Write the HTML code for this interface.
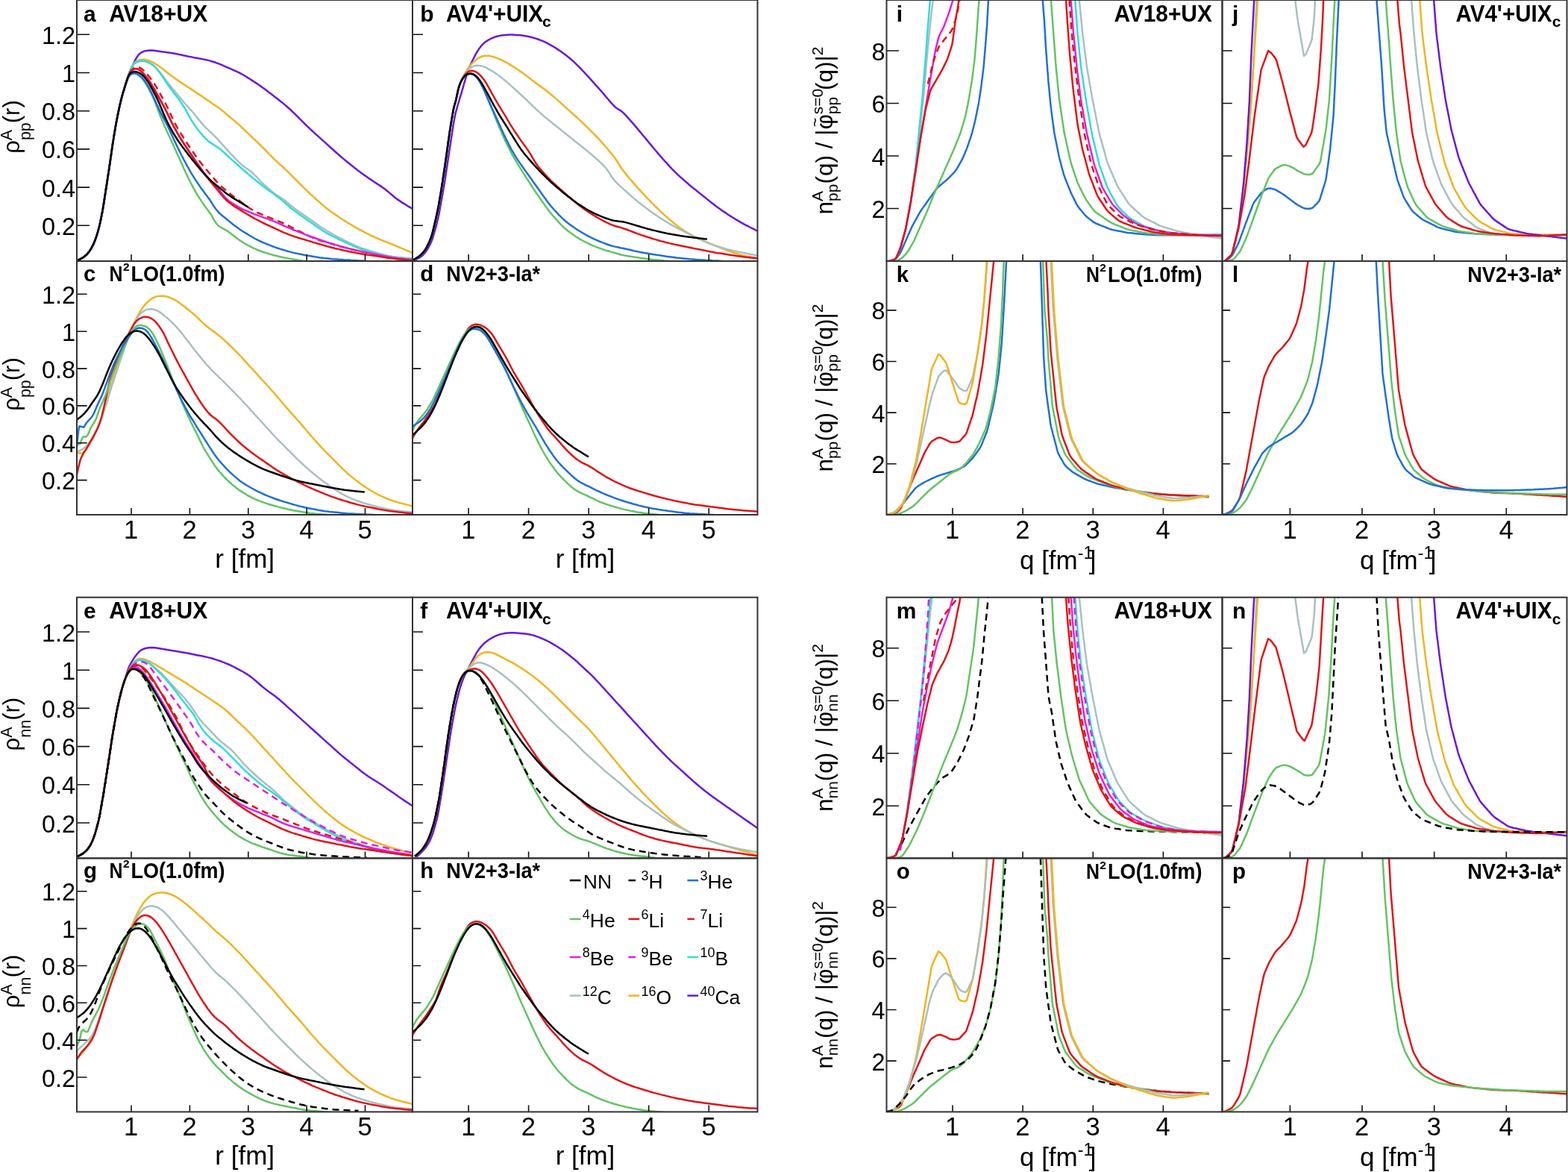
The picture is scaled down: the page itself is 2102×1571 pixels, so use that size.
<!DOCTYPE html>
<html><head><meta charset="utf-8"><style>
html,body{margin:0;padding:0;background:#fff;}
svg{display:block;}
</style></head><body>
<svg xmlns="http://www.w3.org/2000/svg" width="2102" height="1571" viewBox="0 0 2102 1571">
<rect width="2102" height="1571" fill="#fff"/>
<clipPath id="cpa"><rect x="103.0" y="0.0" width="450.0" height="350.0"/></clipPath>
<clipPath id="cpb"><rect x="553.0" y="0.0" width="462.5" height="350.0"/></clipPath>
<clipPath id="cpc"><rect x="103.0" y="350.0" width="450.0" height="340.0"/></clipPath>
<clipPath id="cpd"><rect x="553.0" y="350.0" width="462.5" height="340.0"/></clipPath>
<clipPath id="cpi"><rect x="1188.5" y="0.0" width="450.0" height="350.0"/></clipPath>
<clipPath id="cpj"><rect x="1638.5" y="0.0" width="462.0" height="350.0"/></clipPath>
<clipPath id="cpk"><rect x="1188.5" y="350.0" width="450.0" height="340.0"/></clipPath>
<clipPath id="cpl"><rect x="1638.5" y="350.0" width="462.0" height="340.0"/></clipPath>
<clipPath id="cpe"><rect x="103.0" y="800.7" width="450.0" height="349.70000000000005"/></clipPath>
<clipPath id="cpf"><rect x="553.0" y="800.7" width="462.5" height="349.70000000000005"/></clipPath>
<clipPath id="cpg"><rect x="103.0" y="1150.4" width="450.0" height="340.0"/></clipPath>
<clipPath id="cph"><rect x="553.0" y="1150.4" width="462.5" height="340.0"/></clipPath>
<clipPath id="cpm"><rect x="1188.5" y="800.7" width="450.0" height="349.70000000000005"/></clipPath>
<clipPath id="cpn"><rect x="1638.5" y="800.7" width="462.0" height="349.70000000000005"/></clipPath>
<clipPath id="cpo"><rect x="1188.5" y="1150.4" width="450.0" height="340.0"/></clipPath>
<clipPath id="cpp"><rect x="1638.5" y="1150.4" width="462.0" height="340.0"/></clipPath>
<g clip-path="url(#cpa)" fill="none" stroke-width="2.5" stroke-linejoin="round" stroke-linecap="butt">
<polyline points="101.1,350 105.3,348.3 109.3,346.4 113,344.1 116.3,341.2 119.2,337.8 121.6,334.1 123.8,330.2 125.7,326.1 127.5,322 128.5,319.1 129.4,316.3 130.3,313.4 131.2,310.6 132,307.7 132.8,304.8 133.5,301.8 134.2,298.9 134.8,296 135.4,293 136,290.1 136.6,287.1 137.1,284.2 137.7,281.2 138.2,278.3 138.7,275.3 139.1,272.3 139.6,269.3 140.1,266.4 140.5,263.4 141,260.4 141.4,257.5 141.9,254.5 142.4,251.5 142.8,248.5 143.3,245.6 143.7,242.6 144.2,239.6 144.6,236.7 145.1,233.7 145.6,230.7 146,227.7 146.5,224.8 146.9,221.8 147.3,218.8 147.8,215.8 148.2,212.9 148.6,209.9 149,206.9 149.5,203.9 149.9,201 150.3,198 150.8,195 151.2,192 151.7,189.1 152.2,186.1 152.7,183.1 153.1,180.2 153.6,177.2 154.1,174.2 154.6,171.3 155.2,168.3 155.7,165.3 156.2,162.4 156.8,159.4 157.4,156.5 158,153.5 158.6,150.6 159.2,147.6 159.8,144.7 160.4,141.8 161.1,138.8 161.8,135.9 162.6,133 163.3,130.1 164.1,127.2 164.9,124.3 165.8,121.4 166.7,118.6 167.7,115.7 168.6,112.9 169.6,110 170.6,107.2 171.6,104.3 172.6,101.5 173.6,98.7 174.7,95.9 175.8,93.1 176.9,90.3 178.1,87.5 179.3,84.8 181.2,80.7 183.4,76.8 185.9,73.3 189,70.6 192.7,68.8 196.9,67.9 201.3,67.6 205.8,67.7 210.2,68.2 214.7,68.9 219.1,69.6 223.6,70.2 228,70.7 232.5,71.4 236.9,72.2 239.8,72.9 242.8,73.5 245.7,74.2 248.6,74.8 251.6,75.5 254.5,76.1 257.5,76.6 260.4,77.2 263.4,77.7 266.3,78.3 269.3,78.8 272.2,79.4 275.2,80 278.1,80.6 281,81.4 283.9,82.2 288.2,83.5 292.4,85.1 295.2,86.2 298,87.4 300.7,88.6 303.5,89.8 306.2,91 309,92.2 311.7,93.4 314.5,94.6 317.2,95.9 319.9,97.2 322.6,98.5 325.2,100 327.8,101.5 330.4,103 332.9,104.6 335.5,106.2 338,107.9 340.5,109.5 343,111.1 345.5,112.8 348,114.5 350.4,116.2 352.9,118 355.3,119.8 357.7,121.6 360.1,123.4 362.5,125.2 364.9,127 367.2,128.9 369.6,130.7 372,132.6 374.3,134.4 376.7,136.3 379.1,138.1 381.4,140.1 383.7,142 385.9,144 388.2,146 390.4,148 392.5,150.1 394.7,152.2 396.9,154.3 399,156.4 401.1,158.5 403.2,160.7 405.4,162.8 407.5,164.9 409.6,167 411.8,169.1 414,171.2 416.1,173.3 418.4,175.3 420.6,177.3 422.8,179.4 425,181.4 427.3,183.4 429.5,185.4 431.7,187.4 434,189.4 436.2,191.4 438.4,193.4 440.7,195.5 442.9,197.5 445.2,199.5 447.4,201.5 449.6,203.5 451.9,205.5 454.1,207.5 456.4,209.5 458.7,211.4 461,213.4 463.3,215.3 465.6,217.2 468,219.1 470.3,220.9 472.7,222.8 475,224.7 477.4,226.5 479.8,228.4 482.2,230.2 484.6,231.9 487,233.7 489.5,235.4 492,237.2 494.4,238.9 496.9,240.6 499.4,242.3 501.9,244 504.4,245.6 506.9,247.2 509.4,248.9 513.1,251.4 516.7,254.1 520.2,256.9 522.5,258.9 524.8,260.8 527.1,262.8 529.4,264.7 533,267.4 536.7,269.9 539.2,271.6 541.8,273.1 544.3,274.7 546.9,276.3 549.5,277.8 552,279.4 554.6,281" stroke="#6a18dc"/>
<polyline points="101.1,350 105.3,348.3 109.3,346.4 113,344 116.3,341.2 119.2,337.8 121.7,334.1 123.8,330.2 125.8,326.1 126.9,323.3 128,320.5 129,317.7 129.9,314.8 130.8,312 131.6,309.1 132.4,306.2 133.1,303.2 133.8,300.3 134.5,297.4 135.1,294.4 135.7,291.5 136.3,288.5 136.9,285.6 137.4,282.6 137.9,279.7 138.4,276.7 138.9,273.7 139.4,270.7 139.9,267.8 140.3,264.8 140.8,261.8 141.2,258.8 141.7,255.9 142.1,252.9 142.6,249.9 143.1,246.9 143.5,244 144,241 144.4,238 144.9,235 145.3,232.1 145.8,229.1 146.3,226.1 146.7,223.1 147.1,220.2 147.6,217.2 148,214.2 148.4,211.2 148.9,208.3 149.3,205.3 149.7,202.3 150.1,199.3 150.6,196.3 151,193.4 151.5,190.4 152,187.4 152.4,184.4 152.9,181.5 153.4,178.5 153.9,175.5 154.4,172.6 154.9,169.6 155.4,166.6 156,163.7 156.5,160.7 157.1,157.8 157.7,154.8 158.3,151.9 158.9,148.9 159.5,146 160.2,143 160.8,140.1 161.5,137.2 162.2,134.2 163,131.3 163.8,128.4 164.6,125.5 165.4,122.6 166.3,119.8 167.2,116.9 168,114 168.9,111.1 169.7,108.2 170.6,105.4 171.5,102.5 172.4,99.6 173.4,96.8 175.1,92.6 177,88.6 179.4,85.1 182.5,82.2 186.2,80.4 190.3,79.7 194.6,80 198.9,81 203,82.6 207,84.7 210.8,87.1 214.5,89.7 216.9,91.5 219.3,93.3 221.6,95.2 224,97 226.4,98.9 228.8,100.7 231.2,102.5 233.6,104.3 236,106.1 238.5,107.8 241,109.6 243.4,111.2 246,112.9 248.5,114.5 251,116.2 253.6,117.8 256.1,119.4 258.6,121 261.1,122.7 263.6,124.4 266.1,126.1 268.6,127.8 271.1,129.5 273.5,131.2 276,132.9 278.5,134.6 281,136.3 283.5,138 286,139.7 288.5,141.4 290.9,143.1 293.4,144.8 295.8,146.6 298.2,148.4 300.5,150.3 302.8,152.3 305,154.3 307.3,156.2 309.6,158.2 311.9,160.1 314.2,162 316.5,164 318.8,165.9 321.1,167.9 323.3,170 325.5,172 327.7,174.1 329.8,176.2 332,178.3 334.2,180.4 336.3,182.4 338.5,184.5 340.7,186.5 342.9,188.6 345.1,190.7 347.3,192.8 349.4,194.9 351.5,197 353.7,199.1 355.8,201.3 357.9,203.4 360,205.6 362.1,207.7 364.2,209.9 366.3,212.1 368.4,214.2 370.6,216.2 372.8,218.2 375.1,220.2 377.3,222.2 379.6,224.2 381.8,226.3 384,228.3 386.1,230.4 388.3,232.6 390.4,234.7 392.5,236.8 394.6,238.9 396.8,241.1 398.9,243.2 401,245.3 403.2,247.5 405.3,249.6 407.4,251.7 409.6,253.8 411.7,255.9 413.9,258 416.1,260.1 418.3,262.1 420.5,264.1 422.7,266.2 425,268.2 427.2,270.2 429.4,272.2 431.7,274.2 434,276.1 436.3,278 438.7,279.9 441.1,281.7 443.5,283.4 446,285.2 448.5,286.9 450.9,288.6 453.4,290.3 455.9,292 458.4,293.7 460.9,295.3 463.5,296.9 466.1,298.5 468.6,300 471.2,301.6 473.8,303.1 476.4,304.6 479,306.1 481.6,307.6 484.3,309 487,310.4 489.6,311.8 492.3,313.1 495,314.4 497.7,315.8 500.4,317.1 503.2,318.3 505.9,319.5 508.7,320.7 511.5,321.8 514.3,323 517.1,324.1 519.9,325.2 522.6,326.3 525.4,327.5 528.2,328.6 531,329.8 533.8,330.9 536.6,332.1 539.3,333.2 542.1,334.4 544.9,335.6 547.7,336.7 550.4,337.9 553.2,339 554.6,339.6" stroke="#f0b41e"/>
<polyline points="101.1,350 105.3,348.3 109.3,346.4 113,344 116.3,341.2 119.2,337.8 121.6,334.1 123.8,330.2 125.7,326.1 127.5,321.9 128.5,319.1 129.5,316.3 130.4,313.4 131.2,310.5 132,307.6 132.8,304.7 133.5,301.8 134.2,298.9 134.8,295.9 135.4,293 136,290 136.6,287.1 137.1,284.1 137.7,281.2 138.2,278.2 138.7,275.2 139.2,272.3 139.6,269.3 140.1,266.3 140.5,263.3 141,260.4 141.5,257.4 141.9,254.4 142.4,251.5 142.8,248.5 143.3,245.5 143.7,242.5 144.2,239.6 144.7,236.6 145.1,233.6 145.6,230.6 146,227.7 146.5,224.7 146.9,221.7 147.3,218.7 147.8,215.8 148.2,212.8 148.6,209.8 149.1,206.8 149.5,203.8 149.9,200.9 150.3,197.9 150.8,194.9 151.2,191.9 151.7,189 152.2,186 152.7,183 153.2,180.1 153.7,177.1 154.2,174.1 154.7,171.2 155.2,168.2 155.7,165.2 156.2,162.3 156.8,159.3 157.4,156.4 158,153.4 158.6,150.5 159.2,147.5 159.8,144.6 160.5,141.6 161.2,138.7 161.9,135.8 162.6,132.9 163.3,130 164.1,127.1 165,124.2 165.8,121.3 166.7,118.4 167.6,115.5 168.4,112.7 169.2,109.8 170.1,106.9 171,104 171.9,101.2 172.9,98.3 174.5,94.1 176.3,90.1 178.7,86.6 181.9,83.9 185.6,82.2 189.8,81.6 194,82 198.2,83.3 202.2,85.3 205.8,87.8 209.1,90.8 212.1,94.1 215,97.5 216.8,99.9 218.6,102.3 220.4,104.7 222.2,107.2 224,109.6 225.8,112 227.7,114.3 229.6,116.7 231.5,119 233.4,121.3 235.3,123.6 237.2,125.9 239.2,128.2 241.1,130.5 243,132.9 245,135.2 246.9,137.5 248.8,139.7 250.8,142 252.8,144.2 254.8,146.5 256.8,148.7 258.8,151 260.7,153.3 262.6,155.6 264.5,158 266.4,160.3 268.3,162.6 270.2,164.9 272.2,167.2 274.2,169.4 276.3,171.6 278.5,173.7 280.6,175.8 282.9,177.8 285.1,179.8 287.2,181.9 289.4,184 291.4,186.2 293.4,188.4 295.4,190.7 297.4,193 299.4,195.2 301.4,197.4 303.4,199.7 305.5,201.9 307.5,204.1 309.6,206.3 311.7,208.4 313.7,210.6 315.8,212.8 317.9,215 321.1,218.2 324.3,221.2 327.5,223.8 330.8,225.9 334.1,228 337.2,230.5 340.3,233.5 343.4,236.7 345.4,238.9 347.5,241.1 349.6,243.3 351.7,245.4 353.9,247.5 356.1,249.5 358.3,251.5 360.6,253.5 362.8,255.5 366.3,258.3 370,260.9 373.8,263.3 377.6,265.7 381.2,268.3 384.7,271.1 387,273 389.3,274.9 391.7,276.8 394,278.7 396.4,280.5 398.9,282.2 401.3,284 403.8,285.7 406.3,287.4 408.7,289.2 411.2,290.9 413.7,292.6 416.1,294.3 418.6,296.1 421,297.8 423.5,299.5 426,301.2 428.4,303 430.9,304.7 433.4,306.3 436,308 438.5,309.5 441.1,311.1 443.7,312.5 446.3,314 449,315.5 451.6,316.9 454.3,318.3 456.9,319.7 459.6,321.1 462.3,322.5 465,323.8 467.7,325.1 470.4,326.4 473.1,327.7 475.8,329 478.6,330.2 481.4,331.3 484.2,332.4 487,333.4 489.9,334.3 492.7,335.2 495.6,336.1 498.5,337 501.3,337.9 504.2,338.7 507.1,339.5 510,340.3 513,341 515.9,341.8 518.8,342.4 521.7,343.1 526.2,343.9 530.6,344.5 533.6,344.8 536.6,345 539.6,345.2 542.6,345.5 545.6,345.7 548.6,345.9 551.6,346.2 554.6,346.4" stroke="#a8c0c0"/>
<polyline points="101.1,350 105.3,348.3 109.3,346.4 113,344.1 116.3,341.2 119.2,337.8 121.6,334.1 123.8,330.2 125.7,326.1 127.4,322 128.5,319.2 129.4,316.3 130.3,313.5 131.2,310.6 132,307.7 132.8,304.8 133.5,301.9 134.1,298.9 134.8,296 135.4,293 136,290.1 136.6,287.1 137.1,284.2 137.7,281.2 138.2,278.3 138.7,275.3 139.1,272.3 139.6,269.4 140.1,266.4 140.5,263.4 141,260.5 141.4,257.5 141.9,254.5 142.4,251.5 142.8,248.6 143.3,245.6 143.7,242.6 144.2,239.7 144.6,236.7 145.1,233.7 145.5,230.7 146,227.8 146.5,224.8 146.9,221.8 147.3,218.9 147.8,215.9 148.2,212.9 148.6,209.9 149,207 149.5,204 149.9,201 150.3,198 150.8,195.1 151.2,192.1 151.7,189.1 152.2,186.1 152.6,183.2 153.1,180.2 153.6,177.2 154.1,174.3 154.6,171.3 155.1,168.4 155.7,165.4 156.2,162.4 156.8,159.5 157.4,156.5 157.9,153.6 158.5,150.6 159.2,147.7 159.8,144.8 160.4,141.8 161.1,138.9 161.8,136 162.5,133.1 163.3,130.2 164.1,127.3 164.9,124.4 165.8,121.5 166.6,118.6 167.5,115.7 168.4,112.9 169.2,110 170,107.1 170.9,104.2 171.8,101.4 173.3,97.1 175,93 176.9,89.1 179.5,85.8 182.9,83.3 186.8,81.9 191,81.6 195.2,82.3 199.3,83.8 203.2,85.9 206.6,88.6 209.8,91.8 212.6,95.2 215.3,98.9 217,101.3 218.7,103.8 220.3,106.3 221.9,108.9 223.6,111.4 225.2,113.9 227,116.3 228.7,118.7 230.6,121.1 232.4,123.5 234.2,125.9 236,128.3 237.9,130.7 239.7,133.1 241.4,135.5 243.2,138 244.8,140.5 246.4,143 248,145.6 249.4,148.2 250.9,150.9 252.3,153.5 253.7,156.1 255.9,160 257.5,162.6 259.2,165.1 260.8,167.6 262.6,170.1 264.3,172.5 266.2,174.8 268.1,177.2 270,179.5 271.9,181.8 275,185.1 278.2,188.2 281.7,190.9 285.4,193.4 289.2,195.7 292.9,198.2 296.4,200.9 299.7,203.9 303,207 305.2,209 307.4,211.1 309.7,213.1 311.9,215.1 314.2,217 316.4,219 318.7,221 320.9,223 323.2,225 325.4,227 327.7,229 330,231 332.2,232.9 334.5,234.9 336.8,236.8 339.1,238.7 341.5,240.6 343.8,242.5 346.1,244.4 348.5,246.3 350.9,248.1 353.3,249.9 355.7,251.7 358.1,253.5 360.5,255.3 363,257.1 365.4,258.8 367.8,260.6 370.2,262.4 372.6,264.2 375,266 377.3,267.9 379.6,269.8 381.9,271.8 384.2,273.8 386.4,275.8 388.7,277.7 391,279.7 393.4,281.5 395.8,283.3 398.2,285.1 400.6,286.8 403.1,288.6 405.6,290.3 408,292 410.5,293.7 412.9,295.5 415.4,297.2 417.9,298.9 420.3,300.6 422.8,302.4 425.3,304.1 427.7,305.8 430.2,307.5 432.7,309.2 436.5,311.5 440.4,313.8 443.1,315.2 445.7,316.5 448.4,317.9 451.1,319.2 453.8,320.6 456.5,321.9 459.2,323.2 462,324.4 464.7,325.7 467.4,326.9 470.2,328.2 472.9,329.4 475.7,330.6 478.4,331.7 482.6,333.3 485.5,334.3 488.3,335.2 491.2,336.1 494.1,337 497,337.8 499.9,338.6 502.8,339.4 505.7,340.2 508.6,340.9 511.5,341.6 514.4,342.3 517.4,342.9 520.3,343.6 523.3,344.1 527.7,344.8 530.7,345.2 533.7,345.6 536.7,345.8 539.6,346.1 542.6,346.4 545.6,346.7 548.6,346.9 551.6,347.2 554.6,347.5" stroke="#30dcdc"/>
<polyline points="101.1,350 105.3,348.3 109.3,346.4 113,344 116.3,341.2 119.2,337.8 121.7,334.1 123.8,330.2 125.8,326.1 126.9,323.3 128,320.5 129,317.7 129.9,314.8 130.8,312 131.6,309.1 132.4,306.2 133.1,303.2 133.8,300.3 134.5,297.4 135.1,294.4 135.7,291.5 136.3,288.5 136.9,285.6 137.4,282.6 137.9,279.7 138.4,276.7 138.9,273.7 139.4,270.8 139.9,267.8 140.3,264.8 140.8,261.8 141.2,258.9 141.7,255.9 142.1,252.9 142.6,249.9 143.1,247 143.5,244 144,241 144.4,238 144.9,235.1 145.3,232.1 145.8,229.1 146.3,226.1 146.7,223.2 147.1,220.2 147.6,217.2 148,214.2 148.4,211.2 148.9,208.3 149.3,205.3 149.7,202.3 150.1,199.3 150.6,196.4 151,193.4 151.5,190.4 151.9,187.4 152.4,184.5 152.9,181.5 153.4,178.5 153.9,175.6 154.4,172.6 154.9,169.6 155.4,166.7 156,163.7 156.5,160.7 157.1,157.8 157.7,154.8 158.3,151.9 158.9,148.9 159.5,146 160.2,143.1 160.8,140.1 161.5,137.2 162.2,134.3 163,131.4 163.8,128.4 164.6,125.5 165.4,122.7 166.3,119.8 167.2,116.9 168.1,114.1 169,111.2 169.9,108.3 170.8,105.5 172.3,101.2 174.1,97.2 176.5,93.8 179.6,91.2 183.1,90 186.8,90.4 190.2,92.3 193.3,95.2 196.3,98.5 198.3,100.7 200.2,103.1 202,105.4 203.8,107.9 205.6,110.3 207.2,112.8 208.8,115.4 210.3,117.9 211.8,120.6 213.3,123.2 214.8,125.8 216.2,128.4 217.7,131.1 219.1,133.7 220.6,136.4 222,139 223.3,141.7 224.6,144.4 226,147.1 227.2,149.8 228.5,152.6 229.8,155.3 231,158 232.3,160.8 233.6,163.5 235,166.1 236.4,168.8 237.9,171.4 239.5,174 241,176.5 242.6,179.1 244.2,181.6 245.8,184.2 247.4,186.7 249,189.3 250.7,191.8 252.3,194.3 254,196.8 255.7,199.3 257.4,201.8 259.1,204.3 260.8,206.7 262.5,209.2 264.3,211.6 266.1,214 267.9,216.4 269.7,218.8 271.6,221.2 273.5,223.5 275.4,225.9 277.3,228.2 279.3,230.4 281.3,232.7 283.2,235 285.1,237.3 287.1,239.6 289,241.9 291,244.1 293.1,246.3 295.2,248.4 297.4,250.5 299.7,252.5 302,254.4 304.3,256.3 306.6,258.2 308.9,260.1 311.3,262 313.7,263.8 316.1,265.6 318.6,267.3 321,269.1 323.4,271 325.8,272.8 328.2,274.6 330.6,276.3 333.1,278 335.6,279.7 339.4,282 343.4,284.2 347.5,286 350.2,287.2 353,288.3 355.8,289.5 358.6,290.6 361.4,291.7 364.2,292.8 367,293.9 369.8,295 372.6,296.1 375.4,297.3 378.1,298.5 380.8,299.8 383.5,301.1 386.3,302.4 389,303.8 391.6,305.1 394.3,306.4 397,307.8 399.7,309.1 402.4,310.5 405.1,311.8 407.8,313.2 410.5,314.5 413.2,315.9 415.9,317.2 418.6,318.4 422.8,320.2 427,321.7 429.8,322.6 432.7,323.5 435.6,324.3 438.5,325.1 441.4,325.9 444.3,326.8 447.2,327.7 450,328.5 452.9,329.4 455.8,330.3 458.7,331.1 461.6,331.9 464.5,332.6 467.4,333.3 470.4,334 473.3,334.7 476.2,335.4 479.2,336 482.1,336.7 485,337.4 488,338.1 490.9,338.9 493.8,339.6 496.7,340.3 499.6,341 502.6,341.7 505.5,342.3 508.5,343 511.4,343.6 514.3,344.2 517.3,344.7 520.3,345.3 523.2,345.8 526.2,346.3 529.2,346.7 532.2,347 535.1,347.3 538.1,347.6 541.1,347.9 544.1,348.2 547.1,348.5 550.1,348.8 553.1,349.1 554.6,349.3" stroke="#e01418" stroke-dasharray="9,6"/>
<polyline points="101.1,350 105.3,348.3 109.3,346.4 113,344 116.3,341.2 119.2,337.8 121.7,334.1 123.8,330.2 125.8,326.1 126.9,323.3 128,320.5 129,317.7 129.9,314.8 130.8,311.9 131.6,309.1 132.4,306.2 133.1,303.2 133.8,300.3 134.5,297.4 135.1,294.4 135.7,291.5 136.3,288.5 136.9,285.6 137.4,282.6 137.9,279.6 138.4,276.7 138.9,273.7 139.4,270.7 139.9,267.8 140.3,264.8 140.8,261.8 141.2,258.8 141.7,255.9 142.1,252.9 142.6,249.9 143.1,246.9 143.5,244 144,241 144.4,238 144.9,235 145.3,232.1 145.8,229.1 146.3,226.1 146.7,223.1 147.1,220.2 147.6,217.2 148,214.2 148.4,211.2 148.9,208.2 149.3,205.3 149.7,202.3 150.1,199.3 150.6,196.3 151,193.3 151.5,190.4 152,187.4 152.4,184.4 152.9,181.5 153.4,178.5 153.9,175.5 154.4,172.6 154.9,169.6 155.4,166.6 156,163.7 156.5,160.7 157.1,157.8 157.7,154.8 158.3,151.8 158.9,148.9 159.5,146 160.2,143 160.8,140.1 161.5,137.2 162.3,134.2 163,131.3 163.8,128.4 164.6,125.5 165.4,122.6 166.3,119.8 167.2,116.9 168.1,114 169.1,111.1 170,108.3 170.9,105.4 172.4,101.2 174.2,97.3 176.7,94.1 179.9,92.2 183.5,91.9 186.9,93.3 190.1,96 193.1,99.2 196,102.7 197.8,105 199.5,107.5 201.2,110 202.8,112.5 204.4,115.1 205.9,117.7 207.5,120.2 209,122.9 210.5,125.5 211.9,128.1 213.4,130.7 214.8,133.4 216.3,136 217.7,138.7 219.1,141.3 220.5,144 221.8,146.7 223.2,149.4 224.5,152.1 225.7,154.8 227,157.5 228.3,160.3 229.6,163 231,165.6 232.4,168.3 233.8,170.9 235.3,173.6 236.8,176.2 238.3,178.8 239.8,181.4 241.3,184 242.9,186.5 244.6,189.1 246.2,191.6 247.9,194.1 249.5,196.6 251.2,199.1 252.9,201.6 254.5,204.1 256.2,206.6 257.9,209.1 259.6,211.6 261.2,214.1 262.9,216.6 264.6,219.1 266.4,221.6 268.1,224 269.9,226.5 271.6,228.9 273.4,231.3 275.2,233.7 277.1,236.1 279,238.4 281,240.7 283,242.9 285,245.1 287.1,247.3 289.2,249.4 292.2,252.7 295.1,256.2 297.8,259.8 300.6,263.3 303.7,266.5 307,269.4 310.7,272 313.2,273.6 315.8,275.2 318.4,276.7 321,278.2 323.7,279.6 326.4,280.9 329.1,282.1 331.9,283.3 334.6,284.4 337.4,285.6 340.2,286.7 343,287.8 345.8,288.9 348.7,289.9 351.5,290.9 354.3,291.9 357.2,292.9 360,293.9 362.8,295 365.6,296.1 368.4,297.2 371.2,298.4 373.9,299.6 376.6,300.9 379.4,302.2 382.1,303.4 384.9,304.6 387.6,305.7 390.4,306.9 393.2,308 396,309.1 398.8,310.2 401.6,311.3 404.4,312.4 407.2,313.6 410,314.7 412.8,315.7 415.6,316.8 418.5,317.8 421.3,318.8 424.1,319.8 427,320.8 429.8,321.8 432.7,322.8 435.5,323.7 438.4,324.7 441.3,325.6 444.1,326.4 447,327.3 449.9,328.2 452.8,329 455.7,329.9 458.6,330.7 461.5,331.5 464.4,332.2 467.3,333 470.2,333.7 473.2,334.4 476.1,335.1 479,335.8 481.9,336.5 484.9,337.1 487.8,337.7 490.8,338.3 493.7,338.9 496.7,339.5 499.6,340.1 502.6,340.7 505.5,341.3 508.5,341.9 511.4,342.5 514.4,343.1 517.3,343.6 520.3,344.2 523.3,344.7 526.2,345.2 529.2,345.6 532.2,346 535.2,346.4 538.2,346.7 541.2,347.1 544.1,347.4 547.1,347.7 550.1,348.1 553.1,348.4 554.6,348.6" stroke="#e11fe0"/>
<polyline points="101.1,350 105.3,348.3 109.3,346.4 113,344 116.3,341.2 119.2,337.8 121.7,334.1 123.8,330.1 125.8,326.1 126.9,323.3 128,320.5 129,317.7 129.9,314.8 130.8,311.9 131.6,309 132.4,306.1 133.2,303.2 133.8,300.3 134.5,297.3 135.1,294.4 135.7,291.4 136.3,288.5 136.9,285.5 137.4,282.6 137.9,279.6 138.5,276.6 138.9,273.7 139.4,270.7 139.9,267.7 140.3,264.7 140.8,261.8 141.2,258.8 141.7,255.8 142.2,252.8 142.6,249.9 143.1,246.9 143.5,243.9 144,240.9 144.4,237.9 144.9,235 145.4,232 145.8,229 146.3,226 146.7,223.1 147.1,220.1 147.6,217.1 148,214.1 148.4,211.1 148.9,208.2 149.3,205.2 149.7,202.2 150.2,199.2 150.6,196.2 151,193.3 151.5,190.3 152,187.3 152.5,184.3 152.9,181.4 153.4,178.4 153.9,175.4 154.4,172.5 154.9,169.5 155.5,166.5 156,163.6 156.6,160.6 157.1,157.6 157.7,154.7 158.3,151.7 158.9,148.8 159.5,145.8 160.2,142.9 160.9,140 161.6,137 162.3,134.1 163,131.2 163.8,128.3 164.6,125.4 165.5,122.5 166.3,119.6 167.3,116.8 168.2,113.9 169.1,111 170,108.2 170.9,105.3 172.4,101.1 174.3,97.2 176.8,94.1 180.1,92.3 183.6,92.2 187,93.8 190.1,96.5 193.1,99.9 195.9,103.4 197.7,105.8 199.4,108.2 201.1,110.7 202.7,113.3 204.3,115.8 205.8,118.4 207.4,121 208.9,123.6 210.4,126.2 211.8,128.8 213.3,131.5 214.8,134.1 216.2,136.7 217.7,139.4 219.1,142 220.6,144.7 222,147.3 223.3,150 224.7,152.7 226,155.4 227.3,158.1 228.6,160.8 229.9,163.6 231.2,166.2 232.6,168.9 234,171.6 235.4,174.2 236.9,176.9 238.3,179.5 239.8,182.1 241.3,184.7 242.9,187.3 244.5,189.8 246.2,192.4 247.8,194.9 249.5,197.4 251.2,199.9 252.8,202.4 254.5,204.9 256.2,207.4 257.8,209.9 259.5,212.4 261.2,214.9 262.9,217.4 264.6,219.9 266.3,222.4 268,224.8 269.8,227.3 271.6,229.7 273.3,232.1 275.1,234.6 277,236.9 278.9,239.3 280.8,241.6 282.7,243.9 284.6,246.3 286.5,248.6 288.5,250.9 290.4,253.2 292.3,255.5 294.2,257.8 296.1,260.2 298,262.5 301,265.8 304.2,269 307.7,271.8 310.1,273.6 312.5,275.4 315,277.1 317.6,278.7 320.1,280.3 322.7,281.9 325.2,283.4 327.8,285 330.4,286.5 333,288.1 335.6,289.6 338.2,291.1 340.8,292.6 343.4,294 346.1,295.4 348.8,296.8 351.5,298.2 354.2,299.5 356.9,300.8 359.6,302 362.4,303.3 365.1,304.5 367.9,305.8 370.6,307.1 373.3,308.4 376,309.6 378.7,310.9 381.5,312.1 384.3,313.2 387.1,314.4 389.9,315.4 392.7,316.4 395.6,317.4 398.4,318.3 401.3,319.2 404.2,320 407.1,320.9 410,321.8 412.9,322.6 415.7,323.5 418.6,324.4 421.5,325.2 424.4,326.1 427.3,327 430.2,327.8 433.1,328.6 436,329.5 438.9,330.3 441.8,331 444.7,331.8 447.6,332.5 450.5,333.2 453.5,333.9 456.4,334.6 459.3,335.3 462.3,335.9 465.2,336.6 468.2,337.2 471.1,337.7 474.1,338.3 477,338.9 480,339.4 483,339.9 485.9,340.4 488.9,340.9 491.9,341.4 494.9,341.8 497.8,342.3 500.8,342.7 503.8,343.1 506.8,343.6 509.8,344 512.7,344.5 515.7,344.9 518.7,345.4 521.7,345.8 524.7,346.2 527.6,346.5 530.6,346.9 533.6,347.2 536.6,347.5 539.6,347.8 542.6,348.1 545.6,348.4 548.6,348.7 551.6,349 554.6,349.3" stroke="#e01418"/>
<polyline points="101.1,350 105.3,348.3 109.3,346.4 113,344 116.3,341.2 119.2,337.8 121.6,334.1 123.8,330.2 125.8,326.1 126.9,323.3 128,320.5 129,317.7 129.9,314.8 130.8,312 131.6,309.1 132.4,306.2 133.1,303.2 133.8,300.3 134.5,297.4 135.1,294.4 135.7,291.5 136.3,288.5 136.9,285.6 137.4,282.6 137.9,279.7 138.4,276.7 138.9,273.7 139.4,270.8 139.9,267.8 140.3,264.8 140.8,261.8 141.2,258.9 141.7,255.9 142.1,252.9 142.6,249.9 143.1,247 143.5,244 144,241 144.4,238 144.9,235.1 145.3,232.1 145.8,229.1 146.2,226.1 146.7,223.2 147.1,220.2 147.6,217.2 148,214.2 148.4,211.3 148.9,208.3 149.3,205.3 149.7,202.3 150.1,199.3 150.6,196.4 151,193.4 151.5,190.4 151.9,187.4 152.4,184.5 152.9,181.5 153.4,178.5 153.9,175.6 154.4,172.6 154.9,169.6 155.4,166.7 156,163.7 156.5,160.7 157.1,157.8 157.7,154.8 158.3,151.9 158.9,148.9 159.5,146 160.2,143.1 160.8,140.1 161.5,137.2 162.2,134.3 163,131.4 163.8,128.5 164.6,125.6 165.4,122.7 166.3,119.8 167.2,116.9 168.1,114.1 169.1,111.2 170.6,107 172.3,103 174.6,99.8 177.5,98.1 181,98.1 184.5,99.7 187.9,102.4 190.8,105.6 193.5,109.2 195.9,113 197.5,115.6 198.9,118.2 200.4,120.9 201.7,123.5 203.1,126.2 204.4,128.9 205.6,131.7 206.8,134.4 208,137.2 209.1,140 210.1,142.8 211.1,145.6 212.2,148.5 213.3,151.3 214.3,154.1 215.5,156.9 216.6,159.6 217.8,162.4 219,165.2 220.2,167.9 221.4,170.7 222.7,173.4 223.9,176.2 225.2,178.9 226.4,181.6 227.7,184.4 228.9,187.1 230.2,189.9 231.4,192.6 232.6,195.3 233.9,198.1 235.1,200.8 236.4,203.5 237.6,206.3 238.9,209 240.1,211.8 241.4,214.5 242.6,217.2 243.9,220 245.1,222.7 246.3,225.5 247.6,228.2 248.8,230.9 250.1,233.7 251.4,236.4 252.7,239.1 254.1,241.8 255.4,244.5 256.8,247.1 258.2,249.8 259.6,252.5 261.1,255.1 262.5,257.7 264,260.3 265.6,262.9 267.2,265.4 268.9,267.9 270.5,270.4 272.2,272.9 274,275.4 275.7,277.8 277.6,280.2 280.2,283.8 282.8,287.5 285.1,291.4 287.2,295.3 289.6,299 292.3,302.3 295.7,304.7 299.4,306.7 303.2,308.7 306.9,311.1 310.4,313.8 314,316.6 316.4,318.4 318.8,320.2 321.2,321.9 323.7,323.6 326.3,325.2 328.8,326.8 331.4,328.3 334.1,329.7 336.7,331.1 339.4,332.4 342.2,333.7 344.9,334.8 347.7,336 350.5,337 353.4,338 356.3,338.9 359.1,339.8 362,340.6 364.9,341.5 367.8,342.3 370.7,343 373.6,343.8 376.6,344.4 379.5,345 382.4,345.6 385.4,346.2 388.4,346.8 391.3,347.3 394.3,347.8 397.3,348.3 400.2,348.8 403.2,349.2 406.2,349.7 409.1,350.1 412.1,350.6 413.6,350.8" stroke="#62c462"/>
<polyline points="101.1,350 105.3,348.3 109.3,346.4 113,344.1 116.3,341.2 119.2,337.8 121.6,334.1 123.8,330.2 125.7,326.1 127.4,322 128.5,319.2 129.4,316.3 130.3,313.4 131.2,310.6 132,307.7 132.8,304.8 133.5,301.8 134.2,298.9 134.8,296 135.4,293 136,290.1 136.6,287.1 137.1,284.2 137.7,281.2 138.2,278.3 138.7,275.3 139.1,272.3 139.6,269.4 140.1,266.4 140.5,263.4 141,260.4 141.4,257.5 141.9,254.5 142.4,251.5 142.8,248.6 143.3,245.6 143.7,242.6 144.2,239.6 144.6,236.7 145.1,233.7 145.6,230.7 146,227.8 146.5,224.8 146.9,221.8 147.3,218.8 147.8,215.9 148.2,212.9 148.6,209.9 149,206.9 149.5,204 149.9,201 150.3,198 150.8,195 151.2,192.1 151.7,189.1 152.2,186.1 152.6,183.2 153.1,180.2 153.6,177.2 154.1,174.3 154.6,171.3 155.1,168.3 155.7,165.4 156.2,162.4 156.8,159.5 157.4,156.5 158,153.6 158.5,150.6 159.2,147.7 159.8,144.7 160.4,141.8 161.1,138.9 161.8,135.9 162.6,133 163.3,130.1 164.1,127.2 164.9,124.3 165.8,121.5 166.7,118.6 167.6,115.7 168.5,112.9 170,108.6 171.6,104.6 173.7,101.1 176.5,98.9 180,98.4 183.8,99.4 187.4,101.5 190.6,104.4 193.4,107.8 195.9,111.5 198.3,115.3 200.5,119.2 201.8,121.9 203.2,124.6 204.5,127.3 205.8,130 207.1,132.7 208.3,135.5 209.5,138.2 210.7,141 212,143.7 213.2,146.4 214.5,149.1 215.8,151.8 217.2,154.5 218.6,157.2 220,159.8 221.4,162.5 222.8,165.1 224.2,167.8 225.5,170.5 226.8,173.2 228,176 229.3,178.7 230.5,181.4 231.8,184.2 233,186.9 234.3,189.6 235.6,192.3 236.9,195.1 238.2,197.7 239.5,200.4 240.9,203.1 242.2,205.8 243.6,208.5 245,211.2 246.3,213.8 247.8,216.5 249.2,219.1 250.6,221.8 252.1,224.4 253.6,227 255,229.7 256.5,232.3 258.1,234.8 259.7,237.4 261.3,239.9 262.9,242.4 264.6,244.9 266.3,247.4 268,249.9 269.7,252.3 271.5,254.8 273.3,257.2 275.1,259.6 276.9,262 278.7,264.4 280.5,266.8 282.2,269.3 284.6,273.1 287,276.9 289.6,280.5 292.5,284 295.6,287.1 299.1,290 302.6,292.8 304.9,294.7 307.2,296.6 309.6,298.5 311.9,300.4 314.3,302.2 316.7,304 319.1,305.8 321.6,307.5 324.1,309.2 326.6,310.8 329.1,312.4 331.7,313.9 334.3,315.5 336.9,317 339.5,318.5 342.1,320 344.8,321.4 347.5,322.7 350.2,324 352.9,325.2 355.7,326.4 358.5,327.5 361.3,328.6 364.1,329.7 366.9,330.7 369.7,331.8 372.6,332.7 375.4,333.6 378.3,334.5 381.2,335.4 384,336.3 386.9,337.1 389.8,337.9 392.7,338.6 395.7,339.3 398.6,339.9 401.5,340.5 404.5,341.1 407.4,341.7 410.4,342.3 413.4,342.8 416.3,343.3 419.3,343.8 422.3,344.3 425.2,344.7 428.2,345.2 431.2,345.6 434.2,346 437.1,346.3 440.1,346.6 443.1,346.9 446.1,347.2 449.1,347.4 452.1,347.6 455.1,347.9 458.1,348.1 461.1,348.3 464.1,348.4 467.1,348.6 470.1,348.8 473.1,348.9 476.1,349.1 479.1,349.2 482.1,349.4 485.1,349.6 488.1,349.8 491.1,350 494.1,350.2 497.1,350.4 500.1,350.6 503.1,350.9" stroke="#1f6fd8"/>
<polyline points="101.1,350 105.3,348.3 109.3,346.4 113,344 116.3,341.1 119.2,337.8 121.7,334 123.8,330.1 125.2,327.4 126.4,324.7 127.5,321.9 128.5,319 129.5,316.2 130.4,313.3 131.2,310.4 132,307.5 132.8,304.6 133.5,301.7 134.2,298.8 134.8,295.8 135.4,292.9 136,289.9 136.6,286.9 137.2,284 137.7,281 138.2,278 138.7,275.1 139.2,272.1 139.6,269.1 140.1,266.1 140.6,263.2 141,260.2 141.5,257.2 141.9,254.2 142.4,251.2 142.9,248.3 143.3,245.3 143.8,242.3 144.2,239.3 144.7,236.3 145.1,233.4 145.6,230.4 146.1,227.4 146.5,224.4 146.9,221.4 147.4,218.5 147.8,215.5 148.2,212.5 148.7,209.5 149.1,206.5 149.5,203.5 150,200.6 150.4,197.6 150.8,194.6 151.3,191.6 151.8,188.6 152.2,185.7 152.7,182.7 153.2,179.7 153.7,176.7 154.2,173.8 154.7,170.8 155.2,167.8 155.8,164.9 156.3,161.9 156.9,158.9 157.5,156 158.1,153 158.7,150.1 159.3,147.1 159.9,144.2 160.6,141.2 161.3,138.3 162,135.4 162.7,132.5 163.5,129.5 164.3,126.6 165.1,123.7 166,120.8 166.8,118 167.7,115.1 168.6,112.2 169.5,109.3 170.9,105.1 172.6,101.2 174.9,98 178.1,96.3 181.9,96.1 185.8,97.2 189.4,99.4 192.6,102.3 195.5,105.7 198.1,109.4 199.7,111.9 201.2,114.5 202.7,117.1 204.2,119.7 205.6,122.4 207,125.1 208.4,127.7 209.8,130.4 211.1,133.1 212.3,135.9 213.6,138.6 214.7,141.4 215.9,144.2 217,147 218.2,149.8 219.3,152.5 220.5,155.3 221.7,158.1 223,160.8 224.3,163.5 225.6,166.2 227,168.9 228.5,171.5 229.9,174.2 231.4,176.8 232.9,179.4 234.5,182 236.1,184.5 237.7,187 239.4,189.5 241.2,192 242.9,194.4 244.7,196.9 246.5,199.3 248.3,201.7 250.1,204.1 251.9,206.5 253.8,208.9 255.6,211.3 257.5,213.7 259.4,216 261.3,218.3 263.2,220.7 265.1,223 267.1,225.3 269,227.6 271,229.8 273,232.1 275.1,234.3 277.1,236.5 279.2,238.7 281.4,240.8 283.6,242.8 285.8,244.8 288.1,246.7 290.4,248.7 292.8,250.6 295.1,252.5 297.4,254.4 299.8,256.3 302.1,258.2 304.5,260 307,261.7 309.5,263.4 312,265.1 314.5,266.7 317.1,268.2 319.7,269.8 322.3,271.3 324.9,272.9 327.4,274.4 330,276 332.6,277.5" stroke="#000000"/>
</g>
<g clip-path="url(#cpb)" fill="none" stroke-width="2.5" stroke-linejoin="round" stroke-linecap="butt">
<polyline points="553,349.5 557.2,348 561.2,346.2 564.8,343.8 568,340.8 570.8,337.4 573.3,333.6 575.5,329.7 577.5,325.7 579.2,321.5 580.6,317.3 581.4,314.4 582.3,311.5 583.1,308.6 583.9,305.7 584.7,302.8 585.5,299.9 586.2,297 586.9,294 587.6,291.1 588.2,288.2 588.8,285.2 589.3,282.2 589.8,279.3 590.4,276.3 590.9,273.4 591.4,270.4 592,267.4 592.5,264.5 593,261.5 593.6,258.5 594.1,255.6 594.6,252.6 595.1,249.7 595.6,246.7 596.1,243.7 596.6,240.7 597,237.8 597.5,234.8 597.9,231.8 598.4,228.8 598.8,225.9 599.3,222.9 599.7,219.9 600.2,216.9 600.6,214 601.1,211 601.5,208 602,205 602.4,202.1 602.9,199.1 603.3,196.1 603.8,193.1 604.2,190.1 604.6,187.2 605.1,184.2 605.6,181.2 606,178.2 606.5,175.3 607,172.3 607.4,169.3 607.9,166.4 608.4,163.4 609,160.4 609.5,157.5 610.1,154.5 610.7,151.6 611.5,148.7 612.3,145.8 613.1,142.9 614,140 614.8,137.1 615.7,134.2 616.5,131.3 617.4,128.5 618.3,125.6 619.1,122.7 619.9,119.8 620.8,116.9 621.6,114 622.4,111.1 623.3,108.2 624.1,105.4 625,102.5 625.9,99.6 626.9,96.8 627.9,93.9 628.9,91.1 630.1,88.3 631.3,85.6 632.6,82.9 633.9,80.2 635.2,77.5 636.6,74.8 638,72.2 639.5,69.6 641.9,65.8 644.6,62.2 647.6,58.9 651,56 654.7,53.6 658.7,51.5 662.8,49.8 667.1,48.5 671.4,47.6 675.9,47 680.4,46.7 683.4,46.6 686.4,46.6 689.4,46.7 692.4,46.9 695.4,47.1 698.4,47.3 701.4,47.7 705.8,48.4 708.7,49 711.6,49.7 714.5,50.5 717.4,51.4 720.3,52.3 723.1,53.3 725.9,54.4 730.1,56.1 732.8,57.4 735.4,58.8 738.1,60.3 740.7,61.8 743.2,63.3 745.8,64.9 748.3,66.6 750.8,68.2 753.3,69.9 755.7,71.7 758.1,73.5 760.5,75.4 762.8,77.3 765.1,79.2 767.4,81.2 769.6,83.2 771.8,85.3 773.9,87.4 776.1,89.5 778.2,91.7 780.2,93.8 782.3,96 784.3,98.2 786.4,100.5 788.4,102.7 790.4,104.9 792.5,107.1 794.5,109.4 796.5,111.6 798.5,113.8 800.6,116.1 802.6,118.3 804.6,120.6 806.5,122.8 808.5,125.1 810.4,127.4 812.4,129.7 814.3,132 816.3,134.3 818.2,136.6 821.2,139.9 824.1,142.9 826.9,145.2 829.5,146.8 832.1,148.3 834.9,150.6 837.9,153.6 840.9,156.9 842.9,159.1 844.9,161.3 846.9,163.6 848.9,165.9 850.8,168.1 852.8,170.4 854.7,172.7 856.7,175.1 858.6,177.4 860.5,179.7 862.4,182 864.4,184.3 866.3,186.6 868.2,188.9 870.1,191.2 872.1,193.6 874,195.9 875.9,198.2 877.8,200.5 879.8,202.8 881.7,205.1 883.7,207.4 885.6,209.7 887.6,211.9 889.6,214.2 891.6,216.4 893.7,218.6 895.7,220.9 897.7,223.1 899.8,225.3 901.8,227.5 904,229.6 906.1,231.7 908.3,233.8 910.5,235.8 912.7,237.8 915,239.8 917.2,241.8 919.5,243.8 921.8,245.8 924.1,247.7 926.4,249.7 928.7,251.6 931.1,253.4 933.4,255.3 935.8,257.2 938.1,259.1 940.5,261 942.8,262.9 945.2,264.7 947.5,266.6 949.9,268.5 952.2,270.4 954.6,272.2 957,274.1 959.3,275.9 961.8,277.7 964.2,279.4 966.7,281.2 969.1,282.9 971.6,284.6 974.1,286.3 976.6,288 979.1,289.6 981.7,291.2 984.2,292.8 986.8,294.4 989.4,295.9 992,297.4 994.6,298.9 997.2,300.4 999.9,301.8 1002.6,303.2 1005.2,304.5 1007.9,305.9 1010.6,307.2 1013.3,308.6 1016,309.9" stroke="#6a18dc"/>
<polyline points="553,349 556.9,346.8 560.7,344.4 564.1,341.6 567.2,338.5 569.9,335 572.2,331.1 574.2,327.1 576,323 577.7,318.8 579.1,314.6 580.3,310.2 581,307.3 581.7,304.4 582.4,301.5 583,298.5 583.7,295.6 584.4,292.7 585,289.7 585.7,286.8 586.3,283.9 586.9,280.9 587.5,278 588.1,275 588.6,272.1 589.1,269.1 589.6,266.1 590.1,263.2 590.6,260.2 591.1,257.2 591.6,254.3 592,251.3 592.5,248.3 593,245.4 593.4,242.4 593.9,239.4 594.3,236.5 594.8,233.5 595.2,230.5 595.7,227.5 596.1,224.6 596.6,221.6 597,218.6 597.4,215.6 597.9,212.7 598.3,209.7 598.7,206.7 599.1,203.7 599.5,200.8 599.9,197.8 600.3,194.8 600.7,191.8 601.1,188.8 601.5,185.9 602,182.9 602.4,179.9 602.8,176.9 603.3,174 603.7,171 604.2,168 604.7,165.1 605.2,162.1 605.7,159.1 606.2,156.2 606.9,151.7 607.7,147.5 608.5,143.7 609.3,140.7 610.4,137.3 611.3,134.1 612.1,130.1 613,125.8 613.9,121.4 615.1,117.1 616.5,112.8 618.1,108.6 620,104.5 621.4,101.9 622.8,99.2 624.3,96.6 626.7,92.8 629.3,89.2 632.2,85.7 635.3,82.6 638.7,79.7 642.4,77.3 646.3,75.5 650.5,74.7 654.7,74.8 659,75.6 663.3,76.8 667.6,78.4 671.7,80.1 675.7,82.2 678.3,83.6 681,85 683.5,86.6 686.1,88.1 688.7,89.7 691.2,91.3 693.7,93 696.2,94.7 698.7,96.4 701.1,98.1 703.5,99.9 705.9,101.7 708.3,103.6 710.7,105.4 713,107.3 715.4,109.1 717.8,110.9 720.2,112.7 722.7,114.4 725.1,116.2 727.5,118 730,119.8 732.3,121.6 734.7,123.4 737,125.3 739.4,127.2 741.7,129.2 744,131.1 746.2,133.1 748.5,135.1 750.7,137.1 752.9,139.1 755.2,141.1 757.4,143.1 759.6,145.1 761.9,147.1 764.1,149.2 766.4,151.2 768.6,153.2 770.8,155.2 773.1,157.2 775.3,159.2 777.5,161.3 779.7,163.3 781.9,165.4 784,167.5 786.1,169.6 788.3,171.7 790.4,173.9 792.5,176 794.7,178.1 796.8,180.2 798.9,182.4 801,184.5 803.1,186.7 805.1,188.9 807.1,191.1 809.1,193.4 811.1,195.7 813,198 814.9,200.3 816.9,202.6 818.8,204.9 820.7,207.2 823.5,210.7 826.1,214.3 828.5,218 830.7,221.8 833,225.5 835.7,229.1 838.5,232.6 840.4,234.9 842.3,237.2 844.2,239.5 846.2,241.8 848.2,244.1 850.1,246.4 852.1,248.6 854.1,250.8 856.2,253.1 858.2,255.3 860.2,257.5 862.2,259.7 864.3,261.9 866.3,264.1 868.4,266.3 870.5,268.5 872.6,270.6 874.7,272.7 876.9,274.8 879,277 881.1,279.1 883.3,281.2 885.4,283.3 887.6,285.3 889.9,287.4 892.1,289.4 894.3,291.4 896.5,293.4 898.8,295.4 901.1,297.3 903.4,299.3 905.8,301.1 908.2,302.9 910.6,304.7 913,306.4 915.5,308.1 918,309.8 920.5,311.4 924.4,313.7 927,315.2 929.7,316.6 932.4,317.9 935.1,319.2 937.8,320.5 940.5,321.8 943.2,323 946,324.2 948.8,325.3 951.6,326.5 954.4,327.6 957.2,328.7 959.9,329.8 962.7,330.9 965.5,332 968.3,333.2 971.1,334.2 973.9,335.3 976.7,336.4 979.6,337.3 982.4,338.3 985.3,339.2 988.2,340 991.1,340.9 994,341.7 996.9,342.4 999.8,343.1 1002.7,343.7 1005.7,344.3 1008.6,344.9 1011.6,345.5 1014.5,346.1 1016,346.4" stroke="#f0b41e"/>
<polyline points="553,349 556.9,346.8 560.7,344.4 564.1,341.6 567.3,338.5 569.9,334.9 572.2,331.1 574.2,327.1 575.5,324.3 576.6,321.6 578.2,317.4 579.5,313.1 580.3,310.2 581,307.2 581.7,304.3 582.4,301.4 583,298.4 583.7,295.5 584.4,292.6 585,289.6 585.7,286.7 586.3,283.8 586.9,280.8 587.5,277.9 588.1,274.9 588.6,271.9 589.1,269 589.6,266 590.1,263 590.6,260 591.1,257.1 591.6,254.1 592.1,251.1 592.5,248.2 593,245.2 593.5,242.2 593.9,239.2 594.4,236.3 594.8,233.3 595.3,230.3 595.7,227.3 596.1,224.3 596.6,221.4 597,218.4 597.5,215.4 597.9,212.4 598.3,209.4 598.7,206.5 599.1,203.5 599.5,200.5 599.9,197.5 600.4,194.5 600.8,191.5 601.2,188.6 601.6,185.6 602,182.6 602.4,179.6 602.9,176.6 603.3,173.7 603.8,170.7 604.3,167.7 604.8,164.7 605.3,161.8 605.8,158.8 606.3,155.8 607,151.4 607.8,147.2 608.6,143.4 609.4,140.5 610.5,137.1 611.3,133.8 612.2,129.8 613.1,125.4 614,121 615.2,116.7 616.6,112.4 618.3,108.3 620.3,104.2 622.6,100.4 625.2,96.7 628.1,93.4 631.4,90.6 635.1,88.6 639.1,87.8 643.3,88 647.5,89.1 651.6,90.7 655.6,92.8 658.2,94.3 660.8,95.9 663.3,97.5 665.8,99.2 668.2,100.9 670.6,102.8 673,104.6 675.3,106.5 677.6,108.5 679.9,110.4 682.2,112.4 684.4,114.4 686.7,116.4 688.9,118.4 691.2,120.4 693.4,122.4 695.6,124.5 697.9,126.5 700.1,128.5 702.3,130.6 704.5,132.6 706.6,134.7 708.8,136.8 710.9,138.9 713.1,141 715.3,143.1 717.4,145.2 719.6,147.3 721.9,149.3 724.1,151.3 726.4,153.3 728.6,155.3 730.9,157.2 733.3,159.1 735.6,161 737.9,162.9 740.3,164.8 742.6,166.7 745,168.6 747.3,170.4 749.7,172.3 752.1,174.2 754.4,176.1 756.8,178 759.1,179.8 761.5,181.7 763.8,183.6 766.2,185.5 768.5,187.4 770.9,189.2 773.2,191.1 775.6,193 777.9,194.9 780.3,196.8 782.6,198.7 785,200.5 787.3,202.4 789.6,204.3 792,206.3 794.2,208.2 796.5,210.2 798.8,212.2 801,214.2 803.2,216.3 805.4,218.3 807.6,220.4 809.7,222.5 812.7,225.9 815.3,229.4 817.7,233.2 820,237 822.6,240.6 825.6,243.9 828.8,247.1 831,249.1 833.2,251.1 835.4,253.2 837.6,255.2 839.9,257.2 842.1,259.2 844.4,261.2 846.6,263.2 848.9,265.1 851.2,267.1 853.6,269 855.9,270.9 858.3,272.7 860.6,274.6 863,276.5 865.4,278.3 867.8,280.1 870.2,281.9 872.7,283.7 875.1,285.4 877.6,287.1 880.1,288.8 882.5,290.5 885.1,292.2 887.6,293.8 890.1,295.4 892.7,297 895.3,298.5 897.9,300.1 900.5,301.6 903.1,303.1 905.7,304.5 908.4,305.9 911.1,307.3 913.8,308.6 916.5,310 919.2,311.3 921.9,312.7 924.5,314 927.2,315.4 929.9,316.7 932.6,318.1 935.3,319.4 938.1,320.7 940.8,321.9 943.5,323.1 946.3,324.3 949.1,325.4 951.9,326.6 954.7,327.6 957.5,328.7 960.4,329.7 963.2,330.6 966.1,331.5 969,332.4 971.9,333.3 974.8,334.1 977.7,334.8 980.6,335.5 983.5,336.2 986.5,336.8 989.4,337.4 992.4,338 995.3,338.6 998.3,339.2 1001.2,339.8 1004.2,340.4 1007.1,341 1010.1,341.5 1013,342.1 1016,342.7" stroke="#a8c0c0"/>
<polyline points="553,349 556.9,346.8 560.7,344.4 564.1,341.6 567.2,338.5 569.9,334.9 572.2,331.1 574.2,327.1 575.5,324.4 576.6,321.6 578.2,317.4 579.5,313.1 580.3,310.2 581,307.3 581.7,304.3 582.4,301.4 583,298.5 583.7,295.5 584.4,292.6 585,289.7 585.7,286.7 586.3,283.8 586.9,280.8 587.5,277.9 588.1,274.9 588.6,272 589.1,269 589.6,266 590.1,263.1 590.6,260.1 591.1,257.1 591.6,254.2 592.1,251.2 592.5,248.2 593,245.2 593.5,242.3 593.9,239.3 594.4,236.3 594.8,233.3 595.2,230.4 595.7,227.4 596.1,224.4 596.6,221.4 597,218.5 597.5,215.5 597.9,212.5 598.3,209.5 598.7,206.5 599.1,203.6 599.5,200.6 599.9,197.6 600.3,194.6 600.7,191.6 601.2,188.6 601.6,185.7 602,182.7 602.4,179.7 602.8,176.7 603.3,173.8 603.8,170.8 604.3,167.8 604.7,164.8 605.2,161.9 605.7,158.9 606.2,155.9 607,151.5 607.8,147.3 608.6,143.5 609.4,140.6 610.5,137.1 611.3,133.9 612.2,129.9 613,125.5 614,121.1 615.1,116.8 616.6,112.6 618.3,108.4 620.4,104.5 622.9,100.8 625.8,97.6 629.2,95.4 632.8,94.7 636.6,95.6 640.2,97.8 643.5,100.6 646.5,103.9 649.2,107.4 651.7,111.2 653.2,113.8 654.6,116.4 656.1,119.1 657.6,121.7 659,124.3 660.5,127 662,129.6 663.4,132.2 664.9,134.8 666.4,137.4 667.9,140 669.5,142.6 671.1,145.2 672.6,147.7 674.2,150.3 675.8,152.9 677.4,155.4 678.9,158 680.4,160.6 682,163.2 683.5,165.8 685.1,168.3 686.7,170.9 688.3,173.4 689.9,176 691.6,178.5 693.3,181 695,183.4 696.7,185.9 698.4,188.4 700.2,190.8 702,193.2 703.7,195.7 705.5,198.1 707.2,200.6 708.9,203.1 710.5,205.6 712.1,208.2 713.6,210.8 715.1,213.4 716.6,216 719,219.8 721.6,223.4 724.5,226.8 726.5,229.1 728.5,231.3 730.5,233.6 732.6,235.8 734.6,238 736.7,240.2 738.8,242.3 741,244.4 743.2,246.4 745.4,248.5 747.6,250.5 749.9,252.5 752.1,254.5 754.3,256.5 756.6,258.5 758.9,260.5 761.1,262.4 763.4,264.4 765.7,266.4 768,268.3 770.3,270.2 772.6,272.2 775,274 777.4,275.9 779.8,277.7 782.2,279.5 784.6,281.2 787.1,282.9 789.6,284.6 792.1,286.3 794.6,287.9 797.2,289.5 799.8,291.1 802.4,292.5 805,294 807.6,295.4 810.3,296.8 813,298.2 817.1,300.1 821.2,301.8 825.2,303.2 829.3,304.3 833.3,305.4 837.4,306.8 841.6,308.3 845.8,309.9 848.6,311 851.4,312 854.2,313.1 857.1,314.1 859.9,315.1 862.8,316 865.6,317 868.5,317.9 871.3,318.8 874.2,319.7 877.1,320.6 880,321.4 882.9,322.2 885.8,323.1 888.7,323.8 891.6,324.6 894.5,325.3 897.4,326.1 900.4,326.8 903.3,327.4 906.2,328.1 909.2,328.7 912.1,329.3 915.1,329.9 918,330.5 921,331.1 923.9,331.7 926.9,332.3 929.8,332.9 932.8,333.5 935.7,334.1 938.7,334.6 941.6,335.2 944.6,335.8 947.5,336.4 950.5,337 953.4,337.6 956.4,338.1 959.4,338.7 962.3,339.2 965.3,339.6 968.3,340.1 971.2,340.6 974.2,341 977.2,341.4 980.2,341.9 983.2,342.3 986.1,342.8 989.1,343.2 992.1,343.6 995.1,344.1 998.1,344.4 1001,344.8 1004,345.1 1007,345.5 1010,345.8 1013,346.1 1016,346.5" stroke="#e01418"/>
<polyline points="553,349 556.9,346.8 560.7,344.4 564.1,341.6 567.3,338.5 569.9,334.9 572.2,331.1 574.2,327.1 575.5,324.3 576.6,321.6 577.7,318.8 579.1,314.5 579.9,311.6 580.7,308.7 581.4,305.8 582,302.8 582.7,299.9 583.4,297 584,294 584.7,291.1 585.4,288.2 586,285.2 586.6,282.3 587.2,279.3 587.8,276.4 588.3,273.4 588.9,270.4 589.4,267.5 589.9,264.5 590.4,261.5 590.8,258.5 591.3,255.6 591.8,252.6 592.3,249.6 592.8,246.7 593.2,243.7 593.7,240.7 594.1,237.7 594.6,234.7 595,231.8 595.5,228.8 595.9,225.8 596.4,222.8 596.8,219.9 597.3,216.9 597.7,213.9 598.1,210.9 598.5,207.9 598.9,204.9 599.3,202 599.7,199 600.2,196 600.6,193 601,190 601.4,187 601.8,184.1 602.2,181.1 602.6,178.1 603.1,175.1 603.6,172.1 604,169.2 604.5,166.2 605,163.2 605.5,160.3 606,157.3 606.5,154.3 607.3,149.9 608.1,145.8 608.9,142.4 610,138.8 611.1,134.9 611.9,131.1 612.8,126.8 613.7,122.4 614.4,119.5 615.7,115.2 617.2,111 619.2,107 621.7,103.5 624.7,100.7 628.3,99 632.2,99 635.8,100.4 639,103.1 641.7,106.5 644.1,110.4 645.5,113 646.8,115.7 648.1,118.4 649.3,121.2 650.5,123.9 651.6,126.7 652.7,129.5 653.8,132.3 655,135.1 656.1,137.9 657.2,140.7 658.3,143.5 659.4,146.3 660.6,149.1 661.7,151.9 662.8,154.7 663.9,157.5 665,160.3 666.2,163.1 667.3,165.8 668.5,168.6 669.7,171.4 670.9,174.2 672.1,176.9 673.3,179.7 674.5,182.4 675.7,185.2 677,187.9 678.3,190.6 679.6,193.3 680.9,196 682.3,198.7 683.6,201.4 685,204.1 686.4,206.8 687.9,209.4 689.4,212 690.9,214.6 692.4,217.2 694,219.8 695.5,222.4 697.1,224.9 698.7,227.5 700.3,230 701.9,232.6 703.6,235.1 705.2,237.6 706.8,240.2 708.5,242.7 710.1,245.2 711.7,247.8 713.4,250.3 715,252.8 716.6,255.3 718.3,257.8 720,260.3 721.7,262.8 723.5,265.3 725.2,267.7 726.9,270.2 728.7,272.6 730.4,275.1 732.2,277.5 734,280 735.8,282.4 737.6,284.8 739.5,287.1 741.5,289.4 743.4,291.6 745.4,293.9 747.5,296.1 749.5,298.3 751.5,300.5 753.6,302.7 756.9,305.8 760.3,308.7 762.7,310.6 765.1,312.3 767.5,314.1 770,315.8 772.5,317.5 775.1,319.1 777.6,320.6 780.3,322.1 782.9,323.5 785.6,324.9 788.3,326.2 791,327.5 793.7,328.8 796.5,329.9 799.3,331.1 802.1,332.1 804.9,333.1 807.8,334.1 810.6,335.1 813.5,336 816.4,336.8 820.7,338.1 825,339.3 829.2,340.5 833.5,341.7 837.8,342.6 842.2,343.3 845.2,343.8 848.2,344.2 851.2,344.7 854.1,345.1 857.1,345.6 860.1,346 863.1,346.4 866.1,346.8 869,347.2 872,347.5 875,347.9 878,348.2 881,348.5 884,348.8 887,349.1 890,349.4 893,349.7 896,350 899,350.3 902,350.6 903.5,350.7" stroke="#62c462"/>
<polyline points="553,349 556.9,346.8 560.7,344.4 564.1,341.6 567.2,338.5 569.9,335 572.2,331.1 574.2,327.1 576,323 577.7,318.8 579.1,314.6 580.3,310.3 581,307.3 581.7,304.4 582.4,301.5 583,298.6 583.7,295.6 584.4,292.7 585,289.8 585.7,286.8 586.3,283.9 586.9,280.9 587.5,278 588,275 588.6,272.1 589.1,269.1 589.6,266.2 590.1,263.2 590.6,260.2 591.1,257.3 591.5,254.3 592,251.3 592.5,248.4 593,245.4 593.4,242.4 593.9,239.4 594.3,236.5 594.8,233.5 595.2,230.5 595.7,227.6 596.1,224.6 596.6,221.6 597,218.6 597.4,215.7 597.9,212.7 598.3,209.7 598.7,206.7 599.1,203.8 599.5,200.8 599.9,197.8 600.3,194.8 600.7,191.8 601.1,188.9 601.5,185.9 602,182.9 602.4,179.9 602.8,177 603.3,174 603.7,171 604.2,168 604.7,165.1 605.2,162.1 605.7,159.2 606.2,156.2 606.9,151.8 607.7,147.5 608.5,143.7 609.3,140.8 610.4,137.3 611.2,134.1 612.1,130.1 613,125.8 613.9,121.4 615.1,117.1 616.5,112.9 618.3,108.8 620.5,105 623.3,101.8 626.6,99.6 630.4,98.8 634.1,99.7 637.4,102 640.2,105.2 642.7,108.9 644.9,112.8 646.3,115.5 647.6,118.2 648.9,120.9 650.1,123.6 651.3,126.4 652.5,129.1 653.7,131.9 654.9,134.6 656.1,137.4 657.4,140.1 658.6,142.9 659.8,145.6 661.1,148.4 662.3,151.1 663.5,153.8 664.8,156.6 666,159.3 667.3,162.1 668.5,164.8 669.8,167.5 671,170.3 672.2,173 673.5,175.7 674.8,178.5 676,181.2 677.3,183.9 678.6,186.6 680,189.3 681.3,192 682.6,194.7 684,197.4 685.4,200 686.9,202.6 688.4,205.2 689.9,207.8 691.5,210.4 693.1,212.9 694.8,215.4 696.5,217.9 698.2,220.4 699.9,222.8 701.7,225.3 703.4,227.7 705.2,230.1 706.9,232.6 708.7,235 710.4,237.5 712.2,239.9 713.9,242.4 715.6,244.8 717.4,247.3 719.1,249.7 720.9,252.2 722.6,254.6 724.4,257 726.1,259.5 727.9,261.9 729.6,264.4 731.4,266.8 733.1,269.3 734.9,271.7 736.8,274.1 739.6,277.5 741.6,279.8 743.6,282 745.7,284.2 747.7,286.4 749.8,288.6 751.9,290.7 755.1,293.8 758.5,296.8 762,299.6 764.4,301.4 766.9,303.1 769.3,304.8 771.8,306.5 774.3,308.2 776.9,309.8 779.4,311.3 782,312.8 784.7,314.3 787.3,315.8 789.9,317.2 792.6,318.6 795.3,319.9 798,321.1 800.8,322.3 803.5,323.5 806.3,324.6 809.1,325.7 811.9,326.8 814.8,327.8 819,329.2 823.3,330.4 827.6,331.3 831.8,332.2 836.1,333 840.5,334 844.9,335 847.8,335.7 850.7,336.4 853.7,337 856.6,337.6 859.5,338.2 862.5,338.8 865.4,339.3 868.4,339.8 871.4,340.3 874.3,340.8 877.3,341.2 880.3,341.7 883.3,342.1 886.2,342.6 889.2,343 892.2,343.5 895.2,343.9 898.1,344.3 901.1,344.7 904.1,345.1 907.1,345.5 910.1,345.8 913,346.1 916,346.4 919,346.7 922,347 925,347.3 928,347.5 931,347.7 934,348 937,348.2 940,348.4 943,348.6 946,348.8 949,348.9 952,349.1 955,349.3 958,349.4 961,349.6 964,349.8 967,350 970,350.2 973,350.4 976,350.6 977.5,350.7" stroke="#1f6fd8"/>
<polyline points="553,349 556.9,346.8 560.7,344.4 564.1,341.6 567.2,338.5 569.9,334.9 572.2,331.1 574.2,327.1 576,323 577.7,318.8 579.1,314.6 580.3,310.2 581,307.3 581.7,304.4 582.4,301.4 583,298.5 583.7,295.6 584.4,292.6 585,289.7 585.7,286.8 586.3,283.8 586.9,280.9 587.5,277.9 588.1,275 588.6,272 589.1,269.1 589.6,266.1 590.1,263.1 590.6,260.2 591.1,257.2 591.6,254.2 592,251.3 592.5,248.3 593,245.3 593.4,242.3 593.9,239.4 594.3,236.4 594.8,233.4 595.2,230.4 595.7,227.5 596.1,224.5 596.6,221.5 597,218.5 597.4,215.6 597.9,212.6 598.3,209.6 598.7,206.6 599.1,203.7 599.5,200.7 599.9,197.7 600.3,194.7 600.7,191.7 601.1,188.7 601.6,185.8 602,182.8 602.4,179.8 602.8,176.8 603.3,173.9 603.8,170.9 604.2,167.9 604.7,165 605.2,162 605.7,159 606.2,156.1 607,151.6 607.7,147.4 608.5,143.6 609.4,140.7 610.4,137.2 611.3,134 612.1,130 613,125.7 614,121.3 615.1,116.9 616.5,112.7 618.3,108.6 620.6,104.8 623.4,101.6 626.7,99.4 630.5,98.5 634.3,99.3 637.7,101.5 640.7,104.5 643.4,108.1 645.9,111.8 647.4,114.4 648.9,117 650.4,119.6 651.8,122.3 653.3,124.9 654.7,127.6 656.1,130.2 657.5,132.9 658.9,135.5 660.4,138.2 661.8,140.8 663.3,143.4 664.8,146.1 666.3,148.7 667.8,151.3 669.3,153.8 670.9,156.4 672.5,159 674.1,161.5 675.7,164.1 677.3,166.6 678.9,169.2 680.5,171.7 682.1,174.3 683.6,176.8 685.2,179.4 686.8,181.9 688.4,184.5 690,187 691.6,189.6 693.2,192.1 694.8,194.7 696.5,197.2 698.1,199.7 699.9,202.1 702.6,205.7 704.5,208 706.5,210.3 708.4,212.6 710.4,214.8 712.4,217.1 714.4,219.4 716.4,221.6 718.4,223.8 720.5,226 722.5,228.2 724.6,230.3 726.8,232.5 728.9,234.6 731,236.7 733.2,238.8 735.3,240.9 737.5,243 739.7,245 742,247 744.2,249 746.5,251 748.8,252.9 751.1,254.9 753.4,256.8 755.7,258.7 758.1,260.6 760.4,262.4 762.8,264.3 765.2,266.1 767.6,267.9 770,269.7 772.5,271.4 774.9,273.2 777.4,274.9 779.9,276.5 782.5,278.1 785.1,279.7 787.6,281.2 790.2,282.7 792.9,284.1 796.9,286.2 801,288 803.7,289.2 806.5,290.3 809.3,291.4 812.2,292.5 816.4,293.9 820.6,295.2 824.7,296.1 828.6,296.6 832.5,296.9 836.5,297.6 840.7,298.6 845,299.9 847.9,300.7 850.8,301.6 853.7,302.5 856.5,303.3 859.4,304.2 862.3,305 865.2,305.9 868.1,306.7 871,307.4 873.9,308.2 876.8,308.9 879.8,309.6 882.7,310.3 885.6,311 888.5,311.6 891.5,312.3 894.4,312.9 897.4,313.4 900.3,314 903.3,314.5 906.3,315.1 909.2,315.5 912.2,316 915.2,316.4 918.2,316.9 921.1,317.3 924.1,317.7 927.1,318.1 930.1,318.5 933.1,318.8 936.1,319.2 939,319.6 942,319.9 945,320.3 948,320.6" stroke="#000000"/>
</g>
<g clip-path="url(#cpc)" fill="none" stroke-width="2.5" stroke-linejoin="round" stroke-linecap="butt">
<polyline points="102.8,606.3 106.4,607.5 109.8,607.4 112.8,605.5 115.5,602.4 118,598.7 119.6,596.2 121.1,593.6 122.6,591 124,588.3 125.4,585.6 126.7,582.9 128,580.2 129.3,577.5 130.5,574.7 131.7,571.9 132.8,569.2 133.9,566.4 135,563.5 135.9,560.7 136.9,557.8 137.8,555 138.7,552.1 139.5,549.2 140.4,546.3 141.2,543.4 142.1,540.5 142.9,537.6 143.7,534.7 144.5,531.8 145.3,528.9 146.1,526 146.9,523.1 147.7,520.2 148.6,517.3 149.5,514.5 150.5,511.6 151.4,508.7 152.3,505.9 153.3,503 154.3,500.2 155.2,497.3 156.2,494.5 157.2,491.6 158.2,488.8 159.2,485.9 160.2,483.1 161.2,480.3 162.2,477.4 163.3,474.6 164.3,471.8 165.3,468.9 166.3,466.1 167.3,463.3 168.4,460.4 169.4,457.6 170.5,454.8 171.6,452 172.7,449.2 173.9,446.4 175,443.6 176.2,440.9 177.4,438.1 178.6,435.4 179.9,432.6 181.2,429.9 182.5,427.2 183.8,424.5 185.3,421.8 186.8,419.3 188.4,416.7 190,414.2 191.8,411.8 194.6,408.3 197.6,405 201,402 204.6,399.6 208.6,397.8 212.9,396.9 217.3,396.7 221.7,397.1 226,398.2 230.1,399.9 234.1,401.9 238,404.2 240.5,405.9 242.9,407.7 245.3,409.5 247.7,411.3 250,413.2 252.4,415.1 254.7,417 257,418.9 259.3,420.8 261.6,422.8 263.8,424.9 266,427 268.1,429.1 270.3,431.2 272.4,433.2 274.7,435.3 276.9,437.2 279.3,439.1 281.7,440.9 284.1,442.7 286.6,444.4 289,446.2 291.4,448 293.7,449.9 296,451.8 298.3,453.8 300.5,455.8 302.7,457.9 304.9,459.9 307.1,462 309.3,464.1 311.4,466.2 313.5,468.3 315.7,470.5 317.8,472.6 319.9,474.8 322,476.9 324.1,479.1 326.1,481.3 328.1,483.6 330.2,485.8 332.2,488 334.2,490.2 336.2,492.5 338.3,494.7 340.3,496.9 342.3,499.2 344.4,501.4 346.4,503.6 348.4,505.8 350.4,508.1 352.5,510.3 354.5,512.5 356.5,514.8 358.5,517 360.6,519.2 362.6,521.4 364.6,523.7 366.6,525.9 368.6,528.2 370.6,530.5 372.5,532.7 374.5,535 376.4,537.4 378.4,539.7 380.3,542 382.2,544.3 384.2,546.6 386.2,548.8 388.2,551.1 390.2,553.3 392.2,555.6 394.2,557.8 396.2,560 398.2,562.3 400.2,564.5 402.2,566.8 404.2,569.1 406.1,571.4 408.1,573.7 410,576 411.9,578.3 413.9,580.6 415.8,582.9 417.8,585.2 419.8,587.5 421.8,589.7 423.8,591.9 425.8,594.2 427.9,596.4 429.9,598.6 432,600.8 434,603 436.1,605.2 438.2,607.3 440.4,609.4 442.5,611.6 444.6,613.7 446.7,615.8 448.9,618 451,620.1 453.1,622.2 455.3,624.4 457.4,626.5 459.5,628.6 461.7,630.7 463.9,632.7 466.1,634.8 468.4,636.7 470.7,638.6 473.1,640.5 475.4,642.4 477.8,644.3 480.2,646.1 482.6,647.9 485,649.7 487.5,651.4 490,653.1 492.5,654.8 495,656.4 497.6,658 500.2,659.5 502.8,660.9 505.5,662.3 508.2,663.6 510.9,664.9 513.7,666.1 516.4,667.3 519.2,668.5 522,669.6 524.8,670.6 527.7,671.6 530.5,672.5 533.4,673.4 536.3,674.2 539.2,674.9 542.2,675.7 545.1,676.4 548,677.1 550.9,677.9 553.8,678.6" stroke="#f0b41e"/>
<polyline points="102.8,605.3 106.7,604.2 110.4,602.3 113.9,599.7 117,596.6 119.9,593.1 122.4,589.4 124,586.9 125.5,584.3 127,581.6 128.3,579 129.7,576.3 130.9,573.5 132.1,570.8 133.3,568 134.4,565.2 135.5,562.4 136.5,559.6 137.6,556.7 138.5,553.9 139.5,551 140.4,548.2 141.4,545.3 142.3,542.4 143.2,539.6 144.1,536.7 144.9,533.8 145.8,530.9 146.6,528 147.5,525.1 148.4,522.3 149.3,519.4 150.2,516.5 151.2,513.7 152.1,510.8 153.1,507.9 154,505.1 155,502.2 155.9,499.4 156.9,496.5 157.8,493.7 158.8,490.8 159.7,487.9 160.7,485.1 161.6,482.2 162.6,479.4 163.6,476.5 164.6,473.7 165.6,470.9 166.6,468 167.6,465.2 168.6,462.3 169.6,459.5 170.7,456.7 171.7,453.8 172.7,451 173.7,448.2 174.8,445.3 175.8,442.5 177,439.7 178.2,437 179.4,434.3 180.8,431.6 182.9,427.6 185.4,423.9 188.2,420.5 191.5,417.6 195.2,415.5 199.3,414.4 203.5,414.2 207.7,415.1 211.6,416.9 215.4,419.3 219,422 221.3,423.9 223.6,425.8 225.9,427.8 228.1,429.9 230.3,431.9 232.4,434 234.5,436.2 236.6,438.4 238.6,440.6 240.6,442.9 242.5,445.2 244.3,447.6 246.1,450 248,452.4 249.8,454.7 251.7,457.1 253.6,459.5 255.4,461.8 257.2,464.3 259,466.7 260.8,469.1 262.7,471.4 264.6,473.8 266.5,476.1 268.4,478.4 270.3,480.7 272.2,483.1 274.2,485.4 276.1,487.7 278.1,490 280.1,492.2 282.1,494.4 284.2,496.6 286.4,498.7 288.5,500.8 290.7,502.9 292.8,505 295,507.1 297.1,509.2 299.3,511.3 301.4,513.4 303.5,515.6 305.7,517.7 307.8,519.8 309.9,522 312,524.1 314.2,526.2 316.3,528.4 318.4,530.5 320.5,532.7 322.6,534.8 324.6,537 326.7,539.3 328.7,541.5 330.8,543.7 332.8,545.9 334.8,548.2 336.8,550.4 338.9,552.6 340.9,554.8 342.9,557.1 344.9,559.3 347,561.5 349,563.8 351,566 353,568.2 355.1,570.4 357.1,572.7 359.1,574.9 361.2,577.1 363.2,579.4 365.2,581.6 367.3,583.8 369.3,586 371.4,588.2 373.5,590.3 375.6,592.4 377.8,594.6 379.9,596.7 382,598.8 384.1,601 386.3,603.1 388.4,605.2 390.5,607.4 392.7,609.5 394.8,611.6 396.9,613.7 399.1,615.8 401.3,617.9 403.5,620 405.7,622 407.9,624.1 410.1,626.1 412.4,628.1 414.6,630.1 416.9,632 419.2,634 421.6,635.9 423.9,637.8 426.2,639.7 428.6,641.5 431,643.4 433.4,645.2 435.8,647 438.3,648.7 440.7,650.5 443.2,652.2 445.7,653.9 448.2,655.6 450.7,657.2 453.3,658.8 455.8,660.4 458.4,661.9 461,663.4 463.7,664.8 466.4,666.2 469.1,667.4 471.9,668.6 474.6,669.7 477.4,670.8 480.3,671.8 483.1,672.8 486,673.8 488.9,674.6 491.7,675.5 494.6,676.3 497.5,677.1 500.4,677.9 503.4,678.7 506.3,679.4 509.2,680.1 512.1,680.8 515.1,681.4 518,682.1 521,682.7 523.9,683.2 526.9,683.7 529.9,684.2 532.9,684.5 535.9,684.9 538.9,685.2 541.9,685.5 544.9,685.7 547.9,686 550.9,686.3 553.8,686.6" stroke="#a8c0c0"/>
<polyline points="102.8,636.9 103.5,633.9 104.1,631 104.8,628.1 105.5,625.1 106.2,622.2 107.3,617.9 108.8,613.7 110.7,609.7 113,605.9 115.4,602.1 117.7,598.3 119.1,595.7 120.6,593 122.1,590.4 123.6,587.8 125.1,585.2 126.5,582.6 127.9,579.9 129.2,577.2 130.5,574.5 131.7,571.7 132.8,569 134.4,564.7 135.7,560.4 136.5,557.5 137.2,554.6 137.9,551.7 138.6,548.8 139.3,545.8 139.9,542.9 140.6,540 141.2,537 141.8,534.1 142.5,531.1 143.1,528.2 143.7,525.3 144.3,522.3 144.9,519.4 145.6,516.4 146.2,513.5 146.9,510.6 147.7,507.7 148.6,504.8 149.5,501.9 150.5,499.1 151.5,496.3 152.5,493.4 153.6,490.6 154.6,487.8 155.8,485 156.9,482.2 158,479.4 159.1,476.7 160.2,473.9 161.4,471.1 162.5,468.3 163.7,465.5 164.9,462.8 166.1,460 167.4,457.3 168.7,454.6 170.1,451.9 171.5,449.3 172.9,446.6 174.3,444 175.7,441.3 177.9,437.4 180.3,433.6 183,430.2 186.3,427.5 190,425.6 194.1,424.7 198.1,424.9 201.9,426.3 205.5,428.7 208.7,431.7 211.7,435.1 214.3,438.7 216.8,442.5 219,446.4 220.4,449 221.7,451.7 223,454.4 224.2,457.2 225.5,459.9 226.8,462.6 228.1,465.3 229.5,468 230.8,470.7 232.1,473.4 233.5,476.1 234.8,478.8 236.2,481.5 237.5,484.1 238.9,486.8 240.3,489.5 241.7,492.1 243.2,494.8 244.6,497.4 246.1,500 247.5,502.7 249,505.3 250.4,507.9 251.9,510.6 253.4,513.2 254.8,515.8 256.3,518.4 257.8,521.1 259.2,523.7 260.8,526.3 262.3,528.9 263.9,531.4 265.5,534 267.1,536.5 268.7,539 270.4,541.5 272.2,544 273.9,546.4 276.6,550 279.4,553.5 282.5,556.5 285.9,559.2 289.5,561.8 292.9,564.6 296.1,567.7 299.2,571 301.2,573.2 303.2,575.4 305.3,577.6 307.4,579.8 309.5,582 311.6,584.1 313.7,586.2 315.9,588.3 318,590.4 320.2,592.5 322.4,594.5 324.7,596.5 327,598.4 329.3,600.3 331.7,602.2 334,604 336.4,605.9 338.8,607.7 341.2,609.5 343.7,611.2 346.1,612.9 348.6,614.7 351.1,616.4 353.5,618.1 356,619.9 358.5,621.6 360.9,623.3 363.4,625 365.9,626.7 368.4,628.4 370.9,630 373.5,631.6 376,633.2 378.6,634.7 381.2,636.3 383.8,637.7 386.4,639.2 389.1,640.6 391.7,642 394.4,643.4 397.1,644.7 399.8,646.1 402.5,647.4 405.2,648.7 407.9,650.1 410.6,651.4 413.3,652.7 416,654 418.7,655.2 421.5,656.4 424.3,657.6 427.1,658.7 429.9,659.8 432.6,660.9 435.4,662.1 438.2,663.2 441,664.3 443.8,665.4 446.6,666.4 449.5,667.4 452.3,668.4 455.2,669.3 458.1,670.2 460.9,671.1 463.8,671.9 466.7,672.8 469.6,673.7 472.5,674.5 475.4,675.3 478.3,676.1 481.2,676.9 484.1,677.6 487,678.2 490,678.9 492.9,679.5 495.9,680.1 498.8,680.6 501.8,681.2 504.7,681.8 507.7,682.4 510.6,682.9 513.6,683.5 516.5,684 519.5,684.4 522.5,684.9 525.5,685.3 528.4,685.7 531.4,686.1 534.4,686.4 537.4,686.7 540.4,687.1 543.4,687.4 546.4,687.7 549.4,688 552.4,688.3 553.8,688.5" stroke="#e01418"/>
<polyline points="102.8,593.1 104.8,595.5 107.6,594.6 108.6,591.3 109.7,587.9 111.6,585.3 115,585.7 117.8,582.9 119.3,579.3 120.9,575.4 122.7,571.6 124.9,568.3 127,565 128.8,561.4 130.3,557.3 131.7,553.1 133.1,548.8 134.8,544.7 136.7,540.6 138.6,536.5 140.4,532.4 141.5,529.6 142.5,526.8 143.5,523.9 144.5,521.1 145.4,518.2 146.4,515.4 147.3,512.5 148.3,509.7 149.3,506.8 150.3,504 151.3,501.2 152.4,498.4 153.5,495.6 154.6,492.8 155.7,490 156.9,487.2 158,484.4 159.1,481.6 160.3,478.8 161.5,476.1 162.7,473.3 164,470.6 165.2,467.9 166.5,465.2 167.7,462.4 168.9,459.7 170.1,456.9 171.3,454.1 172.5,451.4 174.6,447.4 176.8,443.6 179.4,440.1 182.5,437.5 186,436.1 190,436.1 194,437.2 197.7,439.2 200.9,442 203.6,445.4 205.9,449.2 208,453.2 209.3,455.9 210.7,458.6 212,461.3 213.3,464 214.6,466.7 215.8,469.4 216.9,472.2 218.1,475 219.2,477.8 220.3,480.6 221.5,483.4 222.6,486.2 223.7,489 224.8,491.8 225.9,494.5 227,497.4 228.1,500.2 229.2,503 230.3,505.8 231.3,508.6 232.5,511.4 233.6,514.2 234.7,516.9 235.8,519.7 237,522.5 238.1,525.3 239.3,528.1 240.5,530.8 241.6,533.6 242.8,536.4 243.9,539.2 245.1,541.9 246.3,544.7 247.5,547.5 248.7,550.2 249.9,553 251.2,555.7 252.4,558.4 253.7,561.1 255,563.9 256.3,566.6 257.7,569.3 259,572 260.3,574.6 261.7,577.3 263,580 264.4,582.7 265.7,585.4 267,588.1 268.3,590.9 269.6,593.6 270.9,596.3 272.9,600.3 275.2,604.2 276.8,606.7 278.4,609.3 280,611.8 281.6,614.3 283.2,616.9 284.8,619.4 286.5,621.9 288.2,624.4 290.8,628 293.6,631.5 295.6,633.8 297.6,636.1 299.6,638.3 301.7,640.5 303.8,642.6 307,645.7 310.4,648.7 312.7,650.6 315,652.5 317.4,654.4 319.8,656.2 322.3,657.9 324.8,659.6 327.3,661.2 329.9,662.7 332.4,664.3 335.1,665.7 339.1,667.8 343.2,669.6 346,670.8 348.7,671.9 351.6,672.9 354.4,673.9 357.2,674.9 360.1,675.8 363,676.7 365.9,677.5 368.8,678.3 371.7,679.1 374.6,679.9 377.5,680.6 380.4,681.3 383.3,682 386.3,682.7 389.2,683.3 392.2,684 395.1,684.5 398.1,685.1 401,685.6 404,686.1 406.9,686.6 409.9,687.1 412.9,687.5 415.9,687.9 418.9,688.2 421.9,688.5 424.9,688.8 427.9,689 430.8,689.3 433.8,689.5 436.8,689.7 439.8,689.9 442.8,690.2 445.8,690.4 448.8,690.6" stroke="#62c462"/>
<polyline points="102.8,601.2 103.1,598.2 103.4,595.2 103.6,592.2 103.9,589.2 104.2,586.2 104.5,583.2 105,578.8 105.6,574.6 106.4,571.3 109.5,572 112.5,572.7 114.1,569.9 116.2,566.5 118.9,563.4 121.8,560.4 124.3,557 126.3,553.2 128,549 129.7,544.9 131,542.1 132.2,539.4 133.5,536.7 134.8,534 136.1,531.3 137.3,528.5 138.4,525.7 139.4,522.9 140.5,520.1 141.5,517.2 142.5,514.4 143.6,511.6 144.6,508.7 145.7,505.9 146.7,503.1 147.8,500.3 148.9,497.5 150,494.7 151.1,491.9 152.3,489.1 153.5,486.3 154.7,483.6 156,480.9 157.4,478.2 158.7,475.5 160.1,472.8 161.4,470.1 162.9,467.4 164.3,464.8 165.8,462.2 167.4,459.7 169.1,457.1 170.7,454.6 172.4,452.1 174.1,449.7 176.8,446.1 179.7,442.9 183,440.5 186.7,439.5 190.5,439.9 194.2,441.6 197.3,444.4 200,447.8 202.4,451.6 203.9,454.2 205.4,456.8 206.8,459.5 208.2,462.1 209.6,464.8 211,467.5 212.3,470.2 213.7,472.9 215,475.6 216.4,478.3 217.7,481 219,483.7 220.3,486.4 221.5,489.2 222.8,491.9 224.1,494.7 225.3,497.4 226.5,500.1 227.8,502.9 229,505.6 230.3,508.4 231.5,511.1 232.8,513.9 234,516.6 235.3,519.3 236.5,522.1 237.8,524.8 239.1,527.5 240.4,530.3 241.7,533 243,535.7 244.3,538.4 245.7,541.1 247.1,543.7 248.5,546.4 250,549 251.4,551.7 252.9,554.3 254.4,556.9 256,559.5 257.6,562 259.2,564.6 260.7,567.2 262.3,569.7 263.9,572.3 265.5,574.8 267.1,577.4 268.7,579.9 270.3,582.5 271.9,585 273.5,587.6 275.1,590.1 276.8,592.7 278.4,595.2 280,597.8 281.6,600.3 283.3,602.8 284.9,605.3 286.6,607.9 288.3,610.3 290.1,612.8 291.9,615.1 293.8,617.5 295.8,619.7 297.8,622 299.8,624.2 301.9,626.4 303.9,628.6 306,630.7 308.2,632.8 310.4,634.9 312.6,636.9 314.9,638.9 317.1,640.9 319.4,642.8 321.8,644.7 325.5,647.3 328,648.9 330.6,650.5 333.2,652 335.8,653.5 338.4,655 341.1,656.4 343.7,657.8 346.4,659.1 349.1,660.4 351.9,661.7 354.6,663 357.4,664.2 360.2,665.3 363,666.4 365.8,667.5 368.6,668.5 371.4,669.5 374.3,670.5 377.2,671.4 380,672.3 382.9,673.1 385.8,674 388.7,674.9 391.6,675.7 394.5,676.6 397.4,677.4 400.3,678.2 403.2,678.9 406.1,679.5 409.1,680.2 412,680.8 415,681.4 418,682 420.9,682.6 423.9,683.1 426.8,683.7 429.8,684.2 432.8,684.7 435.7,685.2 438.7,685.5 441.7,685.9 444.7,686.2 447.7,686.5 450.7,686.8 453.7,687.1 456.7,687.4 459.7,687.7 462.7,687.9 465.7,688.2 468.7,688.4 471.7,688.5 474.7,688.7 477.7,688.9 480.7,689 483.8,689.2 486.8,689.4 489.8,689.5 492.8,689.7 495.8,689.8 498.8,689.9 501.8,690.1 504.8,690.2 507.8,690.4 510.8,690.5 512.3,690.6" stroke="#1f6fd8"/>
<polyline points="102.8,562.8 106.5,560.1 109.9,557.3 113.1,554.1 116.1,550.7 118.7,547.2 121.3,543.5 123.7,539.8 126.3,536.2 128.8,532.6 131.1,528.8 133.2,524.9 135,520.8 136.2,518 137.4,515.3 138.5,512.5 139.6,509.7 140.7,506.9 141.8,504.1 142.9,501.3 144,498.5 145.2,495.7 146.3,492.9 147.5,490.2 148.8,487.4 150,484.7 151.3,482 152.6,479.3 154,476.6 155.4,473.9 156.8,471.2 158.2,468.6 159.7,466 161.2,463.4 162.7,460.8 164.4,458.3 167,454.6 169.8,451.1 172.9,448 176.5,445.5 180.3,444 184.4,443.6 188.4,444.5 192.1,446.5 195.5,449.4 198.5,452.6 201.3,456.1 203,458.6 204.7,461.1 206.4,463.6 208,466.1 209.6,468.7 211.1,471.3 212.6,473.9 214,476.5 215.4,479.2 216.8,481.9 218.1,484.6 219.5,487.3 220.8,489.9 222.1,492.6 223.5,495.3 224.8,498 226.2,500.7 227.5,503.4 228.9,506.1 230.3,508.8 231.7,511.4 233.1,514.1 234.6,516.7 236.1,519.3 237.7,521.8 239.4,524.3 241,526.8 242.7,529.3 244.5,531.8 246.2,534.2 247.9,536.7 249.7,539.1 251.5,541.6 253.3,544 255.1,546.3 257,548.7 258.9,551 260.8,553.4 262.7,555.7 264.7,557.9 266.7,560.2 268.7,562.4 270.8,564.6 272.8,566.8 274.9,569 277,571.1 279.1,573.3 281.1,575.5 283.1,577.8 285.1,580 287,582.3 289,584.6 292.1,587.9 294.2,590 296.4,592.1 298.6,594.1 300.8,596.1 303.1,598 305.4,600 307.8,601.8 310.2,603.6 312.6,605.4 315.1,607.1 317.6,608.8 320.1,610.5 322.6,612.1 325.1,613.7 327.7,615.3 330.3,616.9 332.9,618.4 335.5,619.9 338.1,621.4 340.8,622.8 343.4,624.2 346.1,625.5 348.8,626.8 351.5,628.1 354.3,629.3 357.1,630.4 359.9,631.5 362.7,632.5 365.6,633.5 368.4,634.5 371.2,635.5 374.1,636.5 376.9,637.5 379.8,638.5 382.6,639.4 385.5,640.4 388.3,641.3 391.2,642.2 394.1,643 397,643.9 399.9,644.6 402.8,645.4 405.7,646 408.7,646.7 411.6,647.3 414.6,647.9 417.5,648.5 420.5,649.1 423.4,649.7 426.4,650.3 429.3,650.8 432.3,651.4 435.2,652 438.2,652.6 441.1,653.2 444.1,653.8 447.1,654.3 450,654.8 453,655.3 456,655.8 458.9,656.2 461.9,656.7 464.9,657.1 467.9,657.4 470.9,657.7 473.9,658.1 476.9,658.4 479.9,658.7 482.9,659 485.9,659.3 488.8,659.6" stroke="#000000"/>
</g>
<g clip-path="url(#cpd)" fill="none" stroke-width="2.5" stroke-linejoin="round" stroke-linecap="butt">
<polyline points="553,587.2 554.5,584.6 556,582.1 557.6,579.5 559.3,577 561.9,573.3 563.7,570.9 565.5,568.6 567.4,566.2 569.2,563.8 570.9,561.3 572.6,558.8 574.2,556.3 575.9,553.8 577.5,551.3 580,547.5 582.4,543.8 584.4,539.8 586,535.7 587.4,531.4 588.3,528.6 589.3,525.7 590.3,522.9 591.4,520.1 592.6,517.4 593.8,514.6 595,511.9 596.2,509.1 597.5,506.4 598.7,503.6 599.8,500.8 601,498 602.1,495.2 603.1,492.4 604.2,489.6 605.3,486.8 606.4,484 607.5,481.2 608.6,478.4 609.8,475.7 611,472.9 612.2,470.1 613.4,467.4 614.7,464.7 615.9,461.9 617.2,459.2 618.5,456.5 619.9,453.8 621.3,451.1 622.7,448.5 625,444.6 627.4,440.9 630.3,437.8 633.7,435.7 637.6,434.7 641.8,435.1 645.8,436.5 649.7,438.6 653.3,441.2 656.5,444.3 659.4,447.6 661.8,451.3 664.1,455.2 665.6,457.8 667.1,460.4 668.6,463 670.2,465.6 671.7,468.2 673.3,470.7 674.9,473.3 676.4,475.9 677.9,478.5 679.4,481.1 680.8,483.8 682.2,486.5 683.5,489.1 684.9,491.8 686.3,494.5 687.7,497.1 689.2,499.8 690.7,502.4 692.3,504.9 693.8,507.5 695.4,510.1 696.9,512.6 698.5,515.2 700,517.8 701.5,520.5 702.9,523.1 704.4,525.7 705.9,528.3 707.3,531 708.8,533.6 710.3,536.2 711.7,538.9 713.2,541.5 714.7,544.1 716.1,546.7 717.7,549.3 719.2,551.9 720.8,554.5 722.3,557 723.9,559.6 725.6,562.1 727.2,564.6 728.9,567.1 730.6,569.6 732.3,572.1 734.1,574.5 736,576.9 738.8,580.3 740.9,582.5 742.9,584.7 745,586.9 747,589.1 749,591.4 751,593.6 753,595.9 754.9,598.2 756.9,600.4 759,602.6 761.1,604.8 763.2,606.9 765.4,609 767.6,611 769.9,613 773.4,615.7 777.1,618.3 780.9,620.5 785,622.4 789,624.4 792.9,626.6 796.6,629 799.1,630.7 801.6,632.4 804.1,634 806.7,635.6 809.2,637.2 811.8,638.8 814.4,640.3 817,641.7 819.7,643.1 822.4,644.5 825.1,645.9 827.8,647.2 830.5,648.4 833.2,649.7 836,650.9 838.7,652.1 841.5,653.2 844.3,654.3 847.2,655.3 850,656.3 852.9,657.2 855.7,658.1 858.6,659 861.5,659.9 864.4,660.8 867.2,661.6 870.1,662.5 873,663.3 875.9,664.2 878.8,665 881.7,665.7 884.6,666.5 887.6,667.2 890.5,667.9 893.4,668.7 896.3,669.4 899.3,670.1 902.2,670.7 905.1,671.4 908.1,672 911,672.6 914,673.2 916.9,673.7 919.9,674.3 922.8,674.9 925.8,675.4 928.8,675.9 931.7,676.4 934.7,676.8 937.7,677.2 940.7,677.6 943.7,678 946.6,678.4 949.6,678.8 952.6,679.2 955.6,679.5 958.6,679.9 961.6,680.3 964.6,680.7 967.5,681.1 970.5,681.5 973.5,681.9 976.5,682.3 979.5,682.6 982.5,682.9 985.5,683.2 988.5,683.5 991.5,683.8 994.4,684.1 997.4,684.4 1000.4,684.6 1003.4,684.8 1006.4,685 1009.5,685.2 1012.5,685.4 1015.5,685.6 1017,685.7" stroke="#e01418"/>
<polyline points="553,577.4 554.8,573.2 556.8,569.3 559.2,565.5 562,562 564.9,558.5 566.9,556.3 569.7,552.8 572.4,549.2 574,546.7 575.6,544.1 577.2,541.5 578.7,538.9 580.1,536.3 581.4,533.6 582.8,530.9 584,528.1 585.3,525.4 586.5,522.7 587.8,519.9 589,517.2 590.3,514.4 591.5,511.7 592.8,508.9 594,506.2 595.3,503.4 596.5,500.7 597.7,498 599,495.2 600.2,492.5 601.5,489.7 602.7,487 604,484.2 605.2,481.5 606.5,478.8 607.8,476 609,473.3 610.3,470.6 611.7,467.9 613,465.2 614.4,462.5 615.7,459.8 617.1,457.1 618.6,454.5 620.2,452 621.8,449.4 624.4,445.8 627.3,442.5 630.6,439.9 634.4,438.4 638.4,438.2 642.3,439.3 646,441.5 649.3,444.3 652.2,447.7 654.8,451.3 657.2,455.2 658.7,457.8 660.1,460.4 661.5,463.1 662.9,465.8 664.3,468.5 665.6,471.2 667,473.9 668.3,476.5 669.7,479.2 671,481.9 672.4,484.6 673.7,487.3 675.1,490 676.4,492.7 677.7,495.4 679,498.2 680.3,500.9 681.5,503.6 682.8,506.4 684,509.1 685.3,511.9 686.5,514.6 687.7,517.4 688.9,520.1 690.1,522.9 691.3,525.7 692.4,528.5 693.6,531.2 694.8,534 695.9,536.8 697.1,539.6 698.3,542.3 699.5,545.1 700.8,547.9 702,550.6 703.2,553.3 704.5,556.1 705.7,558.8 707,561.6 708.2,564.3 709.5,567.1 710.7,569.8 712,572.5 713.2,575.3 714.5,578 715.7,580.8 717,583.5 718.3,586.2 719.6,588.9 721,591.6 722.3,594.3 723.7,597 725,599.7 726.4,602.4 727.9,605 729.4,607.6 730.9,610.2 732.5,612.8 734.1,615.3 735.7,617.9 737.4,620.4 739.1,622.9 740.8,625.3 742.6,627.8 744.4,630.2 746.2,632.6 748.1,634.9 750.1,637.1 752.2,639.3 754.3,641.5 756.4,643.6 758.5,645.7 760.7,647.9 762.9,649.9 766.2,652.9 769.8,655.6 773.6,658 777.5,660.2 781.6,662.1 784.4,663.3 787.1,664.5 789.8,665.8 792.5,667.1 795.2,668.4 797.9,669.8 800.6,671.1 803.4,672.3 806.2,673.5 809,674.5 811.8,675.6 814.6,676.5 817.5,677.5 820.4,678.4 823.3,679.3 826.2,680.1 829.1,680.9 832,681.7 834.9,682.4 837.8,683.1 840.8,683.8 843.7,684.4 846.7,685.1 849.6,685.6 852.6,686.2 855.5,686.7 858.5,687.1 861.5,687.6 864.5,688 867.5,688.3 870.5,688.7 873.5,689 876.5,689.3 879.5,689.6 882.5,689.9 885.5,690.2 888.5,690.5 891.5,690.8 894.5,691.1" stroke="#62c462"/>
<polyline points="553,571.4 555.5,569.9 558.1,568.2 561.7,565.7 565.2,562.9 568.5,559.8 571.3,556.4 573.9,552.7 575.5,550.2 577.1,547.6 578.6,545 580,542.4 581.4,539.7 582.7,537 583.9,534.3 585.2,531.5 586.4,528.8 587.7,526 588.9,523.3 590.2,520.6 591.4,517.8 592.7,515.1 593.9,512.3 595.2,509.6 596.4,506.8 597.6,504.1 598.8,501.3 600,498.6 601.2,495.8 602.4,493 603.6,490.3 604.7,487.5 605.9,484.7 607,481.9 608.2,479.2 609.4,476.4 610.6,473.6 611.9,470.9 613.1,468.2 614.4,465.4 615.6,462.7 616.9,460 618.3,457.3 620.6,453.4 623,449.7 625.8,446.2 628.8,443.3 632.4,441.3 636.4,440.7 640.4,441.4 644.3,443.1 647.7,445.8 650.7,449 653.3,452.6 655.7,456.4 657.3,459 658.8,461.6 660.3,464.2 661.8,466.8 663.3,469.4 664.7,472.1 666.2,474.7 667.7,477.3 669.1,480 670.6,482.6 672,485.2 673.5,487.9 674.9,490.5 676.4,493.1 677.7,495.8 679.1,498.5 680.4,501.2 681.7,503.9 682.9,506.7 684.2,509.4 685.4,512.2 686.7,514.9 688,517.6 689.3,520.3 690.6,523 691.9,525.7 693.3,528.4 694.6,531.1 696,533.8 697.4,536.5 698.8,539.1 700.2,541.8 701.7,544.4 703.1,547.1 704.6,549.7 706.1,552.3 707.6,554.9 709.1,557.5 710.7,560.1 712.3,562.6 713.8,565.2 715.4,567.8 717,570.3 718.5,572.9 720,575.5 721.5,578.2 723,580.8 724.4,583.4 725.9,586 727.4,588.6 729,591.2 730.5,593.8 732.1,596.4 733.7,598.9 735.3,601.4 737,604 738.7,606.5 740.4,608.9 742.1,611.4 743.9,613.8 745.7,616.2 747.6,618.5 749.6,620.8 751.6,623 753.7,625.1 755.8,627.3 758,629.4 760.1,631.5 762.3,633.6 764.4,635.7 766.6,637.8 768.9,639.7 771.2,641.7 774.8,644.4 778.5,646.8 782.5,648.9 786.5,650.8 790.5,652.7 794.6,654.8 797.2,656.1 799.9,657.5 802.6,658.7 805.4,660 808.1,661.2 810.9,662.3 813.7,663.5 816.5,664.6 819.3,665.7 822.1,666.8 824.9,667.9 827.7,668.9 830.6,669.9 833.5,670.8 836.3,671.7 839.2,672.6 842.1,673.5 845,674.3 847.9,675.2 850.8,676 853.7,676.8 856.6,677.6 859.5,678.3 862.4,679 865.3,679.7 868.3,680.3 871.2,680.9 874.2,681.5 877.2,682 880.1,682.5 883.1,683 886.1,683.4 889,683.9 892,684.3 895,684.8 898,685.2 901,685.6 903.9,686 906.9,686.4 909.9,686.8 912.9,687.1 915.9,687.4 918.9,687.7 921.9,687.9 924.9,688.2 927.9,688.4 930.9,688.6 933.9,688.7 936.9,688.9 939.9,689.1 942.9,689.3 945.9,689.5 948.9,689.7 951.9,689.9 955,690.1 958,690.3 961,690.5" stroke="#1f6fd8"/>
<polyline points="553,583.3 555.2,581.3 557.5,579.3 559.7,577.2 561.9,575.2 564,573.1 566.1,570.9 568.1,568.6 570.9,565.1 572.6,562.6 574.3,560.1 575.9,557.6 577.4,555 578.9,552.4 580.3,549.7 581.6,547 582.9,544.3 584.2,541.6 585.5,538.8 586.7,536.1 587.9,533.3 589.1,530.5 590.2,527.7 591.4,524.9 592.5,522.1 593.6,519.3 594.7,516.5 595.7,513.7 596.8,510.9 597.9,508.1 599,505.2 600.1,502.4 601.2,499.6 602.2,496.8 603.3,494 604.4,491.2 605.5,488.3 606.6,485.5 607.7,482.7 608.8,479.9 610,477.2 611.2,474.4 612.4,471.6 613.7,468.9 614.9,466.1 616.2,463.4 617.5,460.7 618.9,458 620.3,455.4 621.8,452.8 623.4,450.2 625.9,446.5 628.7,443.1 631.9,440.2 635.5,438.4 639.3,437.8 643.1,438.7 646.7,440.9 649.9,443.8 652.8,447.2 655.4,450.8 657.1,453.3 658.8,455.8 660.3,458.4 661.8,461 663.3,463.6 664.8,466.3 666.3,468.9 667.7,471.5 669.2,474.2 670.7,476.8 672.1,479.4 673.6,482.1 675.1,484.7 676.6,487.3 678.1,489.9 679.6,492.5 681.2,495.1 682.8,497.7 684.4,500.3 686,502.8 687.6,505.4 689.2,507.9 690.8,510.5 692.4,513 694,515.6 695.6,518.1 697.2,520.7 698.9,523.2 700.6,525.7 702.4,528.1 704.1,530.6 705.8,533.1 707.6,535.5 709.4,538 711.1,540.4 712.9,542.9 714.6,545.3 716.4,547.7 718.3,550.1 720.1,552.5 722,554.8 724,557.2 725.9,559.5 727.8,561.8 729.8,564.1 731.7,566.4 733.6,568.7 735.6,571 737.6,573.2 739.7,575.5 741.8,577.6 743.9,579.7 746.1,581.8 748.4,583.8 750.6,585.8 753,587.7 755.3,589.6 757.7,591.5 760,593.4 762.4,595.2 764.8,597 767.3,598.8 769.7,600.5 772.3,602.1 774.8,603.7 777.4,605.3 780,606.9 782.5,608.5 785.1,610.1 787.7,611.6 789,612.4" stroke="#000000"/>
</g>
<g clip-path="url(#cpi)" fill="none" stroke-width="2.5" stroke-linejoin="round" stroke-linecap="butt">
<polyline points="1173.3,350.1 1176.4,350.1 1179.4,350.1 1182.4,350.1 1185.4,350.1 1188.4,350.1 1192.9,349.7 1195.8,349 1200,347.5 1203,344.4 1204.8,342 1206.6,339.6 1208.6,335.6 1209.8,332.8 1211,330 1212.2,327.3 1213.4,324.5 1214.6,321.7 1215.8,319 1217,316.2 1218.3,313.5 1219.5,310.7 1220.7,308 1221.9,305.2 1223.2,302.5 1224.7,299.9 1226.1,297.2 1227.6,294.6 1229,292 1230.5,289.3 1232,286.7 1233.5,284.1 1235.1,281.5 1236.8,279.1 1238.6,276.6 1240.3,274.2 1242.1,271.7 1243.8,269.3 1245.6,266.8 1247.3,264.4 1249.1,261.9 1250.8,259.5 1252.6,257 1254.3,254.6 1257.2,251.1 1259.5,249.2 1261.8,247.2 1264.1,245.3 1266.4,243.4 1268.7,241.5 1270.9,239.4 1273.1,237.3 1275.2,235.2 1277.3,233 1279.4,230.9 1282.1,227.3 1283.6,224.7 1285.1,222.1 1286.6,219.4 1288.1,216.8 1289.5,214.2 1290.8,211.5 1292,208.7 1293.2,205.9 1294.3,203.2 1295.5,200.4 1296.6,197.6 1297.6,194.7 1298.6,191.9 1299.5,189 1300.5,186.2 1301.4,183.3 1302.4,180.5 1303.3,177.6 1304,174.7 1304.7,171.7 1305.5,168.8 1306.2,165.9 1306.9,163 1307.6,160.1 1308.2,157.1 1308.8,154.1 1309.4,151.2 1310,148.2 1310.6,145.3 1311.2,142.3 1311.8,139.4 1312.3,136.4 1312.7,133.4 1313.2,130.5 1313.6,127.5 1314.1,124.5 1314.5,121.5 1315,118.5 1315.4,115.6 1315.8,112.6 1316.1,109.6 1316.5,106.6 1316.9,103.6 1317.3,100.6 1317.6,97.6 1318,94.7 1318.4,91.7 1318.7,88.7 1319,85.7 1319.2,82.7 1319.5,79.7 1319.7,76.7 1320,73.7 1320.2,70.7 1320.5,67.7 1320.7,64.7 1321,61.7 1321.2,58.7 1321.5,55.7 1321.7,52.7 1321.9,49.7 1322.1,46.6 1322.4,43.6 1322.6,40.6 1322.8,37.6 1323.1,34.6 1323.3,31.6 1323.4,28.6 1323.6,25.6 1323.7,22.6 1323.9,19.6 1324.1,16.6 1324.2,13.6 1324.4,10.6 1324.5,7.6 1324.7,4.6 1324.9,1.6 1325,-1.4 1325.2,-4.5 1325.3,-7.5 1325.5,-10.5 1325.7,-13.5 1325.7,-15" stroke="#1f6fd8"/>
<polyline points="1396.6,-15 1396.9,-12 1397.1,-8.9 1397.3,-5.9 1397.5,-2.9 1397.8,0.1 1398,3.1 1398.2,6.1 1398.5,9.1 1398.7,12.1 1398.9,15.1 1399.2,18.1 1399.4,21.1 1399.6,24.1 1399.9,27.1 1400.1,30.1 1400.2,33.1 1400.4,36.1 1400.6,39.1 1400.8,42.1 1401,45.1 1401.1,48.1 1401.3,51.1 1401.5,54.1 1401.7,57.2 1401.8,60.2 1402,63.2 1402.2,66.2 1402.4,69.2 1402.6,72.2 1402.9,75.2 1403.1,78.2 1403.3,81.2 1403.5,84.2 1403.8,87.2 1404,90.2 1404.2,93.2 1404.4,96.2 1404.7,99.2 1404.9,102.2 1405.1,105.2 1405.3,108.2 1405.6,111.2 1405.9,114.2 1406.2,117.2 1406.5,120.2 1406.8,123.2 1407.1,126.2 1407.3,129.2 1407.6,132.2 1407.9,135.2 1408.2,138.2 1408.5,141.2 1408.9,144.2 1409.2,147.2 1409.6,150.2 1410,153.2 1410.4,156.1 1410.8,159.1 1411.2,162.1 1411.6,165.1 1412,168.1 1412.4,171.1 1412.8,174.1 1413.2,177 1413.7,180 1414.3,183 1414.9,185.9 1415.5,188.9 1416.1,191.8 1416.7,194.8 1417.3,197.7 1417.9,200.7 1418.4,203.6 1419,206.6 1419.6,209.5 1420.3,212.5 1421.1,215.4 1421.9,218.3 1422.6,221.2 1423.4,224.1 1424.2,227 1425,229.9 1425.8,232.8 1426.7,235.7 1427.7,238.5 1428.8,241.3 1429.9,244.1 1431,246.9 1432.1,249.7 1433.3,252.5 1434.4,255.3 1435.5,258.1 1436.8,260.8 1438.2,263.5 1439.5,266.2 1440.9,268.9 1442.2,271.6 1443.6,274.3 1446,278 1447.9,280.4 1449.9,282.7 1451.8,285 1453.7,287.3 1455.7,289.5 1458,291.5 1460.3,293.4 1462.7,295.3 1465,297.1 1468.9,299.4 1471.7,300.5 1474.5,301.7 1477.3,302.8 1480.1,303.9 1482.9,305 1485.7,306.1 1488.5,307.2 1491.4,308 1494.3,308.6 1497.3,309.2 1500.2,309.7 1503.2,310.3 1506.2,310.9 1509.1,311.5 1512.1,312 1515.1,312.3 1518.1,312.6 1521.1,312.9 1524.1,313.2 1527.1,313.5 1530.1,313.8 1533,314.1 1536.1,314.3 1539.1,314.5 1542.1,314.6 1545.1,314.8 1548.1,314.9 1551.1,315.1 1554.1,315.2 1557.1,315.3 1560.1,315.3 1563.1,315.3 1566.1,315.3 1569.2,315.3 1572.2,315.3 1575.2,315.3 1578.2,315.3 1581.2,315.3 1584.2,315.3 1587.2,315.3 1590.2,315.3 1593.3,315.3 1596.3,315.3 1599.3,315.3 1602.3,315.3 1605.3,315.3 1608.3,315.3 1611.3,315.3 1614.3,315.3 1617.4,315.3 1620.4,315.3 1623.4,315.3 1626.4,315.3 1629.4,315.3 1632.4,315.3 1635.4,315.3 1638.4,315.3 1641.4,315.3 1644.5,315.3 1647.5,315.3 1650.5,315.3 1653.5,315.3 1655,315.3" stroke="#1f6fd8"/>
<polyline points="1183.9,354.1 1186.8,353.3 1189.7,352.5 1192.6,351.7 1195.5,350.9 1198.4,350.1 1201.3,349.3 1204.2,348.5 1208.2,346.6 1211.4,343.5 1213.6,341.4 1215.6,339.2 1218.1,335.4 1219.6,332.8 1221.1,330.2 1222.6,327.6 1224.1,325 1225.5,322.3 1226.7,319.5 1227.9,316.8 1229.1,314 1230.4,311.3 1231.6,308.5 1232.8,305.8 1234,303 1235.3,300.3 1236.5,297.5 1237.7,294.8 1238.9,292 1240.2,289.3 1241.4,286.5 1242.6,283.8 1243.7,281 1244.9,278.2 1246,275.4 1247.1,272.6 1248.2,269.8 1249.3,267 1250.5,264.2 1251.6,261.4 1252.8,258.7 1254,255.9 1255.2,253.2 1256.4,250.4 1257.7,247.6 1258.9,244.9 1260.1,242.1 1261.3,239.4 1262.6,236.6 1263.8,233.9 1265,231.1 1266.2,228.4 1267.4,225.6 1268.7,222.9 1269.9,220.1 1271.1,217.4 1272.3,214.6 1273.6,211.9 1274.8,209.1 1276,206.4 1277.2,203.6 1278.4,200.9 1279.6,198.1 1280.7,195.3 1281.8,192.5 1282.9,189.7 1284.1,186.9 1285.2,184.1 1286.3,181.3 1287.4,178.5 1288.3,175.6 1289.2,172.7 1290,169.9 1290.9,167 1291.8,164.1 1292.6,161.2 1293.5,158.3 1294.3,155.4 1294.9,152.5 1295.5,149.5 1296.1,146.6 1296.7,143.6 1297.3,140.7 1297.8,137.7 1298.4,134.7 1299,131.8 1299.5,128.8 1300,125.8 1300.5,122.9 1300.9,119.9 1301.4,116.9 1301.9,114 1302.4,111 1302.9,108 1303.3,105 1303.7,102.1 1304.1,99.1 1304.5,96.1 1304.8,93.1 1305.2,90.1 1305.6,87.1 1306,84.1 1306.3,81.1 1306.6,78.1 1306.9,75.1 1307.1,72.1 1307.4,69.1 1307.6,66.1 1307.9,63.1 1308.1,60.1 1308.4,57.1 1308.6,54.1 1308.8,51.1 1309.1,48.1 1309.3,45.1 1309.5,42.1 1309.7,39.1 1309.9,36.1 1310.1,33.1 1310.3,30.1 1310.6,27.1 1310.8,24.1 1311,21.1 1311.2,18.1 1311.4,15.1 1311.6,12.1 1311.8,9.1 1312,6.1 1312.3,3.1 1312.5,0.1 1312.7,-2.9 1312.9,-6 1313.1,-9 1313.3,-12 1313.5,-15" stroke="#62c462"/>
<polyline points="1407.8,-15 1408,-12 1408.2,-9 1408.5,-5.9 1408.7,-2.9 1408.9,0.1 1409.1,3.1 1409.4,6.1 1409.6,9.1 1409.8,12.1 1410,15.1 1410.3,18.1 1410.5,21.1 1410.7,24.1 1410.9,27.1 1411.2,30.1 1411.4,33.1 1411.6,36.1 1411.8,39.1 1412.1,42.1 1412.3,45.1 1412.5,48.1 1412.7,51.1 1413,54.1 1413.2,57.1 1413.4,60.1 1413.6,63.1 1413.9,66.1 1414.1,69.1 1414.3,72.1 1414.5,75.1 1414.8,78.1 1415,81.1 1415.2,84.2 1415.5,87.2 1415.7,90.2 1416,93.2 1416.3,96.2 1416.6,99.1 1416.9,102.1 1417.2,105.1 1417.5,108.1 1417.8,111.1 1418.1,114.1 1418.4,117.1 1418.7,120.1 1419,123.1 1419.3,126.1 1419.6,129.1 1419.9,132.1 1420.3,135.1 1420.7,138.1 1421.2,141.1 1421.6,144 1422.1,147 1422.5,150 1422.9,153 1423.4,155.9 1423.8,158.9 1424.3,161.9 1424.7,164.9 1425.2,167.9 1425.6,170.8 1426.1,173.8 1426.5,176.8 1427.1,179.8 1427.7,182.7 1428.4,185.6 1429,188.6 1429.7,191.5 1430.3,194.5 1431,197.4 1431.6,200.3 1432.3,203.3 1433,206.2 1433.6,209.2 1434.3,212.1 1434.9,215 1435.6,218 1436.5,220.8 1437.4,223.7 1438.4,226.6 1439.3,229.4 1440.3,232.3 1441.2,235.1 1442.2,238 1443.1,240.8 1444.1,243.7 1445.3,246.5 1446.6,249.2 1447.9,251.9 1449.3,254.6 1450.6,257.3 1452,259.9 1453.3,262.6 1454.7,265.3 1456.2,267.9 1457.9,270.4 1459.6,272.9 1461.4,275.3 1463.1,277.8 1464.9,280.2 1467.8,283.6 1470.2,285.4 1472.7,287.1 1475.2,288.8 1477.6,290.5 1480.1,292.3 1482.6,294 1485,295.7 1487.5,297.4 1491.5,299.5 1494.3,300.7 1497.1,301.8 1499.9,302.9 1502.7,304 1505.5,305.1 1508.2,306.3 1511.1,307.3 1514,308 1516.9,308.6 1519.9,309.2 1522.8,309.8 1525.8,310.4 1528.7,311 1531.7,311.6 1534.7,312 1537.7,312.4 1540.7,312.7 1543.7,313 1546.7,313.3 1549.6,313.6 1552.6,313.9 1555.6,314.1 1558.6,314.3 1561.7,314.5 1564.7,314.6 1567.7,314.8 1570.7,314.9 1573.7,315.1 1576.7,315.2 1579.7,315.3 1582.7,315.3 1585.7,315.3 1588.7,315.3 1591.8,315.3 1594.8,315.3 1597.8,315.3 1600.8,315.3 1603.8,315.3 1606.8,315.3 1609.8,315.3 1612.8,315.3 1615.8,315.3 1618.9,315.3 1621.9,315.3 1624.9,315.3 1627.9,315.3 1630.9,315.3 1633.9,315.3 1636.9,315.3 1639.9,315.3 1643,315.3 1646,315.3 1649,315.3 1652,315.3 1655,315.3" stroke="#62c462"/>
<polyline points="1177.2,354.1 1180.1,353.3 1183.1,352.5 1186,351.7 1188.9,350.9 1191.8,350.1 1194.7,349.3 1197.6,348.4 1201.1,346.2 1203,342.1 1204.1,339.4 1205.3,336.6 1206.5,333.8 1207.5,331 1208.4,328 1209.2,325.1 1210,322.2 1210.8,319.3 1211.6,316.4 1212.3,313.5 1213.1,310.5 1213.9,307.6 1214.5,304.7 1215.1,301.7 1215.7,298.7 1216.3,295.8 1216.9,292.8 1217.5,289.8 1218.1,286.9 1218.7,283.9 1219.3,281 1219.9,278 1220.5,275 1220.9,272 1221.3,269 1221.8,266.1 1222.2,263.1 1222.6,260.1 1223,257.1 1223.4,254.1 1223.8,251.1 1224.2,248.1 1224.6,245.1 1225,242.1 1225.4,239.1 1225.8,236.1 1226.2,233.1 1226.7,230.1 1227.1,227.1 1227.4,224.1 1227.8,221.1 1228.2,218.1 1228.5,215.1 1228.9,212.1 1229.2,209.1 1229.6,206.1 1230,203.1 1230.3,200.1 1230.7,197.1 1231,194.1 1231.4,191.1 1231.7,188.1 1232.1,185.1 1232.5,182.1 1232.8,179.1 1233.1,176.1 1233.5,173.1 1233.8,170.1 1234.1,167.1 1234.4,164.1 1234.7,161 1235,158 1235.3,155 1235.6,152 1236,149 1236.3,146 1236.6,143 1236.9,140 1237.2,137 1237.5,134 1237.8,131 1238.2,128 1238.5,125 1238.7,122 1239,118.9 1239.3,115.9 1239.5,112.9 1239.8,109.9 1240,106.9 1240.3,103.9 1240.6,100.9 1240.8,97.9 1241.1,94.8 1241.3,91.8 1241.6,88.8 1241.9,85.8 1242.1,82.8 1242.4,79.8 1242.7,76.8 1242.9,73.8 1243.2,70.8 1243.5,67.7 1243.8,64.7 1244.1,61.7 1244.4,58.7 1244.7,55.7 1245,52.7 1245.3,49.7 1245.6,46.7 1245.9,43.7 1246.2,40.7 1246.5,37.7 1246.8,34.7 1247.1,31.7 1247.4,28.6 1247.8,25.6 1248.1,22.6 1248.5,19.6 1248.8,16.6 1249.2,13.6 1249.5,10.6 1249.9,7.6 1250.2,4.6 1250.6,1.6 1250.9,-1.4 1251.2,-4.4 1251.6,-7.4 1251.9,-10.4 1252.3,-13.4 1252.5,-14.9" stroke="#a8c0c0"/>
<polyline points="1445.3,-14.9 1445.6,-11.9 1445.9,-8.9 1446.2,-5.9 1446.5,-2.9 1446.8,0.1 1447.1,3.1 1447.4,6.1 1447.7,9.1 1448,12.1 1448.3,15.1 1448.6,18.1 1448.9,21.1 1449.2,24.1 1449.5,27.1 1449.8,30.1 1450.1,33.1 1450.4,36.1 1450.7,39.1 1451,42.1 1451.3,45.1 1451.7,48.1 1452.1,51.1 1452.4,54.1 1452.8,57.1 1453.2,60.1 1453.6,63.1 1453.9,66.1 1454.3,69.1 1454.7,72.1 1455.1,75.1 1455.4,78.1 1455.8,81 1456.2,84 1456.6,87 1457,90 1457.5,93 1458,96 1458.5,98.9 1459.1,101.9 1459.6,104.9 1460.1,107.9 1460.6,110.8 1461.1,113.8 1461.7,116.8 1462.2,119.7 1462.7,122.7 1463.2,125.7 1463.7,128.7 1464.3,131.6 1464.8,134.6 1465.4,137.6 1466,140.5 1466.6,143.5 1467.2,146.4 1467.8,149.4 1468.4,152.4 1468.9,155.3 1469.5,158.3 1470.1,161.2 1470.7,164.2 1471.3,167.2 1471.9,170.1 1472.5,173.1 1473.1,176 1473.8,179 1474.5,181.9 1475.3,184.8 1476.2,187.7 1477,190.6 1477.8,193.5 1478.6,196.4 1479.4,199.3 1480.2,202.2 1481,205.1 1481.8,208 1482.6,211 1483.4,213.9 1484.2,216.8 1485.2,219.6 1486.4,222.4 1487.6,225.2 1488.8,227.9 1490,230.7 1491.2,233.5 1492.3,236.3 1493.5,239 1494.7,241.8 1495.9,244.6 1497.1,247.3 1498.4,250.1 1500,252.6 1501.6,255.2 1503.2,257.7 1504.8,260.3 1506.5,262.8 1508.1,265.4 1509.7,267.9 1511.3,270.4 1513,273 1516.1,276.2 1518.3,278.2 1520.6,280.2 1522.8,282.2 1525.1,284.2 1527.3,286.3 1529.6,288.3 1531.8,290.3 1535.5,292.8 1538.2,294.2 1540.9,295.5 1543.6,296.9 1546.3,298.2 1549,299.6 1551.7,300.9 1554.4,302.3 1557.2,303.4 1560.1,304.3 1563,305.2 1565.9,306 1568.8,306.9 1571.6,307.8 1574.5,308.6 1577.4,309.5 1580.4,310.2 1583.3,310.8 1586.3,311.4 1589.2,311.9 1592.2,312.5 1595.2,313.1 1598.1,313.7 1601.1,314.3 1604.1,314.7 1607,315.2 1610,315.6 1613,316.1 1616,316.5 1619,317 1622,317.4 1625,317.8 1627.9,318.2 1630.9,318.6 1633.9,319 1636.9,319.4 1639.9,319.8 1642.9,320.2 1645.9,320.5 1648.9,320.9 1651.9,321.3 1654.9,321.7" stroke="#a8c0c0"/>
<polyline points="1177.2,354.1 1180.1,353.3 1183,352.5 1186,351.7 1188.9,350.9 1191.8,350.1 1194.7,349.3 1197.6,348.5 1201.1,346.2 1202.9,342.2 1204.1,339.4 1205.3,336.6 1206.5,333.8 1207.5,331 1208.4,328.1 1209.2,325.2 1209.9,322.3 1210.7,319.3 1211.5,316.4 1212.3,313.5 1213.1,310.6 1213.9,307.7 1214.5,304.7 1215.1,301.8 1215.7,298.8 1216.3,295.9 1216.9,292.9 1217.5,289.9 1218.1,287 1218.7,284 1219.3,281 1219.9,278.1 1220.4,275.1 1220.9,272.1 1221.3,269.1 1221.7,266.1 1222.1,263.2 1222.5,260.2 1222.9,257.2 1223.3,254.2 1223.6,251.2 1224,248.2 1224.4,245.2 1224.8,242.2 1225.2,239.2 1225.6,236.2 1226,233.2 1226.4,230.2 1226.8,227.2 1227.2,224.2 1227.5,221.2 1227.8,218.2 1228.1,215.2 1228.4,212.2 1228.7,209.2 1229,206.2 1229.3,203.2 1229.6,200.2 1229.9,197.2 1230.2,194.2 1230.5,191.2 1230.8,188.2 1231.1,185.2 1231.4,182.2 1231.7,179.1 1232,176.1 1232.3,173.1 1232.6,170.1 1232.9,167.1 1233.2,164.1 1233.5,161.1 1233.8,158.1 1234.1,155.1 1234.4,152.1 1234.7,149.1 1235,146.1 1235.3,143.1 1235.6,140.1 1235.9,137.1 1236.2,134.1 1236.5,131.1 1236.7,128 1236.9,125 1237.2,122 1237.4,119 1237.7,116 1237.9,113 1238.2,110 1238.4,107 1238.6,104 1238.9,101 1239.1,97.9 1239.4,94.9 1239.6,91.9 1239.8,88.9 1240.1,85.9 1240.3,82.9 1240.6,79.9 1240.8,76.9 1241,73.9 1241.2,70.8 1241.5,67.8 1241.7,64.8 1241.9,61.8 1242.2,58.8 1242.4,55.8 1242.6,52.8 1242.8,49.8 1243.1,46.8 1243.3,43.7 1243.5,40.7 1243.7,37.7 1244,34.7 1244.2,31.7 1244.5,28.7 1244.7,25.7 1245,22.7 1245.2,19.7 1245.5,16.6 1245.8,13.6 1246,10.6 1246.3,7.6 1246.5,4.6 1246.8,1.6 1247.1,-1.4 1247.3,-4.4 1247.6,-7.4 1247.9,-10.4 1248.1,-13.4 1248.2,-14.9" stroke="#30dcdc"/>
<polyline points="1440.1,-15 1440.3,-12 1440.6,-8.9 1440.8,-5.9 1441,-2.9 1441.2,0.1 1441.5,3.1 1441.7,6.1 1441.9,9.1 1442.1,12.1 1442.4,15.1 1442.6,18.1 1442.8,21.1 1443,24.1 1443.3,27.1 1443.5,30.1 1443.7,33.1 1443.9,36.1 1444.2,39.1 1444.4,42.1 1444.6,45.1 1444.9,48.1 1445.2,51.1 1445.5,54.1 1445.8,57.1 1446.1,60.1 1446.4,63.1 1446.7,66.1 1447,69.1 1447.3,72.1 1447.6,75.1 1447.9,78.1 1448.2,81.1 1448.5,84.1 1448.8,87.1 1449.2,90.1 1449.6,93.1 1450.1,96 1450.5,99 1451,102 1451.4,105 1451.8,108 1452.3,110.9 1452.7,113.9 1453.2,116.9 1453.6,119.9 1454.1,122.9 1454.5,125.8 1455,128.8 1455.4,131.8 1455.9,134.8 1456.4,137.7 1456.9,140.7 1457.5,143.7 1458,146.6 1458.5,149.6 1459,152.6 1459.5,155.5 1460.1,158.5 1460.6,161.5 1461.1,164.4 1461.6,167.4 1462.1,170.4 1462.6,173.3 1463.2,176.3 1463.8,179.3 1464.4,182.2 1465.1,185.1 1465.8,188.1 1466.5,191 1467.2,193.9 1467.9,196.9 1468.6,199.8 1469.3,202.7 1470,205.6 1470.7,208.6 1471.4,211.5 1472.1,214.4 1472.8,217.4 1473.5,220.3 1474.4,223.2 1475.5,226 1476.5,228.8 1477.5,231.7 1478.5,234.5 1479.5,237.3 1480.5,240.2 1481.5,243 1482.5,245.8 1483.6,248.7 1484.6,251.5 1486,254.2 1487.4,256.8 1488.9,259.5 1490.3,262.1 1491.7,264.8 1493.2,267.4 1494.6,270.1 1496.1,272.7 1497.6,275.3 1500.5,278.7 1502.6,280.9 1504.7,283 1506.8,285.1 1509,287.2 1511.1,289.4 1513.3,291.4 1517.1,293.8 1519.7,295.3 1522.4,296.8 1525,298.2 1527.6,299.7 1530.3,301.1 1532.9,302.6 1537.1,304.1 1540,305 1542.9,305.8 1545.8,306.7 1548.7,307.6 1551.6,308.4 1554.5,309.3 1557.4,309.9 1560.4,310.4 1563.3,310.9 1566.3,311.3 1569.3,311.7 1572.3,312.2 1575.3,312.6 1578.2,313 1581.2,313.3 1584.2,313.5 1587.3,313.7 1590.3,313.9 1593.3,314.1 1596.3,314.4 1599.3,314.5 1602.3,314.6 1605.3,314.6 1608.3,314.6 1611.3,314.5 1614.3,314.5 1617.3,314.5 1620.4,314.4 1623.4,314.4 1626.4,314.4 1629.4,314.3 1632.4,314.3 1635.4,314.3 1638.4,314.2 1641.4,314.2 1644.5,314.2 1647.5,314.1 1650.5,314.1 1653.5,314.1 1655,314" stroke="#30dcdc"/>
<polyline points="1177.2,354.1 1180.1,353.3 1183,352.5 1185.9,351.7 1188.9,350.9 1191.8,350.1 1194.7,349.3 1197.6,348.5 1201.1,346.3 1202.9,342.2 1204.1,339.4 1205.3,336.6 1206.5,333.9 1207.5,331 1208.3,328.1 1209.1,325.2 1209.9,322.3 1210.7,319.4 1211.5,316.5 1212.3,313.6 1213.1,310.7 1213.9,307.8 1214.5,304.8 1215,301.8 1215.6,298.9 1216.1,295.9 1216.7,293 1217.3,290 1217.8,287 1218.4,284.1 1218.9,281.1 1219.5,278.1 1220,275.2 1220.6,272.2 1221.1,269.2 1221.5,266.2 1222,263.3 1222.5,260.3 1223,257.3 1223.4,254.3 1223.9,251.3 1224.4,248.4 1224.8,245.4 1225.3,242.4 1225.8,239.4 1226.2,236.4 1226.7,233.5 1227.2,230.5 1227.6,227.5 1228.1,224.5 1228.5,221.5 1229,218.6 1229.4,215.6 1229.9,212.6 1230.3,209.6 1230.8,206.6 1231.2,203.6 1231.7,200.7 1232.1,197.7 1232.6,194.7 1233,191.7 1233.5,188.7 1233.9,185.7 1234.4,182.8 1234.9,179.8 1235.4,176.8 1235.9,173.8 1236.4,170.9 1236.9,167.9 1237.4,164.9 1237.9,161.9 1238.4,159 1238.9,156 1239.4,153 1239.8,150 1240.3,147.1 1240.8,144.1 1241.3,141.1 1241.8,138.1 1242.3,135.2 1242.8,132.2 1243.3,129.2 1243.8,126.2 1244.3,123.3 1244.8,120.3 1245.3,117.3 1245.8,114.3 1246.3,111.4 1246.8,108.4 1247.3,105.4 1247.8,102.4 1248.3,99.5 1248.9,96.5 1249.4,93.5 1249.9,90.5 1250.4,87.6 1250.9,84.6 1251.5,81.6 1252,78.7 1252.5,75.7 1253,72.7 1253.6,69.8 1254.1,66.8 1254.8,63.9 1255.6,60.9 1256.3,58 1257,55.1 1257.8,52.2 1258.6,49.3 1259.8,46.5 1261.1,43.8 1262.5,41.1 1263.8,38.4 1265.1,35.7 1266.3,32.9 1267.3,30.1 1268.4,27.2 1269.4,24.4 1270.5,21.6 1271.5,18.8 1272.5,15.9 1273.4,13 1274.3,10.2 1275.2,7.3 1276.1,4.4 1277,1.5 1277.9,-1.4 1278.8,-4.2 1279.7,-7.1 1280.6,-10 1281.5,-12.9 1282,-14.3" stroke="#e11fe0"/>
<polyline points="1434.5,-15 1434.8,-11.9 1435,-8.9 1435.2,-5.9 1435.4,-2.9 1435.7,0.1 1435.9,3.1 1436.1,6.1 1436.3,9.1 1436.6,12.1 1436.8,15.1 1437,18.1 1437.2,21.1 1437.5,24.2 1437.7,27.2 1437.9,30.2 1438.1,33.2 1438.4,36.2 1438.6,39.2 1438.8,42.2 1439.1,45.2 1439.4,48.2 1439.7,51.2 1440,54.2 1440.3,57.2 1440.6,60.2 1440.9,63.2 1441.2,66.2 1441.5,69.2 1441.8,72.2 1442.1,75.2 1442.4,78.2 1442.7,81.2 1443,84.2 1443.3,87.2 1443.6,90.2 1444,93.2 1444.3,96.2 1444.7,99.2 1445.1,102.2 1445.5,105.2 1445.8,108.2 1446.2,111.2 1446.6,114.2 1447,117.2 1447.3,120.2 1447.7,123.2 1448.1,126.2 1448.5,129.2 1448.8,132.2 1449.3,135.1 1449.8,138.1 1450.3,141.1 1450.8,144.1 1451.4,147 1451.9,150 1452.4,153 1452.9,156 1453.4,158.9 1454,161.9 1454.5,164.9 1455,167.8 1455.5,170.8 1456,173.8 1456.6,176.8 1457.2,179.7 1457.9,182.6 1458.6,185.6 1459.3,188.5 1459.9,191.5 1460.6,194.4 1461.3,197.3 1462,200.3 1462.7,203.2 1463.4,206.1 1464.1,209.1 1464.8,212 1465.5,214.9 1466.2,217.9 1467,220.8 1467.9,223.6 1469,226.5 1470,229.3 1471,232.2 1472,235 1473,237.9 1474,240.7 1475,243.5 1476.1,246.4 1477.1,249.2 1478.2,252 1479.7,254.6 1481.2,257.2 1482.8,259.8 1484.3,262.4 1485.9,265 1487.4,267.6 1489,270.2 1490.6,272.7 1493.5,276.2 1495.6,278.3 1497.7,280.4 1499.8,282.6 1502,284.7 1504.1,286.8 1506.3,288.9 1509.9,291.6 1512.5,293.2 1515.1,294.8 1517.6,296.4 1520.2,298 1522.7,299.5 1526.8,301.5 1529.7,302.5 1532.5,303.4 1535.4,304.4 1538.2,305.3 1541.1,306.3 1544,307.2 1546.9,307.9 1549.9,308.5 1552.8,309.1 1555.8,309.7 1558.7,310.3 1561.7,310.9 1564.6,311.5 1567.6,312 1570.6,312.3 1573.6,312.5 1576.6,312.7 1579.6,313 1582.6,313.2 1585.7,313.5 1588.7,313.7 1591.7,313.9 1594.7,314.2 1597.7,314.4 1600.7,314.6 1603.7,314.7 1606.7,314.8 1609.7,314.8 1612.8,314.9 1615.8,314.9 1618.8,315 1621.8,315 1624.8,315.1 1627.8,315.1 1630.9,315.2 1633.9,315.2 1636.9,315.3 1639.9,315.3 1642.9,315.4 1645.9,315.4 1649,315.5 1652,315.5 1655,315.6" stroke="#e11fe0"/>
<polyline points="1243.8,112.6 1244.5,109.6 1245.2,106.7 1246,103.7 1246.7,100.8 1247.5,97.8 1248.2,94.8 1248.9,91.9 1249.7,88.9 1250.4,85.9 1251.2,83 1252,80 1253,77.2 1254.1,74.3 1255.1,71.5 1256.2,68.6 1257.3,65.7 1258.5,62.9 1260.1,60.4 1262,58 1263.9,55.6 1265.8,53.3 1267.8,50.9 1269.7,48.5 1271.6,46.1 1273.5,43.7 1275.4,41.3 1276.8,38.7 1277.8,35.8 1278.8,32.9 1279.7,30 1280.7,27.1 1281.5,24.2 1282.2,21.2 1282.9,18.2 1283.7,15.3 1284.3,12.3 1284.8,9.3 1285.3,6.3 1285.8,3.3 1286.3,0.3 1286.9,-2.8 1287.4,-5.8 1287.9,-8.8 1288.4,-11.8 1288.9,-14.8" stroke="#e01418" stroke-dasharray="9,6"/>
<polyline points="1432.3,-15 1432.5,-12 1432.8,-8.9 1433,-5.9 1433.2,-2.9 1433.4,0.1 1433.7,3.1 1433.9,6.1 1434.1,9.1 1434.3,12.1 1434.6,15.1 1434.8,18.1 1435,21.1 1435.2,24.1 1435.5,27.1 1435.7,30.1 1435.9,33.1 1436.1,36.2 1436.4,39.2 1436.6,42.2 1436.8,45.2 1437.1,48.2 1437.4,51.2 1437.7,54.2 1438,57.2 1438.3,60.2 1438.6,63.2 1438.9,66.2 1439.2,69.2 1439.5,72.2 1439.8,75.2 1440.1,78.2 1440.4,81.2 1440.7,84.2 1441,87.2 1441.4,90.2 1441.7,93.2 1442.1,96.2 1442.5,99.2 1442.9,102.1 1443.2,105.1 1443.6,108.1 1444,111.1 1444.3,114.1 1444.7,117.1 1445.1,120.1 1445.5,123.1 1445.8,126.1 1446.2,129.1 1446.6,132.1 1447,135 1447.4,138 1447.9,141 1448.3,144 1448.8,147 1449.2,150 1449.7,152.9 1450.1,155.9 1450.6,158.9 1451,161.9 1451.5,164.9 1451.9,167.9 1452.4,170.8 1452.8,173.8 1453.3,176.8 1453.8,179.8 1454.5,182.7 1455.1,185.6 1455.8,188.6 1456.4,191.5 1457.1,194.5 1457.7,197.4 1458.4,200.4 1459,203.3 1459.7,206.2 1460.4,209.2 1461,212.1 1461.7,215.1 1462.4,218 1463.2,220.9 1464.2,223.8 1465.1,226.6 1466.1,229.5 1467,232.3 1468,235.2 1469,238.1 1469.9,240.9 1470.9,243.8 1471.8,246.6 1472.8,249.5 1473.8,252.3 1475.1,255 1476.5,257.7 1477.8,260.4 1479.2,263.1 1480.5,265.8 1481.9,268.5 1483.2,271.2 1485.6,275 1487.7,277.1 1489.9,279.3 1492,281.4 1494.1,283.5 1496.3,285.7 1498.4,287.8 1501.9,290.5 1504.6,291.9 1507.3,293.2 1510,294.6 1512.7,295.9 1515.4,297.3 1518.1,298.6 1520.8,299.9 1523.6,301.1 1526.5,302 1529.3,302.9 1532.2,303.7 1535.1,304.6 1538,305.5 1540.9,306.3 1543.8,307.2 1546.7,307.9 1549.7,308.5 1552.6,309.1 1555.6,309.7 1558.5,310.3 1561.5,310.9 1564.5,311.4 1567.4,311.9 1570.4,312.2 1573.4,312.5 1576.4,312.7 1579.4,313 1582.4,313.2 1585.5,313.4 1588.5,313.7 1591.5,313.9 1594.5,314.2 1597.5,314.4 1600.5,314.6 1603.5,314.9 1606.5,315.1 1609.5,315.4 1612.5,315.6 1615.5,315.8" stroke="#e01418" stroke-dasharray="9,6"/>
<polyline points="1177.2,354.1 1180.1,353.3 1183,352.5 1185.9,351.7 1188.9,350.9 1191.8,350.1 1194.7,349.3 1197.6,348.5 1201.1,346.3 1202.9,342.2 1204.1,339.4 1205.3,336.6 1206.5,333.9 1207.5,331 1208.3,328.1 1209.1,325.2 1209.9,322.3 1210.7,319.4 1211.5,316.5 1212.3,313.6 1213.1,310.7 1213.9,307.8 1214.5,304.8 1215,301.8 1215.6,298.9 1216.1,295.9 1216.7,292.9 1217.3,290 1217.8,287 1218.4,284 1218.9,281.1 1219.5,278.1 1220,275.1 1220.6,272.2 1221.1,269.2 1221.5,266.2 1222,263.2 1222.5,260.3 1223,257.3 1223.4,254.3 1223.9,251.3 1224.4,248.3 1224.8,245.4 1225.3,242.4 1225.8,239.4 1226.3,236.4 1226.7,233.4 1227.2,230.5 1227.6,227.5 1228.1,224.5 1228.5,221.5 1229,218.5 1229.4,215.5 1229.9,212.6 1230.3,209.6 1230.8,206.6 1231.2,203.6 1231.7,200.6 1232.1,197.6 1232.6,194.7 1233,191.7 1233.5,188.7 1233.9,185.7 1234.4,182.7 1234.9,179.8 1235.5,176.8 1236,173.8 1236.5,170.8 1237,167.9 1237.6,164.9 1238.1,161.9 1238.6,159 1239.1,156 1239.7,153 1240.2,150.1 1240.7,147.1 1241.4,144.2 1242.2,141.2 1242.9,138.3 1243.6,135.4 1244.4,132.4 1245.1,129.5 1245.8,126.6 1246.6,123.7 1247.4,120.8 1249.5,116.8 1251.1,114.2 1252.6,111.6 1254.2,109 1255.7,106.4 1257.2,103.8 1258.7,101.2 1260.2,98.6 1261.6,95.9 1263.1,93.3 1264.5,90.6 1265.8,87.9 1267.2,85.2 1268.5,82.5 1269.8,79.8 1270.8,76.9 1271.7,74.1 1272.7,71.2 1273.6,68.4 1274.6,65.5 1275.5,62.6 1276.4,59.7 1276.8,56.8 1277.3,53.8 1277.7,50.8 1278.1,47.8 1278.5,44.8 1278.9,41.8 1279.3,38.8 1279.7,35.8 1280.1,32.8 1280.4,29.9 1280.8,26.9 1281.4,23.9 1281.9,20.9 1282.5,18 1283,15 1283.6,12 1284.1,9.1 1284.5,6.1 1284.9,3.1 1285.3,0.1 1285.6,-2.9 1286,-5.9 1286.4,-8.9 1286.8,-11.9 1287.1,-14.9" stroke="#e01418"/>
<polyline points="1428,-15 1428.2,-12 1428.4,-9 1428.6,-6 1428.8,-3 1429,0.1 1429.2,3.1 1429.4,6.1 1429.6,9.1 1429.8,12.1 1430,15.1 1430.2,18.1 1430.4,21.1 1430.6,24.1 1430.8,27.1 1431,30.1 1431.2,33.1 1431.4,36.1 1431.6,39.1 1431.8,42.1 1432.1,45.1 1432.3,48.1 1432.5,51.1 1432.7,54.1 1433,57.1 1433.2,60.1 1433.4,63.1 1433.6,66.1 1433.9,69.1 1434.1,72.1 1434.3,75.1 1434.6,78.1 1434.9,81.1 1435.2,84.1 1435.5,87.1 1435.8,90.1 1436.1,93.1 1436.4,96.1 1436.7,99.1 1436.9,102.1 1437.2,105.1 1437.5,108.1 1437.8,111.1 1438.1,114.1 1438.4,117.1 1438.7,120.1 1439.1,123.1 1439.4,126 1439.8,129 1440.2,132 1440.6,135 1440.9,138 1441.3,141 1441.7,144 1442,147 1442.4,149.9 1442.8,152.9 1443.2,155.9 1443.5,158.9 1443.9,161.9 1444.3,164.9 1444.7,167.8 1445.3,170.8 1445.9,173.8 1446.5,176.7 1447.1,179.7 1447.7,182.6 1448.3,185.6 1448.8,188.5 1449.4,191.5 1450,194.4 1450.6,197.4 1451.2,200.3 1452,203.2 1452.7,206.1 1453.5,209.1 1454.3,212 1455.1,214.9 1455.8,217.8 1456.6,220.7 1457.4,223.6 1458.2,226.5 1458.9,229.4 1459.7,232.3 1460.6,235.2 1461.7,238 1462.8,240.8 1463.9,243.6 1465,246.4 1466,249.2 1467.1,252 1468.2,254.9 1469.3,257.7 1470.4,260.5 1472.4,264.5 1474,267 1475.7,269.5 1477.4,272 1479,274.5 1480.7,277 1482.4,279.5 1484.1,282 1487.2,285.2 1489.5,287.1 1491.8,289.1 1494.1,291.1 1496.4,293 1498.7,295 1502.5,297.2 1505.3,298.4 1508.1,299.5 1510.9,300.6 1513.7,301.7 1516.5,302.8 1519.3,304 1522.1,305 1524.9,305.9 1527.9,306.6 1530.8,307.3 1533.7,308.1 1536.6,308.8 1539.5,309.5 1542.5,310.3 1545.4,310.9 1548.4,311.4 1551.4,311.8 1554.3,312.3 1557.3,312.7 1560.3,313.2 1563.3,313.6 1566.2,314 1569.2,314.3 1572.2,314.4 1575.3,314.5 1578.3,314.6 1581.3,314.7 1584.3,314.8 1587.3,314.9 1590.3,315 1593.3,315.1 1596.3,315.2 1599.3,315.3 1602.3,315.4 1605.3,315.5 1608.4,315.5 1611.4,315.6 1614.4,315.7 1617.4,315.8 1620.4,315.9 1623.4,316 1626.4,316.1 1629.4,316.1 1632.4,316.2 1635.4,316.3 1638.4,316.4 1641.5,316.5 1644.5,316.6 1647.5,316.6 1650.5,316.7 1653.5,316.8 1655,316.9" stroke="#e01418"/>
</g>
<g clip-path="url(#cpj)" fill="none" stroke-width="2.5" stroke-linejoin="round" stroke-linecap="butt">
<polyline points="1625.5,350.1 1628.5,350.1 1631.5,350.1 1634.5,350.1 1637.5,350.1 1640.5,350.1 1644.5,348.7 1646.9,346.8 1649.3,345 1652.3,341.7 1653.7,339.1 1655,336.4 1656.4,333.7 1657.7,331 1659,328.3 1660.4,325.6 1661.4,322.8 1662.5,319.9 1663.5,317.1 1664.5,314.3 1665.6,311.5 1666.6,308.6 1667.6,305.8 1668.7,303 1669.7,300.1 1670.8,297.3 1671.9,294.5 1672.9,291.7 1674,288.9 1675.1,286.1 1676.2,283.3 1677.3,280.5 1678.3,277.7 1679.4,274.9 1680.5,272.1 1683.2,268.4 1685,266.1 1686.9,263.7 1688.7,261.3 1690.5,258.9 1693.9,256 1696.5,254.4 1699,252.8 1703.2,252.4 1706.1,253.2 1709,253.9 1713,256.1 1715.5,257.6 1718.1,259.2 1720.7,260.8 1723.1,262.5 1725.5,264.3 1727.9,266.2 1730.3,268 1732.7,269.8 1735.1,271.6 1737.6,273.4 1740.1,275 1742.7,276.4 1745.4,277.9 1749.4,279.6 1752.4,279.7 1755.4,279.7 1759.5,278.7 1761.7,276.6 1763.8,274.4 1765.9,272.3 1768.8,268.9 1770.1,264.6 1771,261.7 1771.9,258.8 1772.8,256 1773.7,253.1 1774.6,250.2 1775.5,247.3 1776.3,244.5 1777.2,241.6 1777.8,238.6 1778.2,235.6 1778.6,232.7 1779,229.7 1779.4,226.7 1779.9,223.7 1780.3,220.7 1780.7,217.8 1781.1,214.8 1781.5,211.8 1781.9,208.8 1782.3,205.8 1782.8,202.8 1783.1,199.9 1783.4,196.9 1783.7,193.9 1784,190.9 1784.3,187.9 1784.6,184.9 1784.9,181.9 1785.2,178.9 1785.5,175.9 1785.8,172.9 1786.1,169.9 1786.4,166.9 1786.7,163.9 1787,160.9 1787.3,157.9 1787.6,154.9 1787.7,151.9 1787.9,148.9 1788,145.9 1788.2,142.9 1788.3,139.9 1788.5,136.9 1788.6,133.9 1788.8,130.9 1788.9,127.9 1789.1,124.9 1789.2,121.9 1789.4,118.8 1789.5,115.8 1789.7,112.8 1789.8,109.8 1789.9,106.8 1790.1,103.8 1790.2,100.8 1790.3,97.8 1790.4,94.8 1790.5,91.8 1790.7,88.8 1790.8,85.8 1790.9,82.8 1791,79.7 1791.1,76.7 1791.3,73.7 1791.4,70.7 1791.5,67.7 1791.6,64.7 1791.7,61.7 1791.9,58.7 1792,55.7 1792.1,52.7 1792.3,49.7 1792.4,46.7 1792.6,43.7 1792.7,40.6 1792.9,37.6 1793,34.6 1793.1,31.6 1793.3,28.6 1793.4,25.6 1793.6,22.6 1793.7,19.6 1793.9,16.6 1794,13.6 1794.2,10.6 1794.3,7.6 1794.4,4.6 1794.6,1.6 1794.7,-1.5 1794.9,-4.5 1795,-7.5 1795.2,-10.5 1795.3,-13.5 1795.4,-15" stroke="#1f6fd8"/>
<polyline points="1844.3,-15 1844.6,-12 1844.8,-8.9 1845,-5.9 1845.3,-2.9 1845.5,0.1 1845.7,3.1 1845.9,6.1 1846.2,9.1 1846.4,12.1 1846.6,15.1 1846.8,18.1 1847.1,21.1 1847.3,24.1 1847.5,27.1 1847.7,30.1 1848,33.1 1848.2,36.1 1848.4,39.1 1848.6,42.1 1848.9,45.1 1849.1,48.1 1849.3,51.1 1849.5,54.1 1849.8,57.1 1850,60.1 1850.2,63.1 1850.4,66.2 1850.7,69.2 1850.9,72.2 1851.1,75.2 1851.3,78.2 1851.6,81.2 1851.8,84.2 1852,87.2 1852.2,90.2 1852.4,93.2 1852.6,96.2 1852.8,99.2 1852.9,102.2 1853.1,105.2 1853.3,108.2 1853.5,111.2 1853.7,114.2 1853.8,117.2 1854,120.3 1854.2,123.3 1854.4,126.3 1854.6,129.3 1854.7,132.3 1854.9,135.3 1855.1,138.3 1855.3,141.3 1855.5,144.3 1855.7,147.3 1856,150.3 1856.3,153.3 1856.6,156.3 1856.9,159.3 1857.2,162.3 1857.5,165.3 1857.8,168.3 1858.1,171.3 1858.4,174.3 1858.8,177.3 1859.3,180.2 1860,183.2 1860.6,186.1 1861.3,189.1 1862,192 1862.6,194.9 1863.3,197.9 1864,200.8 1864.6,203.7 1865.3,206.7 1866,209.6 1866.7,212.5 1867.3,215.5 1868,218.4 1868.7,221.4 1869.4,224.3 1870,227.2 1870.7,230.2 1871.4,233.1 1872.1,236 1872.8,239 1873.6,241.9 1874.6,244.7 1875.6,247.5 1876.7,250.4 1877.7,253.2 1878.7,256 1879.8,258.8 1880.8,261.7 1881.9,264.5 1884.1,268.4 1885.7,271 1887.3,273.5 1888.9,276.1 1890.5,278.6 1892.1,281.2 1895,284.5 1897.3,286.4 1899.6,288.4 1902,290.3 1904.3,292.2 1906.7,294.1 1909.3,295.5 1912,296.9 1914.7,298.2 1917.4,299.5 1920.1,300.9 1922.8,302.2 1925.4,303.6 1928.2,304.9 1932.5,306.2 1935.4,306.9 1938.3,307.7 1941.2,308.4 1944.2,309.1 1947.1,309.8 1950,310.6 1953,311 1956,311.3 1959,311.6 1962,311.9 1965,312.2 1968,312.5 1971,312.8 1974,313.1 1977,313.3 1980,313.4 1983,313.6 1986,313.7 1989,313.9 1992,314 1995,314.2 1998,314.3 2001,314.3 2004,314.4 2007.1,314.4 2010.1,314.5 2013.1,314.6 2016.1,314.6 2019.1,314.7 2022.1,314.8 2025.1,314.9 2028.1,315 2031.1,315 2034.2,315.1 2037.2,315.2 2040.2,315.3 2043.2,315.3 2046.2,315.3 2049.2,315.3 2052.2,315.3 2055.2,315.3 2058.3,315.3 2061.3,315.3 2064.3,315.3 2067.3,315.3 2070.3,315.3 2073.3,315.3 2076.3,315.3 2079.3,315.3 2082.4,315.3 2085.4,315.3 2088.4,315.3 2091.4,315.3 2094.4,315.3 2097.4,315.3 2100.4,315.3 2103.4,315.3 2106.5,315.3 2109.5,315.3 2112.5,315.3 2115.5,315.3 2117,315.3" stroke="#1f6fd8"/>
<polyline points="1630.5,354.1 1633.4,353.3 1636.3,352.5 1639.2,351.7 1642.1,350.9 1645,350.1 1647.9,349.3 1650.8,348.5 1654.7,346.5 1656.6,344.2 1658.5,341.8 1660.4,339.5 1662.2,337.1 1664.2,333.1 1665.5,330.3 1666.7,327.6 1667.9,324.8 1669.2,322.1 1670.4,319.3 1671.6,316.6 1672.6,313.7 1673.7,310.9 1674.7,308.1 1675.7,305.2 1676.8,302.4 1677.8,299.6 1678.8,296.7 1679.9,293.9 1680.9,291 1681.9,288.2 1682.9,285.4 1683.9,282.5 1684.9,279.7 1686,276.8 1687,274 1688,271.2 1689,268.3 1690,265.5 1691,262.6 1692.1,259.8 1693.2,257 1694.3,254.2 1695.4,251.4 1696.6,248.6 1697.7,245.8 1698.8,243 1699.9,240.2 1702.2,236.3 1703.9,233.9 1705.7,231.4 1707.5,229 1709.3,226.6 1713.2,224.4 1715.9,223 1718.6,221.7 1722.8,221.1 1725.7,221.9 1728.6,222.6 1732.6,224.7 1735.2,226.2 1737.8,227.8 1740.4,229.3 1743.1,230.7 1745.8,232 1748.5,233.4 1752.8,234 1755.9,234 1759.6,232.5 1761.4,230.1 1763.1,227.6 1764.9,225.1 1766.6,222.7 1768.4,220.2 1770.1,216.2 1770.6,213.2 1771.1,210.2 1771.7,207.3 1772.2,204.3 1772.7,201.3 1773.2,198.3 1773.7,195.4 1774.3,192.4 1774.8,189.4 1775.3,186.5 1775.8,183.5 1776.3,180.5 1776.9,177.5 1777.4,174.6 1777.8,171.6 1778.1,168.6 1778.4,165.6 1778.8,162.6 1779.1,159.6 1779.4,156.6 1779.8,153.6 1780.1,150.6 1780.4,147.6 1780.8,144.6 1781.1,141.6 1781.4,138.6 1781.8,135.6 1782,132.6 1782.2,129.6 1782.4,126.6 1782.6,123.6 1782.7,120.6 1782.9,117.5 1783.1,114.5 1783.3,111.5 1783.5,108.5 1783.7,105.5 1783.8,102.5 1784,99.5 1784.2,96.5 1784.4,93.5 1784.6,90.4 1784.7,87.4 1784.9,84.4 1785.1,81.4 1785.3,78.4 1785.4,75.4 1785.6,72.4 1785.7,69.4 1785.9,66.4 1786,63.3 1786.2,60.3 1786.3,57.3 1786.5,54.3 1786.6,51.3 1786.8,48.3 1786.9,45.3 1787.1,42.3 1787.2,39.2 1787.4,36.2 1787.5,33.2 1787.7,30.2 1787.9,27.2 1788,24.2 1788.2,21.2 1788.3,18.2 1788.5,15.1 1788.7,12.1 1788.8,9.1 1789,6.1 1789.1,3.1 1789.3,0.1 1789.5,-2.9 1789.6,-5.9 1789.8,-9 1790,-12 1790.1,-15" stroke="#62c462"/>
<polyline points="1856.6,-15 1856.8,-12 1857.1,-9 1857.3,-6 1857.5,-3 1857.7,0.1 1858,3.1 1858.2,6.1 1858.4,9.1 1858.6,12.1 1858.9,15.1 1859.1,18.1 1859.3,21.1 1859.5,24.1 1859.8,27.1 1860,30.1 1860.2,33.1 1860.4,36.1 1860.7,39.1 1860.9,42.1 1861.1,45.1 1861.3,48.1 1861.5,51.1 1861.7,54.1 1862,57.1 1862.2,60.1 1862.4,63.1 1862.6,66.1 1862.8,69.1 1863,72.1 1863.2,75.1 1863.4,78.1 1863.7,81.1 1863.9,84.1 1864.1,87.1 1864.3,90.1 1864.5,93.1 1864.8,96.1 1865,99.1 1865.2,102.1 1865.4,105.1 1865.7,108.1 1865.9,111.1 1866.1,114.1 1866.3,117.1 1866.6,120.1 1866.8,123.1 1867,126.1 1867.2,129.1 1867.5,132.1 1867.7,135.1 1868,138.1 1868.3,141.1 1868.6,144.1 1868.9,147.1 1869.2,150.1 1869.5,153.1 1869.8,156.1 1870.1,159.1 1870.4,162.1 1870.7,165.1 1871,168.1 1871.3,171.1 1871.6,174.1 1871.9,177.1 1872.3,180 1872.7,183 1873.2,186 1873.6,189 1874,192 1874.5,194.9 1874.9,197.9 1875.4,200.9 1875.8,203.9 1876.2,206.9 1876.7,209.8 1877.1,212.8 1877.6,215.8 1878.3,218.7 1879.1,221.6 1879.8,224.5 1880.6,227.4 1881.4,230.3 1882.2,233.2 1882.9,236.2 1883.7,239.1 1884.5,242 1885.3,244.9 1886,247.8 1887.6,252 1888.9,254.7 1890.1,257.5 1891.3,260.2 1892.6,263 1893.8,265.7 1895.1,268.4 1896.3,271.2 1898.6,275.1 1900.5,277.4 1902.5,279.6 1904.5,281.9 1906.5,284.1 1908.4,286.4 1910.4,288.7 1912.4,290.9 1916.1,293.5 1918.7,294.9 1921.3,296.4 1924,297.9 1926.6,299.3 1929.2,300.8 1931.9,302.2 1936,303.9 1938.9,304.7 1941.8,305.6 1944.7,306.5 1947.6,307.3 1950.5,308.2 1953.3,309.1 1956.2,309.8 1959.2,310.3 1962.2,310.7 1965.2,311.2 1968.1,311.6 1971.1,312.1 1974.1,312.5 1977.1,312.9 1980.1,313.2 1983.1,313.4 1986.1,313.5 1989.1,313.7 1992.1,313.8 1995.1,314 1998.1,314.1 2001.1,314.2 2004.1,314.3 2007.1,314.3 2010.1,314.3 2013.2,314.4 2016.2,314.4 2019.2,314.4 2022.2,314.5 2025.2,314.5 2028.2,314.5 2031.2,314.6 2034.2,314.6 2037.2,314.6 2040.2,314.7 2043.3,314.7 2046.3,314.7 2049.3,314.7 2052.3,314.8 2055.3,314.8 2058.3,314.8 2061.3,314.9 2064.3,314.9 2067.3,314.9 2070.3,315 2073.4,315 2076.4,315 2079.4,315.1 2082.4,315.1 2085.4,315.1 2088.4,315.2 2091.4,315.2 2094.4,315.2 2097.4,315.3 2100.4,315.3 2103.5,315.3 2106.5,315.4 2109.5,315.4 2112.5,315.4 2115.5,315.5 2117,315.5" stroke="#62c462"/>
<polyline points="1632.2,360.8 1634.3,358.7 1636.4,356.5 1638.5,354.3 1640.6,352.2 1642.7,350 1644.8,347.9 1646.9,345.7 1649.1,343.6 1651.8,340.1 1652.5,337.2 1653.3,334.3 1654,331.3 1654.7,328.4 1655.5,325.5 1656.2,322.6 1656.9,319.6 1657.7,316.7 1658.4,313.8 1659.1,310.9 1659.9,307.9 1660.5,305 1660.9,302 1661.3,299 1661.6,296 1662,293 1662.3,290 1662.7,287 1663.1,284 1663.4,281.1 1663.8,278.1 1664.1,275.1 1664.5,272.1 1664.9,269.1 1665.2,266.1 1665.6,263.1 1665.9,260.1 1666.3,257.1 1666.7,254.1 1667,251.1 1667.3,248.1 1667.6,245.1 1667.9,242.1 1668.2,239.1 1668.5,236.1 1668.8,233.1 1669.1,230.1 1669.4,227.1 1669.7,224.1 1670,221.1 1670.3,218.1 1670.6,215.1 1670.9,212.1 1671.2,209.1 1671.5,206.1 1671.8,203.1 1672.1,200.1 1672.4,197.1 1672.7,194.1 1673,191.1 1673.2,188.1 1673.5,185.1 1673.7,182.1 1673.9,179.1 1674.2,176.1 1674.4,173.1 1674.7,170.1 1674.9,167.1 1675.2,164.1 1675.4,161.1 1675.6,158.1 1675.9,155.1 1676.1,152.1 1676.4,149.1 1676.6,146.1 1676.8,143.1 1677.1,140 1677.3,137 1677.5,134 1677.7,131 1677.8,128 1678,125 1678.2,122 1678.4,119 1678.6,116 1678.7,113 1678.9,110 1679.1,106.9 1679.3,103.9 1679.5,100.9 1679.6,97.9 1679.8,94.9 1680,91.9 1680.2,88.9 1680.4,85.9 1680.5,82.9 1680.7,79.9 1680.8,76.9 1681,73.8 1681.1,70.8 1681.2,67.8 1681.4,64.8 1681.5,61.8 1681.6,58.8 1681.8,55.8 1681.9,52.8 1682.1,49.7 1682.2,46.7 1682.3,43.7 1682.5,40.7 1682.6,37.7 1682.7,34.7 1682.9,31.7 1683.1,28.7 1683.2,25.7 1683.4,22.6 1683.5,19.6 1683.7,16.6 1683.9,13.6 1684,10.6 1684.2,7.6 1684.3,4.6 1684.5,1.6 1684.7,-1.4 1684.8,-4.4 1685,-7.5 1685.1,-10.5 1685.3,-13.5 1685.4,-15" stroke="#a8c0c0"/>
<polyline points="1734.4,-14.9 1734.8,-11.9 1735.2,-8.9 1735.5,-5.9 1735.9,-2.9 1736.3,0.1 1736.7,3.1 1737,6.1 1737.4,9.1 1737.8,12.1 1738.2,15.1 1738.5,18.1 1738.9,21.2 1739.3,24.2 1739.7,27.2 1740.2,30.1 1740.7,33.1 1741.2,36.1 1741.8,39.1 1742.3,42.1 1742.8,45 1743.3,48 1743.8,51 1744.4,54 1744.9,57 1745.4,60 1745.9,62.9 1746.4,65.9 1747,68.9 1747.5,71.9 1748,74.9 1750.8,72.5 1751.9,69.7 1753.1,66.9 1754.2,64.1 1755.4,61.3 1756.5,58.5 1757.6,55.7 1758.6,52.9 1758.9,49.9 1759.3,46.9 1759.6,43.9 1759.9,40.9 1760.2,37.8 1760.6,34.8 1760.9,31.8 1761.2,28.8 1761.5,25.8 1761.8,22.8 1762,19.8 1762.2,16.8 1762.3,13.7 1762.5,10.7 1762.6,7.7 1762.8,4.7 1762.9,1.6 1763.1,-1.4 1763.2,-4.4 1763.4,-7.4 1763.5,-10.4 1763.7,-13.5 1763.8,-15" stroke="#a8c0c0"/>
<polyline points="1891,-15 1891.2,-11.9 1891.4,-8.9 1891.6,-5.9 1891.9,-2.9 1892.1,0.1 1892.3,3.1 1892.5,6.1 1892.8,9.1 1893,12.1 1893.2,15.1 1893.4,18.1 1893.7,21.2 1893.9,24.2 1894.1,27.2 1894.3,30.2 1894.6,33.2 1894.8,36.2 1895,39.2 1895.3,42.2 1895.5,45.2 1895.8,48.2 1896.1,51.2 1896.4,54.2 1896.7,57.2 1897,60.2 1897.3,63.2 1897.6,66.3 1897.9,69.3 1898.2,72.3 1898.5,75.3 1898.8,78.3 1899.1,81.3 1899.4,84.3 1899.7,87.3 1900,90.3 1900.4,93.3 1900.8,96.3 1901.1,99.3 1901.5,102.3 1901.9,105.2 1902.3,108.2 1902.6,111.2 1903,114.2 1903.4,117.2 1903.8,120.2 1904.1,123.2 1904.5,126.2 1904.9,129.2 1905.3,132.2 1905.7,135.2 1906.1,138.2 1906.6,141.2 1907,144.1 1907.5,147.1 1907.9,150.1 1908.4,153.1 1908.8,156.1 1909.3,159.1 1909.7,162.1 1910.2,165 1910.6,168 1911,171 1911.5,174 1912,177 1912.5,179.9 1913.2,182.9 1913.9,185.8 1914.6,188.7 1915.3,191.7 1916,194.6 1916.7,197.6 1917.4,200.5 1918.1,203.4 1918.8,206.4 1919.4,209.3 1920.1,212.2 1920.9,215.2 1921.7,218.1 1922.7,220.9 1923.8,223.7 1924.8,226.6 1925.8,229.4 1926.8,232.3 1927.8,235.1 1928.8,238 1929.9,240.8 1930.9,243.6 1931.9,246.5 1933.2,249.2 1934.6,251.8 1936.1,254.5 1937.5,257.2 1938.9,259.8 1940.4,262.5 1941.8,265.1 1943.3,267.8 1944.7,270.4 1946.2,273 1948.9,276.6 1950.9,278.9 1952.9,281.2 1954.9,283.4 1956.8,285.7 1958.8,288 1960.8,290.2 1963,292.4 1965.3,294.2 1967.8,296 1970.2,297.8 1972.6,299.6 1975,301.5 1977.4,303.3 1979.9,305 1984,306.8 1986.8,307.9 1989.6,309 1992.4,310.1 1995.2,311.2 1998.1,312.3 2002.4,313.3 2005.4,313.6 2008.4,313.9 2011.4,314.2 2014.4,314.5 2017.4,314.8 2020.4,315.1 2023.4,315.3 2026.5,315.3 2029.5,315.3 2032.5,315.3 2035.5,315.3 2038.5,315.3 2041.6,315.3 2044.6,315.3 2047.6,315.3 2050.6,315.3 2053.6,315.3 2056.6,315.3 2059.7,315.3 2062.7,315.3 2065.7,315.3 2068.7,315.2 2071.7,315.2 2074.8,315.1 2077.8,315.1 2080.8,315 2083.8,315 2086.8,314.9 2089.8,314.9 2092.9,314.8 2095.9,314.8 2098.9,314.7 2101.9,314.7 2104.9,314.6 2107.9,314.6 2111,314.5 2114,314.4 2117,314.4" stroke="#a8c0c0"/>
<polyline points="1632.2,360.8 1634.3,358.7 1636.4,356.5 1638.5,354.3 1640.6,352.2 1642.7,350 1644.8,347.9 1646.9,345.7 1649.1,343.6 1651.1,341.4 1652.5,337.2 1653.3,334.2 1654,331.3 1654.7,328.4 1655.5,325.5 1656.2,322.5 1656.9,319.6 1657.7,316.7 1658.4,313.8 1659.1,310.8 1659.9,307.9 1660.5,305 1660.9,302 1661.3,299 1661.6,296 1662,293 1662.3,290 1662.7,287 1663.1,284 1663.4,281 1663.8,278 1664.1,275 1664.5,272.1 1664.9,269.1 1665.2,266.1 1665.6,263.1 1665.9,260.1 1666.3,257.1 1666.7,254.1 1667,251.1 1667.3,248.1 1667.6,245.1 1667.9,242.1 1668.2,239.1 1668.5,236.1 1668.8,233.1 1669.1,230.1 1669.4,227.1 1669.7,224.1 1670,221.1 1670.3,218.1 1670.6,215.1 1670.9,212.1 1671.2,209.1 1671.5,206.1 1671.8,203.1 1672.1,200.1 1672.4,197.1 1672.7,194.1 1673,191.1 1673.2,188.1 1673.5,185.1 1673.7,182.1 1674,179.1 1674.2,176.1 1674.4,173.1 1674.7,170 1674.9,167 1675.2,164 1675.4,161 1675.6,158 1675.9,155 1676.1,152 1676.4,149 1676.6,146 1676.8,143 1677.1,140 1677.3,137 1677.5,134 1677.7,131 1677.8,128 1678,124.9 1678.2,121.9 1678.4,118.9 1678.6,115.9 1678.7,112.9 1678.9,109.9 1679.1,106.9 1679.3,103.9 1679.5,100.9 1679.6,97.9 1679.8,94.8 1680,91.8 1680.2,88.8 1680.4,85.8 1680.5,82.8 1680.7,79.8 1681,76.8 1681.2,73.8 1681.4,70.8 1681.6,67.8 1681.8,64.8 1682,61.7 1682.2,58.7 1682.4,55.7 1682.6,52.7 1682.8,49.7 1683,46.7 1683.2,43.7 1683.4,40.7 1683.6,37.7 1683.8,34.7 1684,31.7 1684.2,28.7 1684.4,25.6 1684.6,22.6 1684.8,19.6 1685,16.6 1685.2,13.6 1685.4,10.6 1685.6,7.6 1685.8,4.6 1686,1.6 1686.2,-1.4 1686.4,-4.4 1686.6,-7.4 1686.8,-10.5 1687,-13.5 1687.1,-15" stroke="#f0b41e"/>
<polyline points="1902.1,-15 1902.3,-11.9 1902.6,-8.9 1902.8,-5.9 1903,-2.9 1903.2,0.1 1903.5,3.1 1903.7,6.1 1903.9,9.1 1904.1,12.1 1904.4,15.1 1904.6,18.2 1904.8,21.2 1905,24.2 1905.3,27.2 1905.5,30.2 1905.7,33.2 1905.9,36.2 1906.2,39.2 1906.4,42.2 1906.7,45.2 1907,48.2 1907.4,51.2 1907.8,54.2 1908.1,57.2 1908.5,60.2 1908.9,63.2 1909.3,66.2 1909.6,69.2 1910,72.2 1910.4,75.2 1910.8,78.2 1911.1,81.2 1911.5,84.2 1911.9,87.2 1912.3,90.2 1912.7,93.1 1913.2,96.1 1913.6,99.1 1914.1,102.1 1914.5,105.1 1915,108.1 1915.4,111.1 1915.9,114 1916.3,117 1916.8,120 1917.2,123 1917.7,126 1918.1,129 1918.6,131.9 1919,134.9 1919.6,137.9 1920.1,140.9 1920.6,143.8 1921.1,146.8 1921.6,149.8 1922.2,152.8 1922.7,155.7 1923.2,158.7 1923.7,161.7 1924.2,164.7 1924.8,167.6 1925.3,170.6 1925.8,173.6 1926.3,176.5 1926.9,179.5 1927.7,182.4 1928.4,185.4 1929.1,188.3 1929.9,191.2 1930.6,194.1 1931.3,197.1 1932.1,200 1932.8,202.9 1933.5,205.9 1934.3,208.8 1935,211.7 1935.7,214.6 1936.5,217.6 1937.4,220.4 1938.4,223.3 1939.5,226.1 1940.5,228.9 1941.6,231.8 1942.6,234.6 1943.6,237.4 1944.7,240.3 1945.7,243.1 1946.8,245.9 1947.8,248.8 1948.9,251.6 1950.3,254.2 1951.8,256.8 1953.4,259.4 1954.9,262 1956.4,264.7 1957.9,267.3 1959.4,269.9 1961,272.5 1962.5,275.1 1964.1,277.7 1967,281 1969.1,283.2 1971.3,285.3 1973.4,287.5 1975.5,289.6 1977.7,291.7 1979.8,293.9 1982,295.9 1985.8,298.3 1988.4,299.8 1991.1,301.2 1993.7,302.7 1996.4,304.2 1999,305.6 2001.7,307 2005.9,308.4 2008.9,309.1 2011.8,309.9 2014.7,310.6 2017.7,311.3 2020.6,312.1 2023.5,312.8 2026.5,313.2 2029.5,313.4 2032.5,313.5 2035.5,313.7 2038.6,313.9 2041.6,314.1 2044.6,314.3 2047.6,314.4 2050.6,314.6 2053.6,314.7 2056.6,314.7 2059.7,314.8 2062.7,314.8 2065.7,314.8 2068.7,314.9 2071.7,314.9 2074.7,315 2077.8,315 2080.8,315 2083.8,315.1 2086.8,315.1 2089.8,315.2 2092.9,315.2 2095.9,315.2 2098.9,315.3 2101.9,315.3 2104.9,315.4 2107.9,315.4 2111,315.4 2114,315.5 2117,315.5" stroke="#f0b41e"/>
<polyline points="1630.5,360.2 1632.7,358.2 1634.9,356.1 1637.2,354.1 1639.4,352.1 1641.6,350 1643.9,348 1646.1,346 1648.3,343.9 1650.6,341.9 1652.3,337.9 1653,335 1653.7,332 1654.4,329.1 1655.1,326.1 1655.8,323.2 1656.5,320.3 1657.2,317.3 1657.8,314.4 1658.5,311.5 1659.2,308.5 1659.9,305.6 1660.5,302.6 1660.9,299.6 1661.3,296.6 1661.6,293.6 1661.9,290.6 1662.3,287.6 1662.6,284.6 1663,281.6 1663.3,278.6 1663.7,275.6 1664,272.7 1664.4,269.7 1664.7,266.7 1665.1,263.7 1665.4,260.7 1665.8,257.7 1666.1,254.7 1666.4,251.7 1666.8,248.7 1667.1,245.7 1667.4,242.7 1667.6,239.6 1667.9,236.6 1668.1,233.6 1668.4,230.6 1668.6,227.6 1668.8,224.6 1669.1,221.6 1669.3,218.6 1669.6,215.6 1669.8,212.6 1670,209.6 1670.3,206.6 1670.5,203.5 1670.8,200.5 1671,197.5 1671.2,194.5 1671.5,191.5 1671.7,188.5 1671.9,185.5 1672.1,182.5 1672.3,179.5 1672.4,176.4 1672.6,173.4 1672.8,170.4 1673,167.4 1673.2,164.4 1673.3,161.4 1673.5,158.4 1673.7,155.4 1673.9,152.3 1674.1,149.3 1674.2,146.3 1674.4,143.3 1674.6,140.3 1674.8,137.3 1675,134.3 1675.1,131.2 1675.2,128.2 1675.3,125.2 1675.5,122.2 1675.6,119.2 1675.7,116.2 1675.8,113.2 1675.9,110.1 1676.1,107.1 1676.2,104.1 1676.3,101.1 1676.4,98.1 1676.5,95.1 1676.7,92 1676.8,89 1676.9,86 1677,83 1677.1,80 1677.3,77 1677.4,73.9 1677.6,70.9 1677.7,67.9 1677.9,64.9 1678,61.9 1678.2,58.9 1678.3,55.9 1678.5,52.8 1678.6,49.8 1678.8,46.8 1678.9,43.8 1679.1,40.8 1679.2,37.8 1679.4,34.8 1679.5,31.7 1679.7,28.7 1679.9,25.7 1680,22.7 1680.2,19.7 1680.3,16.7 1680.5,13.7 1680.7,10.6 1680.8,7.6 1681,4.6 1681.2,1.6 1681.3,-1.4 1681.5,-4.4 1681.6,-7.4 1681.8,-10.5 1682,-13.5 1682,-15" stroke="#6a18dc"/>
<polyline points="1921,-15 1921.3,-11.9 1921.5,-8.9 1921.7,-5.9 1921.9,-2.9 1922.2,0.1 1922.4,3.1 1922.6,6.1 1922.9,9.1 1923.1,12.1 1923.3,15.1 1923.5,18.1 1923.8,21.2 1924,24.2 1924.2,27.2 1924.4,30.2 1924.7,33.2 1924.9,36.2 1925.1,39.2 1925.3,42.2 1925.6,45.2 1926,48.2 1926.3,51.2 1926.7,54.2 1927.1,57.2 1927.5,60.2 1927.8,63.2 1928.2,66.2 1928.6,69.2 1929,72.2 1929.3,75.2 1929.7,78.2 1930.1,81.2 1930.5,84.2 1930.8,87.2 1931.2,90.1 1931.7,93.1 1932.1,96.1 1932.6,99.1 1933,102.1 1933.5,105.1 1933.9,108.1 1934.4,111 1934.8,114 1935.3,117 1935.7,120 1936.2,123 1936.6,126 1937.1,128.9 1937.5,131.9 1938,134.9 1938.6,137.9 1939.2,140.8 1939.7,143.8 1940.3,146.8 1940.9,149.7 1941.5,152.7 1942,155.6 1942.6,158.6 1943.2,161.6 1943.8,164.5 1944.3,167.5 1944.9,170.5 1945.5,173.4 1946.2,176.3 1947,179.3 1947.8,182.2 1948.6,185.1 1949.3,188 1950.1,190.9 1950.9,193.8 1951.6,196.8 1952.4,199.7 1953.2,202.6 1954,205.5 1954.7,208.4 1955.6,211.3 1956.6,214.2 1957.7,217 1958.8,219.8 1959.9,222.6 1961.1,225.4 1962.2,228.2 1963.3,231 1964.4,233.8 1965.5,236.6 1966.7,239.4 1967.8,242.2 1969,245 1970.3,247.7 1971.8,250.3 1973.2,253 1974.6,255.6 1976,258.3 1977.5,260.9 1978.9,263.6 1980.3,266.3 1981.8,268.9 1983.2,271.6 1984.8,274.1 1986.7,276.5 1988.7,278.7 1990.7,281 1992.7,283.2 1994.7,285.5 1996.7,287.7 1998.7,290 2000.7,292.2 2004.1,295.2 2006.6,296.9 2009.1,298.6 2011.6,300.3 2014.1,301.9 2016.6,303.6 2019.1,305.3 2021.7,306.9 2025.9,308.3 2028.8,309 2031.8,309.6 2034.7,310.3 2037.7,311 2040.6,311.6 2043.6,312.3 2046.5,312.9 2049.5,313.4 2052.5,313.8 2055.5,314.2 2058.5,314.5 2061.5,314.9 2064.5,315.3 2067.4,315.7 2070.4,316 2073.4,316.4 2076.4,316.8 2079.4,317.1 2082.4,317.5 2085.4,317.8 2088.4,318.2 2091.4,318.5 2094.4,318.9 2097.4,319.2 2100.4,319.6 2103.4,319.9 2106.4,320.3 2109.4,320.7 2112.4,321 2115.4,321.4 2116.9,321.5" stroke="#6a18dc"/>
<polyline points="1632.2,360.8 1634.3,358.7 1636.4,356.5 1638.5,354.4 1640.6,352.2 1642.7,350 1644.8,347.9 1646.9,345.7 1649,343.6 1651.1,341.4 1652.5,337.2 1653.3,334.3 1654,331.4 1654.7,328.5 1655.5,325.5 1656.2,322.6 1656.9,319.7 1657.6,316.8 1658.4,313.8 1659.1,310.9 1659.8,308 1660.5,305.1 1661.1,302.1 1661.6,299.2 1662.2,296.2 1662.7,293.2 1663.3,290.3 1663.8,287.3 1664.4,284.4 1664.9,281.4 1665.5,278.4 1666,275.5 1666.6,272.5 1667.1,269.6 1667.6,266.6 1668.2,263.6 1668.6,260.7 1669,257.7 1669.4,254.7 1669.8,251.7 1670.2,248.7 1670.6,245.7 1670.9,242.7 1671.3,239.8 1671.7,236.8 1672.1,233.8 1672.5,230.8 1672.9,227.8 1673.3,224.8 1673.7,221.8 1674.1,218.9 1674.5,215.9 1674.8,212.9 1675.2,209.9 1675.6,206.9 1675.9,203.9 1676.3,200.9 1676.6,197.9 1677,195 1677.4,192 1677.7,189 1678.1,186 1678.4,183 1678.8,180 1679.2,177 1679.5,174 1679.9,171 1680.2,168 1680.6,165.1 1681,162.1 1681.3,159.1 1681.7,156.1 1682.1,153.1 1682.5,150.1 1682.9,147.1 1683.4,144.2 1683.8,141.2 1684.2,138.2 1684.6,135.2 1685.1,132.2 1685.5,129.3 1685.9,126.3 1686.4,123.3 1686.8,120.3 1687.2,117.3 1687.6,114.4 1688.1,111.4 1688.5,108.4 1688.9,105.4 1689.3,102.4 1689.8,99.5 1690.2,96.5 1690.6,93.5 1691.7,90.7 1692.7,87.9 1693.8,85 1694.9,82.2 1695.9,79.4 1697,76.6 1698,73.8 1699.1,71 1700.1,68.1 1703.6,70.5 1705.5,72.8 1707.4,75.1 1709.3,77.4 1711.3,81.4 1712.1,84.3 1712.9,87.2 1713.7,90.1 1714.5,93 1715.3,95.9 1716.1,98.8 1716.9,101.7 1717.7,104.6 1718.5,107.5 1719.3,110.4 1720,113.3 1720.8,116.2 1721.5,119.2 1722.2,122.1 1723,125 1723.7,127.9 1724.4,130.8 1725.2,133.8 1725.9,136.7 1726.6,139.6 1727.3,142.5 1728.1,145.5 1728.8,148.4 1729.5,151.3 1730.3,154.2 1731.1,157.1 1731.9,160 1732.6,162.9 1733.4,165.8 1734.2,168.8 1735,171.7 1735.7,174.6 1736.5,177.5 1737.3,180.4 1738.1,183.3 1740.2,187.2 1742,189.6 1743.8,192 1745.6,194.4 1747.4,196.8 1750.3,194.6 1751.6,191.9 1752.9,189.1 1754.2,186.4 1755.5,183.7 1756.8,181 1758,178.3 1759,173.9 1759.5,170.9 1759.9,167.9 1760.4,165 1760.8,162 1761.3,159 1761.7,156 1762.1,153 1762.6,150.1 1763,147.1 1763.4,144.1 1763.8,141.1 1764.1,138.1 1764.5,135.1 1764.9,132.2 1765.3,129.2 1765.6,126.2 1766,123.2 1766.4,120.2 1766.8,117.2 1767.1,114.2 1767.5,111.2 1767.7,108.2 1767.9,105.2 1768.2,102.2 1768.4,99.2 1768.6,96.2 1768.8,93.2 1769.1,90.2 1769.3,87.2 1769.5,84.2 1769.7,81.2 1770,78.2 1770.2,75.2 1770.4,72.2 1770.6,69.2 1770.9,66.2 1771,63.2 1771.2,60.2 1771.4,57.2 1771.5,54.2 1771.7,51.2 1771.9,48.2 1772,45.2 1772.2,42.2 1772.4,39.2 1772.5,36.1 1772.7,33.1 1772.9,30.1 1773,27.1 1773.2,24.1 1773.3,21.1 1773.4,18.1 1773.5,15.1 1773.7,12.1 1773.8,9.1 1773.9,6.1 1774,3.1 1774.2,0.1 1774.3,-3 1774.4,-6 1774.5,-9 1774.7,-12 1774.8,-15" stroke="#e01418"/>
<polyline points="1872.1,-15 1872.4,-12 1872.6,-9 1872.8,-6 1873.1,-2.9 1873.3,0.1 1873.6,3.1 1873.8,6.1 1874.1,9.1 1874.3,12.1 1874.5,15.1 1874.8,18.1 1875,21.1 1875.3,24.1 1875.5,27.1 1875.7,30.1 1876,33.1 1876.4,36 1876.8,39 1877.2,42 1877.6,45 1877.9,48 1878.2,51 1878.5,54 1878.8,57 1879.1,60 1879.4,63 1879.7,65.9 1880,68.9 1880.3,71.9 1880.6,74.9 1880.9,77.9 1881.2,80.9 1881.5,83.9 1881.8,86.9 1882.2,89.9 1882.5,92.9 1882.9,95.9 1883.3,98.9 1883.6,101.9 1884,104.8 1884.4,107.8 1884.8,110.8 1885.1,113.8 1885.5,116.8 1885.9,119.8 1886.3,122.8 1886.6,125.8 1887,128.7 1887.4,131.7 1887.8,134.7 1888.1,137.7 1888.5,140.7 1888.9,143.7 1889.2,146.7 1889.6,149.6 1890,152.6 1890.4,155.6 1890.7,158.6 1891.1,161.6 1891.5,164.6 1891.9,167.6 1892.2,170.6 1892.6,173.5 1893,176.5 1893.5,179.5 1894.1,182.4 1894.7,185.4 1895.3,188.3 1895.9,191.3 1896.5,194.2 1897.1,197.2 1897.7,200.1 1898.3,203.1 1898.9,206 1899.5,209 1900.1,211.9 1900.7,214.9 1901.5,217.8 1902.4,220.7 1903.2,223.6 1904.1,226.4 1904.9,229.3 1905.8,232.2 1906.7,235.1 1907.5,238 1908.4,240.9 1909.3,243.7 1910.1,246.6 1911.1,249.5 1912.4,252.2 1913.9,254.8 1915.3,257.4 1916.8,260.1 1918.2,262.7 1919.6,265.4 1921.1,268 1922.5,270.7 1924,273.3 1926.8,276.8 1928.8,279.1 1930.7,281.3 1932.7,283.6 1934.7,285.9 1936.7,288.1 1938.7,290.4 1942.1,293.2 1944.7,294.8 1947.2,296.4 1949.8,298 1952.3,299.6 1954.9,301.2 1958.8,303.3 1961.7,304.2 1964.6,305.1 1967.5,306 1970.4,306.8 1973.2,307.7 1976.1,308.6 1979,309.4 1981.9,310 1984.9,310.5 1987.9,310.9 1990.9,311.4 1993.9,311.8 1996.8,312.3 1999.8,312.7 2002.8,313.1 2005.8,313.4 2008.8,313.6 2011.8,313.9 2014.8,314.1 2017.8,314.4 2020.8,314.6 2023.8,314.9 2026.8,315.1 2029.8,315.3 2032.8,315.4 2035.8,315.5 2038.8,315.6 2041.8,315.7 2044.8,315.8 2047.8,315.9 2050.8,316 2053.9,316.1 2056.9,316.2 2059.9,316.3 2062.9,316.4 2065.9,316.2 2068.9,316.1 2071.9,315.9 2074.9,315.7 2077.9,315.6 2080.9,315.4 2083.9,315.2 2086.9,315.1 2089.9,314.9 2092.9,314.7 2095.9,314.5 2098.9,314.4 2101.9,314.2 2105,314 2108,313.9 2111,313.7 2114,313.5 2117,313.4" stroke="#e01418"/>
</g>
<g clip-path="url(#cpk)" fill="none" stroke-width="2.5" stroke-linejoin="round" stroke-linecap="butt">
<polyline points="1173.2,690 1176.3,690 1179.3,690 1182.3,690 1185.3,690 1188.3,690 1191.4,690 1195.8,689.4 1198.7,688.6 1202.6,686.8 1205.3,683.2 1206.9,680.7 1208.6,678.1 1210.3,675.6 1212.1,673.2 1214,670.9 1215.9,668.5 1217.7,666.1 1219.6,663.8 1221.5,661.4 1223.4,659.1 1225.3,656.7 1227.2,654.4 1230.6,651.6 1233.2,650 1235.8,648.4 1238.4,646.9 1241.1,645.5 1243.8,644.1 1246.5,642.8 1249.2,641.5 1251.9,640.3 1254.7,639.1 1257.5,638 1260.4,636.9 1263.2,636 1266.1,635.1 1269,634.3 1271.9,633.4 1274.8,632.5 1277.7,631.7 1280.6,630.8 1283.4,629.7 1286.1,628.4 1288.8,627 1291.5,625.7 1295,623 1297.2,620.9 1299.3,618.7 1301.4,616.6 1303.5,614.4 1305.4,612.1 1307.2,609.6 1308.9,607.2 1310.7,604.7 1312.4,602.2 1314.1,599.8 1316.1,595.7 1317.2,592.9 1318.3,590.1 1319.5,587.3 1320.6,584.5 1321.7,581.7 1322.8,578.9 1323.7,576 1324.5,573.1 1325.2,570.2 1325.8,567.2 1326.5,564.3 1327.2,561.4 1327.9,558.4 1328.6,555.5 1329.3,552.5 1330,549.6 1330.7,546.7 1331.4,543.7 1332,540.8 1332.6,537.8 1333.1,534.8 1333.6,531.9 1334.1,528.9 1334.6,525.9 1335.1,522.9 1335.6,520 1336.1,517 1336.6,514 1337.1,511 1337.6,508.1 1338,505.1 1338.5,502.1 1338.9,499.1 1339.2,496.1 1339.5,493.1 1339.8,490.1 1340.1,487.1 1340.4,484.1 1340.7,481.1 1341,478.1 1341.3,475.1 1341.6,472.1 1341.9,469.1 1342.2,466.1 1342.5,463.1 1342.8,460.1 1343,457.1 1343.2,454 1343.4,451 1343.6,448 1343.8,445 1343.9,442 1344.1,439 1344.3,436 1344.5,433 1344.7,429.9 1344.9,426.9 1345,423.9 1345.2,420.9 1345.4,417.9 1345.6,414.9 1345.8,411.9 1345.9,408.9 1346.1,405.8 1346.3,402.8 1346.4,399.8 1346.6,396.8 1346.8,393.8 1346.9,390.8 1347.1,387.8 1347.2,384.7 1347.4,381.7 1347.5,378.7 1347.7,375.7 1347.9,372.7 1348,369.7 1348.2,366.7 1348.3,363.7 1348.5,360.6 1348.6,357.6 1348.8,354.6 1349,351.6 1349.1,348.6 1349.3,345.6 1349.4,342.6 1349.6,339.5 1349.7,336.5 1349.8,335" stroke="#1f6fd8"/>
<polyline points="1394.4,335 1394.5,338 1394.6,341 1394.7,344 1394.8,347.1 1394.9,350.1 1395,353.1 1395.1,356.1 1395.2,359.1 1395.3,362.1 1395.4,365.1 1395.5,368.2 1395.6,371.2 1395.7,374.2 1395.8,377.2 1395.9,380.2 1396,383.2 1396.1,386.2 1396.2,389.3 1396.3,392.3 1396.4,395.3 1396.5,398.3 1396.6,401.3 1396.7,404.3 1396.8,407.3 1396.9,410.3 1397,413.4 1397.1,416.4 1397.2,419.4 1397.3,422.4 1397.4,425.4 1397.5,428.4 1397.6,431.4 1397.7,434.5 1397.8,437.5 1397.9,440.5 1398,443.5 1398.1,446.5 1398.2,449.5 1398.3,452.5 1398.4,455.5 1398.5,458.6 1398.6,461.6 1398.7,464.6 1398.8,467.6 1398.9,470.6 1399,473.6 1399.1,476.6 1399.2,479.7 1399.4,482.7 1399.6,485.7 1399.8,488.7 1400,491.7 1400.2,494.7 1400.4,497.7 1400.6,500.7 1400.9,503.7 1401.1,506.7 1401.3,509.7 1401.5,512.7 1401.7,515.8 1401.9,518.8 1402.1,521.8 1402.4,524.8 1402.8,527.8 1403.2,530.7 1403.6,533.7 1404,536.7 1404.4,539.7 1404.8,542.7 1405.2,545.7 1405.6,548.7 1406.1,551.7 1406.5,554.6 1406.9,557.6 1407.3,560.6 1407.7,563.6 1408.1,566.6 1408.5,569.6 1409.1,572.5 1409.9,575.4 1410.7,578.3 1411.4,581.3 1412.2,584.2 1413,587.1 1413.8,590 1414.5,592.9 1415.3,595.8 1416.1,598.8 1416.8,601.7 1417.6,604.6 1418.5,607.4 1419.9,610.1 1421.3,612.8 1422.8,615.4 1424.3,618 1425.8,620.6 1427.3,623.2 1430.3,626.5 1432.6,628.4 1435,630.3 1437.3,632.2 1439.8,633.9 1442.4,635.4 1445,636.9 1447.6,638.4 1450.2,639.9 1452.9,641.4 1455.6,642.7 1458.4,643.8 1461.2,644.8 1464,645.9 1466.9,646.9 1469.7,648 1472.6,648.9 1475.5,649.5 1478.4,650.2 1481.4,650.9 1484.3,651.5 1487.3,652.2 1490.2,652.8 1493.2,653.4 1496.1,653.9 1499.1,654.5 1502.1,655.1 1505,655.6 1508,656.2 1511,656.6 1514,657.1 1516.9,657.5 1519.9,658 1522.9,658.4 1525.9,658.9 1528.9,659.3 1531.9,659.7 1534.9,660 1537.9,660.3 1540.9,660.6 1543.9,660.9 1546.9,661.2 1549.9,661.5 1552.9,661.8 1555.9,662.1 1558.9,662.4 1561.9,662.7 1564.9,663 1567.9,663.3 1570.9,663.6 1573.9,663.8 1576.9,663.9 1579.9,664 1582.9,664.1 1585.9,664.2 1588.9,664.3 1591.9,664.4 1595,664.5 1598,664.6 1601,664.7 1604,664.8 1607,664.9 1610,665 1613,665.1 1616.1,665.2 1619.1,665.3 1620.6,665.4" stroke="#1f6fd8"/>
<polyline points="1173.2,690 1176.3,690 1179.3,690 1182.3,690 1185.3,690 1188.3,690 1191.3,690 1194.3,690 1197.3,690 1200.3,689.9 1204.7,689 1207.4,687.8 1210.2,686.7 1213,685.4 1215.6,684 1218.2,682.4 1220.7,680.9 1223.3,679.2 1226.6,676.3 1228.8,674.1 1230.9,672 1233,669.9 1235.1,667.7 1237.3,665.6 1239.4,663.5 1241.5,661.4 1243.7,659.2 1245.8,657.2 1248.2,655.2 1250.5,653.4 1252.9,651.5 1255.2,649.6 1257.6,647.7 1259.9,645.8 1262.3,644 1264.6,642.1 1267,640.2 1269.4,638.4 1271.8,636.6 1274.2,634.8 1278.1,632.6 1280.9,631.5 1283.7,630.4 1287.6,628.2 1290.8,625.1 1292.9,622.9 1295,620.8 1297,618.5 1298.9,616.1 1300.7,613.8 1302.6,611.4 1304.4,609 1305.9,606.4 1307.4,603.8 1308.9,601.2 1310.4,598.6 1311.9,595.9 1313.2,593.3 1314.5,590.5 1315.7,587.8 1316.9,585 1318.1,582.3 1319.4,579.5 1320.6,576.8 1321.6,573.9 1322.4,571 1323.2,568.1 1324,565.2 1324.8,562.3 1325.6,559.4 1326.4,556.5 1327.2,553.6 1327.9,550.7 1328.5,547.8 1329.1,544.8 1329.7,541.8 1330.3,538.9 1330.9,535.9 1331.5,533 1332.1,530 1332.7,527.1 1333.3,524.1 1333.8,521.2 1334.4,518.2 1334.7,515.2 1335,512.2 1335.4,509.2 1335.7,506.3 1336,503.3 1336.4,500.3 1336.7,497.3 1337,494.3 1337.4,491.3 1337.7,488.3 1338,485.3 1338.4,482.3 1338.7,479.3 1338.9,476.3 1339.1,473.3 1339.4,470.3 1339.6,467.3 1339.8,464.3 1340,461.3 1340.3,458.3 1340.5,455.3 1340.7,452.3 1340.9,449.3 1341.2,446.3 1341.4,443.3 1341.6,440.3 1341.8,437.3 1342,434.3 1342.2,431.3 1342.3,428.3 1342.5,425.3 1342.6,422.3 1342.8,419.2 1342.9,416.2 1343.1,413.2 1343.2,410.2 1343.4,407.2 1343.5,404.2 1343.7,401.2 1343.8,398.2 1344,395.2 1344.1,392.2 1344.2,389.2 1344.3,386.2 1344.4,383.2 1344.5,380.1 1344.6,377.1 1344.7,374.1 1344.8,371.1 1344.9,368.1 1345,365.1 1345.1,362.1 1345.3,359.1 1345.4,356.1 1345.5,353.1 1345.6,350.1 1345.7,347 1345.8,344 1345.9,341 1346,338 1346.1,335" stroke="#62c462"/>
<polyline points="1397.7,335 1397.8,338 1397.9,341 1398,344.1 1398.1,347.1 1398.2,350.1 1398.3,353.1 1398.4,356.1 1398.5,359.1 1398.6,362.2 1398.7,365.2 1398.8,368.2 1398.9,371.2 1399,374.2 1399.1,377.2 1399.2,380.3 1399.3,383.3 1399.4,386.3 1399.5,389.3 1399.6,392.3 1399.7,395.3 1399.8,398.4 1399.9,401.4 1400,404.4 1400.1,407.4 1400.2,410.4 1400.3,413.4 1400.5,416.5 1400.7,419.5 1401,422.5 1401.3,425.5 1401.6,428.5 1401.9,431.5 1402.1,434.5 1402.4,437.5 1402.7,440.5 1403,443.5 1403.2,446.5 1403.5,449.5 1403.8,452.5 1404.1,455.5 1404.3,458.5 1404.5,461.6 1404.6,464.6 1404.8,467.6 1404.9,470.6 1405.1,473.6 1405.2,476.6 1405.4,479.6 1405.6,482.6 1405.9,485.7 1406.1,488.7 1406.4,491.7 1406.6,494.7 1406.9,497.7 1407.1,500.7 1407.4,503.7 1407.6,506.7 1407.9,509.7 1408.2,512.7 1408.4,515.7 1408.7,518.7 1408.9,521.8 1409.2,524.8 1409.4,527.8 1409.7,530.8 1409.9,533.8 1410.2,536.8 1410.4,539.8 1410.7,542.8 1411.1,545.8 1411.6,548.8 1412.2,551.7 1412.8,554.7 1413.4,557.6 1414,560.6 1414.6,563.6 1415.2,566.5 1415.8,569.5 1416.4,572.4 1416.9,575.4 1417.5,578.4 1418.1,581.3 1418.7,584.3 1419.4,587.2 1420.3,590.1 1421.4,592.9 1422.5,595.7 1423.7,598.5 1424.8,601.3 1425.9,604.1 1427,606.9 1428.3,609.6 1430,612.1 1431.9,614.5 1433.7,616.8 1435.6,619.2 1437.4,621.6 1439.3,624 1441.1,626.4 1444.2,629.6 1446.7,631.3 1449.3,632.9 1451.8,634.5 1454.4,636.1 1456.9,637.7 1459.5,639.3 1462.2,640.6 1465,641.7 1467.8,642.9 1470.6,644 1473.4,645.1 1476.2,646.2 1479,647.3 1481.8,648.4 1484.7,649.4 1487.6,650.2 1490.5,651.1 1493.4,652 1496.2,652.8 1499.1,653.7 1502,654.6 1505,655.3 1507.9,655.7 1510.9,656.2 1513.9,656.6 1516.9,657.1 1519.9,657.5 1522.9,658 1525.9,658.4 1528.8,658.8 1531.8,659.2 1534.8,659.5 1537.8,659.9 1540.8,660.3 1543.8,660.7 1546.8,661 1549.8,661.4 1552.8,661.8 1555.8,662.1 1558.8,662.4 1561.8,662.7 1564.8,663 1567.8,663.3 1570.8,663.6 1573.8,663.8 1576.9,664 1579.9,664.1 1582.9,664.3 1585.9,664.5 1588.9,664.6 1591.9,664.8 1594.9,664.9 1598,665.1 1601,665.3 1604,665.4 1607,665.6 1610,665.8 1613,665.9 1616,666.1 1619.1,666.2 1620.6,666.3" stroke="#62c462"/>
<polyline points="1173.7,693.5 1176.6,692.8 1179.5,692.1 1182.5,691.4 1185.4,690.7 1188.3,689.9 1191.3,689.2 1194.2,688.5 1197.1,687.8 1199.9,686.6 1202.6,685.3 1205.3,683.9 1207.9,680.5 1209.1,677.7 1210.3,675 1211.5,672.2 1212.8,669.5 1214,666.7 1215.2,664 1216.3,661.2 1217.5,658.4 1218.6,655.6 1219.7,652.8 1220.8,650 1221.9,647.2 1223.1,644.4 1224.2,641.6 1225.4,638.8 1226.7,636 1227.9,633.3 1229.1,630.5 1230.3,627.8 1231.6,625 1232.8,622.3 1234,619.5 1235.2,616.7 1236.4,613.9 1237.5,611.2 1238.7,608.4 1240.1,605.7 1241.6,603.1 1243.1,600.5 1244.6,597.9 1246.1,595.2 1248.8,591.8 1251.4,590.2 1254,588.6 1256.6,587.1 1260.6,586.6 1263.4,587.7 1266.3,588.8 1269,590 1271.7,591.4 1274.4,592.7 1278.7,593.1 1281.7,592.8 1286,591.8 1289.1,588.5 1291.1,586.3 1293.1,584.1 1295.1,581.8 1296.7,577.6 1297.6,574.7 1298.6,571.9 1299.5,569 1300.5,566.2 1301.5,563.3 1302.4,560.4 1303.4,557.6 1304.2,554.7 1304.9,551.7 1305.6,548.8 1306.3,545.9 1306.9,542.9 1307.6,540 1308.3,537 1309,534.1 1309.7,531.2 1310.3,528.2 1310.9,525.3 1311.4,522.3 1312,519.3 1312.5,516.3 1313,513.4 1313.5,510.4 1314,507.4 1314.6,504.5 1315.1,501.5 1315.6,498.5 1316.1,495.5 1316.7,492.6 1317.1,489.6 1317.5,486.6 1317.9,483.6 1318.3,480.6 1318.6,477.6 1319,474.6 1319.4,471.6 1319.8,468.6 1320.1,465.6 1320.5,462.6 1320.9,459.6 1321.3,456.6 1321.6,453.7 1322,450.7 1322.4,447.7 1322.7,444.7 1323,441.7 1323.3,438.7 1323.6,435.7 1323.9,432.7 1324.2,429.7 1324.5,426.6 1324.8,423.6 1325.1,420.6 1325.4,417.6 1325.7,414.6 1326,411.6 1326.3,408.6 1326.6,405.6 1326.9,402.6 1327.2,399.6 1327.5,396.6 1327.8,393.6 1328.1,390.6 1328.4,387.6 1328.7,384.6 1329,381.6 1329.3,378.6 1329.6,375.6 1329.9,372.6 1330.2,369.6 1330.5,366.6 1330.8,363.6 1331.1,360.6 1331.4,357.6 1331.7,354.6 1332,351.6 1332.3,348.6 1332.6,345.6 1332.9,342.6 1333.2,339.6 1333.5,336.6 1333.6,335.1" stroke="#e01418"/>
<polyline points="1401.7,335 1401.9,338 1402,341 1402.2,344.1 1402.3,347.1 1402.5,350.1 1402.6,353.1 1402.8,356.1 1402.9,359.1 1403.1,362.1 1403.2,365.1 1403.4,368.1 1403.5,371.1 1403.7,374.2 1403.8,377.2 1404,380.2 1404.1,383.2 1404.3,386.2 1404.4,389.2 1404.6,392.2 1404.7,395.2 1404.8,398.2 1404.9,401.3 1405,404.3 1405.1,407.3 1405.2,410.3 1405.4,413.3 1405.5,416.3 1405.7,419.3 1405.8,422.3 1406,425.3 1406.2,428.4 1406.4,431.4 1406.5,434.4 1406.7,437.4 1406.9,440.4 1407.1,443.4 1407.2,446.4 1407.4,449.4 1407.6,452.4 1407.7,455.4 1407.9,458.5 1408.1,461.5 1408.3,464.5 1408.4,467.5 1408.6,470.5 1408.9,473.5 1409.2,476.5 1409.5,479.5 1409.8,482.5 1410.1,485.5 1410.4,488.5 1410.7,491.5 1411.1,494.5 1411.4,497.5 1411.7,500.5 1412,503.5 1412.3,506.5 1412.6,509.5 1412.9,512.5 1413.2,515.5 1413.5,518.5 1413.8,521.5 1414.1,524.5 1414.4,527.5 1414.8,530.5 1415.1,533.5 1415.4,536.5 1415.7,539.5 1416,542.5 1416.4,545.4 1416.9,548.4 1417.5,551.4 1418.1,554.3 1418.7,557.3 1419.2,560.2 1419.8,563.2 1420.4,566.2 1421,569.1 1421.5,572.1 1422.1,575 1422.7,578 1423.3,581 1424,583.9 1425,586.7 1426,589.5 1427.1,592.3 1428.2,595.2 1429.3,598 1430.4,600.8 1431.5,603.6 1432.5,606.4 1433.6,609.2 1435.8,613.1 1437.7,615.4 1439.7,617.7 1441.7,619.9 1443.7,622.2 1445.7,624.5 1447.7,626.7 1449.7,628.9 1453.4,631.6 1455.9,633.2 1458.4,634.9 1460.9,636.6 1463.4,638.3 1465.9,639.9 1468.4,641.5 1472.5,643.5 1475.3,644.6 1478.1,645.7 1480.9,646.8 1483.7,647.9 1486.5,649.1 1489.3,650.2 1492.2,651.1 1495.1,651.9 1498,652.6 1500.9,653.3 1503.9,654 1506.8,654.8 1509.7,655.5 1512.7,656.2 1515.6,656.8 1518.6,657.4 1521.5,658 1524.5,658.6 1527.4,659.2 1530.4,659.8 1533.3,660.3 1536.3,660.7 1539.3,661.1 1542.3,661.4 1545.3,661.7 1548.3,662 1551.3,662.3 1554.3,662.5 1557.3,662.8 1560.3,662.9 1563.3,663.1 1566.4,663.2 1569.4,663.4 1572.4,663.5 1575.4,663.7 1578.4,663.8 1581.4,663.9 1584.4,664.1 1587.4,664.2 1590.5,664.3 1593.5,664.4 1596.5,664.5 1599.5,664.6 1602.5,664.7 1605.5,664.9 1608.5,665 1611.5,665.1 1614.5,665.2 1617.6,665.3 1620.6,665.4" stroke="#e01418"/>
<polyline points="1173.7,693.5 1176.6,692.8 1179.5,692.1 1182.5,691.4 1185.4,690.7 1188.3,690 1191.3,689.2 1194.2,688.5 1197.1,687.8 1200.6,685 1202.7,682.9 1204.8,680.8 1207,678.6 1209.1,676.5 1211.7,672.9 1212.8,670.1 1213.9,667.3 1215,664.5 1216.1,661.7 1217.3,658.9 1218.4,656.1 1219.5,653.3 1220.4,650.4 1221.2,647.5 1222,644.6 1222.8,641.7 1223.7,638.8 1224.5,635.9 1225.3,633 1226.2,630.1 1227,627.2 1227.8,624.3 1228.6,621.4 1229.2,618.4 1229.9,615.5 1230.5,612.5 1231.2,609.6 1231.8,606.6 1232.5,603.7 1233.2,600.7 1233.8,597.8 1234.5,594.9 1235.1,591.9 1235.8,589 1236.4,586 1237.1,583.1 1237.7,580.1 1238.4,577.2 1239,574.2 1239.7,571.3 1240.4,568.4 1241,565.4 1241.7,562.5 1242.3,559.5 1243,556.6 1243.6,553.6 1244.3,550.7 1244.9,547.7 1245.6,544.8 1246.3,541.9 1247,538.9 1247.8,536 1248.5,533.1 1249.2,530.2 1250,527.2 1251,524.4 1252.1,521.6 1253.1,518.7 1254.1,515.9 1255.2,513.1 1256.2,510.2 1257.2,507.4 1258.3,504.6 1261.1,501.1 1263.2,499 1265.4,496.9 1268.4,496.4 1270.3,498.8 1272.2,501.2 1274.1,503.5 1275.9,505.9 1277.7,508.3 1279.4,510.8 1281.2,513.2 1282.9,515.7 1284.7,518.1 1286.5,520.6 1290.4,522.8 1293.1,524.1 1296.2,523.5 1297.4,520.7 1298.6,518 1299.8,515.2 1301.1,512.5 1302.3,509.7 1303.5,507 1304.7,502.6 1305.3,499.7 1305.8,496.7 1306.4,493.7 1307,490.8 1307.6,487.8 1308.2,484.9 1308.8,481.9 1309.4,479 1310,476 1310.6,473 1311,470 1311.4,467.1 1311.9,464.1 1312.3,461.1 1312.8,458.1 1313.2,455.1 1313.6,452.1 1314.1,449.2 1314.5,446.2 1314.9,443.2 1315.4,440.2 1315.8,437.2 1316.2,434.2 1316.5,431.2 1316.8,428.2 1317.1,425.2 1317.4,422.2 1317.7,419.2 1318,416.2 1318.3,413.2 1318.6,410.2 1318.9,407.2 1319.2,404.2 1319.5,401.2 1319.8,398.2 1320.1,395.2 1320.3,392.2 1320.6,389.2 1320.8,386.2 1321,383.2 1321.2,380.2 1321.5,377.2 1321.7,374.1 1321.9,371.1 1322.1,368.1 1322.4,365.1 1322.6,362.1 1322.8,359.1 1323,356.1 1323.3,353.1 1323.5,350.1 1323.7,347.1 1323.9,344.1 1324.2,341.1 1324.4,338.1 1324.6,335" stroke="#a8c0c0"/>
<polyline points="1407.9,335 1408.1,338 1408.2,341 1408.4,344.1 1408.5,347.1 1408.7,350.1 1408.8,353.1 1409,356.1 1409.1,359.1 1409.3,362.2 1409.4,365.2 1409.6,368.2 1409.7,371.2 1409.9,374.2 1410,377.2 1410.2,380.2 1410.3,383.3 1410.5,386.3 1410.6,389.3 1410.8,392.3 1410.9,395.3 1411.1,398.3 1411.2,401.4 1411.4,404.4 1411.5,407.4 1411.7,410.4 1411.8,413.4 1412,416.4 1412.3,419.4 1412.5,422.4 1412.8,425.5 1413,428.5 1413.3,431.5 1413.5,434.5 1413.8,437.5 1414,440.5 1414.3,443.5 1414.5,446.5 1414.8,449.5 1415,452.5 1415.3,455.5 1415.5,458.6 1415.8,461.6 1416,464.6 1416.3,467.6 1416.5,470.6 1416.8,473.6 1417,476.6 1417.3,479.6 1417.6,482.6 1418,485.6 1418.3,488.6 1418.7,491.6 1419,494.6 1419.4,497.6 1419.7,500.6 1420.1,503.6 1420.4,506.6 1420.8,509.6 1421.1,512.6 1421.5,515.6 1421.8,518.6 1422.2,521.6 1422.5,524.6 1422.9,527.6 1423.2,530.6 1423.6,533.6 1423.9,536.6 1424.3,539.6 1424.6,542.6 1425.1,545.6 1425.8,548.5 1426.6,551.4 1427.3,554.4 1428,557.3 1428.7,560.2 1429.5,563.1 1430.2,566.1 1430.9,569 1431.7,571.9 1432.4,574.9 1433.1,577.8 1433.9,580.7 1434.6,583.6 1435.4,586.6 1436.4,589.4 1437.7,592.1 1439.1,594.8 1440.4,597.5 1441.8,600.2 1443.1,602.9 1444.5,605.6 1445.8,608.3 1447.2,611 1448.5,613.7 1449.9,616.4 1452.7,619.8 1455,621.8 1457.3,623.7 1459.6,625.7 1461.9,627.6 1464.2,629.6 1466.5,631.5 1468.8,633.5 1471.2,635.3 1473.7,636.9 1476.4,638.4 1479,639.9 1481.6,641.3 1484.3,642.8 1486.9,644.3 1489.6,645.7 1492.3,647 1495.1,648.1 1497.9,649.2 1500.7,650.3 1503.5,651.4 1506.4,652.5 1509.2,653.6 1512,654.5 1515,655.3 1517.9,656.1 1520.8,656.9 1523.7,657.7 1526.6,658.6 1529.5,659.4 1532.4,660.1 1535.4,660.8 1538.3,661.6 1541.2,662.3 1544.1,663 1547.1,663.8 1550,664.5 1553,665.1 1555.9,665.5 1558.9,666 1561.9,666.4 1564.9,666.9 1567.9,667.3 1570.9,667.8 1573.9,668 1576.9,667.9 1579.9,667.8 1582.9,667.6 1585.9,667.5 1588.9,667.3 1592,667.2 1595,667 1598,666.7 1601,666.4 1604,666.1 1607,665.8 1610,665.5 1613,665.2 1616,664.9 1619,664.6 1620.5,664.5" stroke="#a8c0c0"/>
<polyline points="1173.2,690 1176.3,690 1179.3,690 1182.3,690 1185.3,690 1188.3,690 1191.3,689.9 1195.5,688.3 1198.2,687.1 1201,686 1204.3,683 1206.1,680.6 1208,678.3 1209.9,675.9 1211.9,672 1213,669.2 1214,666.3 1215,663.5 1216,660.7 1217.1,657.8 1218.1,655 1219.1,652.2 1220,649.3 1220.7,646.4 1221.5,643.5 1222.2,640.6 1222.9,637.6 1223.6,634.7 1224.4,631.8 1225.1,628.9 1225.8,626 1226.6,623 1227.3,620.1 1228,617.2 1228.6,614.3 1229.1,611.3 1229.6,608.3 1230.2,605.4 1230.7,602.4 1231.2,599.4 1231.7,596.5 1232.2,593.5 1232.7,590.5 1233.3,587.6 1233.8,584.6 1234.3,581.7 1234.8,578.7 1235.3,575.7 1235.8,572.8 1236.3,569.8 1236.9,566.8 1237.4,563.9 1237.9,560.9 1238.3,557.9 1238.8,555 1239.3,552 1239.8,549 1240.3,546.1 1240.8,543.1 1241.3,540.1 1241.8,537.2 1242.3,534.2 1242.8,531.2 1243.3,528.3 1243.8,525.3 1244.3,522.3 1244.8,519.4 1245.3,516.4 1245.8,513.4 1246.3,510.5 1246.8,507.5 1247.3,504.5 1247.7,501.5 1248.2,498.6 1248.7,495.6 1250.4,491.5 1251.7,488.7 1252.9,486 1254.1,483.2 1255.4,480.5 1256.6,477.7 1257.8,475 1261.1,476.7 1262.9,479.1 1264.7,481.5 1266.5,483.9 1268.3,486.4 1269.2,489.2 1270.1,492.1 1271.1,495 1272,497.8 1272.9,500.7 1273.8,503.6 1274.7,506.4 1275.6,509.3 1276.5,512.2 1277.5,515 1278.4,517.9 1279.3,520.8 1280.2,523.6 1281.1,526.5 1282.1,529.3 1283,532.2 1283.9,535.1 1284.8,537.9 1287.5,540.8 1290.4,541.5 1293.3,542.1 1296,540.3 1296.9,537.4 1297.7,534.5 1298.5,531.6 1299.3,528.7 1300.2,525.8 1301,522.9 1301.8,520 1302.6,517.1 1303.5,514.2 1304.2,511.3 1304.7,508.3 1305.2,505.4 1305.7,502.4 1306.2,499.4 1306.7,496.5 1307.2,493.5 1307.7,490.5 1308.1,487.6 1308.6,484.6 1309.1,481.6 1309.6,478.7 1310.1,475.7 1310.6,472.7 1311,469.7 1311.5,466.8 1311.9,463.8 1312.4,460.8 1312.8,457.8 1313.2,454.9 1313.7,451.9 1314.1,448.9 1314.5,445.9 1315,443 1315.4,440 1315.9,437 1316.2,434 1316.5,431 1316.8,428 1317.1,425 1317.4,422 1317.7,419 1318,416 1318.3,413.1 1318.6,410.1 1318.9,407.1 1319.2,404.1 1319.4,401.1 1319.6,398.1 1319.8,395.1 1320,392.1 1320.2,389.1 1320.4,386.1 1320.6,383.1 1320.8,380.1 1321,377.1 1321.2,374.1 1321.4,371.1 1321.6,368 1321.8,365 1322,362 1322.2,359 1322.4,356 1322.6,353 1322.8,350 1323.1,347 1323.3,344 1323.5,341 1323.7,338 1323.9,335" stroke="#f0b41e"/>
<polyline points="1409,335 1409.1,338 1409.3,341 1409.4,344 1409.6,347.1 1409.7,350.1 1409.9,353.1 1410,356.1 1410.2,359.1 1410.3,362.1 1410.5,365.1 1410.6,368.1 1410.8,371.1 1410.9,374.1 1411.1,377.1 1411.2,380.1 1411.4,383.2 1411.5,386.2 1411.7,389.2 1411.8,392.2 1412,395.2 1412.1,398.2 1412.3,401.2 1412.4,404.2 1412.6,407.2 1412.7,410.2 1412.9,413.2 1413.1,416.2 1413.3,419.3 1413.6,422.3 1413.8,425.3 1414.1,428.3 1414.3,431.3 1414.6,434.3 1414.8,437.3 1415.1,440.3 1415.3,443.3 1415.6,446.3 1415.8,449.3 1416.1,452.3 1416.3,455.3 1416.6,458.3 1416.8,461.3 1417.1,464.3 1417.3,467.3 1417.6,470.3 1417.8,473.3 1418.1,476.3 1418.4,479.3 1418.7,482.3 1419,485.3 1419.4,488.3 1419.7,491.3 1420.1,494.3 1420.4,497.2 1420.8,500.2 1421.1,503.2 1421.5,506.2 1421.8,509.2 1422.2,512.2 1422.5,515.2 1422.9,518.2 1423.2,521.2 1423.6,524.2 1423.9,527.2 1424.3,530.2 1424.6,533.1 1425,536.1 1425.3,539.1 1425.7,542.1 1426.1,545.1 1426.8,548 1427.5,551 1428.2,553.9 1429,556.8 1429.7,559.7 1430.4,562.6 1431.2,565.6 1431.9,568.5 1432.6,571.4 1433.4,574.3 1434.1,577.3 1434.8,580.2 1435.6,583.1 1436.3,586 1437.9,590.2 1439.2,592.9 1440.6,595.6 1441.9,598.3 1443.3,601 1444.6,603.7 1446,606.4 1447.3,609.1 1448.7,611.8 1450,614.5 1451.4,617.1 1454.3,620.5 1456.6,622.5 1458.8,624.5 1461.1,626.5 1463.3,628.5 1465.6,630.5 1467.8,632.5 1470.1,634.5 1473.8,637 1476.5,638.5 1479.1,639.9 1481.7,641.4 1484.4,642.8 1487,644.3 1489.6,645.8 1492.3,647.1 1495.1,648.3 1497.8,649.6 1500.6,650.8 1503.3,652 1506.1,653.2 1508.8,654.4 1511.6,655.5 1514.5,656.5 1517.3,657.5 1520.2,658.4 1523.1,659.4 1525.9,660.3 1528.8,661.3 1531.7,662.2 1534.5,663 1537.4,663.9 1540.3,664.8 1543.2,665.6 1546.1,666.5 1549,667.4 1551.9,668.1 1554.8,668.6 1557.8,669.1 1560.8,669.5 1563.8,670 1566.8,670.4 1569.7,670.8 1572.7,671.2 1577.2,671 1580.2,670.7 1583.2,670.4 1586.2,670.1 1589.2,669.8 1592.2,669.4 1595.2,669.1 1598.1,668.5 1601.1,667.9 1604,667.3 1607,666.7 1610,666.2 1612.9,665.6 1615.9,665 1618.8,664.4 1620.3,664.1" stroke="#f0b41e"/>
</g>
<g clip-path="url(#cpl)" fill="none" stroke-width="2.5" stroke-linejoin="round" stroke-linecap="butt">
<polyline points="1623.6,690 1626.6,690 1629.6,690 1632.7,690 1635.7,690 1638.7,690 1643,689.1 1645.7,687.7 1648.4,686.4 1652.1,684 1654.6,680.3 1656.2,677.7 1657.8,675.1 1659.3,672.6 1660.8,670 1662.5,665.8 1663.2,662.9 1663.9,659.9 1664.6,657 1665.3,654.1 1666,651.1 1666.7,648.2 1667.3,645.2 1668,642.3 1668.7,639.4 1669.4,636.4 1670.1,633.5 1670.8,630.5 1671.3,627.6 1671.8,624.6 1672.4,621.6 1672.9,618.7 1673.5,615.7 1674,612.7 1674.5,609.8 1675.1,606.8 1675.6,603.8 1676.2,600.9 1676.7,597.9 1677.2,594.9 1677.8,591.9 1678.3,589 1678.9,586 1679.4,583 1679.9,580.1 1680.5,577.1 1681,574.1 1681.6,571.2 1682.1,568.2 1682.6,565.2 1683.2,562.3 1683.7,559.3 1684.3,556.3 1684.8,553.3 1685.3,550.4 1685.9,547.4 1686.4,544.4 1687,541.5 1687.5,538.5 1688.1,535.5 1688.7,532.6 1689.3,529.6 1690,526.7 1690.6,523.7 1691.2,520.8 1691.9,517.8 1692.5,514.9 1693.1,511.9 1693.8,509 1694.5,506.1 1695.5,503.2 1696.7,500.5 1697.9,497.7 1699.1,494.9 1700.3,492.1 1701.6,489.4 1703.1,486.8 1704.6,484.2 1706.1,481.6 1707.6,479 1709.2,476.4 1712.1,473 1714.2,470.9 1716.4,468.7 1718.5,466.5 1720.4,464.2 1722.3,461.9 1724.3,459.6 1726.2,457.3 1728.1,455 1730.3,451 1731.5,448.3 1732.8,445.5 1734,442.8 1735.2,440 1736.4,437.2 1737.6,434.5 1738.5,431.6 1739.3,428.7 1740.1,425.8 1740.9,422.9 1741.7,419.9 1742.4,417 1743.2,414.1 1744,411.2 1744.6,408.2 1745.2,405.3 1745.7,402.3 1746.2,399.3 1746.8,396.4 1747.3,393.4 1747.9,390.4 1748.4,387.5 1748.8,384.5 1749.2,381.5 1749.6,378.5 1749.9,375.5 1750.3,372.5 1750.7,369.5 1751.1,366.5 1751.4,363.5 1751.8,360.5 1752.3,357.5 1752.8,354.6 1753.3,351.6 1753.7,348.6 1754.2,345.6 1754.7,342.6 1755.2,339.7 1755.6,336.7 1755.9,335.2" stroke="#e01418"/>
<polyline points="1861.4,335 1861.5,338 1861.7,341 1861.8,344.1 1862,347.1 1862.1,350.1 1862.3,353.1 1862.4,356.1 1862.6,359.1 1862.7,362.1 1862.9,365.1 1863,368.2 1863.2,371.2 1863.4,374.2 1863.5,377.2 1863.7,380.2 1863.8,383.2 1864,386.2 1864.1,389.2 1864.3,392.2 1864.5,395.3 1864.7,398.3 1865,401.3 1865.2,404.3 1865.5,407.3 1865.7,410.3 1866,413.3 1866.2,416.3 1866.5,419.3 1866.7,422.3 1867,425.3 1867.2,428.3 1867.5,431.3 1867.7,434.3 1868,437.3 1868.2,440.3 1868.5,443.3 1868.7,446.3 1869,449.4 1869.2,452.4 1869.5,455.4 1869.7,458.4 1870,461.4 1870.2,464.4 1870.5,467.4 1870.7,470.4 1870.9,473.4 1871.2,476.4 1871.4,479.4 1871.7,482.4 1871.9,485.4 1872.2,488.4 1872.4,491.4 1872.7,494.4 1872.9,497.4 1873.1,500.5 1873.4,503.5 1873.6,506.5 1873.9,509.5 1874.1,512.5 1874.4,515.5 1874.6,518.5 1874.9,521.5 1875.2,524.5 1875.8,527.4 1876.3,530.4 1876.8,533.4 1877.4,536.3 1877.9,539.3 1878.5,542.3 1879,545.3 1879.5,548.2 1880.1,551.2 1880.6,554.2 1881.2,557.1 1881.7,560.1 1882.2,563.1 1882.8,566 1883.3,569 1884,571.9 1884.8,574.8 1885.6,577.7 1886.4,580.6 1887.2,583.6 1888,586.5 1888.8,589.4 1889.6,592.3 1890.4,595.2 1891.2,598.1 1892,601 1892.9,603.9 1893.7,606.8 1894.6,609.7 1895.9,612.3 1897.4,615 1898.9,617.6 1900.3,620.2 1901.8,622.9 1903.3,625.5 1905.7,629.3 1909.2,632.1 1911.6,633.9 1914,635.7 1916.4,637.5 1918.8,639.3 1921.3,641.1 1925.2,643.3 1927.9,644.6 1930.7,645.8 1933.4,647 1936.2,648.3 1938.9,649.5 1941.7,650.7 1944.5,651.8 1947.4,652.5 1950.4,653.2 1953.3,653.8 1956.3,654.4 1959.2,655 1962.2,655.6 1965.1,656.2 1968.1,656.8 1971,657.3 1974,657.7 1977,658 1980,658.3 1983,658.6 1986,658.9 1989,659.2 1992,659.5 1995,659.8 1998,660.1 2001,660.4 2004.1,660.6 2007.1,660.7 2010.1,660.8 2013.1,660.9 2016.1,661 2019.1,661.1 2022.1,661.2 2025.2,661.3 2028.2,661.4 2031.2,661.5 2034.2,661.6 2037.2,661.8 2040.2,662 2043.2,662.2 2046.2,662.4 2049.2,662.6 2052.3,662.8 2055.3,663 2058.3,663.2 2061.3,663.4 2064.3,663.6 2067.3,663.8 2070.3,664 2073.3,664.1 2076.3,664.3 2079.3,664.5 2082.3,664.7 2085.4,664.9 2088.4,665.1 2091.4,665.3 2094.4,665.5 2097.4,665.7 2100.4,665.8 2103.4,666 2106.4,666.2 2109.4,666.4 2112.4,666.6 2115.5,666.8 2117,666.9" stroke="#e01418"/>
<polyline points="1623.6,690 1626.6,690 1629.6,690 1632.7,690 1635.7,690 1638.7,690 1641.7,690 1644.7,689.8 1647.6,689.1 1650.5,688.3 1654.6,686.6 1657.1,684.8 1659.5,683 1661.8,681.1 1663.8,678.8 1665.7,676.5 1667.6,674.1 1669.4,671.7 1671.1,669.2 1672.5,666.6 1673.8,663.9 1675.2,661.2 1676.5,658.5 1677.9,655.8 1679.2,653 1680.5,650.3 1681.7,647.6 1683,644.8 1684.2,642.1 1685.5,639.3 1686.7,636.6 1688,633.8 1689.2,631.1 1690.5,628.3 1691.7,625.6 1693,622.8 1694.2,620.1 1695.5,617.3 1696.7,614.6 1698,611.8 1699.2,609.1 1700.5,606.3 1701.9,603.7 1703.3,601 1704.8,598.4 1706.3,595.7 1707.7,593.1 1709.2,590.5 1710.7,587.8 1712.2,585.2 1713.8,582.6 1715.4,580.1 1717,577.5 1718.6,575 1720.2,572.4 1721.8,569.8 1723.4,567.3 1725,564.7 1726.6,562.2 1728.2,559.6 1729.8,557 1731.4,554.5 1733,551.9 1734.5,549.3 1735.9,546.7 1737.4,544 1738.9,541.4 1740.3,538.7 1741.8,536.1 1743.3,533.5 1744.6,530.8 1745.7,528 1746.8,525.2 1748,522.4 1749.1,519.6 1750.2,516.8 1751.3,513.9 1752.4,511.1 1753.3,508.3 1754.1,505.3 1754.8,502.4 1755.5,499.5 1756.3,496.5 1757,493.6 1757.7,490.7 1758.5,487.8 1759.2,484.8 1759.7,481.9 1760.2,478.9 1760.7,475.9 1761.2,472.9 1761.7,469.9 1762.2,467 1762.7,464 1763.2,461 1763.7,458 1764.1,455 1764.5,452.1 1764.9,449.1 1765.3,446.1 1765.7,443.1 1766.1,440.1 1766.5,437.1 1766.9,434.1 1767.3,431.1 1767.7,428.1 1768.1,425.1 1768.4,422.1 1768.7,419.1 1769,416.1 1769.3,413.1 1769.6,410.1 1769.9,407.1 1770.2,404.1 1770.5,401.1 1770.8,398.1 1771.1,395.1 1771.4,392.1 1771.7,389.1 1772,386.1 1772.3,383.1 1772.6,380.1 1772.9,377 1773.2,374 1773.5,371 1773.8,368 1774.1,365 1774.4,362 1774.8,359 1775.3,356.1 1775.7,353.1 1776.2,350.1 1776.7,347.1 1777.2,344.1 1777.6,341.2 1778.1,338.2 1778.6,335.2" stroke="#62c462"/>
<polyline points="1852.6,335 1852.8,338 1852.9,341 1853.1,344 1853.3,347 1853.5,350 1853.7,353 1853.8,356.1 1854,359.1 1854.2,362.1 1854.4,365.1 1854.6,368.1 1854.7,371.1 1854.9,374.1 1855.1,377.1 1855.3,380.1 1855.5,383.1 1855.7,386.1 1855.8,389.1 1856,392.1 1856.2,395.1 1856.4,398.1 1856.6,401.1 1856.7,404.1 1857,407.1 1857.2,410.1 1857.5,413.1 1857.7,416.1 1857.9,419.1 1858.2,422.1 1858.4,425.1 1858.7,428.1 1858.9,431.1 1859.1,434.1 1859.4,437.1 1859.6,440.1 1859.9,443.1 1860.1,446.1 1860.3,449.1 1860.6,452.1 1860.8,455.1 1861.1,458.1 1861.3,461.1 1861.5,464.1 1861.8,467.1 1862,470.1 1862.3,473.1 1862.5,476.1 1862.7,479.1 1863,482.1 1863.2,485.1 1863.4,488.1 1863.7,491.1 1863.9,494.1 1864.2,497.1 1864.4,500.1 1864.6,503.1 1864.9,506.1 1865.1,509.1 1865.4,512.1 1865.7,515.1 1866.1,518.1 1866.4,521 1866.8,524 1867.1,527 1867.5,530 1867.8,533 1868.2,536 1868.5,539 1868.9,542 1869.2,544.9 1869.6,547.9 1870,550.9 1870.4,553.9 1870.9,556.9 1871.4,559.8 1871.8,562.8 1872.3,565.8 1872.7,568.8 1873.2,571.7 1873.6,574.7 1874.1,577.7 1874.5,580.7 1875.1,583.6 1875.9,586.5 1876.9,589.3 1877.8,592.2 1878.8,595.1 1879.7,597.9 1880.7,600.8 1881.6,603.6 1882.6,606.5 1883.6,609.3 1885.6,613.3 1887.1,615.9 1888.6,618.6 1890,621.2 1891.5,623.8 1893,626.4 1895.6,630.1 1897.8,632 1900.1,634 1902.4,636 1904.7,637.9 1907,639.9 1910.6,642.6 1913.2,643.9 1915.9,645.3 1918.6,646.6 1921.3,648 1924,649.3 1928.1,651 1931.1,651.6 1934,652.2 1937,652.8 1939.9,653.4 1942.9,654 1945.8,654.6 1948.8,655.1 1951.8,655.4 1954.8,655.7 1957.8,656 1960.7,656.3 1963.7,656.6 1966.7,656.9 1969.7,657.2 1972.7,657.5 1975.7,657.8 1978.7,658.1 1981.7,658.4 1984.7,658.6 1987.7,658.8 1990.7,659 1993.7,659.2 1996.7,659.4 1999.7,659.6 2002.7,659.8 2005.7,660 2008.7,660.2 2011.7,660.4 2014.7,660.6 2017.7,660.7 2020.7,660.8 2023.8,660.9 2026.8,661 2029.8,661.1 2032.8,661.2 2035.8,661.3 2038.8,661.4 2041.8,661.5 2044.8,661.6 2047.8,661.7 2050.8,661.8 2053.8,661.9 2056.8,662 2059.8,662.1 2062.8,662.2 2065.8,662.3 2068.9,662.4 2071.9,662.5 2074.9,662.6 2077.9,662.7 2080.9,662.7 2083.9,662.7 2086.9,662.7 2089.9,662.7 2092.9,662.7 2095.9,662.7 2098.9,662.7 2101.9,662.7 2105,662.7 2108,662.7 2111,662.7 2114,662.7 2117,662.7" stroke="#62c462"/>
<polyline points="1623.6,690 1626.6,690 1629.6,690 1632.7,690 1635.7,690 1638.7,690 1643.1,689.2 1645.9,688.1 1648.6,686.9 1652.4,684.7 1654.8,680.9 1656.2,678.3 1657.7,675.7 1659.2,673 1660.7,670.4 1662.1,667.7 1663.4,665 1664.6,662.2 1665.8,659.5 1667,656.7 1668.3,654 1669.5,651.2 1670.7,648.5 1672.1,645.7 1673.4,643 1674.8,640.3 1676.1,637.6 1677.5,634.9 1678.8,632.2 1680.2,629.5 1681.5,626.9 1683,624.2 1684.5,621.6 1685.9,618.9 1687.4,616.3 1688.9,613.6 1690.3,611 1691.8,608.4 1694.8,605 1696.9,602.9 1699.1,600.7 1701.3,598.8 1703.8,597.1 1706.4,595.6 1709,594 1711.6,592.5 1714.2,590.9 1716.8,589.4 1719.4,587.8 1721.9,586.2 1724.5,584.7 1727.1,583.1 1729.7,581.6 1732.3,580 1735.7,577.1 1737.8,574.9 1740,572.8 1742.1,570.7 1744.1,568.5 1745.9,566 1747.6,563.5 1749.2,561 1750.9,558.5 1752.5,555.9 1753.9,553.2 1755.1,550.5 1756.2,547.7 1757.4,544.9 1758.6,542.1 1759.6,539.3 1760.4,536.4 1761.2,533.5 1762,530.6 1762.8,527.7 1763.6,524.8 1764.4,521.8 1765.2,518.9 1765.9,516 1766.6,513 1767.2,510.1 1767.7,507.1 1768.3,504.2 1768.9,501.2 1769.5,498.2 1770.1,495.3 1770.7,492.3 1771.3,489.4 1771.9,486.4 1772.4,483.4 1772.9,480.4 1773.3,477.5 1773.8,474.5 1774.2,471.5 1774.6,468.5 1775.1,465.5 1775.5,462.5 1776,459.5 1776.4,456.6 1776.8,453.6 1777.3,450.6 1777.7,447.6 1778.1,444.6 1778.5,441.6 1778.9,438.6 1779.3,435.6 1779.7,432.6 1780.1,429.6 1780.5,426.6 1780.9,423.7 1781.3,420.7 1781.7,417.7 1782.1,414.7 1782.4,411.7 1782.7,408.7 1783,405.7 1783.3,402.7 1783.6,399.7 1783.9,396.7 1784.2,393.6 1784.5,390.6 1784.8,387.6 1785.1,384.6 1785.4,381.6 1785.7,378.6 1786,375.6 1786.3,372.6 1786.6,369.6 1786.9,366.6 1787.2,363.6 1787.5,360.6 1787.8,357.6 1788.1,354.6 1788.4,351.6 1788.7,348.6 1789,345.6 1789.3,342.6 1789.6,339.6 1789.9,336.6 1790.1,335.1" stroke="#1f6fd8"/>
<polyline points="1844.1,335 1844.2,338 1844.4,341 1844.5,344 1844.7,347.1 1844.8,350.1 1845,353.1 1845.1,356.1 1845.3,359.1 1845.4,362.1 1845.6,365.1 1845.7,368.1 1845.9,371.1 1846,374.1 1846.2,377.1 1846.3,380.1 1846.5,383.2 1846.6,386.2 1846.8,389.2 1846.9,392.2 1847.1,395.2 1847.3,398.2 1847.5,401.2 1847.6,404.2 1847.8,407.2 1848,410.2 1848.2,413.2 1848.4,416.2 1848.6,419.2 1848.7,422.2 1848.9,425.3 1849.1,428.3 1849.3,431.3 1849.5,434.3 1849.6,437.3 1849.8,440.3 1850,443.3 1850.2,446.3 1850.4,449.3 1850.5,452.3 1850.7,455.3 1850.9,458.3 1851.1,461.3 1851.3,464.3 1851.4,467.3 1851.6,470.4 1851.8,473.4 1852,476.4 1852.2,479.4 1852.3,482.4 1852.5,485.4 1852.7,488.4 1852.9,491.4 1853.1,494.4 1853.2,497.4 1853.4,500.4 1853.8,503.4 1854.2,506.4 1854.6,509.4 1855,512.4 1855.4,515.3 1855.9,518.3 1856.3,521.3 1856.7,524.3 1857.1,527.3 1857.5,530.3 1857.9,533.2 1858.4,536.2 1858.8,539.2 1859.2,542.2 1859.6,545.2 1860,548.1 1860.5,551.1 1860.9,554.1 1861.3,557.1 1861.7,560.1 1862.2,563.1 1862.7,566 1863.2,569 1863.6,572 1864.1,574.9 1864.6,577.9 1865.1,580.9 1865.6,583.9 1866.1,586.8 1866.8,589.7 1867.7,592.6 1868.6,595.5 1869.4,598.4 1870.3,601.3 1871.2,604.2 1872,607.1 1873.7,611.2 1875.1,613.9 1876.6,616.5 1878.1,619.1 1879.5,621.8 1881,624.4 1882.5,627 1885.3,630.5 1887.6,632.4 1889.9,634.4 1892.2,636.3 1894.5,638.2 1898.2,640.7 1901,641.9 1903.7,643.1 1906.5,644.4 1909.2,645.6 1912,646.8 1914.7,648 1917.6,649 1920.5,649.7 1923.4,650.5 1926.3,651.2 1929.3,651.9 1932.2,652.7 1935.1,653.4 1938.1,654 1941,654.4 1944,654.7 1947,655 1950,655.3 1953,655.6 1956,655.9 1959,656.1 1962,656.3 1965,656.4 1968.1,656.5 1971.1,656.6 1974.1,656.7 1977.1,656.8 1980.1,656.9 1983.1,657 1986.1,657.1 1989.1,657.2 1992.1,657.3 1995.1,657.3 1998.2,657.3 2001.2,657.3 2004.2,657.3 2007.2,657.3 2010.2,657.3 2013.2,657.3 2016.2,657.3 2019.2,657.3 2022.3,657.3 2025.3,657.3 2028.3,657.2 2031.3,657.1 2034.3,657 2037.3,656.9 2040.3,656.8 2043.3,656.7 2046.3,656.6 2049.3,656.5 2052.4,656.4 2055.4,656.3 2058.4,656.1 2061.4,656 2064.4,655.8 2067.4,655.7 2070.4,655.5 2073.4,655.4 2076.4,655.2 2079.4,655 2082.4,654.8 2085.4,654.5 2088.4,654.2 2091.4,653.9 2094.4,653.7 2097.4,653.4 2100.4,653.1 2103.4,652.8 2106.4,652.6 2109.4,652.3 2112.4,652 2115.4,651.7 2116.9,651.6" stroke="#1f6fd8"/>
</g>
<g clip-path="url(#cpe)" fill="none" stroke-width="2.5" stroke-linejoin="round" stroke-linecap="butt">
<polyline points="104.1,1147.8 108.1,1145.9 111.8,1143.6 115.2,1140.8 118.1,1137.4 120.6,1133.8 122.6,1129.8 124.5,1125.7 125.5,1122.9 126.6,1120.1 127.5,1117.2 128.3,1114.3 129.2,1111.4 130,1108.5 130.7,1105.6 131.5,1102.7 132.2,1099.8 132.8,1096.8 133.4,1093.9 134,1090.9 134.5,1088 135,1085 135.6,1082 136.1,1079.1 136.6,1076.1 137.1,1073.1 137.7,1070.2 138.2,1067.2 138.7,1064.2 139.2,1061.3 139.6,1058.3 140.1,1055.3 140.6,1052.3 141.1,1049.4 141.5,1046.4 142,1043.4 142.5,1040.5 142.9,1037.5 143.4,1034.5 143.9,1031.5 144.3,1028.6 144.8,1025.6 145.2,1022.6 145.7,1019.6 146.2,1016.6 146.6,1013.7 147,1010.7 147.5,1007.7 147.9,1004.7 148.4,1001.8 148.8,998.8 149.3,995.8 149.7,992.8 150.2,989.8 150.7,986.9 151.1,983.9 151.6,980.9 152.1,978 152.7,975 153.2,972 153.7,969.1 154.2,966.1 154.8,963.1 155.3,960.2 155.8,957.2 156.4,954.2 156.9,951.3 157.5,948.3 158.2,945.4 158.8,942.5 159.5,939.5 160.2,936.6 160.9,933.7 161.6,930.7 162.3,927.8 163.1,924.9 163.9,922 164.7,919.1 165.7,916.3 166.6,913.4 167.5,910.5 168.4,907.7 169.3,904.8 170.2,901.9 171.1,899 172.6,894.8 174.5,890.8 176.7,886.9 179.1,883.1 181.6,879.4 184.3,875.9 187.3,872.8 190.9,870.5 195,869 199.3,868.2 203.7,868 208.1,868.3 212.6,868.9 215.5,869.4 218.5,870 221.5,870.5 224.4,871 227.4,871.5 230.4,872 233.4,872.4 236.3,872.9 239.3,873.4 242.3,873.9 245.2,874.4 248.2,874.9 251.1,875.5 254.1,876.1 257.1,876.7 260,877.3 263,877.9 265.9,878.5 268.9,879.1 271.8,879.6 274.8,880.3 277.7,880.9 280.6,881.6 283.5,882.3 286.4,883.2 289.3,884.1 292.1,885.1 295,886 297.8,887.1 300.6,888.1 303.4,889.3 306.2,890.5 308.9,891.7 311.6,893 314.3,894.4 317,895.8 319.6,897.1 322.3,898.6 324.9,900 327.5,901.5 330.1,903.1 332.6,904.7 335.1,906.4 337.5,908.2 339.8,910.1 342.1,912 344.4,914 346.7,916 348.9,918 351.2,920 353.5,921.9 355.9,923.8 358.3,925.6 360.7,927.4 363.1,929.1 365.6,930.9 368,932.6 370.4,934.5 372.7,936.3 375.1,938.3 377.3,940.2 379.6,942.2 381.8,944.2 384.1,946.3 386.3,948.3 388.5,950.3 390.8,952.3 393,954.3 395.3,956.3 397.5,958.3 399.7,960.4 402,962.4 404.2,964.4 406.4,966.4 408.7,968.4 410.9,970.4 413.2,972.4 415.4,974.5 417.6,976.5 419.9,978.5 422.1,980.5 424.4,982.5 426.6,984.5 428.8,986.5 431.1,988.6 433.3,990.6 435.5,992.6 437.8,994.6 440,996.6 442.3,998.6 444.5,1000.6 446.7,1002.7 449,1004.7 451.2,1006.7 453.5,1008.7 455.7,1010.7 458,1012.6 460.3,1014.5 462.7,1016.4 465,1018.3 467.4,1020.2 469.7,1022.1 472.1,1024 474.4,1025.9 476.8,1027.8 479.1,1029.6 481.5,1031.5 483.8,1033.4 486.2,1035.2 488.6,1037.1 491,1038.8 493.5,1040.6 496,1042.2 498.5,1043.8 501.1,1045.4 503.7,1047 506.2,1048.5 508.8,1050.2 511.3,1051.8 513.8,1053.5 516.3,1055.2 518.7,1056.9 521.2,1058.7 523.7,1060.4 526.1,1062.1 528.6,1063.8 531.1,1065.6 533.5,1067.3 536,1069 538.5,1070.7 541,1072.4 543.5,1074.1 546,1075.8 548.5,1077.4 551,1079 553.6,1080.6" stroke="#6a18dc"/>
<polyline points="104.1,1147.8 108.1,1145.9 111.8,1143.6 115.2,1140.8 118.1,1137.5 120.6,1133.8 122.6,1129.8 124.5,1125.7 125.5,1122.9 126.5,1120.1 127.5,1117.2 128.3,1114.3 129.1,1111.5 129.9,1108.6 130.7,1105.6 131.5,1102.7 132.2,1099.8 132.8,1096.9 133.4,1093.9 134,1091 134.5,1088 135,1085 135.6,1082.1 136.1,1079.1 136.6,1076.2 137.1,1073.2 137.6,1070.2 138.2,1067.3 138.7,1064.3 139.1,1061.3 139.6,1058.3 140.1,1055.4 140.6,1052.4 141,1049.4 141.5,1046.5 142,1043.5 142.5,1040.5 142.9,1037.5 143.4,1034.6 143.9,1031.6 144.3,1028.6 144.8,1025.6 145.2,1022.7 145.7,1019.7 146.1,1016.7 146.6,1013.7 147,1010.8 147.5,1007.8 147.9,1004.8 148.4,1001.8 148.8,998.9 149.3,995.9 149.7,992.9 150.2,989.9 150.6,987 151.1,984 151.6,981 152.1,978.1 152.6,975.1 153.2,972.1 153.7,969.2 154.2,966.2 154.7,963.2 155.3,960.3 155.8,957.3 156.3,954.3 156.9,951.4 157.5,948.4 158.2,945.5 158.8,942.6 159.5,939.6 160.2,936.7 160.8,933.8 161.5,930.8 162.3,927.9 163,925 163.8,922.1 164.7,919.2 165.6,916.4 166.6,913.5 167.6,910.7 168.6,907.9 169.7,905.1 171,902.3 172.2,899.6 173.6,896.9 175.7,893 178.2,889.3 181,886.1 184.3,883.7 188,882.8 192,883.2 196.1,884.6 200.2,886.5 204.2,888.5 206.8,890 209.4,891.5 212,893.1 214.6,894.6 217.1,896.2 219.7,897.7 222.3,899.3 224.9,900.8 227.5,902.4 230,903.9 232.6,905.5 235.2,907 237.8,908.6 240.4,910.1 242.9,911.7 245.5,913.2 248.1,914.8 250.6,916.4 253.1,918.1 255.6,919.7 258.1,921.4 260.6,923.1 263.2,924.7 265.7,926.4 268.2,928 270.7,929.7 273.2,931.3 275.7,933 278.2,934.7 280.7,936.3 283.2,938 285.7,939.7 288.2,941.4 290.7,943.1 293.1,944.8 295.6,946.6 298,948.3 300.4,950.1 303.9,953 307.3,956 309.5,958 311.6,960.1 313.8,962.3 315.9,964.4 318.1,966.5 320.3,968.5 322.5,970.6 324.7,972.6 326.9,974.6 329.1,976.7 331.2,978.8 333.4,980.9 335.4,983.1 337.5,985.3 339.6,987.5 341.6,989.7 343.6,991.9 345.6,994.2 347.7,996.4 349.7,998.6 351.7,1000.8 353.7,1003.1 355.8,1005.3 357.8,1007.5 359.8,1009.7 361.8,1012 363.9,1014.2 365.9,1016.4 367.9,1018.7 369.9,1020.9 372,1023.1 374,1025.3 376,1027.6 378,1029.8 380.1,1032 382.1,1034.2 384.1,1036.5 386.2,1038.7 388.2,1040.9 390.3,1043 392.4,1045.2 394.5,1047.3 396.7,1049.5 398.8,1051.6 400.9,1053.7 403,1055.8 405.2,1058 407.3,1060.1 409.4,1062.2 411.5,1064.4 413.7,1066.5 415.8,1068.6 417.9,1070.7 420.1,1072.8 422.3,1074.9 424.4,1077 426.6,1079.1 428.9,1081.1 431.1,1083.1 433.3,1085.1 435.6,1087.1 437.8,1089.1 440.1,1091.1 442.4,1093 444.7,1094.9 447.1,1096.8 449.4,1098.7 451.8,1100.5 454.2,1102.4 456.6,1104.1 459.1,1105.9 461.6,1107.5 464.1,1109.1 466.7,1110.7 469.3,1112.2 471.9,1113.7 474.5,1115.2 477.2,1116.6 479.8,1118 482.5,1119.4 485.2,1120.7 487.9,1122 490.6,1123.3 493.4,1124.5 496.2,1125.7 498.9,1126.9 501.7,1128 504.5,1129.1 507.3,1130.2 510.1,1131.2 513,1132.3 515.8,1133.3 518.6,1134.3 521.5,1135.2 524.4,1136.2 527.2,1137 530.1,1137.8 533,1138.6 536,1139.4 538.9,1140.1 541.8,1140.8 544.7,1141.4 547.7,1142.1 550.6,1142.7 553.6,1143.3" stroke="#f0b41e"/>
<polyline points="104.1,1147.8 108.1,1145.9 111.8,1143.6 115.2,1140.8 118.1,1137.5 120.5,1133.8 122.6,1129.8 124.5,1125.7 126.1,1121.5 127,1118.7 127.9,1115.8 128.7,1112.9 129.5,1110 130.3,1107.1 131.1,1104.2 131.8,1101.3 132.5,1098.4 133.1,1095.4 133.7,1092.5 134.2,1089.5 134.8,1086.5 135.3,1083.6 135.8,1080.6 136.3,1077.7 136.9,1074.7 137.4,1071.7 137.9,1068.8 138.4,1065.8 138.9,1062.8 139.4,1059.9 139.9,1056.9 140.3,1053.9 140.8,1050.9 141.3,1048 141.7,1045 142.2,1042 142.7,1039.1 143.2,1036.1 143.6,1033.1 144.1,1030.1 144.5,1027.2 145,1024.2 145.5,1021.2 145.9,1018.2 146.4,1015.3 146.8,1012.3 147.3,1009.3 147.7,1006.3 148.1,1003.4 148.6,1000.4 149,997.4 149.5,994.4 149.9,991.5 150.4,988.5 150.9,985.5 151.4,982.5 151.9,979.6 152.4,976.6 152.9,973.7 153.4,970.7 153.9,967.7 154.5,964.8 155,961.8 155.5,958.8 156.1,955.9 156.6,952.9 157.2,950 157.8,947 158.5,944.1 159.1,941.2 159.8,938.2 160.5,935.3 161.2,932.4 161.9,929.4 162.6,926.5 163.4,923.6 164.3,920.7 165.1,917.9 166.1,915 167.1,912.2 168.1,909.3 169.2,906.5 170.3,903.8 171.6,901 173.6,897 175.9,893.2 178.6,889.7 181.6,886.7 185.2,884.7 189.1,884 193,884.7 196.8,886.6 200.4,889.1 203.9,891.9 206.2,893.8 208.5,895.8 210.8,897.7 213.1,899.7 215.3,901.7 217.5,903.7 219.6,905.8 221.7,908 223.7,910.2 225.7,912.5 227.7,914.8 229.7,917 231.7,919.2 233.8,921.4 235.8,923.6 237.9,925.8 240,927.9 242.1,930.1 244.2,932.3 246.2,934.5 248.2,936.8 250.1,939.1 252,941.4 253.8,943.8 255.6,946.2 257.3,948.7 259,951.2 260.7,953.7 262.3,956.2 264,958.7 265.7,961.1 267.5,963.6 269.3,965.9 271.3,968.2 273.3,970.5 275.3,972.7 277.4,974.8 279.5,977 281.6,979.1 283.7,981.3 285.8,983.5 287.8,985.7 289.9,987.9 292,990 295.3,993.1 298.7,996 302.3,998.7 305.8,1001.4 309.2,1004.4 312.4,1007.5 314.5,1009.7 316.5,1011.9 318.5,1014.2 320.5,1016.5 322.4,1018.7 324.4,1021 326.4,1023.2 328.4,1025.5 330.5,1027.7 332.6,1029.8 334.8,1031.9 337,1033.9 339.2,1036 341.4,1038 343.7,1040 345.9,1042 348.2,1044 350.4,1046 352.7,1047.9 355,1049.8 357.4,1051.7 359.7,1053.6 362,1055.5 364.4,1057.4 366.6,1059.4 368.9,1061.4 371,1063.5 373.2,1065.6 375.4,1067.7 377.5,1069.8 379.7,1071.8 382,1073.8 384.3,1075.7 386.6,1077.6 388.9,1079.5 391.3,1081.4 393.6,1083.3 396,1085.2 398.3,1087 400.7,1088.9 403.1,1090.7 405.5,1092.5 408,1094.2 410.5,1095.8 413.1,1097.4 415.7,1098.9 418.2,1100.5 420.8,1102.1 423.4,1103.6 426,1105.1 428.6,1106.7 431.1,1108.2 433.7,1109.8 436.3,1111.3 438.9,1112.8 441.6,1114.2 444.2,1115.6 446.9,1117 449.6,1118.4 452.3,1119.7 455,1121 457.7,1122.2 460.5,1123.4 463.3,1124.6 466,1125.7 468.8,1126.8 471.7,1127.9 474.5,1128.9 477.3,1129.9 480.2,1130.8 483.1,1131.7 485.9,1132.6 488.8,1133.5 491.7,1134.3 494.6,1135.2 497.5,1136.1 500.4,1136.9 503.2,1137.7 506.1,1138.5 509,1139.3 512,1140 514.9,1140.7 517.9,1141.3 520.8,1141.8 523.8,1142.4 526.7,1142.9 529.7,1143.3 532.7,1143.7 535.7,1144.1 538.6,1144.5 541.6,1144.9 544.6,1145.3 547.6,1145.6 550.6,1146 553.6,1146.4" stroke="#a8c0c0"/>
<polyline points="104.1,1147.8 108.1,1145.9 111.8,1143.6 115.2,1140.8 118.1,1137.5 120.5,1133.8 122.6,1129.8 124.4,1125.7 126,1121.5 127,1118.7 127.9,1115.8 128.7,1112.9 129.5,1110 130.3,1107.1 131.1,1104.2 131.8,1101.3 132.5,1098.4 133.1,1095.4 133.7,1092.5 134.2,1089.5 134.8,1086.6 135.3,1083.6 135.8,1080.6 136.3,1077.7 136.9,1074.7 137.4,1071.8 137.9,1068.8 138.4,1065.8 138.9,1062.9 139.4,1059.9 139.9,1056.9 140.3,1054 140.8,1051 141.3,1048 141.7,1045 142.2,1042.1 142.7,1039.1 143.1,1036.1 143.6,1033.2 144.1,1030.2 144.5,1027.2 145,1024.2 145.5,1021.3 145.9,1018.3 146.4,1015.3 146.8,1012.3 147.2,1009.4 147.7,1006.4 148.1,1003.4 148.6,1000.4 149,997.5 149.5,994.5 149.9,991.5 150.4,988.5 150.9,985.6 151.4,982.6 151.9,979.6 152.4,976.7 152.9,973.7 153.4,970.8 153.9,967.8 154.5,964.8 155,961.9 155.5,958.9 156,955.9 156.6,953 157.2,950 157.8,947.1 158.5,944.2 159.1,941.2 159.8,938.3 160.5,935.4 161.2,932.4 161.9,929.5 162.6,926.6 163.4,923.7 164.2,920.8 165.1,918 166.1,915.1 167,912.2 168,909.4 169.1,906.6 170.3,903.9 172.2,899.8 174.3,895.8 176.7,892.1 179.5,888.8 182.8,886.3 186.5,884.9 190.6,884.9 194.6,886 198.4,888 202,890.6 205.3,893.5 208.6,896.6 210.7,898.7 212.9,900.8 215,902.9 217.2,905.1 219.2,907.2 221.3,909.4 223.3,911.7 225.2,914 227.2,916.3 229.1,918.6 231,920.9 232.8,923.3 234.7,925.7 236.5,928 238.4,930.4 240.2,932.8 242,935.2 243.9,937.6 245.7,939.9 247.5,942.3 249.4,944.7 251.3,947 253.1,949.4 255,951.7 257.7,955.3 260.3,959 262.5,962.9 264,965.5 265.4,968.2 266.9,970.8 269.2,974.6 271.7,978.3 274.6,981.8 277.6,985.1 279.7,987.2 281.9,989.3 284.1,991.3 287.5,994.3 291.1,997 293.5,998.8 297,1001.6 300.4,1004.6 302.6,1006.6 304.8,1008.7 306.9,1010.8 309,1012.9 311.1,1015.1 313.2,1017.3 315.3,1019.4 317.3,1021.6 319.4,1023.8 321.5,1026 323.6,1028.1 325.7,1030.2 327.9,1032.3 330.1,1034.4 332.3,1036.4 334.5,1038.4 336.8,1040.4 339,1042.4 341.3,1044.4 343.6,1046.4 345.9,1048.3 348.2,1050.1 350.6,1051.9 353.1,1053.7 355.5,1055.5 358,1057.2 360.4,1058.9 362.9,1060.6 365.4,1062.3 367.8,1064.1 370.2,1065.9 372.6,1067.7 375,1069.6 377.3,1071.5 379.5,1073.5 381.8,1075.4 384.1,1077.3 386.5,1079.2 388.8,1081.1 391.2,1083 393.5,1084.9 395.9,1086.8 398.2,1088.6 400.6,1090.5 403,1092.3 405.4,1094.1 407.9,1095.8 410.4,1097.4 412.9,1099 415.5,1100.6 418.1,1102.1 420.7,1103.7 423.2,1105.2 425.8,1106.8 428.4,1108.3 431,1109.9 433.6,1111.4 436.2,1112.9 438.8,1114.4 441.4,1115.9 444.1,1117.3 446.7,1118.6 449.4,1120 452.1,1121.3 454.8,1122.6 457.6,1123.9 460.3,1125.1 463.1,1126.3 465.9,1127.4 468.7,1128.5 471.5,1129.6 474.3,1130.6 477.1,1131.6 480,1132.5 482.9,1133.4 485.7,1134.2 488.6,1135.1 491.5,1135.9 494.4,1136.7 497.3,1137.4 500.3,1138.2 503.2,1138.9 506.1,1139.6 509,1140.3 512,1140.9 514.9,1141.5 517.9,1142.1 520.8,1142.7 523.8,1143.2 526.7,1143.7 529.7,1144.2 532.7,1144.6 535.7,1145 538.7,1145.4 541.6,1145.8 544.6,1146.1 547.6,1146.5 550.6,1146.9 553.6,1147.3" stroke="#30dcdc"/>
<polyline points="104.1,1147.8 108.1,1145.9 111.8,1143.6 115.2,1140.8 118.1,1137.4 120.6,1133.8 122.6,1129.8 124.5,1125.7 125.5,1122.9 126.5,1120.1 127.5,1117.2 128.3,1114.3 129.2,1111.4 129.9,1108.5 130.7,1105.6 131.5,1102.7 132.2,1099.8 132.8,1096.9 133.4,1093.9 134,1091 134.5,1088 135,1085 135.6,1082.1 136.1,1079.1 136.6,1076.1 137.1,1073.2 137.6,1070.2 138.2,1067.2 138.7,1064.3 139.2,1061.3 139.6,1058.3 140.1,1055.4 140.6,1052.4 141.1,1049.4 141.5,1046.4 142,1043.5 142.5,1040.5 142.9,1037.5 143.4,1034.5 143.9,1031.6 144.3,1028.6 144.8,1025.6 145.2,1022.6 145.7,1019.7 146.1,1016.7 146.6,1013.7 147,1010.7 147.5,1007.7 147.9,1004.8 148.4,1001.8 148.8,998.8 149.3,995.8 149.7,992.9 150.2,989.9 150.7,986.9 151.1,983.9 151.6,981 152.1,978 152.7,975 153.2,972.1 153.7,969.1 154.2,966.1 154.7,963.2 155.3,960.2 155.8,957.3 156.4,954.3 156.9,951.3 157.5,948.4 158.2,945.5 158.8,942.5 159.5,939.6 160.2,936.6 160.9,933.7 161.5,930.8 162.3,927.9 163,925 163.9,922.1 164.7,919.2 165.6,916.3 166.6,913.5 167.6,910.6 168.7,907.8 169.8,905 171.7,901 173.8,897.1 176.4,893.5 179.6,890.5 183.2,888.3 187.1,887.1 191.1,887.2 194.9,888.7 198.3,891.2 201.3,894.4 204,897.9 205.8,900.4 207.5,902.8 209.3,905.2 211.1,907.6 212.9,910 214.7,912.4 216.6,914.8 218.4,917.2 220.2,919.6 222.1,922 223.9,924.4 225.7,926.8 227.5,929.2 229.2,931.7 231,934.1 232.8,936.6 234.5,939 236.3,941.5 238,943.9 239.8,946.4 241.5,948.8 243.3,951.2 245,953.7 246.8,956.2 248.5,958.6 250.2,961.1 251.9,963.5 253.6,966.1 255.2,968.6 256.8,971.2 258.3,973.7 259.8,976.4 261.3,979 262.8,981.6 264.4,984.1 266.9,987.9 269.6,991.4 272.6,994.7 275.9,997.8 278.1,999.8 280.4,1001.8 282.6,1003.8 284.8,1005.9 287,1008 289.1,1010.1 291.2,1012.2 293.3,1014.4 295.5,1016.5 297.6,1018.6 299.8,1020.7 302,1022.7 304.3,1024.7 306.5,1026.7 308.8,1028.7 311.1,1030.6 313.4,1032.5 315.8,1034.4 318.2,1036.2 320.6,1037.9 323.1,1039.6 325.6,1041.3 328.1,1043 330.6,1044.7 333.1,1046.3 335.6,1048 338.1,1049.7 340.6,1051.3 343.1,1053 345.6,1054.7 348.1,1056.4 350.6,1058 353.2,1059.7 355.7,1061.4 358.2,1063 360.7,1064.7 363.2,1066.3 365.7,1067.9 368.3,1069.6 370.8,1071.2 373.3,1072.9 375.8,1074.6 378.3,1076.3 380.8,1077.9 383.3,1079.5 385.9,1081.1 388.5,1082.6 391.1,1084.2 393.6,1085.8 396.2,1087.3 398.8,1088.8 401.4,1090.4 404,1091.9 406.5,1093.5 409.1,1095 411.7,1096.6 414.3,1098.1 416.9,1099.7 419.5,1101.2 422.1,1102.7 424.7,1104.1 427.4,1105.5 430.1,1106.9 432.8,1108.3 435.5,1109.6 438.1,1111 440.8,1112.3 443.5,1113.6 446.2,1115 448.9,1116.3 451.6,1117.6 454.4,1118.9 457.1,1120 461.3,1121.6 464.2,1122.6 467.1,1123.5 469.9,1124.4 472.8,1125.2 475.7,1126.1 478.6,1127 481.5,1127.8 484.4,1128.7 487.3,1129.5 490.2,1130.3 493.1,1131 496,1131.7 498.9,1132.3 501.9,1133 504.8,1133.6 507.8,1134.2 510.7,1134.9 513.6,1135.6 516.6,1136.3 519.5,1137 522.4,1137.6 525.4,1138.3 528.3,1138.9 531.3,1139.4 534.2,1139.9 537.2,1140.4 540.2,1140.9 543.2,1141.3 546.1,1141.8 549.1,1142.3 552.1,1142.7 553.6,1142.9" stroke="#e11fe0" stroke-dasharray="9,6"/>
<polyline points="104.1,1147.8 108.1,1145.9 111.8,1143.6 115.2,1140.8 118.1,1137.5 120.5,1133.8 122.6,1129.9 124.4,1125.7 126,1121.5 127.5,1117.3 128.3,1114.4 129.1,1111.5 129.9,1108.6 130.7,1105.7 131.4,1102.8 132.1,1099.9 132.8,1096.9 133.4,1094 134,1091 134.5,1088.1 135,1085.1 135.5,1082.2 136.1,1079.2 136.6,1076.2 137.1,1073.3 137.6,1070.3 138.1,1067.4 138.6,1064.4 139.1,1061.4 139.6,1058.5 140.1,1055.5 140.6,1052.5 141,1049.6 141.5,1046.6 142,1043.6 142.4,1040.6 142.9,1037.7 143.4,1034.7 143.8,1031.7 144.3,1028.8 144.8,1025.8 145.2,1022.8 145.7,1019.9 146.1,1016.9 146.6,1013.9 147,1010.9 147.5,1008 147.9,1005 148.3,1002 148.8,999 149.2,996.1 149.7,993.1 150.1,990.1 150.6,987.2 151.1,984.2 151.6,981.2 152.1,978.3 152.6,975.3 153.1,972.3 153.7,969.4 154.2,966.4 154.7,963.5 155.2,960.5 155.8,957.5 156.3,954.6 156.9,951.6 157.5,948.7 158.1,945.7 158.8,942.8 159.4,939.9 160.1,936.9 160.8,934 161.5,931.1 162.2,928.2 163,925.3 163.8,922.4 164.6,919.5 165.5,916.6 166.5,913.8 167.5,911 168.5,908.1 170.2,904 172.2,900 174.5,896.3 177.4,893.4 180.8,891.7 184.4,891.6 188,893.1 191.3,895.8 194.2,899.1 197,902.6 198.8,905 200.6,907.3 202.5,909.7 204.3,912.1 206.1,914.6 207.8,917 209.6,919.4 211.3,921.9 213.1,924.3 214.8,926.8 216.5,929.3 218.2,931.7 219.9,934.2 221.5,936.7 223.2,939.3 224.8,941.8 226.4,944.3 228,946.9 229.5,949.5 231.1,952.1 232.6,954.7 234,957.3 235.5,959.9 236.9,962.6 238.2,965.2 239.6,967.9 240.9,970.7 242.2,973.4 243.5,976.1 244.8,978.8 246.2,981.4 247.5,984.1 249,986.8 250.4,989.4 251.9,992 253.4,994.6 254.9,997.2 256.5,999.8 258.1,1002.3 259.8,1004.8 261.4,1007.3 263.1,1009.8 264.9,1012.2 266.6,1014.7 268.3,1017.2 270,1019.6 271.7,1022.1 273.5,1024.5 275.3,1026.9 277.1,1029.3 278.9,1031.7 280.8,1034.1 282.7,1036.4 285.7,1039.8 288.8,1043 290.9,1045.1 293.1,1047.2 295.3,1049.2 297.6,1051.2 299.8,1053.2 302.1,1055.1 304.5,1057 306.9,1058.8 309.3,1060.6 311.7,1062.4 314.1,1064.1 316.6,1065.9 319,1067.7 321.4,1069.5 323.9,1071.2 326.3,1073 328.8,1074.7 332.6,1077.1 336.5,1079.3 339.1,1080.8 341.7,1082.2 344.4,1083.6 347.1,1084.9 349.8,1086.3 352.5,1087.5 355.2,1088.8 358,1090 360.8,1091.2 365,1092.8 369.2,1094.2 373.5,1095.7 377.7,1097.2 380.5,1098.4 383.3,1099.5 386,1100.6 388.8,1101.7 391.6,1102.9 394.4,1104 397.2,1105.1 400,1106.2 402.8,1107.3 405.6,1108.4 408.4,1109.5 411.2,1110.6 414,1111.6 416.9,1112.6 419.7,1113.5 422.6,1114.4 425.5,1115.3 428.3,1116.2 431.2,1117 434.1,1117.9 437,1118.8 439.8,1119.6 442.7,1120.5 445.6,1121.4 448.5,1122.2 451.4,1123.1 454.2,1124 457.1,1124.8 460,1125.7 462.9,1126.5 465.8,1127.4 468.6,1128.3 471.5,1129.1 474.4,1130 477.3,1130.9 480.2,1131.7 483,1132.6 485.9,1133.5 488.8,1134.3 491.7,1135.2 494.6,1136 497.5,1136.8 500.4,1137.6 503.3,1138.3 506.2,1138.9 509.2,1139.5 512.1,1140.1 515.1,1140.7 518,1141.3 521,1141.9 523.9,1142.5 526.9,1143.1 529.8,1143.6 532.8,1144.2 535.7,1144.7 538.7,1145.2 541.7,1145.6 544.6,1146 547.6,1146.4 550.6,1146.8 553.6,1147.2" stroke="#e01418" stroke-dasharray="9,6"/>
<polyline points="104.1,1147.8 108.1,1145.9 111.8,1143.6 115.2,1140.8 118.1,1137.4 120.6,1133.8 122.7,1129.8 124.5,1125.7 125.6,1122.9 126.6,1120.1 127.5,1117.2 128.3,1114.3 129.2,1111.4 130,1108.5 130.7,1105.6 131.5,1102.7 132.2,1099.8 132.8,1096.8 133.4,1093.9 134,1090.9 134.5,1088 135,1085 135.6,1082 136.1,1079.1 136.6,1076.1 137.1,1073.1 137.7,1070.2 138.2,1067.2 138.7,1064.2 139.2,1061.3 139.6,1058.3 140.1,1055.3 140.6,1052.3 141.1,1049.4 141.5,1046.4 142,1043.4 142.5,1040.4 142.9,1037.5 143.4,1034.5 143.9,1031.5 144.3,1028.5 144.8,1025.6 145.3,1022.6 145.7,1019.6 146.2,1016.6 146.6,1013.6 147,1010.7 147.5,1007.7 147.9,1004.7 148.4,1001.7 148.8,998.7 149.3,995.8 149.7,992.8 150.2,989.8 150.7,986.8 151.1,983.9 151.6,980.9 152.2,977.9 152.7,975 153.2,972 153.7,969 154.2,966.1 154.8,963.1 155.3,960.1 155.8,957.2 156.4,954.2 157,951.3 157.6,948.3 158.2,945.4 158.8,942.4 159.5,939.5 160.2,936.5 160.9,933.6 161.6,930.7 162.3,927.8 163.1,924.9 163.9,922 164.8,919.1 165.7,916.2 166.6,913.4 167.6,910.5 168.7,907.7 170.5,903.6 172.6,899.7 175.1,896.4 178.1,894.3 181.6,894 185.2,895.3 188.5,897.8 191.6,900.9 194.4,904.4 196.2,906.8 197.9,909.3 199.6,911.8 201.2,914.3 202.8,916.9 204.4,919.4 205.9,922 207.5,924.6 209,927.2 210.6,929.8 212.1,932.4 213.7,934.9 215.3,937.5 216.9,940 218.4,942.6 220,945.2 221.5,947.8 223,950.4 224.5,953 226,955.6 227.4,958.3 228.9,960.9 230.4,963.5 231.8,966.2 233.3,968.8 234.8,971.4 236.2,974.1 237.7,976.7 239.2,979.3 240.7,981.9 242.2,984.5 243.8,987.1 245.4,989.7 247,992.2 248.6,994.8 250.2,997.3 251.8,999.8 253.4,1002.4 255.1,1004.9 256.7,1007.4 258.3,1010 259.9,1012.5 261.5,1015.1 263.1,1017.6 264.8,1020.1 266.4,1022.6 268.1,1025.1 269.8,1027.7 271.4,1030.2 273,1032.7 274.6,1035.3 276.3,1037.8 277.9,1040.3 279.6,1042.8 282.4,1046.3 285.4,1049.7 288.6,1052.8 290.8,1054.8 293.1,1056.8 295.4,1058.8 297.7,1060.7 300,1062.6 302.3,1064.5 304.7,1066.3 307.1,1068.1 309.6,1069.9 312,1071.6 314.5,1073.3 317.1,1074.9 319.7,1076.4 322.3,1077.9 324.9,1079.3 327.6,1080.7 330.3,1082 333,1083.3 335.8,1084.5 338.6,1085.6 341.4,1086.8 344.2,1087.9 347,1089 349.8,1090.1 352.5,1091.3 355.3,1092.4 358.1,1093.5 360.9,1094.6 363.7,1095.8 366.4,1097.1 369.1,1098.4 371.8,1099.8 374.4,1101.1 378.5,1103.1 382.7,1104.8 385.5,1105.8 388.3,1106.7 391.2,1107.6 394.1,1108.5 397,1109.4 399.9,1110.2 402.8,1111.1 405.6,1111.9 408.5,1112.8 411.4,1113.7 414.3,1114.5 417.2,1115.4 420.1,1116.3 422.9,1117.1 425.8,1118 428.7,1118.9 431.6,1119.7 434.5,1120.6 437.4,1121.5 440.3,1122.3 443.1,1123.2 446,1124.1 448.9,1124.9 451.8,1125.8 454.7,1126.6 457.6,1127.3 460.5,1128 463.5,1128.7 466.4,1129.3 469.4,1129.9 472.3,1130.5 475.3,1131.2 478.2,1131.9 481.1,1132.6 484,1133.3 487,1134 489.9,1134.7 492.8,1135.3 495.8,1136 498.7,1136.6 501.7,1137.2 504.6,1137.8 507.6,1138.4 510.5,1139 513.5,1139.6 516.5,1140.2 519.4,1140.7 522.4,1141.3 525.3,1141.8 528.3,1142.4 531.3,1142.9 534.2,1143.4 537.2,1143.8 540.2,1144.3 543.2,1144.8 546.1,1145.2 549.1,1145.7 552.1,1146.2 553.6,1146.4" stroke="#e11fe0"/>
<polyline points="104.1,1147.8 108.1,1145.9 111.8,1143.6 115.2,1140.8 118.1,1137.4 120.6,1133.8 122.6,1129.8 124.5,1125.7 125.5,1122.9 126.6,1120.1 127.5,1117.2 128.3,1114.3 129.2,1111.4 130,1108.5 130.7,1105.6 131.5,1102.7 132.2,1099.8 132.8,1096.8 133.4,1093.9 134,1090.9 134.5,1088 135,1085 135.6,1082 136.1,1079.1 136.6,1076.1 137.1,1073.1 137.7,1070.2 138.2,1067.2 138.7,1064.2 139.2,1061.3 139.6,1058.3 140.1,1055.3 140.6,1052.3 141.1,1049.4 141.5,1046.4 142,1043.4 142.5,1040.4 142.9,1037.5 143.4,1034.5 143.9,1031.5 144.3,1028.5 144.8,1025.6 145.3,1022.6 145.7,1019.6 146.2,1016.6 146.6,1013.7 147,1010.7 147.5,1007.7 147.9,1004.7 148.4,1001.7 148.8,998.8 149.3,995.8 149.7,992.8 150.2,989.8 150.7,986.9 151.1,983.9 151.6,980.9 152.1,978 152.7,975 153.2,972 153.7,969.1 154.2,966.1 154.8,963.1 155.3,960.2 155.8,957.2 156.4,954.2 156.9,951.3 157.6,948.3 158.2,945.4 158.8,942.4 159.5,939.5 160.2,936.6 160.9,933.6 161.6,930.7 162.3,927.8 163.1,924.9 163.9,922 164.8,919.1 165.7,916.2 166.6,913.4 167.6,910.6 168.7,907.7 169.8,905 171.7,900.9 173.9,897.1 176.7,894 179.9,891.9 183.7,891.4 187.5,892.3 191.2,894.3 194.5,897.1 197.6,900.4 200.3,904 202.1,906.4 203.7,908.9 205.3,911.4 207,914 208.5,916.5 210.1,919.1 211.7,921.7 213.2,924.3 214.7,926.9 216.3,929.5 217.8,932.1 219.3,934.7 220.8,937.3 222.3,939.9 223.8,942.5 225.2,945.1 226.7,947.8 228.2,950.4 229.6,953 231.1,955.7 232.6,958.3 234,960.9 235.5,963.6 236.9,966.2 238.4,968.8 239.9,971.5 241.3,974.1 242.8,976.7 244.3,979.4 245.7,982 247.2,984.6 248.7,987.3 250.1,989.9 251.6,992.5 253.1,995.1 254.6,997.7 256.1,1000.3 257.6,1002.9 259.1,1005.5 260.7,1008.1 262.3,1010.7 264.8,1014.4 267.5,1018 270,1021.7 272.3,1025.5 274.4,1029.5 275.7,1032.2 277,1034.9 278.3,1037.6 280.4,1041.6 282.8,1045.3 285.6,1048.8 288.7,1052.1 290.8,1054.2 293,1056.3 295.2,1058.3 297.4,1060.4 299.6,1062.4 301.9,1064.4 304.1,1066.4 306.4,1068.4 308.7,1070.3 311,1072.3 313.3,1074.2 315.7,1076.1 318.1,1077.9 320.5,1079.6 323,1081.3 325.5,1083 328,1084.6 330.5,1086.3 333.1,1087.9 335.7,1089.4 338.2,1091 340.8,1092.5 343.4,1094 346.1,1095.5 348.7,1096.9 351.4,1098.2 354.1,1099.5 356.9,1100.8 359.6,1102.1 362.3,1103.4 365,1104.8 367.7,1106.1 370.4,1107.5 373.1,1108.8 375.8,1110 378.5,1111.3 381.3,1112.4 384.1,1113.5 386.9,1114.6 389.8,1115.6 392.6,1116.6 395.5,1117.5 398.4,1118.4 401.3,1119.2 404.1,1120.1 407,1121 409.9,1121.8 412.8,1122.7 415.7,1123.5 418.6,1124.4 421.5,1125.1 424.4,1125.9 427.3,1126.5 430.3,1127.2 433.2,1127.8 436.2,1128.4 439.1,1129 442.1,1129.6 445,1130.2 448,1130.8 450.9,1131.4 453.9,1131.9 456.8,1132.5 459.8,1133.1 462.7,1133.7 465.7,1134.3 468.7,1134.9 471.6,1135.4 474.6,1136 477.5,1136.5 480.5,1137 483.5,1137.4 486.5,1137.9 489.5,1138.3 492.4,1138.8 495.4,1139.2 498.4,1139.7 501.4,1140.1 504.3,1140.5 507.3,1141 510.3,1141.4 513.3,1141.9 516.3,1142.3 519.2,1142.8 522.2,1143.2 525.2,1143.6 528.2,1144 531.2,1144.4 534.2,1144.8 537.1,1145.2 540.1,1145.6 543.1,1145.9 546.1,1146.3 549.1,1146.7 552.1,1147.1 553.6,1147.3" stroke="#e01418"/>
<polyline points="104.1,1147.8 108.1,1145.9 111.8,1143.6 115.2,1140.8 118.1,1137.5 120.6,1133.8 122.6,1129.8 124.5,1125.7 125.5,1122.9 126.5,1120.1 127.5,1117.2 128.3,1114.3 129.2,1111.5 129.9,1108.5 130.7,1105.6 131.5,1102.7 132.2,1099.8 132.8,1096.9 133.4,1093.9 134,1091 134.5,1088 135,1085 135.6,1082.1 136.1,1079.1 136.6,1076.1 137.1,1073.2 137.6,1070.2 138.2,1067.2 138.7,1064.3 139.1,1061.3 139.6,1058.3 140.1,1055.4 140.6,1052.4 141,1049.4 141.5,1046.4 142,1043.5 142.5,1040.5 142.9,1037.5 143.4,1034.6 143.9,1031.6 144.3,1028.6 144.8,1025.6 145.2,1022.7 145.7,1019.7 146.1,1016.7 146.6,1013.7 147,1010.8 147.5,1007.8 147.9,1004.8 148.4,1001.8 148.8,998.8 149.3,995.9 149.7,992.9 150.2,989.9 150.6,986.9 151.1,984 151.6,981 152.1,978 152.7,975.1 153.2,972.1 153.7,969.1 154.2,966.2 154.7,963.2 155.3,960.3 155.8,957.3 156.4,954.3 156.9,951.4 157.5,948.4 158.2,945.5 158.8,942.5 159.5,939.6 160.2,936.7 160.8,933.7 161.5,930.8 162.3,927.9 163,925 163.8,922.1 164.7,919.2 165.6,916.4 166.6,913.5 167.6,910.7 169.3,906.5 171.4,902.7 173.9,899.4 177,897.3 180.5,896.9 183.9,898.2 187,900.8 189.8,904.2 192.4,907.8 195.1,911.4 196.8,913.9 199.2,917.7 201.4,921.6 202.8,924.3 204.1,927 205.4,929.7 206.6,932.4 207.9,935.2 209.1,937.9 210.3,940.7 211.5,943.4 212.7,946.2 214,948.9 215.2,951.7 216.4,954.5 217.6,957.2 218.8,960 220,962.7 221.2,965.5 222.4,968.2 223.7,971 224.9,973.7 226.2,976.5 227.4,979.2 228.6,981.9 229.9,984.7 231.1,987.4 232.4,990.2 233.6,992.9 234.9,995.6 236.1,998.4 237.4,1001.1 238.6,1003.8 239.9,1006.6 241.2,1009.3 242.5,1012 243.8,1014.7 245.1,1017.4 246.5,1020.1 247.8,1022.8 249.1,1025.5 250.4,1028.2 251.6,1031 252.8,1033.8 254,1036.5 255.2,1039.3 256.5,1042 257.8,1044.7 259.1,1047.4 260.5,1050.1 261.9,1052.7 263.3,1055.4 264.7,1058 266.1,1060.7 267.6,1063.3 269,1066 270.5,1068.6 272.1,1071.1 273.7,1073.7 276.1,1077.4 278.7,1081.1 281.5,1084.7 284.3,1088.2 286.2,1090.5 288.2,1092.8 290.2,1095 292.2,1097.2 294.3,1099.4 296.4,1101.6 298.5,1103.7 300.7,1105.8 302.9,1107.8 305.2,1109.7 307.5,1111.6 309.9,1113.5 312.3,1115.3 314.7,1117.1 317.1,1118.8 319.6,1120.5 322.2,1122.1 324.8,1123.6 327.4,1125.1 330,1126.5 332.7,1127.9 335.4,1129.1 338.2,1130.3 341,1131.4 343.8,1132.5 346.6,1133.5 349.5,1134.6 352.3,1135.6 355.1,1136.5 358,1137.5 360.9,1138.5 363.7,1139.4 366.5,1140.4 369.4,1141.4 372.2,1142.3 375.1,1143.2 378,1144 380.9,1144.7 383.9,1145.3 386.8,1145.9 389.8,1146.3 392.8,1146.7 395.8,1147.1 398.7,1147.4 401.7,1147.8 404.7,1148.2 407.7,1148.6 410.7,1149 413.6,1149.5 416.6,1149.9 419.6,1150.3 422.6,1150.6 425.6,1150.9 428.6,1151.3 431.6,1151.6" stroke="#62c462"/>
<polyline points="104.1,1147.8 108.1,1145.9 111.8,1143.6 115.2,1140.8 118.1,1137.4 120.6,1133.8 122.6,1129.8 124.5,1125.7 125.5,1122.9 126.5,1120.1 127.5,1117.2 128.3,1114.3 129.2,1111.4 129.9,1108.5 130.7,1105.6 131.5,1102.7 132.2,1099.8 132.8,1096.9 133.4,1093.9 134,1090.9 134.5,1088 135,1085 135.6,1082.1 136.1,1079.1 136.6,1076.1 137.1,1073.2 137.6,1070.2 138.2,1067.2 138.7,1064.3 139.2,1061.3 139.6,1058.3 140.1,1055.3 140.6,1052.4 141.1,1049.4 141.5,1046.4 142,1043.4 142.5,1040.5 142.9,1037.5 143.4,1034.5 143.9,1031.6 144.3,1028.6 144.8,1025.6 145.2,1022.6 145.7,1019.6 146.1,1016.7 146.6,1013.7 147,1010.7 147.5,1007.7 147.9,1004.8 148.4,1001.8 148.8,998.8 149.3,995.8 149.7,992.9 150.2,989.9 150.7,986.9 151.1,983.9 151.6,981 152.1,978 152.7,975 153.2,972.1 153.7,969.1 154.2,966.1 154.7,963.2 155.3,960.2 155.8,957.2 156.4,954.3 156.9,951.3 157.5,948.4 158.2,945.4 158.8,942.5 159.5,939.6 160.2,936.6 160.9,933.7 161.6,930.8 162.3,927.8 163,924.9 163.9,922 164.7,919.2 165.7,916.3 166.6,913.5 167.6,910.6 169.3,906.5 171.3,902.6 173.8,899.3 176.8,897.2 180.3,896.8 183.9,898 187.3,900.5 190.2,903.7 192.7,907.3 195,911.2 196.4,913.8 197.8,916.5 199.1,919.2 200.4,921.9 201.7,924.7 202.9,927.4 204.2,930.1 205.5,932.9 206.8,935.6 208.1,938.3 209.4,941 210.8,943.7 212.1,946.4 213.4,949.1 214.7,951.8 216,954.5 217.3,957.3 218.6,960 219.8,962.7 221.1,965.4 222.4,968.2 223.6,970.9 224.9,973.6 226.1,976.4 227.4,979.1 228.6,981.8 229.9,984.6 231.2,987.3 232.6,990 234,992.6 235.3,995.3 236.7,998 238.1,1000.7 239.5,1003.3 240.9,1006 242.3,1008.7 243.7,1011.3 245,1014 246.4,1016.7 247.8,1019.4 249.1,1022.1 250.5,1024.8 251.9,1027.4 253.2,1030.1 254.6,1032.8 256,1035.5 257.4,1038.1 258.8,1040.8 260.3,1043.4 261.9,1046 263.5,1048.5 265.2,1051 266.9,1053.5 268.6,1056 270.3,1058.4 272,1060.9 273.8,1063.3 275.7,1065.6 278.7,1069 280.8,1071.1 282.9,1073.3 285,1075.4 287.1,1077.6 289.2,1079.8 291.3,1081.9 293.3,1084.1 295.4,1086.3 297.5,1088.5 299.7,1090.6 301.9,1092.6 304.1,1094.6 306.4,1096.5 308.8,1098.4 311.1,1100.3 313.5,1102.1 315.9,1104 318.3,1105.8 320.7,1107.6 323.1,1109.4 325.6,1111.1 328,1112.8 330.5,1114.5 333.1,1116.1 335.7,1117.6 338.3,1119.1 341,1120.5 343.6,1121.8 346.4,1123.1 349.1,1124.4 351.9,1125.5 354.6,1126.7 357.4,1127.8 360.2,1128.9 363.1,1130 365.9,1131 368.7,1132.1 371.4,1133.3 374.2,1134.4 377,1135.5 379.8,1136.6 382.7,1137.5 385.6,1138.4 388.5,1139.2 391.4,1139.9 394.3,1140.6 397.3,1141.2 400.2,1141.8 403.2,1142.4 406.1,1142.9 409.1,1143.4 412.1,1143.9 415,1144.3 418,1144.8 421,1145.2 424,1145.5 427,1145.9 430,1146.2 433,1146.5 436,1146.8 439,1147.1 442,1147.3 445,1147.5 448,1147.6 451,1147.8 454,1148 457,1148.1 460,1148.3 463,1148.4 466,1148.6 469,1148.7 472,1148.9 475,1149 478,1149.2 481,1149.3 484.1,1149.5 487.1,1149.6 490.1,1149.8 491.6,1149.8" stroke="#000000" stroke-dasharray="9,6"/>
<polyline points="104.1,1147.8 108.1,1145.9 111.8,1143.6 115.2,1140.8 118.1,1137.4 120.6,1133.7 122.7,1129.8 124.5,1125.7 125.6,1122.9 126.6,1120 127.5,1117.2 128.3,1114.3 129.2,1111.4 130,1108.5 130.7,1105.6 131.5,1102.7 132.2,1099.7 132.8,1096.8 133.4,1093.8 134,1090.9 134.5,1087.9 135.1,1085 135.6,1082 136.1,1079 136.6,1076 137.1,1073.1 137.7,1070.1 138.2,1067.1 138.7,1064.2 139.2,1061.2 139.6,1058.2 140.1,1055.2 140.6,1052.3 141.1,1049.3 141.5,1046.3 142,1043.3 142.5,1040.4 142.9,1037.4 143.4,1034.4 143.9,1031.4 144.3,1028.5 144.8,1025.5 145.3,1022.5 145.7,1019.5 146.2,1016.5 146.6,1013.6 147.1,1010.6 147.5,1007.6 148,1004.6 148.4,1001.6 148.9,998.7 149.3,995.7 149.8,992.7 150.2,989.7 150.7,986.7 151.2,983.8 151.7,980.8 152.2,977.8 152.7,974.9 153.2,971.9 153.7,968.9 154.3,966 154.8,963 155.3,960 155.8,957.1 156.4,954.1 157,951.1 157.6,948.2 158.2,945.2 158.9,942.3 159.5,939.4 160.2,936.4 160.9,933.5 161.6,930.6 162.3,927.6 163.1,924.7 163.9,921.8 164.8,918.9 165.7,916.1 166.7,913.2 167.7,910.4 169.4,906.3 171.4,902.3 173.9,899 176.9,897 180.4,896.6 184.2,897.7 187.8,900 191,902.9 193.9,906.3 196.5,910 198.2,912.5 199.8,915 201.4,917.5 203,920.1 204.5,922.7 206,925.3 207.6,927.9 209.1,930.5 210.6,933.1 212.2,935.7 213.7,938.3 215.2,940.9 216.7,943.5 218.3,946.1 219.8,948.7 221.3,951.3 222.7,953.9 224.2,956.6 225.7,959.2 227.2,961.8 228.6,964.4 230.1,967.1 231.6,969.7 233.1,972.3 234.6,974.9 236.2,977.5 237.7,980.1 239.2,982.7 240.8,985.3 242.4,987.8 243.9,990.4 245.5,993 247.1,995.5 248.7,998.1 250.4,1000.6 252,1003.1 253.7,1005.6 255.4,1008.1 257,1010.6 258.6,1013.2 260.2,1015.7 261.8,1018.3 263.4,1020.8 265,1023.4 266.8,1025.8 268.6,1028.2 270.5,1030.5 272.4,1032.8 274.5,1035 276.6,1037.2 278.7,1039.3 280.8,1041.5 283,1043.6 285.1,1045.7 287.4,1047.7 289.6,1049.7 291.9,1051.7 294.1,1053.7 296.4,1055.6 298.8,1057.5 301.2,1059.3 303.6,1061.1 306,1062.8 308.5,1064.5 311.1,1066.2 313.6,1067.7 316.2,1069.2 318.9,1070.6 321.6,1072 324.3,1073.3 327,1074.6 329.7,1075.9 331.1,1076.6" stroke="#000000"/>
</g>
<g clip-path="url(#cpf)" fill="none" stroke-width="2.5" stroke-linejoin="round" stroke-linecap="butt">
<polyline points="558.1,1148.8 560.4,1146.8 562.6,1144.7 564.7,1142.6 567.9,1139.4 570.7,1136 573.2,1132.3 575.5,1128.4 577.4,1124.4 579.1,1120.2 580.6,1115.9 581.4,1113.1 582.3,1110.2 583.1,1107.3 583.9,1104.4 584.7,1101.5 585.5,1098.6 586.2,1095.7 586.8,1092.7 587.4,1089.8 588,1086.8 588.5,1083.8 589,1080.9 589.5,1077.9 590,1074.9 590.5,1072 591,1069 591.5,1066 591.9,1063.1 592.4,1060.1 592.9,1057.1 593.4,1054.1 593.8,1051.2 594.3,1048.2 594.7,1045.2 595.2,1042.2 595.6,1039.2 596.1,1036.3 596.5,1033.3 597,1030.3 597.4,1027.3 597.8,1024.4 598.3,1021.4 598.7,1018.4 599.2,1015.4 599.6,1012.4 600.1,1009.5 600.5,1006.5 601,1003.5 601.4,1000.5 601.9,997.6 602.3,994.6 602.8,991.6 603.2,988.6 603.7,985.6 604.1,982.7 604.6,979.7 605.1,976.7 605.6,973.8 606.1,970.8 606.7,967.8 607.2,964.9 607.8,961.9 608.3,959 608.9,956 609.4,953 610,950.1 610.6,947.1 611.2,944.2 611.9,941.2 612.6,938.3 613.3,935.4 614,932.5 614.8,929.6 615.5,926.6 616.3,923.7 617.1,920.8 618,918 619,915.1 620,912.3 621.1,909.5 622.9,905.4 624.9,901.4 627.1,897.4 628.5,894.8 629.9,892.1 631.3,889.4 632.6,886.8 634,884.1 635.4,881.4 636.8,878.8 638.3,876.2 639.9,873.6 642.4,869.9 645.2,866.4 648.3,863.1 651.6,860.2 655.3,857.5 659.1,855.2 663.1,853.1 667.2,851.4 671.4,850 675.8,849.1 680.2,848.5 684.7,848.3 689.2,848.3 692.2,848.5 695.2,848.7 698.2,848.9 701.2,849.2 704.2,849.5 708.7,850.2 713,851.1 717.3,852.3 721.6,853.9 724.4,855 727.1,856.1 729.9,857.3 732.6,858.6 735.3,860 737.9,861.4 740.5,862.9 743.1,864.4 745.7,866 748.3,867.5 750.8,869.2 753.3,870.8 755.7,872.6 758.2,874.4 760.5,876.2 762.9,878.1 765.2,880 767.6,881.9 769.9,883.8 772.2,885.7 774.4,887.7 776.6,889.8 778.8,891.8 781,893.9 783.2,896 785.4,898 787.6,900 789.8,902.1 792,904.2 794.2,906.3 796.3,908.4 798.3,910.6 800.4,912.8 802.4,915 804.5,917.2 806.5,919.5 808.5,921.7 810.6,923.9 812.6,926.2 814.6,928.4 816.6,930.6 818.7,932.8 820.7,935.1 822.7,937.3 824.7,939.5 826.8,941.8 828.8,944 830.8,946.2 832.8,948.4 834.9,950.7 836.9,952.9 838.9,955.1 840.9,957.3 843,959.6 845,961.8 847,964 849,966.3 851.1,968.5 853.1,970.7 855.1,972.9 857.1,975.2 859.2,977.4 861.2,979.6 863.2,981.9 865.2,984.1 867.3,986.3 869.3,988.5 871.3,990.8 873.3,993 875.4,995.2 877.4,997.4 879.4,999.7 881.5,1001.9 883.6,1004 885.7,1006.2 887.8,1008.4 889.9,1010.5 892,1012.6 894.1,1014.8 896.3,1016.9 898.4,1019 900.6,1021.1 902.8,1023.1 905,1025.2 907.3,1027.2 909.5,1029.2 911.7,1031.2 914,1033.2 916.2,1035.2 918.4,1037.3 920.7,1039.3 922.9,1041.3 925.2,1043.3 927.4,1045.3 929.6,1047.3 931.9,1049.3 934.2,1051.3 936.5,1053.2 938.8,1055.1 941.1,1057 943.5,1058.9 945.8,1060.8 948.2,1062.6 950.6,1064.5 953,1066.3 955.4,1068.1 957.9,1069.8 960.3,1071.6 962.8,1073.3 965.3,1075 967.7,1076.7 970.2,1078.5 972.7,1080.2 975.1,1081.9 977.6,1083.6 980.1,1085.4 982.5,1087.1 985,1088.8 987.5,1090.6 989.9,1092.3 992.4,1094 994.9,1095.7 997.3,1097.5 999.8,1099.2 1002.3,1100.9 1004.8,1102.6 1007.2,1104.3 1009.7,1106 1012.2,1107.7 1014.7,1109.5 1017.1,1111.2" stroke="#6a18dc"/>
<polyline points="556.1,1147.8 558.4,1145.9 561.8,1142.9 565,1139.8 567.7,1136.3 570.2,1132.6 572.4,1128.6 574.3,1124.6 576,1120.4 577,1117.6 578,1114.7 578.9,1111.9 579.9,1109 580.8,1106.2 581.6,1103.3 582.4,1100.4 583.2,1097.5 583.8,1094.5 584.4,1091.6 585,1088.6 585.6,1085.7 586.2,1082.7 586.8,1079.8 587.4,1076.8 588,1073.9 588.5,1070.9 589,1067.9 589.5,1065 590,1062 590.4,1059 590.9,1056 591.3,1053.1 591.7,1050.1 592.2,1047.1 592.6,1044.1 593.1,1041.2 593.5,1038.2 594,1035.2 594.4,1032.2 594.8,1029.2 595.3,1026.3 595.7,1023.3 596.1,1020.3 596.5,1017.3 596.9,1014.3 597.3,1011.3 597.7,1008.4 598.1,1005.4 598.5,1002.4 598.9,999.4 599.3,996.4 599.8,993.4 600.2,990.5 600.6,987.5 601,984.5 601.5,981.5 602,978.6 602.5,975.6 603,972.6 603.5,969.6 604,966.7 604.4,963.7 604.9,960.7 605.4,957.8 606,954.8 606.5,951.8 607,948.9 607.6,945.9 608.3,943 608.9,940 609.6,937.1 610.3,934.2 611,931.2 611.7,928.3 612.4,925.4 613.2,922.5 614.1,919.6 615.1,916.8 616.1,914 617.9,909.9 619.9,905.9 622.4,902.3 625.3,898.8 628.2,895.5 631,892 633.6,888.3 636.2,884.6 638.9,881.2 642,878.2 645.7,875.9 649.7,874.6 654,874.3 658.3,874.7 662.5,875.9 666.5,877.7 670.5,879.8 673.1,881.2 675.8,882.6 678.5,884 681.1,885.4 683.8,886.8 686.5,888.2 689.1,889.7 691.7,891.2 694.3,892.7 696.8,894.3 699.4,895.9 701.9,897.6 704.4,899.2 706.9,900.9 709.3,902.7 711.7,904.5 714.2,906.3 716.5,908.1 718.9,910 721.3,911.8 723.6,913.8 725.9,915.7 728.2,917.7 730.4,919.7 732.7,921.6 734.9,923.7 737.1,925.7 739.3,927.8 741.5,929.9 743.6,932 745.8,934.1 747.9,936.2 750,938.4 752.2,940.5 754.3,942.6 756.4,944.7 758.5,946.9 760.7,949 762.8,951.1 764.9,953.3 767.1,955.4 769.2,957.5 771.3,959.6 773.5,961.8 775.6,963.9 777.8,966 779.9,968.1 782.1,970.1 784.3,972.2 786.4,974.4 788.5,976.5 790.5,978.7 792.5,981 794.4,983.3 796.4,985.6 798.3,987.9 800.2,990.2 802.2,992.5 804.1,994.9 806,997.2 807.9,999.5 809.9,1001.8 811.8,1004.1 813.7,1006.4 815.6,1008.7 817.6,1011 819.5,1013.4 821.4,1015.7 823.4,1018 825.3,1020.3 827.2,1022.6 829.1,1024.9 831.1,1027.2 833,1029.6 834.9,1031.9 836.9,1034.2 838.8,1036.5 840.7,1038.8 842.6,1041.1 844.6,1043.4 846.5,1045.7 848.5,1048 850.5,1050.3 852.5,1052.5 854.5,1054.7 856.5,1057 858.5,1059.2 860.6,1061.4 862.6,1063.6 864.7,1065.8 866.7,1068 868.8,1070.2 870.9,1072.3 873.1,1074.5 875.2,1076.6 877.3,1078.7 879.5,1080.8 881.6,1082.9 883.8,1085 886,1087.1 888.2,1089.1 890.4,1091.1 892.7,1093.1 894.9,1095.1 897.2,1097.1 899.5,1099 901.9,1100.9 904.3,1102.7 906.7,1104.5 909.2,1106.2 911.7,1107.9 914.2,1109.6 916.7,1111.2 919.3,1112.7 921.9,1114.2 924.6,1115.6 927.3,1116.9 930,1118.2 932.7,1119.5 935.4,1120.8 938.2,1122 941,1123.1 943.7,1124.3 946.5,1125.4 949.4,1126.4 952.2,1127.4 955,1128.4 957.9,1129.3 960.8,1130.2 963.7,1131.1 966.6,1131.9 969.4,1132.8 972.3,1133.7 975.2,1134.5 978.1,1135.4 981,1136.3 983.9,1137.1 986.7,1138 989.6,1138.9 992.5,1139.7 995.4,1140.6 998.3,1141.4 1001.2,1142.3 1004.1,1143.1 1007,1144 1009.9,1144.8 1012.8,1145.6 1015.7,1146.4 1017.1,1146.8" stroke="#f0b41e"/>
<polyline points="556.1,1147.8 558.4,1145.9 561.8,1142.9 565,1139.8 567.7,1136.3 570.2,1132.6 572.3,1128.7 574.3,1124.6 576,1120.4 577,1117.6 578,1114.8 578.9,1111.9 579.9,1109.1 580.8,1106.2 581.6,1103.3 582.4,1100.4 583.1,1097.5 583.8,1094.6 584.4,1091.6 585,1088.7 585.6,1085.7 586.2,1082.8 586.8,1079.8 587.4,1076.9 587.9,1073.9 588.5,1070.9 589,1068 589.5,1065 589.9,1062 590.4,1059.1 590.8,1056.1 591.3,1053.1 591.7,1050.1 592.2,1047.2 592.6,1044.2 593.1,1041.2 593.5,1038.2 594,1035.2 594.4,1032.3 594.8,1029.3 595.3,1026.3 595.7,1023.3 596.1,1020.3 596.5,1017.4 596.9,1014.4 597.3,1011.4 597.7,1008.4 598.1,1005.4 598.5,1002.5 598.9,999.5 599.3,996.5 599.7,993.5 600.2,990.5 600.6,987.6 601,984.6 601.5,981.6 602,978.6 602.5,975.7 602.9,972.7 603.4,969.7 603.9,966.8 604.4,963.8 604.9,960.8 605.4,957.8 605.9,954.9 606.5,951.9 607,949 607.6,946 608.3,943.1 608.9,940.1 609.6,937.2 610.2,934.3 610.9,931.3 611.6,928.4 612.4,925.5 613.2,922.6 614.1,919.7 615,916.9 616.6,912.7 618.5,908.6 620.7,904.8 623.3,901.2 626.4,897.9 629.6,894.8 633,892 636.4,889.6 640.2,888.3 644.2,888.2 648.3,889.3 652.4,890.9 656.4,892.9 660.3,895.2 662.9,896.8 665.4,898.4 667.8,900.1 670.3,901.9 672.7,903.7 675.1,905.5 677.5,907.4 679.8,909.2 682.1,911.1 684.4,913.1 686.7,915 689,917 691.2,919 693.5,921 695.7,923 697.9,925.1 700.1,927.2 702.2,929.3 704.4,931.4 706.5,933.5 708.6,935.7 710.7,937.8 712.9,939.9 715,942 717.1,944.2 719.3,946.3 721.4,948.4 723.5,950.5 725.6,952.7 727.8,954.8 729.9,956.9 732,959.1 734.2,961.2 736.3,963.3 738.4,965.4 740.6,967.6 742.7,969.7 744.9,971.7 747.1,973.8 749.3,975.8 751.6,977.8 753.8,979.8 756.1,981.8 758.3,983.8 760.5,985.8 762.7,987.9 764.9,990 767,992.1 769.2,994.2 771.3,996.3 773.4,998.4 775.6,1000.6 777.7,1002.7 779.8,1004.9 781.9,1007 784.1,1009.1 786.3,1011.1 788.5,1013.2 790.7,1015.2 793,1017.2 795.2,1019.2 797.5,1021.2 799.7,1023.2 801.9,1025.2 804.2,1027.2 806.4,1029.3 808.7,1031.3 810.9,1033.3 813.2,1035.2 815.5,1037.2 817.8,1039.1 820.1,1041 822.5,1042.9 824.8,1044.8 827.1,1046.7 829.5,1048.6 831.8,1050.5 834,1052.5 836.3,1054.5 838.5,1056.5 840.8,1058.5 843,1060.5 845.3,1062.5 847.6,1064.5 849.9,1066.4 852.2,1068.3 854.5,1070.2 856.8,1072.1 859.2,1074 861.6,1075.9 863.9,1077.7 866.3,1079.5 868.8,1081.3 871.2,1083.1 873.7,1084.8 876.1,1086.5 878.6,1088.3 881,1090 883.5,1091.7 886,1093.4 888.4,1095.2 890.9,1096.9 893.4,1098.6 895.9,1100.3 898.4,1101.9 901,1103.5 903.6,1104.9 906.2,1106.4 908.9,1107.7 911.6,1109.1 914.3,1110.5 917,1111.8 919.7,1113.1 922.4,1114.5 925,1115.8 927.7,1117.2 930.5,1118.5 933.2,1119.8 935.9,1121 938.7,1122.2 941.5,1123.3 944.2,1124.5 947.1,1125.5 949.9,1126.6 952.7,1127.6 955.6,1128.6 958.4,1129.5 961.3,1130.3 964.2,1131.2 967.1,1132 970,1132.8 972.9,1133.6 975.8,1134.4 978.7,1135.1 981.6,1135.8 984.6,1136.5 987.5,1137.2 990.4,1137.8 993.4,1138.4 996.3,1139 999.3,1139.6 1002.3,1140.1 1005.2,1140.6 1008.2,1141.1 1011.2,1141.6 1014.1,1142 1017.1,1142.5" stroke="#a8c0c0"/>
<polyline points="556.1,1147.8 558.4,1145.9 561.8,1142.9 565,1139.8 567.7,1136.3 570.2,1132.6 572.3,1128.7 574.3,1124.6 575.9,1120.5 577,1117.6 578,1114.8 578.9,1111.9 579.8,1109.1 580.8,1106.2 581.6,1103.4 582.4,1100.5 583.1,1097.5 583.8,1094.6 584.4,1091.7 585,1088.7 585.6,1085.8 586.2,1082.8 586.8,1079.9 587.4,1076.9 587.9,1074 588.5,1071 589,1068.1 589.5,1065.1 589.9,1062.1 590.4,1059.2 590.8,1056.2 591.3,1053.2 591.7,1050.2 592.2,1047.3 592.6,1044.3 593.1,1041.3 593.5,1038.3 593.9,1035.4 594.4,1032.4 594.8,1029.4 595.2,1026.4 595.7,1023.5 596.1,1020.5 596.5,1017.5 596.9,1014.5 597.3,1011.5 597.7,1008.6 598.1,1005.6 598.5,1002.6 598.9,999.6 599.3,996.6 599.7,993.7 600.1,990.7 600.6,987.7 601,984.7 601.5,981.8 601.9,978.8 602.4,975.8 602.9,972.9 603.4,969.9 603.9,966.9 604.4,964 604.9,961 605.4,958 605.9,955.1 606.4,952.1 607,949.2 607.6,946.2 608.2,943.3 608.9,940.3 609.5,937.4 610.2,934.5 610.9,931.5 611.6,928.6 612.3,925.7 613.1,922.8 614,920 615.5,915.7 617.1,911.5 619,907.5 621.4,903.9 624.4,900.8 628,898.4 631.9,896.9 636,896.3 640,897 643.7,898.8 647.1,901.5 650.2,904.7 653.1,908.1 654.9,910.5 656.7,912.9 658.4,915.3 660.1,917.8 661.8,920.3 663.4,922.9 664.9,925.4 666.5,928 668,930.6 669.5,933.2 671,935.8 672.5,938.4 674,941 675.5,943.7 677,946.3 678.5,948.9 680,951.5 681.4,954.1 682.9,956.7 684.4,959.3 685.9,961.9 687.4,964.5 688.9,967.2 690.4,969.8 691.9,972.4 693.4,975 694.9,977.6 696.5,980.1 698.1,982.7 699.7,985.2 701.3,987.7 703,990.2 704.7,992.7 706.3,995.2 708,997.7 709.7,1000.2 711.3,1002.7 713,1005.2 714.7,1007.7 716.4,1010.2 718,1012.7 719.8,1015.2 721.5,1017.6 723.3,1020 725.2,1022.4 727.1,1024.7 729.1,1027 731.1,1029.2 733.1,1031.4 735.2,1033.5 737.3,1035.7 739.5,1037.8 741.6,1039.9 743.7,1042.1 745.9,1044.2 748,1046.3 750.1,1048.4 752.3,1050.4 754.6,1052.5 756.8,1054.4 759.1,1056.3 761.5,1058.2 763.8,1060.1 766.2,1062 768.5,1063.9 770.8,1065.8 773.1,1067.7 775.4,1069.7 777.6,1071.7 779.8,1073.7 782,1075.8 784.2,1077.8 787.6,1080.8 791.2,1083.6 793.6,1085.3 796.1,1087 798.6,1088.7 801.1,1090.3 803.7,1091.9 806.2,1093.4 808.8,1095 811.4,1096.5 814,1097.9 816.7,1099.4 819.4,1100.8 822,1102.1 824.7,1103.5 827.4,1104.8 830.1,1106.1 832.9,1107.3 835.6,1108.5 838.4,1109.6 841.2,1110.8 844,1111.9 846.8,1113 849.6,1114.1 852.4,1115.2 855.2,1116.4 858,1117.5 860.8,1118.5 863.6,1119.6 866.4,1120.6 869.2,1121.6 872.1,1122.5 875,1123.3 877.9,1124.2 880.8,1125 883.7,1125.7 886.6,1126.4 889.5,1127.1 892.5,1127.7 895.4,1128.3 898.4,1128.9 901.3,1129.5 904.3,1130.1 907.2,1130.6 910.2,1131.2 913.1,1131.8 916.1,1132.4 919,1133 922,1133.6 924.9,1134.2 927.9,1134.7 930.8,1135.3 933.8,1135.8 936.8,1136.2 939.7,1136.6 942.7,1136.9 945.7,1137.3 948.7,1137.6 951.7,1138 954.7,1138.3 957.6,1138.7 960.6,1139.2 963.6,1139.6 966.6,1140.1 969.5,1140.5 972.5,1141 975.5,1141.4 978.5,1141.8 981.4,1142.3 984.4,1142.7 987.4,1143.2 990.3,1143.6 993.3,1144.1 996.3,1144.5 999.3,1145 1002.2,1145.4 1005.2,1145.9 1008.2,1146.3 1011.2,1146.8 1014.1,1147.2 1017.1,1147.6" stroke="#e01418"/>
<polyline points="556.1,1147.8 558.4,1145.9 561.8,1142.9 565,1139.8 567.7,1136.3 570.2,1132.6 572.4,1128.6 574.3,1124.6 576,1120.4 577,1117.6 578,1114.7 578.9,1111.9 579.9,1109 580.8,1106.1 581.6,1103.3 582.4,1100.4 583.2,1097.4 583.8,1094.5 584.4,1091.6 585.1,1088.6 585.6,1085.7 586.2,1082.7 586.8,1079.7 587.4,1076.8 588,1073.8 588.5,1070.9 589,1067.9 589.5,1064.9 590,1062 590.4,1059 590.9,1056 591.3,1053 591.8,1050 592.2,1047.1 592.6,1044.1 593.1,1041.1 593.5,1038.1 594,1035.1 594.4,1032.2 594.8,1029.2 595.3,1026.2 595.7,1023.2 596.1,1020.2 596.5,1017.2 596.9,1014.3 597.3,1011.3 597.7,1008.3 598.1,1005.3 598.5,1002.3 598.9,999.3 599.4,996.4 599.8,993.4 600.2,990.4 600.6,987.4 601.1,984.4 601.5,981.4 602,978.5 602.5,975.5 603,972.5 603.5,969.6 604,966.6 604.5,963.6 605,960.6 605.5,957.7 606,954.7 606.5,951.7 607.1,948.8 607.7,945.8 608.3,942.9 608.9,939.9 609.6,937 610.3,934.1 611,931.1 611.7,928.2 612.4,925.3 613.3,922.4 614.1,919.5 615.1,916.7 616.2,913.9 617.9,909.8 620,905.9 622.7,902.5 625.9,900.1 629.7,899 633.6,899.4 637.4,901.1 640.8,903.7 643.8,906.9 646.6,910.5 649.1,914.2 650.7,916.7 652.2,919.3 653.7,922 655.1,924.6 656.4,927.3 657.7,930 659,932.8 660.3,935.5 661.5,938.2 662.7,941 663.9,943.7 665.2,946.5 666.4,949.3 667.6,952 668.8,954.8 670,957.5 671.3,960.3 672.5,963 673.7,965.8 674.9,968.5 676.2,971.3 677.4,974 678.6,976.8 679.8,979.5 681.1,982.3 682.3,985 683.5,987.8 684.7,990.5 686,993.3 687.2,996.1 688.4,998.8 689.6,1001.6 690.8,1004.3 692.1,1007.1 693.3,1009.8 694.5,1012.6 695.7,1015.3 697,1018.1 698.2,1020.8 699.4,1023.6 700.6,1026.3 701.9,1029.1 703.1,1031.8 704.4,1034.6 705.7,1037.3 707,1040 708.3,1042.7 709.7,1045.4 711,1048.1 712.4,1050.7 713.8,1053.4 715.3,1056 716.8,1058.7 718.2,1061.3 719.7,1063.9 721.2,1066.5 722.7,1069.1 724.2,1071.7 725.7,1074.3 727.3,1076.9 728.8,1079.5 730.4,1082.1 732,1084.6 733.7,1087.1 735.4,1089.6 737.1,1092.1 738.9,1094.5 740.8,1096.9 742.7,1099.2 744.6,1101.5 746.6,1103.7 748.7,1105.9 752,1108.9 755.5,1111.7 759.2,1114.3 761.7,1115.9 764.3,1117.5 766.9,1119 769.5,1120.5 773.5,1122.5 777.6,1124.2 781.9,1125.6 786.2,1126.8 790.5,1128.1 794.6,1129.8 797.4,1130.9 800.2,1132.1 803,1133.3 805.8,1134.4 808.6,1135.5 811.4,1136.6 814.2,1137.6 817.1,1138.5 819.9,1139.5 822.8,1140.4 825.7,1141.2 828.6,1142 831.5,1142.8 834.4,1143.5 837.4,1144.1 840.3,1144.7 843.3,1145.3 846.2,1145.8 849.2,1146.3 852.2,1146.7 855.2,1147.1 858.2,1147.4 861.2,1147.7 864.2,1148.1 867.1,1148.4 870.1,1148.8 873.1,1149.2 876.1,1149.5 879.1,1149.9 882.1,1150.2 885.1,1150.4 888.1,1150.7 891.1,1150.9 894.1,1151.1 897.1,1151.4 900.1,1151.6" stroke="#62c462"/>
<polyline points="556.1,1147.8 558.4,1145.9 561.8,1142.9 565,1139.8 567.7,1136.3 570.2,1132.6 572.4,1128.6 574.3,1124.6 576,1120.4 577,1117.6 578,1114.7 578.9,1111.9 579.9,1109 580.8,1106.1 581.6,1103.3 582.4,1100.4 583.2,1097.4 583.8,1094.5 584.4,1091.6 585.1,1088.6 585.6,1085.7 586.2,1082.7 586.8,1079.8 587.4,1076.8 588,1073.8 588.5,1070.9 589,1067.9 589.5,1064.9 590,1062 590.4,1059 590.9,1056 591.3,1053 591.8,1050 592.2,1047.1 592.6,1044.1 593.1,1041.1 593.5,1038.1 594,1035.1 594.4,1032.2 594.8,1029.2 595.3,1026.2 595.7,1023.2 596.1,1020.2 596.5,1017.3 596.9,1014.3 597.3,1011.3 597.7,1008.3 598.1,1005.3 598.5,1002.3 598.9,999.3 599.4,996.4 599.8,993.4 600.2,990.4 600.6,987.4 601.1,984.4 601.5,981.5 602,978.5 602.5,975.5 603,972.5 603.5,969.6 604,966.6 604.5,963.6 605,960.7 605.5,957.7 606,954.7 606.5,951.8 607.1,948.8 607.7,945.8 608.3,942.9 608.9,940 609.6,937 610.3,934.1 611,931.2 611.7,928.2 612.4,925.3 613.3,922.4 614.1,919.6 615.1,916.7 616.2,913.9 617.9,909.8 620,905.9 622.6,902.5 625.8,900 629.5,899 633.3,899.5 636.9,901.4 640.2,904.2 643.1,907.6 645.6,911.3 647.8,915.2 649.1,917.9 650.4,920.6 651.7,923.3 653,926 654.4,928.7 655.7,931.4 657,934.1 658.4,936.8 659.7,939.5 660.9,942.3 662.2,945 663.4,947.7 664.7,950.5 665.9,953.2 667.1,956 668.3,958.7 669.6,961.5 670.8,964.2 672,967 673.2,969.7 674.5,972.5 675.7,975.2 677,977.9 678.3,980.7 679.7,983.4 681,986.1 682.3,988.8 683.7,991.5 685,994.1 686.4,996.8 687.7,999.5 689.1,1002.2 690.4,1004.9 691.8,1007.6 693.1,1010.3 694.5,1013 695.8,1015.7 697.2,1018.4 698.5,1021.1 699.9,1023.8 701.2,1026.5 702.6,1029.2 703.9,1031.9 705.3,1034.5 706.7,1037.2 708.1,1039.9 709.6,1042.5 711.2,1045 712.8,1047.6 714.5,1050.1 716.2,1052.5 718,1055 719.8,1057.4 721.7,1059.7 723.6,1062 725.6,1064.3 727.6,1066.5 729.7,1068.7 731.8,1070.8 733.9,1073 736,1075.1 738.2,1077.2 740.3,1079.3 742.5,1081.3 744.8,1083.4 747.1,1085.3 749.4,1087.2 751.7,1089.1 754.1,1091 756.4,1092.9 758.8,1094.7 761.2,1096.6 763.6,1098.3 766.1,1100 768.6,1101.7 771.2,1103.3 773.7,1104.9 776.2,1106.5 778.7,1108.2 781.2,1109.9 783.7,1111.7 786.1,1113.4 788.6,1115.1 791.1,1116.8 793.7,1118.3 797.6,1120.4 800.3,1121.7 803.1,1123 805.9,1124.1 808.6,1125.3 811.4,1126.4 814.2,1127.5 817,1128.6 819.8,1129.7 822.6,1130.8 825.4,1131.9 828.3,1133 831.1,1134 833.9,1135 836.8,1135.9 839.7,1136.8 842.6,1137.7 845.5,1138.4 848.4,1139.1 851.3,1139.8 854.3,1140.3 857.2,1140.8 860.2,1141.3 863.2,1141.7 866.2,1142.2 869.2,1142.6 872.1,1143.1 875.1,1143.5 878.1,1144 881.1,1144.4 884.1,1144.7 887.1,1145.1 890,1145.4 893,1145.7 896,1146 899,1146.3 902,1146.6 905,1146.8 908,1147.1 911,1147.3 914.1,1147.5 917.1,1147.7 920.1,1147.9 923.1,1148.1 926.1,1148.3 929.1,1148.5 932.1,1148.6 935.1,1148.8 938.1,1148.9 939.6,1149" stroke="#000000" stroke-dasharray="9,6"/>
<polyline points="556.1,1147.8 558.4,1145.9 561.8,1142.9 565,1139.8 567.7,1136.3 570.2,1132.6 572.3,1128.7 574.3,1124.6 576,1120.4 577,1117.6 578,1114.8 578.9,1111.9 579.9,1109.1 580.8,1106.2 581.6,1103.3 582.4,1100.4 583.1,1097.5 583.8,1094.6 584.4,1091.6 585,1088.7 585.6,1085.7 586.2,1082.8 586.8,1079.8 587.4,1076.9 587.9,1073.9 588.5,1071 589,1068 589.5,1065 589.9,1062.1 590.4,1059.1 590.8,1056.1 591.3,1053.1 591.7,1050.2 592.2,1047.2 592.6,1044.2 593.1,1041.2 593.5,1038.2 594,1035.3 594.4,1032.3 594.8,1029.3 595.2,1026.3 595.7,1023.4 596.1,1020.4 596.5,1017.4 596.9,1014.4 597.3,1011.4 597.7,1008.5 598.1,1005.5 598.5,1002.5 598.9,999.5 599.3,996.5 599.7,993.5 600.2,990.6 600.6,987.6 601,984.6 601.5,981.6 602,978.7 602.5,975.7 602.9,972.7 603.4,969.8 603.9,966.8 604.4,963.8 604.9,960.9 605.4,957.9 605.9,954.9 606.5,952 607,949 607.6,946.1 608.2,943.1 608.9,940.2 609.6,937.2 610.2,934.3 610.9,931.4 611.6,928.5 612.4,925.5 613.2,922.7 614.1,919.8 615,916.9 616.6,912.7 618.4,908.7 620.7,904.9 623.5,901.7 626.8,899.6 630.5,899 634.4,899.9 638,902 641.3,904.9 644.3,908.2 647,911.7 648.8,914.1 650.5,916.6 652.1,919.1 653.7,921.7 655.3,924.3 656.8,926.8 658.3,929.4 659.8,932.1 661.3,934.7 662.8,937.3 664.2,939.9 665.7,942.5 667.2,945.2 668.7,947.8 670.1,950.4 671.6,953 673.2,955.6 674.7,958.2 676.3,960.7 677.9,963.3 679.5,965.8 681.1,968.4 682.8,970.9 684.5,973.4 686.2,975.8 687.9,978.3 689.7,980.7 691.4,983.2 693.2,985.6 694.9,988.1 696.7,990.5 698.4,993 700.2,995.4 702,997.8 703.9,1000.2 705.7,1002.5 707.6,1004.9 709.6,1007.2 711.5,1009.5 713.4,1011.8 715.3,1014.1 717.3,1016.4 719.2,1018.7 721.2,1021 723.2,1023.2 725.2,1025.4 727.3,1027.6 729.4,1029.8 731.5,1031.9 733.7,1034 735.8,1036.2 737.9,1038.3 740.1,1040.4 742.3,1042.4 744.5,1044.4 746.8,1046.4 749.1,1048.3 751.4,1050.2 753.8,1052.1 756.1,1054 758.5,1055.9 760.8,1057.7 763.2,1059.6 765.5,1061.5 767.9,1063.4 770.2,1065.2 772.6,1067.1 775,1068.9 777.4,1070.7 779.8,1072.5 782.2,1074.4 784.6,1076.2 787,1077.9 789.5,1079.6 792,1081.3 794.6,1082.8 797.2,1084.3 799.8,1085.8 802.5,1087.2 805.2,1088.5 807.9,1089.9 810.6,1091.2 813.3,1092.5 816,1093.7 818.8,1094.9 821.6,1096 824.4,1097.1 827.2,1098.2 830,1099.3 832.8,1100.3 835.7,1101.2 838.6,1102.1 841.4,1103 844.3,1103.8 847.2,1104.6 850.1,1105.3 853.1,1106 856,1106.6 859,1107.2 861.9,1107.8 864.9,1108.4 867.8,1109 870.8,1109.6 873.7,1110.2 876.7,1110.8 879.6,1111.4 882.6,1112 885.5,1112.6 888.5,1113.1 891.4,1113.7 894.4,1114.3 897.3,1114.9 900.3,1115.4 903.3,1115.9 906.2,1116.4 909.2,1116.8 912.2,1117.3 915.2,1117.7 918.1,1118.1 921.1,1118.4 924.1,1118.7 927.1,1119 930.1,1119.3 933.1,1119.6 936.1,1119.8 939.1,1120.1 942.1,1120.3 945.1,1120.5 948.1,1120.7" stroke="#000000"/>
</g>
<g clip-path="url(#cpg)" fill="none" stroke-width="2.5" stroke-linejoin="round" stroke-linecap="butt">
<polyline points="103,1419.2 105,1417 107,1414.8 109,1412.5 111,1410.3 112.8,1407.9 115.5,1404.3 118,1400.5 120.3,1396.7 121.7,1394 123.1,1391.4 124.4,1388.7 125.7,1385.9 126.8,1383.2 128,1380.4 129.1,1377.6 130.1,1374.8 131.2,1372 132.2,1369.1 133.2,1366.3 134.2,1363.5 135.1,1360.6 136,1357.7 136.9,1354.9 137.8,1352 138.7,1349.1 139.6,1346.3 140.5,1343.4 141.5,1340.5 142.4,1337.7 143.3,1334.8 144.3,1332 145.2,1329.1 146.2,1326.3 147.1,1323.4 148.1,1320.6 149.1,1317.7 150,1314.9 151,1312 152,1309.2 153,1306.3 154,1303.5 155.1,1300.7 156.1,1297.9 157.1,1295 158.1,1292.2 159.1,1289.4 160.1,1286.5 161.1,1283.7 162.1,1280.9 163.1,1278 164.2,1275.2 165.2,1272.4 166.2,1269.5 167.2,1266.7 168.2,1263.9 169.2,1261 170.2,1258.2 171.2,1255.4 172.3,1252.5 173.3,1249.7 174.4,1246.9 175.5,1244.1 176.6,1241.3 177.7,1238.5 178.9,1235.8 180.1,1233 181.3,1230.2 182.5,1227.5 183.8,1224.8 185.2,1222.1 186.7,1219.5 188.1,1216.9 190.5,1213.1 193.1,1209.4 196,1206 199.1,1202.8 202.6,1200.2 206.5,1198.2 210.6,1196.9 215,1196.4 219.4,1196.5 223.8,1197.2 228,1198.5 232.1,1200.2 236.1,1202.3 239.9,1204.7 243.6,1207.3 246,1209.1 248.3,1211 250.7,1212.8 253,1214.7 255.3,1216.7 257.6,1218.7 259.8,1220.7 262,1222.7 264.2,1224.8 266.4,1226.8 268.7,1228.8 270.9,1230.7 273.2,1232.7 275.4,1234.8 277.6,1236.8 279.7,1238.9 281.9,1241 284,1243.1 286.2,1245.2 288.4,1247.3 290.6,1249.3 292.9,1251.2 295.2,1253.1 297.5,1255 299.8,1257 302.1,1258.9 304.3,1260.9 306.5,1263 308.7,1265.1 310.8,1267.2 312.9,1269.3 315.1,1271.4 317.2,1273.6 319.3,1275.7 321.4,1277.9 323.5,1280.1 325.5,1282.3 327.5,1284.5 329.6,1286.7 331.6,1288.9 333.6,1291.2 335.6,1293.4 337.7,1295.6 339.7,1297.8 341.7,1300.1 343.7,1302.3 345.8,1304.5 347.8,1306.7 349.8,1309 351.8,1311.2 353.8,1313.4 355.9,1315.6 357.9,1317.9 359.9,1320.1 361.9,1322.3 364,1324.5 366,1326.8 368,1329 369.9,1331.3 371.9,1333.6 373.8,1335.9 375.8,1338.2 377.7,1340.5 379.6,1342.8 381.6,1345.1 383.5,1347.4 385.5,1349.7 387.5,1351.9 389.5,1354.2 391.5,1356.4 393.5,1358.6 395.5,1360.9 397.5,1363.1 399.5,1365.3 401.5,1367.6 403.5,1369.9 405.4,1372.2 407.4,1374.5 409.3,1376.8 411.2,1379.1 413.2,1381.4 415.1,1383.7 417.1,1386 419,1388.2 421,1390.5 423.1,1392.7 425.1,1394.9 427.1,1397.2 429.1,1399.4 431.2,1401.6 433.2,1403.8 435.3,1405.9 437.4,1408.1 439.5,1410.2 441.7,1412.3 443.8,1414.5 445.9,1416.6 448,1418.7 450.2,1420.9 452.3,1423 454.4,1425.1 456.6,1427.2 458.7,1429.4 460.8,1431.4 463,1433.5 465.2,1435.5 467.5,1437.5 469.8,1439.5 472.1,1441.4 474.5,1443.2 476.8,1445.1 479.2,1446.9 481.6,1448.7 484,1450.5 486.5,1452.3 488.9,1454 491.4,1455.7 493.9,1457.4 496.5,1458.9 500.4,1461.2 503,1462.6 505.7,1464 508.4,1465.3 511.1,1466.6 513.9,1467.8 516.6,1469 519.4,1470.1 522.2,1471.2 525,1472.3 527.8,1473.3 530.7,1474.2 533.6,1475 536.5,1475.8 539.4,1476.6 542.3,1477.3 545.2,1478 548.1,1478.8 551.1,1479.5 554,1480.2" stroke="#f0b41e"/>
<polyline points="103,1408.5 105.2,1406.4 107.4,1404.4 109.7,1402.4 111.9,1400.4 115.2,1397.4 118.4,1394.2 121.3,1390.8 123.8,1387.1 125.9,1383.2 127.8,1379.1 128.9,1376.3 130,1373.5 131,1370.7 132.1,1367.9 133.1,1365.1 134.1,1362.2 135.1,1359.4 136.1,1356.5 137,1353.7 138,1350.8 138.9,1348 139.9,1345.1 140.8,1342.3 141.8,1339.4 142.7,1336.6 143.7,1333.7 144.6,1330.8 145.6,1328 146.5,1325.1 147.5,1322.3 148.5,1319.4 149.4,1316.6 150.4,1313.7 151.4,1310.9 152.4,1308.1 153.4,1305.2 154.5,1302.4 155.5,1299.6 156.5,1296.7 157.6,1293.9 158.7,1291.1 159.8,1288.3 160.9,1285.5 162,1282.7 163.2,1280 164.3,1277.2 165.4,1274.4 166.5,1271.6 167.6,1268.7 168.6,1265.9 169.7,1263.1 170.7,1260.3 171.7,1257.4 172.7,1254.6 173.8,1251.8 174.9,1249 176,1246.2 177.1,1243.4 178.2,1240.6 179.4,1237.8 180.6,1235.1 182.6,1231.1 184.9,1227.2 187.5,1223.5 190.3,1220.2 193.7,1217.4 197.4,1215.4 201.4,1214.4 205.6,1214.6 209.8,1215.7 213.7,1217.7 217.3,1220.2 220.7,1223.1 223.8,1226.3 225.9,1228.6 227.8,1230.8 229.8,1233.1 231.7,1235.4 233.7,1237.7 235.6,1240 237.5,1242.4 239.4,1244.7 241.4,1247 243.3,1249.3 245.2,1251.6 247.1,1253.9 249.1,1256.2 251,1258.6 252.9,1260.9 254.9,1263.2 256.8,1265.5 258.7,1267.8 260.6,1270.1 262.6,1272.4 264.5,1274.7 266.4,1277.1 268.3,1279.4 270.3,1281.7 272.2,1284 274.1,1286.3 276.1,1288.6 278,1290.9 279.9,1293.2 281.8,1295.5 283.8,1297.8 286.8,1301.2 290,1304.3 293.4,1307.2 296.9,1310 300.3,1312.8 303.7,1315.9 305.9,1318 308,1320.1 310.1,1322.2 312.3,1324.3 314.4,1326.4 316.5,1328.6 318.6,1330.7 320.7,1332.9 322.8,1335.1 324.8,1337.3 326.9,1339.5 328.9,1341.7 330.9,1343.9 333,1346.1 335,1348.4 337,1350.6 339.1,1352.8 341.1,1355.1 343.1,1357.3 345.1,1359.5 347.2,1361.7 349.2,1364 351.2,1366.2 353.2,1368.4 355.3,1370.6 357.3,1372.9 359.3,1375.1 361.3,1377.3 363.4,1379.6 365.4,1381.8 367.4,1384 369.5,1386.2 371.6,1388.3 373.7,1390.5 375.8,1392.6 377.9,1394.8 380.1,1396.9 382.2,1399 384.3,1401.1 386.4,1403.3 388.6,1405.4 390.7,1407.5 392.8,1409.7 395,1411.8 397.1,1413.9 399.3,1416 401.4,1418.1 403.6,1420.1 405.8,1422.2 408.1,1424.2 410.3,1426.2 412.6,1428.2 414.8,1430.2 417.1,1432.2 419.4,1434.1 421.7,1436 424.1,1437.9 426.4,1439.8 428.8,1441.7 431.2,1443.5 433.6,1445.3 436,1447.1 438.4,1448.9 440.9,1450.6 443.3,1452.3 445.8,1454 448.3,1455.7 450.9,1457.3 453.4,1458.9 456,1460.5 458.6,1462 461.2,1463.5 463.8,1464.9 466.5,1466.2 469.3,1467.5 472,1468.7 474.8,1469.8 477.6,1470.9 480.4,1471.9 483.3,1472.9 486.1,1473.8 489,1474.7 491.9,1475.6 494.8,1476.4 497.7,1477.2 500.6,1478 503.5,1478.7 506.4,1479.4 509.4,1480.2 512.3,1480.8 515.2,1481.5 518.2,1482.1 521.1,1482.7 524.1,1483.2 527.1,1483.7 530,1484.2 533,1484.6 536,1484.9 539,1485.2 542,1485.5 545,1485.8 548,1486 551,1486.3 554,1486.6" stroke="#a8c0c0"/>
<polyline points="103,1420.1 104.6,1417.5 107,1413.7 109.6,1410.2 112.6,1406.8 115.6,1403.6 118.5,1400.2 121.2,1396.6 123.5,1392.8 125.5,1388.8 127.2,1384.7 128.2,1381.8 129.1,1379 130.1,1376.1 131,1373.3 132,1370.4 132.9,1367.6 133.8,1364.7 134.7,1361.8 135.6,1359 136.5,1356.1 137.4,1353.2 138.3,1350.4 139.2,1347.5 140.2,1344.6 141.1,1341.7 142,1338.9 142.9,1336 143.9,1333.2 144.8,1330.3 145.8,1327.5 146.7,1324.6 147.7,1321.8 148.6,1318.9 149.6,1316.1 150.6,1313.2 151.6,1310.4 152.6,1307.5 153.6,1304.7 154.6,1301.9 155.6,1299 156.7,1296.2 157.7,1293.4 158.8,1290.6 159.8,1287.8 160.9,1284.9 162,1282.1 163,1279.3 164.1,1276.5 165.2,1273.7 166.2,1270.9 167.3,1268.1 168.3,1265.2 169.4,1262.4 170.4,1259.6 171.5,1256.8 172.6,1254 173.7,1251.2 174.9,1248.4 176.1,1245.7 178.1,1241.7 180.3,1237.8 182.9,1234.2 185.9,1230.9 189.2,1228.4 192.9,1226.9 196.8,1227 200.6,1228.4 204.2,1230.8 207.4,1233.8 210.4,1237.2 213.1,1240.7 214.8,1243.2 216.5,1245.7 218.1,1248.2 219.7,1250.8 221.3,1253.3 222.9,1255.9 224.4,1258.5 225.9,1261.1 227.4,1263.7 228.9,1266.3 230.3,1268.9 231.8,1271.6 233.3,1274.2 234.7,1276.8 236.2,1279.4 237.7,1282.1 239.1,1284.7 240.6,1287.3 242,1290 243.5,1292.6 245,1295.2 246.4,1297.9 247.9,1300.5 249.3,1303.1 250.8,1305.7 252.3,1308.4 253.7,1311 255.2,1313.6 256.6,1316.3 258.1,1318.9 259.6,1321.5 261,1324.2 262.5,1326.8 264,1329.4 265.5,1332 267.1,1334.6 268.6,1337.1 270.2,1339.7 271.8,1342.2 273.5,1344.7 275.2,1347.2 276.9,1349.7 278.6,1352.2 280.4,1354.6 282.2,1357 285.1,1360.4 288.1,1363.6 291.5,1366.5 295.1,1369 298.7,1371.7 302.1,1374.6 305.3,1377.7 307.4,1379.8 309.5,1382 311.6,1384.1 313.7,1386.2 315.9,1388.4 318,1390.5 320.2,1392.5 322.4,1394.5 324.7,1396.5 327,1398.4 329.3,1400.3 331.7,1402.2 334.1,1404.1 336.4,1405.9 338.9,1407.7 341.3,1409.5 343.7,1411.2 346.2,1413 348.6,1414.7 351.1,1416.4 353.6,1418.1 356,1419.9 358.5,1421.6 361,1423.3 363.4,1425 365.9,1426.7 368.4,1428.4 370.9,1430 373.5,1431.6 376.1,1433.2 378.6,1434.8 381.2,1436.3 383.8,1437.8 386.5,1439.2 389.1,1440.6 391.8,1442 394.5,1443.4 397.2,1444.7 399.9,1446.1 402.5,1447.4 405.2,1448.8 407.9,1450.1 410.6,1451.4 413.3,1452.7 416.1,1454 418.8,1455.3 421.6,1456.4 424.3,1457.6 427.1,1458.7 429.9,1459.8 432.7,1461 435.5,1462.1 438.3,1463.2 441.1,1464.3 443.9,1465.4 446.7,1466.4 449.5,1467.5 452.4,1468.4 455.3,1469.3 458.1,1470.2 461,1471.1 463.9,1472 466.8,1472.8 469.7,1473.7 472.5,1474.5 475.4,1475.4 478.3,1476.2 481.2,1476.9 484.2,1477.6 487.1,1478.3 490,1478.9 493,1479.5 495.9,1480.1 498.9,1480.7 501.8,1481.3 504.8,1481.8 507.7,1482.4 510.7,1483 513.7,1483.5 516.6,1484 519.6,1484.4 522.6,1484.9 525.6,1485.3 528.5,1485.7 531.5,1486 534.5,1486.3 537.5,1486.6 540.5,1486.9 543.5,1487.2 546.5,1487.5 549.5,1487.8 552.5,1488.1 554,1488.2" stroke="#e01418"/>
<polyline points="103,1401.9 105.1,1398.1 106.7,1394.2 107.7,1389.9 108.5,1385.7 109.3,1382.1 111.8,1380.4 114.2,1383 117.6,1383 119,1380 120.5,1376.1 122.2,1371.9 124.1,1367.9 125.5,1365.2 126.9,1362.5 128.3,1359.9 129.7,1357.2 131.1,1354.5 132.4,1351.8 133.6,1349.1 134.8,1346.3 136,1343.5 137.1,1340.7 138.1,1337.9 139.2,1335.1 140.2,1332.3 141.2,1329.4 142.2,1326.6 143.3,1323.7 144.3,1320.9 145.3,1318.1 146.3,1315.2 147.3,1312.4 148.4,1309.6 149.4,1306.8 150.5,1303.9 151.7,1301.1 152.8,1298.4 153.9,1295.6 155.1,1292.8 156.3,1290 157.4,1287.2 158.6,1284.4 159.7,1281.7 160.9,1278.9 162.1,1276.1 163.2,1273.3 164.4,1270.5 165.5,1267.7 166.7,1264.9 167.8,1262.2 169,1259.4 170.8,1255.3 173,1251.5 175.5,1248 178.3,1244.6 181.3,1241.5 184.5,1239.2 188.2,1238.1 192,1238.7 195.6,1240.6 198.6,1243.6 201.2,1247.2 203.4,1251.1 204.7,1253.7 206.1,1256.4 207.4,1259.1 208.8,1261.8 210.1,1264.5 211.5,1267.2 212.8,1269.9 214.2,1272.6 215.5,1275.3 216.8,1278 218.1,1280.7 219.4,1283.5 220.6,1286.3 221.7,1289 222.9,1291.8 224,1294.6 225.1,1297.4 226.2,1300.2 227.4,1303 228.5,1305.8 229.6,1308.6 230.7,1311.4 231.9,1314.2 233.1,1316.9 234.3,1319.7 235.5,1322.5 236.7,1325.2 238,1328 239.2,1330.7 240.4,1333.5 241.5,1336.3 242.7,1339.1 243.8,1341.9 244.8,1344.7 245.9,1347.5 247,1350.3 248.1,1353.1 249.2,1355.9 250.4,1358.7 251.5,1361.5 252.7,1364.3 253.8,1367.1 255,1369.8 256.2,1372.6 257.4,1375.4 258.6,1378.1 259.8,1380.9 261.1,1383.6 262.3,1386.4 263.6,1389.1 264.9,1391.8 266.2,1394.5 267.6,1397.2 269.1,1399.8 270.6,1402.4 272.1,1405.1 273.6,1407.6 275.2,1410.2 276.9,1412.7 278.7,1415.1 280.4,1417.5 282.3,1419.9 284.1,1422.3 286.1,1424.6 288,1426.9 290.1,1429.1 292.2,1431.2 294.4,1433.3 296.5,1435.4 298.6,1437.5 300.8,1439.7 302.9,1441.8 305,1443.9 307.2,1446 309.5,1447.9 311.8,1449.9 314.1,1451.8 316.5,1453.6 318.9,1455.5 321.3,1457.2 323.8,1458.9 326.3,1460.6 328.9,1462.2 331.5,1463.7 334.1,1465.2 336.7,1466.7 339.3,1468.2 342,1469.6 344.7,1470.9 347.4,1472.3 350.1,1473.5 352.9,1474.7 355.7,1475.8 358.5,1476.8 361.3,1477.7 364.2,1478.6 367.1,1479.4 370,1480.1 373,1480.8 375.9,1481.5 378.9,1482.1 381.8,1482.7 384.8,1483.3 387.7,1483.9 390.7,1484.5 393.6,1485.1 396.6,1485.6 399.6,1486.2 402.5,1486.7 405.5,1487.2 408.5,1487.7 411.5,1488.1 414.5,1488.5 417.4,1488.8 420.4,1489.1 423.4,1489.3 426.5,1489.6 429.5,1489.8 432.5,1490 435.5,1490.2 438.5,1490.5 441.5,1490.7 444.5,1491 447.5,1491.2 449,1491.4" stroke="#62c462"/>
<polyline points="103,1383.6 104.5,1379.5 106.5,1375.8 109,1372.6 112.1,1369.8 115.3,1367 118.1,1363.6 120.6,1360 122.8,1356 124.1,1353.3 125.4,1350.6 126.5,1347.8 127.6,1345 128.7,1342.2 129.7,1339.4 130.6,1336.5 131.6,1333.7 132.7,1330.8 133.8,1328 134.9,1325.3 136.1,1322.5 137.3,1319.7 138.6,1317 139.8,1314.3 141.1,1311.5 142.3,1308.8 143.6,1306 144.8,1303.3 146.1,1300.5 147.3,1297.8 148.6,1295.1 149.9,1292.3 151.2,1289.6 152.5,1286.9 153.9,1284.2 155.2,1281.5 156.5,1278.8 157.8,1276.1 159.1,1273.4 160.4,1270.6 161.6,1267.9 162.9,1265.2 164.2,1262.4 165.6,1259.8 167,1257.1 168.5,1254.5 170,1251.9 171.7,1249.4 174.3,1245.8 177.2,1242.4 180.4,1239.6 183.8,1237.8 187.4,1237.7 190.7,1239.3 193.8,1242.1 196.5,1245.6 198.9,1249.4 200.4,1252 201.8,1254.6 203.2,1257.3 204.6,1260 205.9,1262.7 207.3,1265.4 208.6,1268.1 210,1270.8 211.3,1273.5 212.7,1276.2 214,1278.9 215.3,1281.6 216.6,1284.3 217.9,1287.1 219.1,1289.8 220.4,1292.5 221.7,1295.3 222.9,1298 224.2,1300.7 225.5,1303.4 226.8,1306.2 228.2,1308.9 229.5,1311.6 230.9,1314.3 232.2,1316.9 233.6,1319.6 234.9,1322.3 236.3,1325 237.6,1327.7 238.9,1330.4 240.2,1333.2 241.5,1335.9 242.8,1338.6 244.1,1341.3 245.3,1344.1 246.6,1346.8 247.9,1349.6 249.1,1352.3 250.5,1355 251.8,1357.7 253.1,1360.4 254.5,1363.1 255.9,1365.8 257.2,1368.4 258.7,1371.1 260.1,1373.8 261.6,1376.4 263.1,1379 264.6,1381.6 266.2,1384.1 267.9,1386.7 269.6,1389.1 271.3,1391.6 273.1,1394 275,1396.4 276.8,1398.7 278.7,1401.1 280.7,1403.4 282.6,1405.7 284.5,1408 286.5,1410.3 288.5,1412.6 290.5,1414.8 292.5,1417 294.6,1419.2 296.7,1421.4 298.8,1423.6 300.9,1425.7 303,1427.9 305.1,1430 307.3,1432.1 309.5,1434.1 311.7,1436.1 314,1438.2 316.2,1440.2 318.5,1442.1 320.8,1444.1 323.2,1445.9 325.6,1447.8 328,1449.5 330.5,1451.3 333,1453 335.5,1454.6 338,1456.2 340.7,1457.7 343.3,1459.1 346,1460.5 348.7,1461.8 351.4,1463.1 354.1,1464.3 356.9,1465.5 359.7,1466.7 362.5,1467.8 365.3,1468.9 368.1,1470 370.9,1471 373.8,1471.9 376.7,1472.8 379.6,1473.7 382.4,1474.6 385.3,1475.4 388.2,1476.3 391.1,1477.2 394,1478 396.9,1478.8 399.8,1479.6 402.7,1480.4 405.7,1481 408.6,1481.7 411.6,1482.3 414.5,1482.8 417.5,1483.4 420.5,1483.9 423.4,1484.3 426.4,1484.8 429.4,1485.2 432.4,1485.6 435.4,1486 438.4,1486.3 441.4,1486.6 444.4,1486.9 447.4,1487.2 450.4,1487.4 453.4,1487.6 456.4,1487.8 459.4,1487.9 462.4,1488.1 465.4,1488.2 468.4,1488.4 471.4,1488.5 474.5,1488.7 477.5,1488.8 480.5,1489" stroke="#000000" stroke-dasharray="9,6"/>
<polyline points="103,1364.1 106.8,1361.7 110.4,1359.1 113.8,1356.2 116.8,1352.9 119.6,1349.4 121.4,1346.9 123.1,1344.5 124.7,1341.9 126.3,1339.4 127.8,1336.8 129.3,1334.1 130.7,1331.5 132.1,1328.8 133.5,1326.1 134.8,1323.4 136.1,1320.7 137.4,1318 138.6,1315.2 139.9,1312.5 141.1,1309.7 142.4,1307 143.6,1304.2 144.9,1301.5 146.1,1298.7 147.4,1296 148.6,1293.3 149.9,1290.5 151.1,1287.8 152.4,1285 153.6,1282.3 154.9,1279.5 156.2,1276.8 157.5,1274.1 158.8,1271.4 160.2,1268.7 161.7,1266.1 163.2,1263.5 164.7,1260.9 166.4,1258.4 169,1254.8 171.9,1251.4 175.1,1248.3 178.6,1245.8 182.4,1244.4 186.3,1244.3 190.2,1245.6 193.7,1248 197,1251 199.8,1254.4 202.4,1258 204.1,1260.6 205.7,1263.1 207.2,1265.7 208.8,1268.3 210.3,1270.9 211.7,1273.5 213.2,1276.2 214.6,1278.8 216,1281.5 217.4,1284.2 218.8,1286.9 220.2,1289.5 221.5,1292.2 222.9,1294.9 224.3,1297.6 225.7,1300.3 227.2,1302.9 228.6,1305.5 230.1,1308.2 231.6,1310.8 233.1,1313.4 234.7,1316 236.3,1318.5 237.9,1321.1 239.5,1323.7 241.1,1326.2 242.7,1328.8 244.3,1331.3 245.9,1333.9 247.5,1336.4 249.2,1338.9 250.9,1341.4 252.6,1343.9 254.3,1346.4 256.1,1348.8 257.8,1351.3 259.6,1353.7 261.3,1356.2 263.1,1358.6 264.9,1361 266.8,1363.4 268.7,1365.7 270.6,1368 272.6,1370.3 274.6,1372.6 276.7,1374.7 278.8,1376.9 280.9,1379.1 283,1381.2 285.2,1383.3 287.3,1385.4 289.6,1387.4 291.8,1389.4 294.2,1391.3 296.5,1393.1 298.9,1395 301.3,1396.9 303.7,1398.7 306,1400.5 308.5,1402.4 310.9,1404.1 313.3,1405.9 315.8,1407.6 318.3,1409.3 320.8,1411 323.3,1412.6 325.9,1414.2 328.5,1415.8 331,1417.3 333.6,1418.9 336.3,1420.4 338.9,1421.8 341.6,1423.2 344.3,1424.6 346.9,1425.9 349.7,1427.2 352.4,1428.5 355.2,1429.7 358,1430.8 360.8,1431.8 363.6,1432.8 366.5,1433.8 369.3,1434.8 372.2,1435.8 375,1436.8 377.9,1437.8 380.7,1438.8 383.6,1439.7 386.5,1440.7 389.3,1441.6 392.2,1442.5 395.1,1443.3 398,1444.1 400.9,1444.9 403.8,1445.6 406.8,1446.3 409.7,1446.9 412.7,1447.5 415.6,1448.1 418.6,1448.7 421.6,1449.3 424.5,1449.9 427.5,1450.5 430.4,1451.1 433.4,1451.7 436.3,1452.2 439.3,1452.8 442.3,1453.4 445.2,1454 448.2,1454.5 451.2,1455 454.1,1455.5 457.1,1456 460.1,1456.4 463.1,1456.9 466.1,1457.3 469.1,1457.7 472,1458.1 475,1458.5 478,1458.9 481,1459.3 484,1459.7 487,1460.1 488.5,1460.3" stroke="#000000"/>
</g>
<g clip-path="url(#cph)" fill="none" stroke-width="2.5" stroke-linejoin="round" stroke-linecap="butt">
<polyline points="553,1387.6 554.5,1385 556,1382.5 557.6,1379.9 559.3,1377.4 561.9,1373.7 563.7,1371.3 565.5,1369 567.4,1366.6 569.2,1364.2 570.9,1361.7 572.6,1359.2 574.2,1356.7 575.9,1354.2 577.5,1351.7 580,1347.9 582.4,1344.2 584.4,1340.2 586,1336.1 587.4,1331.8 588.3,1329 589.3,1326.1 590.3,1323.3 591.4,1320.5 592.6,1317.8 593.8,1315 595,1312.3 596.2,1309.5 597.5,1306.8 598.7,1304 599.8,1301.2 601,1298.4 602.1,1295.6 603.1,1292.8 604.2,1290 605.3,1287.2 606.4,1284.4 607.5,1281.6 608.6,1278.8 609.8,1276.1 611,1273.3 612.2,1270.5 613.4,1267.8 614.7,1265.1 615.9,1262.3 617.2,1259.6 618.5,1256.9 619.9,1254.2 621.3,1251.5 622.7,1248.9 625,1245 627.4,1241.3 630.3,1238.2 633.7,1236.1 637.6,1235.1 641.8,1235.5 645.8,1236.9 649.7,1239 653.3,1241.6 656.5,1244.7 659.4,1248 661.8,1251.7 664.1,1255.6 665.6,1258.2 667.1,1260.8 668.6,1263.4 670.2,1266 671.7,1268.6 673.3,1271.1 674.9,1273.7 676.4,1276.3 677.9,1278.9 679.4,1281.5 680.8,1284.2 682.2,1286.9 683.5,1289.5 684.9,1292.2 686.3,1294.9 687.7,1297.5 689.2,1300.2 690.7,1302.8 692.3,1305.3 693.8,1307.9 695.4,1310.5 696.9,1313 698.5,1315.6 700,1318.2 701.5,1320.9 702.9,1323.5 704.4,1326.1 705.9,1328.7 707.3,1331.4 708.8,1334 710.3,1336.6 711.7,1339.3 713.2,1341.9 714.7,1344.5 716.1,1347.1 717.7,1349.7 719.2,1352.3 720.8,1354.9 722.3,1357.4 723.9,1360 725.6,1362.5 727.2,1365 728.9,1367.5 730.6,1370 732.3,1372.5 734.1,1374.9 736,1377.3 738.8,1380.7 740.9,1382.9 742.9,1385.1 745,1387.3 747,1389.5 749,1391.8 751,1394 753,1396.3 754.9,1398.6 756.9,1400.8 759,1403 761.1,1405.2 763.2,1407.3 765.4,1409.4 767.6,1411.4 769.9,1413.4 773.4,1416.1 777.1,1418.7 780.9,1420.9 785,1422.8 789,1424.8 792.9,1427 796.6,1429.4 799.1,1431.1 801.6,1432.8 804.1,1434.4 806.7,1436 809.2,1437.6 811.8,1439.2 814.4,1440.7 817,1442.1 819.7,1443.5 822.4,1444.9 825.1,1446.3 827.8,1447.6 830.5,1448.8 833.2,1450.1 836,1451.3 838.7,1452.5 841.5,1453.6 844.3,1454.7 847.2,1455.7 850,1456.7 852.9,1457.6 855.7,1458.5 858.6,1459.4 861.5,1460.3 864.4,1461.2 867.2,1462 870.1,1462.9 873,1463.7 875.9,1464.6 878.8,1465.4 881.7,1466.1 884.6,1466.9 887.6,1467.6 890.5,1468.3 893.4,1469.1 896.3,1469.8 899.3,1470.5 902.2,1471.1 905.1,1471.8 908.1,1472.4 911,1473 914,1473.6 916.9,1474.1 919.9,1474.7 922.8,1475.3 925.8,1475.8 928.8,1476.3 931.7,1476.8 934.7,1477.2 937.7,1477.6 940.7,1478 943.7,1478.4 946.6,1478.8 949.6,1479.2 952.6,1479.6 955.6,1479.9 958.6,1480.3 961.6,1480.7 964.6,1481.1 967.5,1481.5 970.5,1481.9 973.5,1482.3 976.5,1482.7 979.5,1483 982.5,1483.3 985.5,1483.6 988.5,1483.9 991.5,1484.2 994.4,1484.5 997.4,1484.8 1000.4,1485 1003.4,1485.2 1006.4,1485.4 1009.5,1485.6 1012.5,1485.8 1015.5,1486 1017,1486.1" stroke="#e01418"/>
<polyline points="553,1377.8 554.8,1373.6 556.8,1369.7 559.2,1365.9 562,1362.4 564.9,1358.9 566.9,1356.7 569.7,1353.2 572.4,1349.6 574,1347.1 575.6,1344.5 577.2,1341.9 578.7,1339.3 580.1,1336.7 581.4,1334 582.8,1331.3 584,1328.5 585.3,1325.8 586.5,1323.1 587.8,1320.3 589,1317.6 590.3,1314.8 591.5,1312.1 592.8,1309.3 594,1306.6 595.3,1303.8 596.5,1301.1 597.7,1298.4 599,1295.6 600.2,1292.9 601.5,1290.1 602.7,1287.4 604,1284.6 605.2,1281.9 606.5,1279.2 607.8,1276.4 609,1273.7 610.3,1271 611.7,1268.3 613,1265.6 614.4,1262.9 615.7,1260.2 617.1,1257.5 618.6,1254.9 620.2,1252.4 621.8,1249.8 624.4,1246.2 627.3,1242.9 630.6,1240.3 634.4,1238.8 638.4,1238.6 642.3,1239.7 646,1241.9 649.3,1244.7 652.2,1248.1 654.8,1251.7 657.2,1255.6 658.7,1258.2 660.1,1260.8 661.5,1263.5 662.9,1266.2 664.3,1268.9 665.6,1271.6 667,1274.3 668.3,1276.9 669.7,1279.6 671,1282.3 672.4,1285 673.7,1287.7 675.1,1290.4 676.4,1293.1 677.7,1295.8 679,1298.6 680.3,1301.3 681.5,1304 682.8,1306.8 684,1309.5 685.3,1312.3 686.5,1315 687.7,1317.8 688.9,1320.5 690.1,1323.3 691.3,1326.1 692.4,1328.9 693.6,1331.6 694.8,1334.4 695.9,1337.2 697.1,1340 698.3,1342.7 699.5,1345.5 700.8,1348.3 702,1351 703.2,1353.7 704.5,1356.5 705.7,1359.2 707,1362 708.2,1364.7 709.5,1367.5 710.7,1370.2 712,1372.9 713.2,1375.7 714.5,1378.4 715.7,1381.2 717,1383.9 718.3,1386.6 719.6,1389.3 721,1392 722.3,1394.7 723.7,1397.4 725,1400.1 726.4,1402.8 727.9,1405.4 729.4,1408 730.9,1410.6 732.5,1413.2 734.1,1415.7 735.7,1418.3 737.4,1420.8 739.1,1423.3 740.8,1425.7 742.6,1428.2 744.4,1430.6 746.2,1433 748.1,1435.3 750.1,1437.5 752.2,1439.7 754.3,1441.9 756.4,1444 758.5,1446.1 760.7,1448.3 762.9,1450.3 766.2,1453.3 769.8,1456 773.6,1458.4 777.5,1460.6 781.6,1462.5 784.4,1463.7 787.1,1464.9 789.8,1466.2 792.5,1467.5 795.2,1468.8 797.9,1470.2 800.6,1471.5 803.4,1472.7 806.2,1473.9 809,1474.9 811.8,1476 814.6,1476.9 817.5,1477.9 820.4,1478.8 823.3,1479.7 826.2,1480.5 829.1,1481.3 832,1482.1 834.9,1482.8 837.8,1483.5 840.8,1484.2 843.7,1484.8 846.7,1485.5 849.6,1486 852.6,1486.6 855.5,1487.1 858.5,1487.5 861.5,1488 864.5,1488.4 867.5,1488.7 870.5,1489.1 873.5,1489.4 876.5,1489.7 879.5,1490 882.5,1490.3 885.5,1490.6 888.5,1490.9 891.5,1491.2 894.5,1491.5" stroke="#62c462"/>
<polyline points="553,1383.7 555.2,1381.7 557.5,1379.7 559.7,1377.6 561.9,1375.6 564,1373.5 566.1,1371.3 568.1,1369 570.9,1365.5 572.6,1363 574.3,1360.5 575.9,1358 577.4,1355.4 578.9,1352.8 580.3,1350.1 581.6,1347.4 582.9,1344.7 584.2,1342 585.5,1339.2 586.7,1336.5 587.9,1333.7 589.1,1330.9 590.2,1328.1 591.4,1325.3 592.5,1322.5 593.6,1319.7 594.7,1316.9 595.7,1314.1 596.8,1311.3 597.9,1308.5 599,1305.6 600.1,1302.8 601.2,1300 602.2,1297.2 603.3,1294.4 604.4,1291.6 605.5,1288.7 606.6,1285.9 607.7,1283.1 608.8,1280.3 610,1277.6 611.2,1274.8 612.4,1272 613.7,1269.3 614.9,1266.5 616.2,1263.8 617.5,1261.1 618.9,1258.4 620.3,1255.8 621.8,1253.2 623.4,1250.6 625.9,1246.9 628.7,1243.5 631.9,1240.6 635.5,1238.8 639.3,1238.2 643.1,1239.1 646.7,1241.3 649.9,1244.2 652.8,1247.6 655.4,1251.2 657.1,1253.7 658.8,1256.2 660.3,1258.8 661.8,1261.4 663.3,1264 664.8,1266.7 666.3,1269.3 667.7,1271.9 669.2,1274.6 670.7,1277.2 672.1,1279.8 673.6,1282.5 675.1,1285.1 676.6,1287.7 678.1,1290.3 679.6,1292.9 681.2,1295.5 682.8,1298.1 684.4,1300.7 686,1303.2 687.6,1305.8 689.2,1308.3 690.8,1310.9 692.4,1313.4 694,1316 695.6,1318.5 697.2,1321.1 698.9,1323.6 700.6,1326.1 702.4,1328.5 704.1,1331 705.8,1333.5 707.6,1335.9 709.4,1338.4 711.1,1340.8 712.9,1343.3 714.6,1345.7 716.4,1348.1 718.3,1350.5 720.1,1352.9 722,1355.2 724,1357.6 725.9,1359.9 727.8,1362.2 729.8,1364.5 731.7,1366.8 733.6,1369.1 735.6,1371.4 737.6,1373.6 739.7,1375.9 741.8,1378 743.9,1380.1 746.1,1382.2 748.4,1384.2 750.6,1386.2 753,1388.1 755.3,1390 757.7,1391.9 760,1393.8 762.4,1395.6 764.8,1397.4 767.3,1399.2 769.7,1400.9 772.3,1402.5 774.8,1404.1 777.4,1405.7 780,1407.3 782.5,1408.9 785.1,1410.5 787.7,1412 789,1412.8" stroke="#000000"/>
</g>
<g clip-path="url(#cpm)" fill="none" stroke-width="2.5" stroke-linejoin="round" stroke-linecap="butt">
<polyline points="1173.5,1152.1 1176.5,1151.7 1179.5,1151.3 1182.4,1150.9 1185.4,1150.5 1188.4,1150.1 1191.4,1149.7 1194.4,1149.3 1198.5,1148 1201,1144.4 1202.6,1141.9 1204.2,1139.3 1205.8,1136.7 1207.3,1134.1 1208.6,1131.4 1209.8,1128.7 1211.1,1125.9 1212.3,1123.2 1213.6,1120.4 1214.8,1117.7 1216.1,1114.9 1217.3,1112.2 1218.6,1109.5 1220,1106.8 1221.5,1104.2 1223,1101.6 1224.4,1098.9 1225.9,1096.3 1227.4,1093.6 1228.8,1091 1230.3,1088.4 1231.8,1085.7 1233.2,1083.1 1234.7,1080.5 1236.2,1077.8 1237.6,1075.2 1239.1,1072.6 1240.6,1069.9 1242.3,1067.4 1244,1065 1245.8,1062.5 1247.5,1060.1 1249.3,1057.6 1251.1,1055.2 1253,1052.9 1255.1,1050.8 1257.3,1048.6 1259.4,1046.5 1261.5,1044.4 1265.1,1041.6 1267.7,1040.1 1270.3,1038.5 1272.8,1036.9 1275.8,1033.7 1277.5,1031.2 1279.2,1028.7 1280.8,1026.2 1282.5,1023.6 1284,1021 1285.3,1018.3 1286.7,1015.6 1288,1012.9 1289.4,1010.2 1290.7,1007.5 1292,1004.8 1293.1,1002 1294.2,999.2 1295.2,996.3 1296.3,993.5 1297.3,990.7 1298.4,987.9 1299.3,985 1300.2,982.1 1301,979.2 1301.9,976.3 1302.8,973.4 1303.6,970.5 1304.5,967.7 1305.3,964.8 1305.9,961.8 1306.3,958.8 1306.8,955.8 1307.3,952.9 1307.8,949.9 1308.3,946.9 1308.8,943.9 1309.3,941 1309.8,938 1310.2,935 1310.6,932 1310.9,929 1311.3,926 1311.7,923 1312.1,920 1312.4,917 1312.8,914 1313.2,911.1 1313.6,908.1 1313.9,905.1 1314.3,902.1 1314.7,899.1 1315.1,896.1 1315.4,893.1 1315.8,890.1 1316.2,887.1 1316.5,884.1 1316.8,881.1 1317.1,878.1 1317.4,875.1 1317.7,872.1 1317.9,869.1 1318.2,866.1 1318.5,863.1 1318.8,860.1 1319.1,857.1 1319.3,854.1 1319.6,851.1 1319.9,848.1 1320.2,845.1 1320.6,842.1 1320.9,839.1 1321.2,836.1 1321.5,833.1 1321.8,830.1 1322.2,827.1 1322.5,824.1 1322.8,821.1 1323.1,818.1 1323.4,815.1 1323.7,812.1 1324,809.1 1324.3,806.1 1324.6,803.1 1324.9,800.1 1325.2,797.1 1325.5,794.1 1325.8,791.1 1326.1,788.1 1326.4,785.1" stroke="#000000" stroke-dasharray="9,6"/>
<polyline points="1396,785 1396.1,788 1396.3,791 1396.4,794.1 1396.6,797.1 1396.7,800.1 1396.9,803.1 1397,806.1 1397.2,809.1 1397.3,812.1 1397.5,815.1 1397.6,818.1 1397.8,821.1 1397.9,824.2 1398.1,827.2 1398.2,830.2 1398.4,833.2 1398.5,836.2 1398.7,839.2 1398.8,842.2 1399,845.2 1399.2,848.2 1399.4,851.2 1399.7,854.3 1399.9,857.3 1400.1,860.3 1400.3,863.3 1400.6,866.3 1400.8,869.3 1401,872.3 1401.2,875.3 1401.5,878.3 1401.7,881.3 1401.9,884.3 1402.1,887.3 1402.4,890.3 1402.6,893.3 1402.8,896.3 1403,899.3 1403.3,902.3 1403.5,905.4 1403.7,908.4 1403.9,911.4 1404.2,914.4 1404.4,917.4 1404.6,920.4 1404.8,923.4 1405.1,926.4 1405.3,929.4 1405.5,932.4 1406,935.4 1406.5,938.3 1407.1,941.3 1407.7,944.3 1408.3,947.2 1408.9,950.2 1409.5,953.1 1410,956.1 1410.5,959.1 1410.9,962.1 1411.4,965 1411.8,968 1412.2,971 1412.7,974 1413.1,977 1413.6,979.9 1414,982.9 1414.4,985.9 1414.9,988.9 1415.3,991.9 1415.8,994.8 1416.5,997.8 1417.2,1000.7 1417.9,1003.7 1418.5,1006.6 1419.2,1009.5 1419.9,1012.5 1420.6,1015.4 1421.2,1018.3 1421.9,1021.3 1422.7,1024.2 1423.7,1027 1424.6,1029.9 1425.6,1032.8 1426.5,1035.6 1427.5,1038.5 1428.5,1041.3 1429.4,1044.2 1430.4,1047.1 1431.4,1049.9 1432.6,1052.6 1433.8,1055.4 1435.1,1058.1 1436.3,1060.9 1437.6,1063.6 1438.8,1066.4 1440.1,1069.1 1441.3,1071.9 1443.6,1075.7 1445.4,1078.2 1447.2,1080.6 1449,1083 1450.8,1085.4 1452.6,1087.8 1454.4,1090.2 1457.7,1093.3 1460.1,1095.1 1462.6,1096.8 1465,1098.6 1467.5,1100.3 1469.9,1102.1 1473.9,1104 1476.8,1105.1 1479.6,1106.2 1482.4,1107.2 1485.2,1108.3 1488.1,1109.3 1492.5,1110.2 1495.5,1110.7 1498.4,1111.1 1501.4,1111.6 1504.4,1112 1507.4,1112.5 1510.4,1112.9 1513.4,1113.2 1516.4,1113.3 1519.4,1113.5 1522.4,1113.6 1525.4,1113.8 1528.4,1113.9 1531.4,1114.1 1534.4,1114.2 1537.4,1114.3 1540.5,1114.3 1543.5,1114.4 1546.5,1114.5 1549.5,1114.5 1552.5,1114.6 1555.5,1114.6 1558.5,1114.7 1561.6,1114.8 1564.6,1114.9 1567.6,1115 1570.6,1115.1 1573.6,1115.2 1576.6,1115.3 1579.6,1115.3 1582.7,1115.3 1585.7,1115.3 1588.7,1115.3 1591.7,1115.3 1594.7,1115.3 1597.7,1115.3 1600.7,1115.3 1603.8,1115.3 1606.8,1115.3 1609.8,1115.3 1612.8,1115.3 1615.8,1115.3 1618.8,1115.3 1621.8,1115.3 1624.9,1115.3 1627.9,1115.3 1630.9,1115.3 1633.9,1115.3 1636.9,1115.3 1639.9,1115.3 1642.9,1115.3 1646,1115.3 1649,1115.3 1652,1115.3 1655,1115.3" stroke="#000000" stroke-dasharray="9,6"/>
<polyline points="1173.3,1150.1 1176.4,1150.1 1179.4,1150.1 1182.4,1150.1 1185.4,1150.1 1188.4,1150.1 1191.4,1150.1 1194.5,1150.1 1197.5,1150.1 1200.5,1150.1 1204.9,1149.3 1209,1147.6 1211.8,1144.2 1213.5,1141.7 1215.1,1139.2 1216.8,1136.7 1218.4,1134.1 1219.8,1131.5 1221.2,1128.8 1222.5,1126.1 1223.9,1123.4 1225.2,1120.7 1226.6,1118 1227.9,1115.3 1229.2,1112.6 1230.5,1109.8 1231.6,1107.1 1232.8,1104.3 1233.9,1101.5 1235.1,1098.7 1236.3,1095.9 1237.4,1093.1 1238.6,1090.4 1239.7,1087.6 1240.9,1084.8 1242,1082 1243,1079.2 1244.1,1076.3 1245.2,1073.5 1246.3,1070.7 1247.4,1067.9 1248.5,1065.1 1249.5,1062.3 1250.6,1059.5 1251.7,1056.6 1252.8,1053.8 1253.9,1051 1255,1048.2 1256,1045.4 1257.1,1042.6 1258.2,1039.8 1259.3,1036.9 1260.4,1034.1 1261.5,1031.3 1262.5,1028.5 1263.7,1025.7 1264.8,1022.9 1266,1020.1 1267.1,1017.3 1268.3,1014.6 1269.5,1011.8 1270.6,1009 1271.8,1006.2 1272.9,1003.4 1274.1,1000.6 1275.2,997.8 1276.3,995 1277.5,992.2 1278.6,989.4 1279.7,986.7 1280.8,983.9 1281.9,981.1 1283,978.2 1283.9,975.4 1284.8,972.5 1285.7,969.6 1286.5,966.7 1287.4,963.8 1288.3,960.9 1289.1,958 1289.9,955.1 1290.7,952.2 1291.4,949.3 1292.1,946.4 1292.9,943.4 1293.6,940.5 1294.3,937.6 1295,934.7 1295.6,931.7 1296.1,928.7 1296.5,925.7 1297,922.7 1297.4,919.8 1297.8,916.8 1298.3,913.8 1298.7,910.8 1299.2,907.8 1299.6,904.9 1300.1,901.9 1300.5,898.9 1301,895.9 1301.4,892.9 1301.9,889.9 1302.3,887 1302.8,884 1303.2,881 1303.7,878 1304.1,875 1304.6,872.1 1305,869.1 1305.4,866.1 1305.7,863.1 1306,860.1 1306.3,857.1 1306.6,854.1 1306.9,851.1 1307.2,848.1 1307.5,845.1 1307.8,842.1 1308.1,839.1 1308.4,836.1 1308.7,833.1 1309,830.1 1309.3,827.1 1309.6,824.1 1309.9,821.1 1310.2,818.1 1310.5,815.1 1310.8,812.1 1311.1,809.1 1311.4,806.1 1311.7,803.1 1312,800.1 1312.3,797.1 1312.6,794.1 1312.9,791.1 1313.2,788.1 1313.5,785.1" stroke="#62c462"/>
<polyline points="1409.3,785 1409.4,788 1409.6,791 1409.7,794 1409.9,797 1410,800.1 1410.2,803.1 1410.3,806.1 1410.5,809.1 1410.6,812.1 1410.8,815.1 1410.9,818.1 1411.1,821.1 1411.2,824.1 1411.4,827.1 1411.5,830.1 1411.7,833.1 1411.8,836.2 1412,839.2 1412.1,842.2 1412.3,845.2 1412.6,848.2 1412.9,851.2 1413.2,854.2 1413.5,857.2 1413.8,860.2 1414.1,863.2 1414.4,866.1 1414.7,869.1 1415,872.1 1415.3,875.1 1415.6,878.1 1415.9,881.1 1416.2,884.1 1416.5,887.1 1416.8,890.1 1417.2,893.1 1417.6,896.1 1418,899.1 1418.3,902.1 1418.7,905.1 1419.1,908 1419.5,911 1419.8,914 1420.2,917 1420.6,920 1420.9,923 1421.3,926 1421.7,929 1422.1,932 1422.5,934.9 1422.9,937.9 1423.4,940.9 1423.8,943.9 1424.3,946.8 1424.7,949.8 1425.1,952.8 1425.6,955.8 1426,958.8 1426.5,961.7 1426.9,964.7 1427.4,967.7 1427.8,970.7 1428.3,973.7 1428.7,976.6 1429.3,979.6 1430,982.5 1430.6,985.5 1431.3,988.4 1432,991.3 1432.7,994.3 1433.4,997.2 1434.1,1000.1 1434.8,1003 1435.4,1006 1436.1,1008.9 1436.8,1011.8 1437.7,1014.7 1438.5,1017.6 1439.4,1020.5 1440.3,1023.4 1441.1,1026.3 1442,1029.2 1442.9,1032 1443.7,1034.9 1444.6,1037.8 1445.5,1040.7 1446.3,1043.6 1447.4,1046.4 1448.6,1049.1 1449.9,1051.9 1451.2,1054.6 1452.4,1057.3 1453.7,1060.1 1455,1062.8 1456.2,1065.5 1457.5,1068.3 1458.7,1071 1460.9,1074.9 1462.9,1077.2 1464.9,1079.5 1466.8,1081.7 1468.8,1084 1470.8,1086.3 1472.8,1088.5 1474.8,1090.8 1478.3,1093.5 1480.9,1095.1 1483.4,1096.7 1486,1098.3 1488.5,1099.9 1491.1,1101.5 1495.1,1103.5 1498,1104.4 1500.9,1105.2 1503.7,1106.1 1506.6,1107 1509.5,1107.8 1512.4,1108.7 1515.3,1109.5 1518.2,1110.1 1521.2,1110.6 1524.2,1111 1527.2,1111.4 1530.2,1111.9 1533.1,1112.3 1536.1,1112.8 1539.1,1113.1 1542.1,1113.3 1545.1,1113.5 1548.1,1113.6 1551.1,1113.8 1554.1,1114 1557.1,1114.1 1560.2,1114.3 1563.2,1114.4 1566.2,1114.6 1569.2,1114.7 1572.2,1114.7 1575.2,1114.7 1578.2,1114.8 1581.2,1114.8 1584.2,1114.8 1587.2,1114.8 1590.3,1114.9 1593.3,1114.9 1596.3,1114.9 1599.3,1114.9 1602.3,1115 1605.3,1115 1608.3,1115 1611.3,1115.1 1614.3,1115.1 1617.4,1115.1 1620.4,1115.1 1623.4,1115.2 1626.4,1115.2 1629.4,1115.2 1632.4,1115.3 1635.4,1115.3 1638.4,1115.3 1641.4,1115.3 1644.5,1115.4 1647.5,1115.4 1650.5,1115.4 1653.5,1115.4 1655,1115.5" stroke="#62c462"/>
<polyline points="1177.2,1154.1 1180.1,1153.3 1183,1152.5 1186,1151.7 1188.9,1150.9 1191.8,1150.1 1194.7,1149.3 1197.6,1148.5 1201.1,1146.2 1202.8,1142.1 1203.9,1139.3 1205.1,1136.5 1206.2,1133.7 1207.3,1130.9 1208.4,1128.1 1209.4,1125.2 1210.1,1122.3 1210.6,1119.3 1211.1,1116.3 1211.6,1113.4 1212.2,1110.4 1212.7,1107.4 1213.2,1104.4 1213.7,1101.5 1214.3,1098.5 1214.8,1095.5 1215.3,1092.6 1215.8,1089.6 1216.3,1086.6 1216.7,1083.6 1217.1,1080.6 1217.5,1077.6 1217.9,1074.6 1218.4,1071.6 1218.8,1068.6 1219.2,1065.6 1219.6,1062.7 1220,1059.7 1220.4,1056.7 1220.8,1053.7 1221.2,1050.7 1221.6,1047.7 1222,1044.7 1222.4,1041.7 1222.8,1038.7 1223.2,1035.7 1223.6,1032.7 1223.9,1029.7 1224.3,1026.7 1224.6,1023.7 1225,1020.7 1225.3,1017.7 1225.7,1014.7 1226.1,1011.7 1226.4,1008.7 1226.8,1005.7 1227.1,1002.7 1227.5,999.7 1227.8,996.7 1228.2,993.7 1228.6,990.7 1228.9,987.7 1229.2,984.7 1229.6,981.7 1229.9,978.7 1230.3,975.7 1230.6,972.7 1230.9,969.7 1231.3,966.7 1231.6,963.7 1232,960.7 1232.3,957.7 1232.7,954.7 1233,951.7 1233.3,948.7 1233.7,945.7 1234,942.7 1234.4,939.7 1234.7,936.7 1235.1,933.7 1235.4,930.7 1235.8,927.7 1236.2,924.7 1236.5,921.7 1236.9,918.7 1237.2,915.7 1237.6,912.7 1237.9,909.7 1238.3,906.7 1238.7,903.7 1239,900.7 1239.4,897.7 1239.7,894.7 1240,891.7 1240.3,888.7 1240.6,885.7 1240.9,882.7 1241.2,879.7 1241.5,876.7 1241.8,873.7 1242.1,870.7 1242.4,867.7 1242.7,864.7 1243,861.7 1243.3,858.7 1243.6,855.7 1243.9,852.6 1244.2,849.6 1244.5,846.6 1244.8,843.6 1245.1,840.6 1245.4,837.6 1245.7,834.6 1246,831.6 1246.3,828.6 1246.6,825.6 1246.9,822.6 1247.2,819.6 1247.6,816.6 1247.9,813.6 1248.3,810.6 1248.7,807.6 1249,804.6 1249.4,801.6 1249.8,798.6 1250.2,795.6 1250.5,792.6 1250.9,789.6 1251.3,786.6 1251.5,785.1" stroke="#a8c0c0"/>
<polyline points="1445.3,785.1 1445.6,788.1 1445.9,791.1 1446.2,794.1 1446.5,797.1 1446.8,800.1 1447.1,803.1 1447.4,806.1 1447.7,809.1 1448,812.1 1448.3,815.1 1448.6,818.1 1448.9,821.1 1449.2,824.1 1449.5,827.1 1449.8,830.1 1450.1,833.1 1450.4,836.1 1450.7,839.1 1451,842.1 1451.3,845.1 1451.7,848.1 1452.1,851.1 1452.4,854.1 1452.8,857.1 1453.2,860.1 1453.6,863.1 1453.9,866.1 1454.3,869.1 1454.7,872.1 1455.1,875.1 1455.4,878.1 1455.8,881 1456.2,884 1456.6,887 1457,890 1457.5,893 1458,896 1458.5,898.9 1459.1,901.9 1459.6,904.9 1460.1,907.9 1460.6,910.8 1461.1,913.8 1461.7,916.8 1462.2,919.7 1462.7,922.7 1463.2,925.7 1463.7,928.7 1464.3,931.6 1464.8,934.6 1465.4,937.6 1466,940.5 1466.6,943.5 1467.2,946.4 1467.8,949.4 1468.4,952.4 1468.9,955.3 1469.5,958.3 1470.1,961.2 1470.7,964.2 1471.3,967.2 1471.9,970.1 1472.5,973.1 1473.1,976 1473.8,979 1474.5,981.9 1475.3,984.8 1476.2,987.7 1477,990.6 1477.8,993.5 1478.6,996.4 1479.4,999.3 1480.2,1002.2 1481,1005.1 1481.8,1008 1482.6,1011 1483.4,1013.9 1484.2,1016.8 1485.2,1019.6 1486.4,1022.4 1487.6,1025.2 1488.8,1027.9 1490,1030.7 1491.2,1033.5 1492.3,1036.3 1493.5,1039 1494.7,1041.8 1495.9,1044.6 1497.1,1047.3 1498.4,1050.1 1500,1052.6 1501.6,1055.2 1503.2,1057.7 1504.8,1060.3 1506.5,1062.8 1508.1,1065.4 1509.7,1067.9 1511.3,1070.4 1513,1073 1516.1,1076.2 1518.3,1078.2 1520.6,1080.2 1522.8,1082.2 1525.1,1084.2 1527.3,1086.3 1529.6,1088.3 1531.8,1090.3 1535.5,1092.8 1538.2,1094.2 1540.9,1095.5 1543.6,1096.9 1546.3,1098.2 1549,1099.6 1551.7,1100.9 1554.4,1102.3 1557.2,1103.4 1560.1,1104.3 1563,1105.2 1565.9,1106 1568.8,1106.9 1571.6,1107.8 1574.5,1108.6 1577.4,1109.5 1580.4,1110.2 1583.3,1110.8 1586.3,1111.4 1589.2,1111.9 1592.2,1112.5 1595.2,1113.1 1598.1,1113.7 1601.1,1114.3 1604.1,1114.7 1607,1115.2 1610,1115.6 1613,1116.1 1616,1116.5 1619,1117 1622,1117.4 1625,1117.8 1627.9,1118.2 1630.9,1118.6 1633.9,1119 1636.9,1119.4 1639.9,1119.8 1642.9,1120.2 1645.9,1120.5 1648.9,1120.9 1651.9,1121.3 1654.9,1121.7" stroke="#a8c0c0"/>
<polyline points="1177.2,1154.1 1180.1,1153.3 1183,1152.5 1186,1151.7 1188.9,1150.9 1191.8,1150.1 1194.7,1149.3 1197.6,1148.5 1201,1146.2 1202.8,1142.1 1203.9,1139.3 1205,1136.5 1206.2,1133.7 1207.3,1130.9 1208.4,1128.1 1209.4,1125.3 1210,1122.3 1210.5,1119.3 1211,1116.4 1211.5,1113.4 1212,1110.4 1212.5,1107.4 1213,1104.5 1213.5,1101.5 1214,1098.5 1214.5,1095.5 1215,1092.5 1215.5,1089.6 1216,1086.6 1216.4,1083.6 1216.8,1080.6 1217.2,1077.6 1217.6,1074.6 1218.1,1071.6 1218.5,1068.7 1218.9,1065.7 1219.3,1062.7 1219.7,1059.7 1220.1,1056.7 1220.5,1053.7 1220.9,1050.7 1221.3,1047.7 1221.7,1044.7 1222.1,1041.7 1222.5,1038.8 1222.9,1035.8 1223.3,1032.8 1223.6,1029.8 1224,1026.8 1224.3,1023.8 1224.6,1020.8 1225,1017.8 1225.3,1014.8 1225.7,1011.8 1226,1008.8 1226.3,1005.8 1226.7,1002.8 1227,999.8 1227.4,996.8 1227.7,993.8 1228,990.8 1228.4,987.8 1228.7,984.8 1229.1,981.8 1229.4,978.8 1229.8,975.8 1230.1,972.8 1230.4,969.8 1230.8,966.8 1231.1,963.8 1231.5,960.8 1231.8,957.8 1232.1,954.8 1232.5,951.8 1232.8,948.8 1233.2,945.8 1233.5,942.8 1233.8,939.8 1234.2,936.8 1234.5,933.8 1234.8,930.8 1235.1,927.8 1235.4,924.8 1235.7,921.8 1236,918.8 1236.3,915.8 1236.6,912.8 1236.9,909.8 1237.2,906.8 1237.5,903.7 1237.8,900.7 1238.1,897.7 1238.4,894.7 1238.7,891.7 1239,888.7 1239.3,885.7 1239.6,882.7 1239.9,879.7 1240.2,876.7 1240.5,873.7 1240.8,870.7 1241.1,867.7 1241.4,864.7 1241.7,861.7 1242,858.7 1242.3,855.7 1242.6,852.7 1242.9,849.7 1243.2,846.7 1243.4,843.7 1243.7,840.7 1244,837.7 1244.3,834.7 1244.6,831.7 1244.8,828.7 1245.1,825.6 1245.4,822.6 1245.7,819.6 1246,816.6 1246.3,813.6 1246.5,810.6 1246.8,807.6 1247,804.6 1247.3,801.6 1247.5,798.6 1247.8,795.6 1248,792.6 1248.3,789.6 1248.5,786.6 1248.6,785.1" stroke="#30dcdc"/>
<polyline points="1440.1,785 1440.3,788 1440.6,791.1 1440.8,794.1 1441,797.1 1441.2,800.1 1441.5,803.1 1441.7,806.1 1441.9,809.1 1442.1,812.1 1442.4,815.1 1442.6,818.1 1442.8,821.1 1443,824.1 1443.3,827.1 1443.5,830.1 1443.7,833.1 1443.9,836.1 1444.2,839.1 1444.4,842.1 1444.6,845.1 1444.9,848.1 1445.2,851.1 1445.5,854.1 1445.8,857.1 1446.1,860.1 1446.4,863.1 1446.7,866.1 1447,869.1 1447.3,872.1 1447.6,875.1 1447.9,878.1 1448.2,881.1 1448.5,884.1 1448.8,887.1 1449.2,890.1 1449.6,893.1 1450.1,896 1450.5,899 1451,902 1451.4,905 1451.8,908 1452.3,910.9 1452.7,913.9 1453.2,916.9 1453.6,919.9 1454.1,922.9 1454.5,925.8 1455,928.8 1455.4,931.8 1455.9,934.8 1456.4,937.7 1456.9,940.7 1457.5,943.7 1458,946.6 1458.5,949.6 1459,952.6 1459.5,955.6 1460.1,958.5 1460.6,961.5 1461.1,964.5 1461.6,967.4 1462.1,970.4 1462.6,973.4 1463.2,976.3 1463.8,979.3 1464.5,982.2 1465.2,985.1 1466,988 1466.7,991 1467.4,993.9 1468.1,996.8 1468.9,999.7 1469.6,1002.7 1470.3,1005.6 1471.1,1008.5 1471.8,1011.4 1472.5,1014.4 1473.3,1017.3 1474.2,1020.1 1475.3,1022.9 1476.4,1025.7 1477.5,1028.5 1478.6,1031.3 1479.7,1034.1 1480.8,1036.9 1481.9,1039.8 1483,1042.6 1484.1,1045.4 1485.3,1048.2 1486.6,1050.9 1488.1,1053.5 1489.6,1056.1 1491.2,1058.6 1492.7,1061.2 1494.2,1063.8 1495.7,1066.4 1497.3,1069 1498.8,1071.6 1501.5,1075.2 1503.6,1077.4 1505.7,1079.5 1507.8,1081.6 1510,1083.8 1512.1,1085.9 1514.2,1088 1517.8,1090.7 1520.4,1092.2 1523,1093.7 1525.7,1095.1 1528.3,1096.6 1530.9,1098.1 1533.6,1099.5 1536.3,1100.9 1539.1,1101.9 1541.9,1102.9 1544.8,1103.9 1547.6,1104.9 1550.5,1105.9 1553.3,1106.9 1556.1,1107.9 1559,1108.7 1562,1109.3 1564.9,1109.9 1567.9,1110.4 1570.9,1110.9 1573.8,1111.5 1576.8,1112 1579.8,1112.6 1582.7,1113 1585.7,1113.3 1588.8,1113.4 1591.8,1113.6 1594.8,1113.7 1597.8,1113.9 1600.8,1114.1 1603.8,1114.2 1606.8,1114.4 1609.8,1114.5 1612.8,1114.6 1615.8,1114.7 1618.8,1114.7 1621.9,1114.7 1624.9,1114.7 1627.9,1114.7 1630.9,1114.7 1633.9,1114.7 1636.9,1114.7 1639.9,1114.7 1642.9,1114.7 1646,1114.7 1649,1114.7 1652,1114.7 1655,1114.7" stroke="#30dcdc"/>
<polyline points="1206.7,1140.1 1207.3,1137.1 1207.9,1134.2 1208.4,1131.2 1209,1128.2 1209.5,1125.3 1210.1,1122.3 1210.6,1119.3 1211.2,1116.4 1211.8,1113.4 1212.3,1110.4 1212.9,1107.5 1213.4,1104.5 1214,1101.5 1214.5,1098.6 1215.1,1095.6 1215.6,1092.6 1216.2,1089.7 1216.6,1086.7 1217,1083.7 1217.4,1080.7 1217.8,1077.7 1218.2,1074.7 1218.6,1071.7 1219.1,1068.8 1219.5,1065.8 1219.9,1062.8 1220.3,1059.8 1220.7,1056.8 1221.1,1053.8 1221.5,1050.8 1221.9,1047.8 1222.3,1044.8 1222.7,1041.8 1223.1,1038.9 1223.5,1035.9 1223.8,1032.9 1224.2,1029.9 1224.5,1026.9 1224.9,1023.9 1225.2,1020.9 1225.6,1017.9 1226,1014.9 1226.3,1011.9 1226.7,1008.9 1227,1005.9 1227.4,1002.9 1227.7,999.9 1228.1,996.9 1228.4,993.9 1228.8,990.9 1229.1,987.9 1229.5,984.9 1229.8,981.9 1230.2,978.9 1230.5,975.9 1230.8,972.9 1231.2,969.9 1231.5,966.9 1231.9,963.9 1232.2,960.9 1232.5,957.9 1232.9,954.9 1233.2,952 1233.6,949 1233.9,946 1234.2,943 1234.5,940 1234.8,937 1235.1,933.9 1235.4,930.9 1235.7,927.9 1236,924.9 1236.3,921.9 1236.6,918.9 1236.9,915.9 1237.2,912.9 1237.5,909.9 1237.8,906.9 1238.1,903.9 1238.4,900.9 1238.7,897.9 1238.9,894.9 1239.1,891.9 1239.3,888.9 1239.6,885.9 1239.8,882.9 1240,879.9 1240.2,876.9 1240.5,873.8 1240.7,870.8 1240.9,867.8 1241.1,864.8 1241.4,861.8 1241.6,858.8 1241.8,855.8 1242,852.8 1242.2,849.8 1242.4,846.8 1242.6,843.8 1242.8,840.7 1243,837.7 1243.2,834.7 1243.4,831.7 1243.6,828.7 1243.8,825.7 1244,822.7 1244.2,819.7 1244.3,816.7 1244.5,813.6 1244.6,810.6 1244.8,807.6 1244.9,804.6 1245.1,801.6 1245.2,798.6 1245.4,795.6 1245.5,792.6 1245.7,789.5 1245.8,786.5 1245.9,785" stroke="#e11fe0" stroke-dasharray="9,6"/>
<polyline points="1438.6,785 1438.8,788 1439,791.1 1439.3,794.1 1439.5,797.1 1439.7,800.1 1439.9,803.1 1440.1,806.1 1440.3,809.1 1440.5,812.1 1440.7,815.1 1440.9,818.1 1441.1,821.1 1441.4,824.1 1441.6,827.2 1441.8,830.2 1442,833.2 1442.2,836.2 1442.4,839.2 1442.6,842.2 1442.9,845.2 1443.1,848.2 1443.4,851.2 1443.7,854.2 1444,857.2 1444.3,860.2 1444.6,863.2 1444.9,866.2 1445.2,869.2 1445.5,872.2 1445.8,875.2 1446.1,878.2 1446.4,881.2 1446.7,884.2 1447.1,887.2 1447.4,890.2 1447.8,893.2 1448.3,896.2 1448.7,899.1 1449.2,902.1 1449.6,905.1 1450.1,908.1 1450.5,911.1 1451,914.1 1451.4,917 1451.9,920 1452.3,923 1452.8,926 1453.2,929 1453.7,931.9 1454.1,934.9 1454.7,937.9 1455.2,940.9 1455.7,943.8 1456.2,946.8 1456.7,949.8 1457.3,952.7 1457.8,955.7 1458.3,958.7 1458.8,961.7 1459.3,964.6 1459.9,967.6 1460.4,970.6 1460.9,973.5 1461.4,976.5 1462,979.5 1462.8,982.4 1463.5,985.3 1464.2,988.2 1464.9,991.2 1465.7,994.1 1466.4,997 1467.1,999.9 1467.9,1002.9 1468.6,1005.8 1469.3,1008.7 1470.1,1011.6 1470.8,1014.6 1471.6,1017.5 1472.5,1020.3 1473.6,1023.1 1474.7,1026 1475.8,1028.8 1476.9,1031.6 1478,1034.4 1479.1,1037.2 1480.2,1040 1481.3,1042.8 1482.4,1045.6 1483.6,1048.4 1484.9,1051.1 1486.4,1053.7 1488,1056.3 1489.5,1058.9 1491,1061.5 1492.6,1064.1 1494.1,1066.7 1495.6,1069.3 1497.2,1071.9 1499.9,1075.4 1502.1,1077.5 1504.2,1079.6 1506.4,1081.7 1508.6,1083.8 1510.8,1085.9 1512.9,1087.9 1516.5,1090.7 1519.1,1092.1 1521.8,1093.6 1524.4,1095.1 1527.1,1096.5 1529.7,1098 1532.3,1099.5 1535,1100.8 1537.8,1101.9 1540.7,1102.9 1543.5,1103.9 1546.4,1104.9 1549.2,1105.9 1552.1,1106.9 1554.9,1107.9 1557.8,1108.7 1560.7,1109.3 1563.7,1109.8 1566.7,1110.4 1569.6,1110.9 1572.6,1111.5 1575.6,1112 1578.5,1112.5 1581.5,1113 1584.5,1113.2 1587.5,1113.4 1590.5,1113.6 1593.6,1113.7 1596.6,1113.9 1599.6,1114 1602.6,1114.2 1605.6,1114.3 1608.6,1114.5 1611.6,1114.6 1614.6,1114.8 1617.6,1115 1620.7,1115.1 1623.7,1115.3 1626.7,1115.4" stroke="#e11fe0" stroke-dasharray="9,6"/>
<polyline points="1177.2,1154.1 1180.1,1153.3 1183,1152.5 1185.9,1151.7 1188.8,1150.9 1191.8,1150.1 1194.7,1149.3 1197.6,1148.5 1201,1146.3 1202.8,1142.2 1203.9,1139.4 1205,1136.6 1206.1,1133.8 1207.3,1131 1208.4,1128.2 1209.4,1125.3 1210.1,1122.4 1210.6,1119.4 1211.2,1116.5 1211.7,1113.5 1212.3,1110.5 1212.8,1107.6 1213.4,1104.6 1214,1101.7 1214.5,1098.7 1215.1,1095.7 1215.6,1092.8 1216.2,1089.8 1216.6,1086.8 1217.1,1083.8 1217.5,1080.9 1218,1077.9 1218.4,1074.9 1218.9,1071.9 1219.3,1068.9 1219.8,1066 1220.2,1063 1220.7,1060 1221.1,1057 1221.5,1054 1222,1051 1222.4,1048.1 1222.9,1045.1 1223.3,1042.1 1223.8,1039.1 1224.2,1036.1 1224.7,1033.2 1225.1,1030.2 1225.6,1027.2 1226,1024.2 1226.5,1021.2 1226.9,1018.3 1227.4,1015.3 1227.8,1012.3 1228.3,1009.3 1228.7,1006.3 1229.1,1003.3 1229.6,1000.4 1230,997.4 1230.5,994.4 1230.9,991.4 1231.4,988.4 1231.8,985.5 1232.3,982.5 1232.7,979.5 1233.2,976.5 1233.6,973.5 1234.1,970.6 1234.5,967.6 1235,964.6 1235.4,961.6 1235.9,958.6 1236.3,955.7 1236.9,952.7 1237.4,949.7 1238,946.8 1238.5,943.8 1239.1,940.8 1239.7,937.9 1240.2,934.9 1240.8,931.9 1241.3,929 1241.9,926 1242.4,923.1 1243,920.1 1243.6,917.1 1244.3,914.2 1244.9,911.3 1245.5,908.3 1246.1,905.4 1246.8,902.4 1247.4,899.5 1248,896.5 1248.7,893.6 1249.3,890.6 1250,887.7 1250.7,884.8 1251.5,881.8 1252.2,878.9 1252.9,876 1253.6,873.1 1254.4,870.1 1255.1,867.2 1255.8,864.3 1256.7,861.4 1257.7,858.6 1258.8,855.8 1259.9,852.9 1260.9,850.1 1262,847.3 1263,844.5 1264.1,841.6 1265.2,838.8 1266.2,836 1267.3,833.2 1268.3,830.3 1269.4,827.5 1270.4,824.7 1271.3,821.8 1272.3,819 1273.2,816.1 1274.1,813.2 1274.9,810.3 1275.6,807.4 1276.4,804.5 1277.1,801.5 1277.8,798.6 1278.6,795.7 1279.3,792.8 1280,789.8 1280.8,786.9 1281.1,785.4" stroke="#e11fe0"/>
<polyline points="1434.7,785 1434.9,788 1435.1,791 1435.3,794.1 1435.5,797.1 1435.7,800.1 1435.9,803.1 1436.1,806.1 1436.3,809.1 1436.5,812.1 1436.7,815.1 1436.9,818.1 1437.1,821.1 1437.3,824.1 1437.5,827.1 1437.7,830.1 1437.9,833.1 1438.2,836.1 1438.5,839.1 1438.8,842.1 1439.1,845.1 1439.4,848.1 1439.7,851.1 1440,854.1 1440.3,857.1 1440.6,860.1 1440.9,863.1 1441.2,866.1 1441.5,869.1 1441.7,872.1 1442,875.1 1442.4,878.1 1442.7,881.1 1443.1,884.1 1443.5,887.1 1443.8,890 1444.2,893 1444.6,896 1445,899 1445.3,902 1445.7,905 1446.1,908 1446.5,911 1446.8,914 1447.2,916.9 1447.6,919.9 1448,922.9 1448.4,925.9 1448.9,928.9 1449.3,931.9 1449.8,934.8 1450.2,937.8 1450.6,940.8 1451.1,943.8 1451.5,946.8 1452,949.7 1452.4,952.7 1452.9,955.7 1453.3,958.7 1453.8,961.7 1454.2,964.6 1454.7,967.6 1455.4,970.5 1456.1,973.5 1456.8,976.4 1457.5,979.3 1458.2,982.3 1458.8,985.2 1459.5,988.1 1460.2,991.1 1460.9,994 1461.6,996.9 1462.3,999.9 1463,1002.8 1463.8,1005.7 1464.7,1008.6 1465.6,1011.4 1466.5,1014.3 1467.4,1017.2 1468.3,1020.1 1469.3,1022.9 1470.2,1025.8 1471.1,1028.7 1472,1031.5 1473,1034.4 1474,1037.2 1475.3,1039.9 1476.5,1042.7 1477.8,1045.4 1479,1048.2 1480.3,1050.9 1481.6,1053.6 1482.8,1056.4 1484.1,1059.1 1485.4,1061.8 1486.7,1064.5 1489.3,1068.2 1491.1,1070.6 1493,1073 1494.8,1075.3 1496.7,1077.7 1498.5,1080.1 1500.4,1082.5 1502.3,1084.8 1505.7,1087.7 1508.1,1089.5 1510.6,1091.3 1513,1093.1 1515.4,1094.9 1517.8,1096.7 1521.6,1099.1 1524.4,1100.2 1527.2,1101.3 1530,1102.5 1532.8,1103.6 1535.6,1104.7 1538.4,1105.8 1541.2,1106.9 1545.5,1108 1548.5,1108.6 1551.4,1109.1 1554.4,1109.7 1557.4,1110.2 1560.3,1110.7 1563.3,1111.3 1566.3,1111.8 1569.3,1112.1 1572.3,1112.4 1575.3,1112.6 1578.3,1112.9 1581.3,1113.1 1584.3,1113.3 1587.3,1113.6 1590.3,1113.8 1593.3,1114.1 1596.3,1114.3 1599.3,1114.5 1602.3,1114.7 1605.3,1114.7 1608.3,1114.8 1611.3,1114.8 1614.3,1114.9 1617.3,1114.9 1620.4,1115 1623.4,1115 1626.4,1115.1 1629.4,1115.1 1632.4,1115.2 1635.4,1115.2 1638.4,1115.3 1641.4,1115.3 1644.5,1115.4 1647.5,1115.4 1650.5,1115.5 1653.5,1115.5 1655,1115.6" stroke="#e11fe0"/>
<polyline points="1237.9,939.5 1238.5,936.5 1239.1,933.5 1239.6,930.5 1240.2,927.6 1240.8,924.6 1241.3,921.6 1241.9,918.6 1242.4,915.6 1243,912.6 1243.6,909.6 1244.1,906.6 1244.7,903.6 1245.2,900.6 1245.8,897.6 1246.4,894.6 1246.9,891.6 1247.5,888.6 1248.1,885.6 1248.7,882.6 1249.3,879.7 1249.9,876.7 1250.5,873.7 1251.1,870.7 1251.7,867.7 1252.3,864.7 1252.9,861.7 1253.5,858.7 1254.1,855.8 1254.9,852.8 1255.8,849.9 1256.7,847 1257.6,844.1 1258.4,841.2 1259.3,838.2 1260.2,835.3 1261.4,832.5 1262.9,829.9 1264.4,827.3 1266,824.7 1267.6,822.1 1269.4,819.6 1271.3,817.2 1273.1,814.8 1275,812.4 1277,810.1 1278.9,807.8 1280.8,805.4 1282.5,802.8 1284,800.2 1285.6,797.6 1287.2,795 1288.7,792.4 1290.3,789.8 1291.9,787.1" stroke="#e01418" stroke-dasharray="9,6"/>
<polyline points="1431.3,785 1431.5,788 1431.7,791 1431.9,794.1 1432.1,797.1 1432.3,800.1 1432.5,803.1 1432.7,806.1 1432.9,809.1 1433.1,812.1 1433.3,815.1 1433.5,818.1 1433.7,821.1 1433.9,824.1 1434.1,827.1 1434.3,830.1 1434.5,833.2 1434.8,836.2 1435,839.2 1435.3,842.2 1435.5,845.2 1435.8,848.2 1436,851.2 1436.3,854.2 1436.6,857.2 1436.8,860.2 1437.1,863.2 1437.3,866.2 1437.6,869.2 1437.8,872.2 1438.1,875.2 1438.4,878.2 1438.7,881.2 1439.1,884.2 1439.5,887.2 1439.9,890.2 1440.2,893.2 1440.6,896.2 1441,899.1 1441.3,902.1 1441.7,905.1 1442.1,908.1 1442.5,911.1 1442.8,914.1 1443.2,917.1 1443.6,920.1 1444,923.1 1444.4,926 1444.9,929 1445.3,932 1445.8,935 1446.2,938 1446.7,941 1447.1,943.9 1447.6,946.9 1448,949.9 1448.4,952.9 1448.9,955.9 1449.3,958.8 1449.8,961.8 1450.2,964.8 1450.8,967.8 1451.4,970.7 1452.1,973.6 1452.8,976.6 1453.5,979.5 1454.2,982.4 1454.8,985.4 1455.5,988.3 1456.2,991.3 1456.9,994.2 1457.6,997.1 1458.3,1000.1 1459.1,1003 1459.9,1005.9 1460.7,1008.8 1461.6,1011.7 1462.4,1014.6 1463.2,1017.5 1464,1020.4 1464.9,1023.3 1465.7,1026.2 1466.5,1029 1467.4,1031.9 1468.5,1034.7 1469.7,1037.5 1470.9,1040.3 1472,1043.1 1473.2,1045.9 1474.3,1048.6 1475.5,1051.4 1476.6,1054.2 1477.8,1057 1479.2,1059.7 1480.7,1062.3 1482.2,1064.8 1483.8,1067.4 1485.3,1070 1486.9,1072.6 1488.5,1075.2 1490,1077.8 1492.6,1081.4 1494.9,1083.4 1497.2,1085.4 1499.4,1087.3 1501.7,1089.3 1504,1091.2 1506.3,1093.2 1510.2,1095.5 1512.9,1096.9 1515.5,1098.2 1518.2,1099.6 1520.9,1100.9 1523.6,1102.3 1526.4,1103.4 1529.3,1104.3 1532.2,1105.2 1535.1,1106.1 1537.9,1107 1540.8,1107.8 1543.7,1108.7 1546.6,1109.5 1549.5,1110.1 1552.5,1110.6 1555.5,1111 1558.5,1111.5 1561.5,1111.9 1564.4,1112.4 1567.4,1112.8 1570.4,1113.2 1573.4,1113.4 1576.4,1113.6 1579.4,1113.8 1582.4,1114 1585.5,1114.2 1588.5,1114.5 1591.5,1114.7 1594.5,1114.9 1597.5,1115.1 1600.5,1115.3 1603.5,1115.5 1606.5,1115.7 1609.5,1116 1612.5,1116.2 1615.5,1116.4" stroke="#e01418" stroke-dasharray="9,6"/>
<polyline points="1177.2,1154.1 1180.1,1153.3 1183,1152.5 1185.9,1151.7 1188.8,1150.9 1191.8,1150.1 1194.7,1149.3 1197.6,1148.5 1201,1146.3 1202.8,1142.2 1203.9,1139.4 1205,1136.6 1206.1,1133.8 1207.3,1131 1208.4,1128.2 1209.4,1125.3 1210.1,1122.4 1210.6,1119.4 1211.2,1116.5 1211.7,1113.5 1212.3,1110.6 1212.8,1107.6 1213.4,1104.6 1214,1101.7 1214.5,1098.7 1215.1,1095.7 1215.6,1092.8 1216.2,1089.8 1216.7,1086.8 1217.2,1083.9 1217.7,1080.9 1218.2,1077.9 1218.7,1075 1219.1,1072 1219.6,1069 1220.1,1066 1220.6,1063.1 1221.1,1060.1 1221.6,1057.1 1222.1,1054.1 1222.6,1051.2 1223.1,1048.2 1223.6,1045.2 1224.1,1042.3 1224.6,1039.3 1225.1,1036.3 1225.6,1033.3 1226.1,1030.4 1226.6,1027.4 1227.1,1024.4 1227.6,1021.4 1228.1,1018.5 1228.6,1015.5 1229.1,1012.5 1229.6,1009.6 1230.1,1006.6 1230.7,1003.6 1231.3,1000.7 1231.9,997.7 1232.5,994.8 1233.1,991.8 1233.7,988.9 1234.3,985.9 1234.9,982.9 1235.5,980 1236.1,977 1236.7,974.1 1237.3,971.1 1237.9,968.2 1238.6,965.2 1239.2,962.3 1239.8,959.4 1240.5,956.4 1241.1,953.5 1241.7,950.5 1242.4,947.6 1243,944.6 1243.7,941.7 1244.5,938.8 1245.2,935.8 1245.9,932.9 1246.7,930 1247.4,927.1 1248.1,924.1 1248.8,921.2 1249.6,918.3 1250.7,915.5 1251.9,912.7 1253.1,910 1254.3,907.2 1255.5,904.4 1256.8,901.7 1258.3,899.1 1259.8,896.5 1261.2,893.9 1262.7,891.2 1264.2,888.6 1265.6,885.9 1266.8,883.2 1268,880.4 1269.2,877.6 1270.4,874.9 1271.5,872.1 1272.5,869.2 1273.3,866.3 1274.2,863.5 1275,860.6 1275.8,857.7 1276.6,854.7 1277.2,851.8 1277.8,848.8 1278.5,845.9 1279.1,843 1279.7,840 1280.3,837 1280.8,834.1 1281.4,831.1 1281.9,828.2 1282.5,825.2 1283.1,822.2 1283.7,819.3 1284.3,816.3 1285,813.4 1285.6,810.4 1286.2,807.5 1286.7,804.5 1287.2,801.6 1287.7,798.6 1288.2,795.6 1288.7,792.6 1289.2,789.7 1289.7,786.7 1290,785.2" stroke="#e01418"/>
<polyline points="1428,785 1428.2,788 1428.4,791 1428.6,794.1 1428.8,797.1 1429,800.1 1429.2,803.1 1429.4,806.1 1429.6,809.1 1429.8,812.1 1430,815.1 1430.2,818.1 1430.4,821.1 1430.6,824.1 1430.8,827.1 1431,830.1 1431.2,833.1 1431.5,836.2 1431.8,839.2 1432.1,842.1 1432.4,845.1 1432.7,848.1 1433,851.1 1433.3,854.1 1433.6,857.1 1433.9,860.1 1434.2,863.1 1434.5,866.1 1434.8,869.1 1435.1,872.1 1435.4,875.1 1435.7,878.1 1436,881.1 1436.4,884.1 1436.8,887.1 1437.2,890.1 1437.5,893.1 1437.9,896.1 1438.3,899.1 1438.7,902.1 1439,905.1 1439.4,908 1439.8,911 1440.2,914 1440.5,917 1440.9,920 1441.3,923 1441.7,926 1442.2,929 1442.6,931.9 1443.1,934.9 1443.5,937.9 1444,940.9 1444.4,943.9 1444.9,946.8 1445.3,949.8 1445.8,952.8 1446.2,955.8 1446.7,958.8 1447.1,961.7 1447.6,964.7 1448.1,967.7 1448.7,970.6 1449.4,973.6 1450.1,976.5 1450.8,979.4 1451.5,982.4 1452.2,985.3 1452.8,988.2 1453.5,991.2 1454.2,994.1 1454.9,997.1 1455.6,1000 1456.4,1002.9 1457.2,1005.8 1458,1008.7 1458.9,1011.6 1459.7,1014.5 1460.5,1017.4 1461.3,1020.3 1462.2,1023.2 1463,1026.1 1463.8,1029 1464.7,1031.8 1465.8,1034.7 1467,1037.4 1468.1,1040.2 1469.3,1043 1470.5,1045.8 1471.6,1048.6 1472.8,1051.3 1473.9,1054.1 1475.1,1056.9 1476.5,1059.6 1478,1062.2 1479.5,1064.8 1481.1,1067.4 1482.6,1069.9 1484.2,1072.5 1485.7,1075.1 1487.3,1077.7 1489.9,1081.3 1492.1,1083.3 1494.4,1085.3 1496.7,1087.3 1499,1089.2 1501.3,1091.2 1503.6,1093.1 1507.4,1095.5 1510.1,1096.8 1512.8,1098.2 1515.5,1099.5 1518.2,1100.9 1520.9,1102.2 1523.7,1103.4 1526.5,1104.3 1529.4,1105.1 1532.3,1106 1535.2,1106.9 1538.1,1107.7 1541,1108.6 1543.9,1109.4 1546.8,1110 1549.8,1110.5 1552.8,1110.9 1555.8,1111.4 1558.7,1111.8 1561.7,1112.3 1564.7,1112.7 1567.7,1113.1 1570.7,1113.3 1573.7,1113.5 1576.7,1113.7 1579.7,1113.9 1582.7,1114.1 1585.7,1114.3 1588.7,1114.5 1591.7,1114.7 1594.7,1114.9 1597.8,1115.1 1600.8,1115.3 1603.8,1115.4 1606.8,1115.5 1609.8,1115.6 1612.8,1115.7 1615.8,1115.8 1618.8,1115.8 1621.9,1115.9 1624.9,1116 1627.9,1116.1 1630.9,1116.2 1633.9,1116.3 1636.9,1116.3 1639.9,1116.4 1642.9,1116.5 1646,1116.6 1649,1116.7 1652,1116.8 1655,1116.9" stroke="#e01418"/>
</g>
<g clip-path="url(#cpn)" fill="none" stroke-width="2.5" stroke-linejoin="round" stroke-linecap="butt">
<polyline points="1856.6,785.7 1856.8,788.7 1857.1,791.7 1857.3,794.7 1857.5,797.7 1857.7,800.8 1858,803.8 1858.2,806.8 1858.4,809.8 1858.6,812.8 1858.9,815.8 1859.1,818.8 1859.3,821.8 1859.5,824.8 1859.8,827.8 1860,830.8 1860.2,833.8 1860.4,836.8 1860.7,839.8 1860.9,842.8 1861.1,845.8 1861.3,848.8 1861.5,851.8 1861.7,854.8 1862,857.8 1862.2,860.8 1862.4,863.8 1862.6,866.8 1862.8,869.8 1863,872.8 1863.2,875.8 1863.4,878.8 1863.7,881.8 1863.9,884.8 1864.1,887.8 1864.3,890.8 1864.5,893.8 1864.8,896.8 1865,899.8 1865.2,902.8 1865.4,905.8 1865.7,908.8 1865.9,911.8 1866.1,914.8 1866.3,917.8 1866.6,920.8 1866.8,923.8 1867,926.8 1867.2,929.8 1867.5,932.8 1867.7,935.8 1868,938.8 1868.3,941.8 1868.6,944.8 1868.9,947.8 1869.2,950.8 1869.5,953.8 1869.8,956.8 1870.1,959.8 1870.4,962.8 1870.7,965.8 1871,968.8 1871.3,971.8 1871.6,974.8 1871.9,977.8 1872.3,980.7 1872.7,983.7 1873.2,986.7 1873.6,989.7 1874,992.7 1874.5,995.6 1874.9,998.6 1875.4,1001.6 1875.8,1004.6 1876.2,1007.6 1876.7,1010.5 1877.1,1013.5 1877.6,1016.5 1878.3,1019.4 1879.1,1022.3 1879.8,1025.2 1880.6,1028.1 1881.4,1031 1882.2,1033.9 1882.9,1036.9 1883.7,1039.8 1884.5,1042.7 1885.3,1045.6 1886,1048.5 1887.6,1052.7 1888.9,1055.4 1890.1,1058.2 1891.3,1060.9 1892.6,1063.7 1893.8,1066.4 1895.1,1069.1 1896.3,1071.9 1898.6,1075.8 1900.5,1078.1 1902.5,1080.3 1904.5,1082.6 1906.5,1084.8 1908.4,1087.1 1910.4,1089.4 1912.4,1091.6 1916.1,1094.2 1918.7,1095.6 1921.3,1097.1 1924,1098.6 1926.6,1100 1929.2,1101.5 1931.9,1102.9 1936,1104.6 1938.9,1105.4 1941.8,1106.3 1944.7,1107.2 1947.6,1108 1950.5,1108.9 1953.3,1109.8 1956.2,1110.5 1959.2,1111 1962.2,1111.4 1965.2,1111.9 1968.1,1112.3 1971.1,1112.8 1974.1,1113.2 1977.1,1113.6 1980.1,1113.9 1983.1,1114.1 1986.1,1114.2 1989.1,1114.4 1992.1,1114.5 1995.1,1114.7 1998.1,1114.8 2001.1,1114.9 2004.1,1115 2007.1,1115 2010.1,1115 2013.2,1115.1 2016.2,1115.1 2019.2,1115.1 2022.2,1115.2 2025.2,1115.2 2028.2,1115.2 2031.2,1115.3 2034.2,1115.3 2037.2,1115.3 2040.2,1115.4 2043.3,1115.4 2046.3,1115.4 2049.3,1115.4 2052.3,1115.5 2055.3,1115.5 2058.3,1115.5 2061.3,1115.6 2064.3,1115.6 2067.3,1115.6 2070.3,1115.7 2073.4,1115.7 2076.4,1115.7 2079.4,1115.8 2082.4,1115.8 2085.4,1115.8 2088.4,1115.9 2091.4,1115.9 2094.4,1115.9 2097.4,1116 2100.4,1116 2103.5,1116 2106.5,1116.1 2109.5,1116.1 2112.5,1116.1 2115.5,1116.2 2117,1116.2" stroke="#62c462"/>
<polyline points="1632.2,1161.5 1634.3,1159.4 1636.4,1157.2 1638.5,1155 1640.6,1152.9 1642.7,1150.7 1644.8,1148.6 1646.9,1146.4 1649.1,1144.3 1651.8,1140.8 1652.5,1137.9 1653.3,1135 1654,1132 1654.7,1129.1 1655.5,1126.2 1656.2,1123.3 1656.9,1120.3 1657.7,1117.4 1658.4,1114.5 1659.1,1111.6 1659.9,1108.6 1660.5,1105.7 1660.9,1102.7 1661.3,1099.7 1661.6,1096.7 1662,1093.7 1662.3,1090.7 1662.7,1087.7 1663.1,1084.7 1663.4,1081.8 1663.8,1078.8 1664.1,1075.8 1664.5,1072.8 1664.9,1069.8 1665.2,1066.8 1665.6,1063.8 1665.9,1060.8 1666.3,1057.8 1666.7,1054.8 1667,1051.8 1667.3,1048.8 1667.6,1045.8 1667.9,1042.8 1668.2,1039.8 1668.5,1036.8 1668.8,1033.8 1669.1,1030.8 1669.4,1027.8 1669.7,1024.8 1670,1021.8 1670.3,1018.8 1670.6,1015.8 1670.9,1012.8 1671.2,1009.8 1671.5,1006.8 1671.8,1003.8 1672.1,1000.8 1672.4,997.8 1672.7,994.8 1673,991.8 1673.2,988.8 1673.5,985.8 1673.7,982.8 1673.9,979.8 1674.2,976.8 1674.4,973.8 1674.7,970.8 1674.9,967.8 1675.2,964.8 1675.4,961.8 1675.6,958.8 1675.9,955.8 1676.1,952.8 1676.4,949.8 1676.6,946.8 1676.8,943.8 1677.1,940.7 1677.3,937.7 1677.5,934.7 1677.7,931.7 1677.8,928.7 1678,925.7 1678.2,922.7 1678.4,919.7 1678.6,916.7 1678.7,913.7 1678.9,910.7 1679.1,907.6 1679.3,904.6 1679.5,901.6 1679.6,898.6 1679.8,895.6 1680,892.6 1680.2,889.6 1680.4,886.6 1680.5,883.6 1680.7,880.6 1680.8,877.6 1681,874.5 1681.1,871.5 1681.2,868.5 1681.4,865.5 1681.5,862.5 1681.6,859.5 1681.8,856.5 1681.9,853.5 1682.1,850.4 1682.2,847.4 1682.3,844.4 1682.5,841.4 1682.6,838.4 1682.7,835.4 1682.9,832.4 1683.1,829.4 1683.2,826.4 1683.4,823.3 1683.5,820.3 1683.7,817.3 1683.9,814.3 1684,811.3 1684.2,808.3 1684.3,805.3 1684.5,802.3 1684.7,799.3 1684.8,796.3 1685,793.2 1685.1,790.2 1685.3,787.2 1685.4,785.7" stroke="#a8c0c0"/>
<polyline points="1734.4,785.8 1734.8,788.8 1735.2,791.8 1735.5,794.8 1735.9,797.8 1736.3,800.8 1736.7,803.8 1737,806.8 1737.4,809.8 1737.8,812.8 1738.2,815.8 1738.5,818.8 1738.9,821.9 1739.3,824.9 1739.7,827.9 1740.2,830.8 1740.7,833.8 1741.2,836.8 1741.8,839.8 1742.3,842.8 1742.8,845.7 1743.3,848.7 1743.8,851.7 1744.4,854.7 1744.9,857.7 1745.4,860.7 1745.9,863.6 1746.4,866.6 1747,869.6 1747.5,872.6 1748,875.6 1750.8,873.2 1751.9,870.4 1753.1,867.6 1754.2,864.8 1755.4,862 1756.5,859.2 1757.6,856.4 1758.6,853.6 1758.9,850.6 1759.3,847.6 1759.6,844.6 1759.9,841.6 1760.2,838.5 1760.6,835.5 1760.9,832.5 1761.2,829.5 1761.5,826.5 1761.8,823.5 1762,820.5 1762.2,817.5 1762.3,814.4 1762.5,811.4 1762.6,808.4 1762.8,805.4 1762.9,802.3 1763.1,799.3 1763.2,796.3 1763.4,793.3 1763.5,790.3 1763.7,787.2 1763.8,785.7" stroke="#a8c0c0"/>
<polyline points="1891,785.7 1891.2,788.8 1891.4,791.8 1891.6,794.8 1891.9,797.8 1892.1,800.8 1892.3,803.8 1892.5,806.8 1892.8,809.8 1893,812.8 1893.2,815.8 1893.4,818.8 1893.7,821.9 1893.9,824.9 1894.1,827.9 1894.3,830.9 1894.6,833.9 1894.8,836.9 1895,839.9 1895.3,842.9 1895.5,845.9 1895.8,848.9 1896.1,851.9 1896.4,854.9 1896.7,857.9 1897,860.9 1897.3,863.9 1897.6,867 1897.9,870 1898.2,873 1898.5,876 1898.8,879 1899.1,882 1899.4,885 1899.7,888 1900,891 1900.4,894 1900.8,897 1901.1,900 1901.5,903 1901.9,905.9 1902.3,908.9 1902.6,911.9 1903,914.9 1903.4,917.9 1903.8,920.9 1904.1,923.9 1904.5,926.9 1904.9,929.9 1905.3,932.9 1905.7,935.9 1906.1,938.9 1906.6,941.9 1907,944.8 1907.5,947.8 1907.9,950.8 1908.4,953.8 1908.8,956.8 1909.3,959.8 1909.7,962.8 1910.2,965.7 1910.6,968.7 1911,971.7 1911.5,974.7 1912,977.7 1912.5,980.6 1913.2,983.6 1913.9,986.5 1914.6,989.4 1915.3,992.4 1916,995.3 1916.7,998.3 1917.4,1001.2 1918.1,1004.1 1918.8,1007.1 1919.4,1010 1920.1,1012.9 1920.9,1015.9 1921.7,1018.8 1922.7,1021.6 1923.8,1024.4 1924.8,1027.3 1925.8,1030.1 1926.8,1033 1927.8,1035.8 1928.8,1038.7 1929.9,1041.5 1930.9,1044.3 1931.9,1047.2 1933.2,1049.9 1934.6,1052.5 1936.1,1055.2 1937.5,1057.9 1938.9,1060.5 1940.4,1063.2 1941.8,1065.8 1943.3,1068.5 1944.7,1071.1 1946.2,1073.7 1948.9,1077.3 1950.9,1079.6 1952.9,1081.9 1954.9,1084.1 1956.8,1086.4 1958.8,1088.7 1960.8,1090.9 1963,1093.1 1965.3,1094.9 1967.8,1096.7 1970.2,1098.5 1972.6,1100.3 1975,1102.2 1977.4,1104 1979.9,1105.7 1984,1107.5 1986.8,1108.6 1989.6,1109.7 1992.4,1110.8 1995.2,1111.9 1998.1,1113 2002.4,1114 2005.4,1114.3 2008.4,1114.6 2011.4,1114.9 2014.4,1115.2 2017.4,1115.5 2020.4,1115.8 2023.4,1116 2026.5,1116 2029.5,1116 2032.5,1116 2035.5,1116 2038.5,1116 2041.6,1116 2044.6,1116 2047.6,1116 2050.6,1116 2053.6,1116 2056.6,1116 2059.7,1116 2062.7,1116 2065.7,1116 2068.7,1115.9 2071.7,1115.9 2074.8,1115.8 2077.8,1115.8 2080.8,1115.7 2083.8,1115.7 2086.8,1115.6 2089.8,1115.6 2092.9,1115.5 2095.9,1115.5 2098.9,1115.4 2101.9,1115.4 2104.9,1115.3 2107.9,1115.3 2111,1115.2 2114,1115.1 2117,1115.1" stroke="#a8c0c0"/>
<polyline points="1632.2,1161.5 1634.3,1159.4 1636.4,1157.2 1638.5,1155 1640.6,1152.9 1642.7,1150.7 1644.8,1148.6 1646.9,1146.4 1649.1,1144.3 1651.1,1142.1 1652.5,1137.9 1653.3,1134.9 1654,1132 1654.7,1129.1 1655.5,1126.2 1656.2,1123.2 1656.9,1120.3 1657.7,1117.4 1658.4,1114.5 1659.1,1111.5 1659.9,1108.6 1660.5,1105.7 1660.9,1102.7 1661.3,1099.7 1661.6,1096.7 1662,1093.7 1662.3,1090.7 1662.7,1087.7 1663.1,1084.7 1663.4,1081.7 1663.8,1078.7 1664.1,1075.7 1664.5,1072.8 1664.9,1069.8 1665.2,1066.8 1665.6,1063.8 1665.9,1060.8 1666.3,1057.8 1666.7,1054.8 1667,1051.8 1667.3,1048.8 1667.6,1045.8 1667.9,1042.8 1668.2,1039.8 1668.5,1036.8 1668.8,1033.8 1669.1,1030.8 1669.4,1027.8 1669.7,1024.8 1670,1021.8 1670.3,1018.8 1670.6,1015.8 1670.9,1012.8 1671.2,1009.8 1671.5,1006.8 1671.8,1003.8 1672.1,1000.8 1672.4,997.8 1672.7,994.8 1673,991.8 1673.2,988.8 1673.5,985.8 1673.7,982.8 1674,979.8 1674.2,976.8 1674.4,973.8 1674.7,970.7 1674.9,967.7 1675.2,964.7 1675.4,961.7 1675.6,958.7 1675.9,955.7 1676.1,952.7 1676.4,949.7 1676.6,946.7 1676.8,943.7 1677.1,940.7 1677.3,937.7 1677.5,934.7 1677.7,931.7 1677.8,928.7 1678,925.6 1678.2,922.6 1678.4,919.6 1678.6,916.6 1678.7,913.6 1678.9,910.6 1679.1,907.6 1679.3,904.6 1679.5,901.6 1679.6,898.6 1679.8,895.5 1680,892.5 1680.2,889.5 1680.4,886.5 1680.5,883.5 1680.7,880.5 1681,877.5 1681.2,874.5 1681.4,871.5 1681.6,868.5 1681.8,865.5 1682,862.4 1682.2,859.4 1682.4,856.4 1682.6,853.4 1682.8,850.4 1683,847.4 1683.2,844.4 1683.4,841.4 1683.6,838.4 1683.8,835.4 1684,832.4 1684.2,829.4 1684.4,826.3 1684.6,823.3 1684.8,820.3 1685,817.3 1685.2,814.3 1685.4,811.3 1685.6,808.3 1685.8,805.3 1686,802.3 1686.2,799.3 1686.4,796.3 1686.6,793.3 1686.8,790.2 1687,787.2 1687.1,785.7" stroke="#f0b41e"/>
<polyline points="1902.1,785.7 1902.3,788.8 1902.6,791.8 1902.8,794.8 1903,797.8 1903.2,800.8 1903.5,803.8 1903.7,806.8 1903.9,809.8 1904.1,812.8 1904.4,815.8 1904.6,818.9 1904.8,821.9 1905,824.9 1905.3,827.9 1905.5,830.9 1905.7,833.9 1905.9,836.9 1906.2,839.9 1906.4,842.9 1906.7,845.9 1907,848.9 1907.4,851.9 1907.8,854.9 1908.1,857.9 1908.5,860.9 1908.9,863.9 1909.3,866.9 1909.6,869.9 1910,872.9 1910.4,875.9 1910.8,878.9 1911.1,881.9 1911.5,884.9 1911.9,887.9 1912.3,890.9 1912.7,893.8 1913.2,896.8 1913.6,899.8 1914.1,902.8 1914.5,905.8 1915,908.8 1915.4,911.8 1915.9,914.7 1916.3,917.7 1916.8,920.7 1917.2,923.7 1917.7,926.7 1918.1,929.7 1918.6,932.6 1919,935.6 1919.6,938.6 1920.1,941.6 1920.6,944.5 1921.1,947.5 1921.6,950.5 1922.2,953.5 1922.7,956.4 1923.2,959.4 1923.7,962.4 1924.2,965.4 1924.8,968.3 1925.3,971.3 1925.8,974.3 1926.3,977.2 1926.9,980.2 1927.7,983.1 1928.4,986.1 1929.1,989 1929.9,991.9 1930.6,994.8 1931.3,997.8 1932.1,1000.7 1932.8,1003.6 1933.5,1006.6 1934.3,1009.5 1935,1012.4 1935.7,1015.3 1936.5,1018.3 1937.4,1021.1 1938.4,1024 1939.5,1026.8 1940.5,1029.6 1941.6,1032.5 1942.6,1035.3 1943.6,1038.1 1944.7,1041 1945.7,1043.8 1946.8,1046.6 1947.8,1049.5 1948.9,1052.3 1950.3,1054.9 1951.8,1057.5 1953.4,1060.1 1954.9,1062.7 1956.4,1065.4 1957.9,1068 1959.4,1070.6 1961,1073.2 1962.5,1075.8 1964.1,1078.4 1967,1081.7 1969.1,1083.9 1971.3,1086 1973.4,1088.2 1975.5,1090.3 1977.7,1092.4 1979.8,1094.6 1982,1096.6 1985.8,1099 1988.4,1100.5 1991.1,1101.9 1993.7,1103.4 1996.4,1104.9 1999,1106.3 2001.7,1107.7 2005.9,1109.1 2008.9,1109.8 2011.8,1110.6 2014.7,1111.3 2017.7,1112 2020.6,1112.8 2023.5,1113.5 2026.5,1113.9 2029.5,1114.1 2032.5,1114.2 2035.5,1114.4 2038.6,1114.6 2041.6,1114.8 2044.6,1115 2047.6,1115.1 2050.6,1115.3 2053.6,1115.4 2056.6,1115.4 2059.7,1115.5 2062.7,1115.5 2065.7,1115.5 2068.7,1115.6 2071.7,1115.6 2074.7,1115.7 2077.8,1115.7 2080.8,1115.7 2083.8,1115.8 2086.8,1115.8 2089.8,1115.9 2092.9,1115.9 2095.9,1115.9 2098.9,1116 2101.9,1116 2104.9,1116.1 2107.9,1116.1 2111,1116.1 2114,1116.2 2117,1116.2" stroke="#f0b41e"/>
<polyline points="1630.5,1160.9 1632.7,1158.9 1634.9,1156.8 1637.2,1154.8 1639.4,1152.8 1641.6,1150.7 1643.9,1148.7 1646.1,1146.7 1648.3,1144.6 1650.6,1142.6 1652.3,1138.6 1653,1135.7 1653.7,1132.7 1654.4,1129.8 1655.1,1126.8 1655.8,1123.9 1656.5,1121 1657.2,1118 1657.8,1115.1 1658.5,1112.2 1659.2,1109.2 1659.9,1106.3 1660.5,1103.3 1660.9,1100.3 1661.3,1097.3 1661.6,1094.3 1661.9,1091.3 1662.3,1088.3 1662.6,1085.3 1663,1082.3 1663.3,1079.3 1663.7,1076.3 1664,1073.4 1664.4,1070.4 1664.7,1067.4 1665.1,1064.4 1665.4,1061.4 1665.8,1058.4 1666.1,1055.4 1666.4,1052.4 1666.8,1049.4 1667.1,1046.4 1667.4,1043.4 1667.6,1040.3 1667.9,1037.3 1668.1,1034.3 1668.4,1031.3 1668.6,1028.3 1668.8,1025.3 1669.1,1022.3 1669.3,1019.3 1669.6,1016.3 1669.8,1013.3 1670,1010.3 1670.3,1007.3 1670.5,1004.2 1670.8,1001.2 1671,998.2 1671.2,995.2 1671.5,992.2 1671.7,989.2 1671.9,986.2 1672.1,983.2 1672.3,980.2 1672.4,977.1 1672.6,974.1 1672.8,971.1 1673,968.1 1673.2,965.1 1673.3,962.1 1673.5,959.1 1673.7,956.1 1673.9,953 1674.1,950 1674.2,947 1674.4,944 1674.6,941 1674.8,938 1675,935 1675.1,931.9 1675.2,928.9 1675.3,925.9 1675.5,922.9 1675.6,919.9 1675.7,916.9 1675.8,913.9 1675.9,910.8 1676.1,907.8 1676.2,904.8 1676.3,901.8 1676.4,898.8 1676.5,895.8 1676.7,892.7 1676.8,889.7 1676.9,886.7 1677,883.7 1677.1,880.7 1677.3,877.7 1677.4,874.6 1677.6,871.6 1677.7,868.6 1677.9,865.6 1678,862.6 1678.2,859.6 1678.3,856.6 1678.5,853.5 1678.6,850.5 1678.8,847.5 1678.9,844.5 1679.1,841.5 1679.2,838.5 1679.4,835.5 1679.5,832.4 1679.7,829.4 1679.9,826.4 1680,823.4 1680.2,820.4 1680.3,817.4 1680.5,814.4 1680.7,811.3 1680.8,808.3 1681,805.3 1681.2,802.3 1681.3,799.3 1681.5,796.3 1681.6,793.3 1681.8,790.2 1682,787.2 1682,785.7" stroke="#6a18dc"/>
<polyline points="1921,785.7 1921.3,788.8 1921.5,791.8 1921.7,794.8 1921.9,797.8 1922.2,800.8 1922.4,803.8 1922.6,806.8 1922.9,809.8 1923.1,812.8 1923.3,815.8 1923.5,818.8 1923.8,821.9 1924,824.9 1924.2,827.9 1924.4,830.9 1924.7,833.9 1924.9,836.9 1925.1,839.9 1925.3,842.9 1925.6,845.9 1926,848.9 1926.3,851.9 1926.7,854.9 1927.1,857.9 1927.5,860.9 1927.8,863.9 1928.2,866.9 1928.6,869.9 1929,872.9 1929.3,875.9 1929.7,878.9 1930.1,881.9 1930.5,884.9 1930.8,887.9 1931.2,890.8 1931.7,893.8 1932.1,896.8 1932.6,899.8 1933,902.8 1933.5,905.8 1933.9,908.8 1934.4,911.7 1934.8,914.7 1935.3,917.7 1935.7,920.7 1936.2,923.7 1936.6,926.7 1937.1,929.6 1937.5,932.6 1938,935.6 1938.6,938.6 1939.2,941.5 1939.7,944.5 1940.3,947.5 1940.9,950.4 1941.5,953.4 1942,956.3 1942.6,959.3 1943.2,962.3 1943.8,965.2 1944.3,968.2 1944.9,971.2 1945.5,974.1 1946.2,977 1947,980 1947.8,982.9 1948.6,985.8 1949.3,988.7 1950.1,991.6 1950.9,994.5 1951.6,997.5 1952.4,1000.4 1953.2,1003.3 1954,1006.2 1954.7,1009.1 1955.6,1012 1956.6,1014.9 1957.7,1017.7 1958.8,1020.5 1959.9,1023.3 1961.1,1026.1 1962.2,1028.9 1963.3,1031.7 1964.4,1034.5 1965.5,1037.3 1966.7,1040.1 1967.8,1042.9 1969,1045.7 1970.3,1048.4 1971.8,1051 1973.2,1053.7 1974.6,1056.3 1976,1059 1977.5,1061.6 1978.9,1064.3 1980.3,1067 1981.8,1069.6 1983.2,1072.3 1984.8,1074.8 1986.7,1077.2 1988.7,1079.4 1990.7,1081.7 1992.7,1083.9 1994.7,1086.2 1996.7,1088.4 1998.7,1090.7 2000.7,1092.9 2004.1,1095.9 2006.6,1097.6 2009.1,1099.3 2011.6,1101 2014.1,1102.6 2016.6,1104.3 2019.1,1106 2021.7,1107.6 2025.9,1109 2028.8,1109.7 2031.8,1110.3 2034.7,1111 2037.7,1111.7 2040.6,1112.3 2043.6,1113 2046.5,1113.6 2049.5,1114.1 2052.5,1114.5 2055.5,1114.9 2058.5,1115.2 2061.5,1115.6 2064.5,1116 2067.4,1116.4 2070.4,1116.7 2073.4,1117.1 2076.4,1117.5 2079.4,1117.8 2082.4,1118.2 2085.4,1118.5 2088.4,1118.9 2091.4,1119.2 2094.4,1119.6 2097.4,1119.9 2100.4,1120.3 2103.4,1120.6 2106.4,1121 2109.4,1121.4 2112.4,1121.7 2115.4,1122.1 2116.9,1122.2" stroke="#6a18dc"/>
<polyline points="1872.1,785.7 1872.4,788.7 1872.6,791.7 1872.8,794.7 1873.1,797.8 1873.3,800.8 1873.6,803.8 1873.8,806.8 1874.1,809.8 1874.3,812.8 1874.5,815.8 1874.8,818.8 1875,821.8 1875.3,824.8 1875.5,827.8 1875.7,830.8 1876,833.8 1876.4,836.7 1876.8,839.7 1877.2,842.7 1877.6,845.7 1877.9,848.7 1878.2,851.7 1878.5,854.7 1878.8,857.7 1879.1,860.7 1879.4,863.7 1879.7,866.6 1880,869.6 1880.3,872.6 1880.6,875.6 1880.9,878.6 1881.2,881.6 1881.5,884.6 1881.8,887.6 1882.2,890.6 1882.5,893.6 1882.9,896.6 1883.3,899.6 1883.6,902.6 1884,905.5 1884.4,908.5 1884.8,911.5 1885.1,914.5 1885.5,917.5 1885.9,920.5 1886.3,923.5 1886.6,926.5 1887,929.4 1887.4,932.4 1887.8,935.4 1888.1,938.4 1888.5,941.4 1888.9,944.4 1889.2,947.4 1889.6,950.3 1890,953.3 1890.4,956.3 1890.7,959.3 1891.1,962.3 1891.5,965.3 1891.9,968.3 1892.2,971.3 1892.6,974.2 1893,977.2 1893.5,980.2 1894.1,983.1 1894.7,986.1 1895.3,989 1895.9,992 1896.5,994.9 1897.1,997.9 1897.7,1000.8 1898.3,1003.8 1898.9,1006.7 1899.5,1009.7 1900.1,1012.6 1900.7,1015.6 1901.5,1018.5 1902.4,1021.4 1903.2,1024.3 1904.1,1027.1 1904.9,1030 1905.8,1032.9 1906.7,1035.8 1907.5,1038.7 1908.4,1041.6 1909.3,1044.4 1910.1,1047.3 1911.1,1050.2 1912.4,1052.9 1913.9,1055.5 1915.3,1058.1 1916.8,1060.8 1918.2,1063.4 1919.6,1066.1 1921.1,1068.7 1922.5,1071.4 1924,1074 1926.8,1077.5 1928.8,1079.8 1930.7,1082 1932.7,1084.3 1934.7,1086.6 1936.7,1088.8 1938.7,1091.1 1942.1,1093.9 1944.7,1095.5 1947.2,1097.1 1949.8,1098.7 1952.3,1100.3 1954.9,1101.9 1958.8,1104 1961.7,1104.9 1964.6,1105.8 1967.5,1106.7 1970.4,1107.5 1973.2,1108.4 1976.1,1109.3 1979,1110.1 1981.9,1110.7 1984.9,1111.2 1987.9,1111.6 1990.9,1112.1 1993.9,1112.5 1996.8,1113 1999.8,1113.4 2002.8,1113.8 2005.8,1114.1 2008.8,1114.3 2011.8,1114.6 2014.8,1114.8 2017.8,1115.1 2020.8,1115.3 2023.8,1115.6 2026.8,1115.8 2029.8,1116 2032.8,1116.1 2035.8,1116.2 2038.8,1116.3 2041.8,1116.4 2044.8,1116.5 2047.8,1116.6 2050.8,1116.7 2053.9,1116.8 2056.9,1116.9 2059.9,1117 2062.9,1117.1 2065.9,1116.9 2068.9,1116.8 2071.9,1116.6 2074.9,1116.4 2077.9,1116.3 2080.9,1116.1 2083.9,1115.9 2086.9,1115.8 2089.9,1115.6 2092.9,1115.4 2095.9,1115.2 2098.9,1115.1 2101.9,1114.9 2105,1114.7 2108,1114.6 2111,1114.4 2114,1114.2 2117,1114.1" stroke="#e01418"/>
<polyline points="1625.5,1150.1 1628.5,1150.1 1631.5,1150.1 1634.5,1150.1 1637.5,1150.1 1640.5,1150.1 1644.3,1148.4 1646.4,1146.2 1648.5,1144.1 1650.6,1141.9 1652.4,1137.9 1653.1,1135 1653.8,1132 1654.6,1129.1 1655.3,1126.2 1656,1123.3 1656.7,1120.4 1657.5,1117.4 1658.2,1114.5 1658.9,1111.6 1659.7,1108.7 1660.4,1105.7 1661,1102.8 1661.5,1099.8 1662,1096.9 1662.6,1093.9 1663.1,1090.9 1663.7,1088 1664.2,1085 1664.7,1082 1665.3,1079.1 1665.8,1076.1 1666.4,1073.1 1666.9,1070.2 1667.4,1067.2 1668,1064.3 1668.5,1061.3 1669.1,1058.3 1669.5,1055.3 1669.9,1052.4 1670.3,1049.4 1670.7,1046.4 1671,1043.4 1671.4,1040.4 1671.8,1037.4 1672.2,1034.4 1672.5,1031.4 1672.9,1028.4 1673.3,1025.5 1673.7,1022.5 1674,1019.5 1674.4,1016.5 1674.8,1013.5 1675.1,1010.5 1675.5,1007.5 1675.9,1004.5 1676.2,1001.5 1676.6,998.5 1676.9,995.6 1677.3,992.6 1677.7,989.6 1678,986.6 1678.4,983.6 1678.7,980.6 1679.1,977.6 1679.4,974.6 1679.8,971.6 1680.2,968.6 1680.5,965.6 1680.9,962.6 1681.2,959.7 1681.6,956.7 1682,953.7 1682.3,950.7 1682.7,947.7 1683.1,944.7 1683.5,941.7 1683.8,938.7 1684.2,935.7 1684.6,932.7 1685,929.8 1685.3,926.8 1685.7,923.8 1686.1,920.8 1686.5,917.8 1686.8,914.8 1687.2,911.8 1687.6,908.8 1688,905.8 1688.3,902.9 1688.7,899.9 1689.1,896.9 1689.4,893.9 1689.8,890.9 1690.2,887.9 1690.6,884.9 1691.5,882 1692.4,879.2 1693.4,876.3 1694.3,873.5 1695.3,870.6 1696.2,867.8 1697.2,864.9 1698.1,862 1699.1,859.2 1700,856.3 1703.1,858 1705,860.4 1706.8,862.8 1708.6,865.2 1710.4,867.6 1711.7,871.9 1712.5,874.8 1713.3,877.7 1714.1,880.6 1714.9,883.5 1715.7,886.4 1716.5,889.3 1717.3,892.2 1718.1,895.1 1718.9,898 1719.7,900.9 1720.4,903.9 1721.1,906.8 1721.8,909.7 1722.5,912.7 1723.2,915.6 1723.9,918.5 1724.6,921.5 1725.3,924.4 1726,927.3 1726.7,930.2 1727.4,933.2 1728.1,936.1 1728.7,939 1729.4,942 1730.1,944.9 1730.8,947.8 1731.5,950.8 1732.2,953.7 1732.9,956.6 1733.6,959.6 1734.3,962.5 1735,965.4 1735.7,968.4 1736.3,971.3 1737,974.2 1737.7,977.2 1738.4,980.1 1741,983.8 1742.8,986.2 1744.6,988.6 1746.4,991 1748.9,993 1750.8,988.9 1752,986.1 1753.3,983.4 1754.5,980.6 1755.7,977.9 1757,975.1 1758.2,972.4 1759.1,968 1759.5,965 1760,962 1760.4,959.1 1760.8,956.1 1761.3,953.1 1761.7,950.1 1762.2,947.1 1762.6,944.2 1763,941.2 1763.5,938.2 1763.9,935.2 1764.3,932.2 1764.6,929.2 1765,926.2 1765.3,923.2 1765.6,920.2 1766,917.3 1766.3,914.3 1766.6,911.3 1767,908.3 1767.3,905.3 1767.6,902.3 1768,899.3 1768.3,896.3 1768.6,893.3 1768.8,890.3 1769,887.3 1769.1,884.3 1769.3,881.3 1769.5,878.3 1769.7,875.2 1769.8,872.2 1770,869.2 1770.2,866.2 1770.4,863.2 1770.6,860.2 1770.7,857.2 1770.9,854.2 1771.1,851.2 1771.3,848.2 1771.4,845.2 1771.6,842.2 1771.8,839.2 1772,836.2 1772.1,833.1 1772.3,830.1 1772.5,827.1 1772.7,824.1 1772.9,821.1 1773,818.1 1773.2,815.1 1773.4,812.1 1773.6,809.1 1773.8,806.1 1774,803.1 1774.2,800.1 1774.3,797.1 1774.5,794 1774.7,791 1774.9,788 1775.1,785" stroke="#e01418"/>
<polyline points="1625.5,1150.1 1628.5,1150.1 1631.5,1150.1 1634.5,1150.1 1637.5,1150.1 1640.5,1150.1 1643.5,1150.1 1647.9,1149.3 1650.8,1148.5 1654.7,1146.5 1656.6,1144.2 1658.5,1141.8 1660.3,1139.5 1662.2,1137.1 1664.2,1133.1 1665.5,1130.4 1666.7,1127.6 1667.9,1124.9 1669.1,1122.1 1670.3,1119.4 1671.6,1116.6 1672.6,1113.8 1673.6,1111 1674.7,1108.1 1675.7,1105.3 1676.7,1102.5 1677.8,1099.7 1678.8,1096.8 1679.8,1094 1680.9,1091.2 1681.9,1088.4 1683,1085.6 1684.1,1082.7 1685.2,1079.9 1686.3,1077.1 1687.3,1074.3 1688.4,1071.5 1689.5,1068.7 1690.6,1065.9 1691.7,1063.1 1692.9,1060.3 1694.1,1057.6 1695.3,1054.8 1696.5,1052.1 1697.8,1049.3 1699,1046.6 1700.2,1043.8 1702.6,1040 1704.2,1037.5 1705.9,1035 1707.6,1032.5 1710.5,1029.2 1714.6,1027.5 1717.4,1026.4 1721.7,1025.4 1726,1026.4 1728.9,1027.2 1732.9,1029.3 1735.5,1030.8 1738.1,1032.4 1740.6,1033.9 1743.2,1035.5 1745.8,1037.1 1748.3,1038.7 1752.6,1039.6 1755.6,1039.6 1759.4,1038.3 1761.2,1035.8 1762.9,1033.3 1764.6,1030.9 1766.3,1028.4 1768,1025.9 1769.2,1021.6 1769.8,1018.7 1770.3,1015.7 1770.9,1012.8 1771.4,1009.8 1771.9,1006.8 1772.5,1003.9 1773,1000.9 1773.6,998 1774.1,995 1774.7,992 1775.2,989.1 1775.8,986.1 1776.3,983.2 1776.6,980.2 1776.9,977.2 1777.2,974.2 1777.5,971.2 1777.8,968.2 1778.1,965.2 1778.4,962.2 1778.7,959.2 1779,956.2 1779.3,953.2 1779.6,950.2 1779.9,947.2 1780.2,944.2 1780.5,941.2 1780.8,938.2 1781,935.2 1781.3,932.2 1781.5,929.2 1781.7,926.2 1781.9,923.2 1782.1,920.2 1782.3,917.2 1782.5,914.2 1782.7,911.2 1782.9,908.2 1783.1,905.2 1783.3,902.2 1783.5,899.2 1783.7,896.2 1783.9,893.2 1784.1,890.2 1784.3,887.2 1784.4,884.2 1784.6,881.2 1784.8,878.2 1784.9,875.2 1785.1,872.2 1785.2,869.2 1785.4,866.1 1785.5,863.1 1785.7,860.1 1785.9,857.1 1786,854.1 1786.2,851.1 1786.3,848.1 1786.5,845.1 1786.6,842.1 1786.8,839.1 1786.9,836.1 1787.1,833.1 1787.3,830.1 1787.5,827.1 1787.7,824.1 1787.9,821.1 1788.1,818.1 1788.3,815.1 1788.5,812.1 1788.7,809.1 1788.9,806.1 1789.1,803.1 1789.3,800 1789.5,797 1789.7,794 1789.9,791 1790.1,788 1790.3,785" stroke="#62c462"/>
<polyline points="1625.5,1150.1 1628.5,1150.1 1631.5,1150.1 1634.5,1150.1 1637.5,1150.1 1640.5,1150.1 1643.5,1150.1 1647.1,1147.8 1649.2,1145.7 1651.9,1142.2 1652.9,1139.3 1653.8,1136.5 1654.8,1133.6 1655.7,1130.8 1656.7,1127.9 1657.6,1125 1658.6,1122.2 1659.5,1119.3 1660.5,1116.5 1661.7,1113.7 1662.9,1111 1664.2,1108.2 1665.4,1105.5 1666.6,1102.7 1667.8,1100 1669.1,1097.2 1670.4,1094.5 1671.7,1091.8 1673.1,1089.1 1674.4,1086.4 1675.8,1083.7 1677.1,1081 1678.4,1078.3 1679.8,1075.6 1681.3,1073.1 1683.1,1070.6 1684.8,1068.1 1686.6,1065.7 1688.3,1063.2 1690.1,1060.8 1693.1,1057.5 1695.5,1055.7 1697.9,1053.9 1701.7,1052.1 1706.1,1052.9 1709.1,1053.5 1713.2,1055.1 1715.6,1056.9 1718,1058.7 1720.4,1060.5 1722.8,1062.3 1725.2,1064.1 1727.6,1065.9 1730,1067.7 1732.5,1069.6 1734.9,1071.4 1737.3,1073.2 1739.8,1074.8 1742.4,1076.3 1745.1,1077.7 1749.1,1079.5 1753.5,1078.6 1756.4,1077.9 1759.8,1075.5 1761.5,1073 1763.2,1070.5 1764.9,1068 1766.5,1065.5 1768.2,1063 1770.1,1059 1770.9,1056.1 1771.6,1053.1 1772.3,1050.2 1773.1,1047.3 1773.8,1044.4 1774.5,1041.4 1775.3,1038.5 1776,1035.6 1776.6,1032.7 1777,1029.7 1777.5,1026.7 1777.9,1023.7 1778.3,1020.7 1778.8,1017.8 1779.2,1014.8 1779.7,1011.8 1780.1,1008.8 1780.5,1005.8 1781,1002.9 1781.4,999.9 1781.8,996.9 1782.1,993.9 1782.4,990.9 1782.6,987.9 1782.9,984.9 1783.1,981.9 1783.4,978.9 1783.6,975.9 1783.9,972.9 1784.1,969.9 1784.4,966.9 1784.6,963.9 1784.9,960.9 1785.1,957.9 1785.4,954.9 1785.5,951.9 1785.7,948.9 1785.8,945.9 1786,942.9 1786.1,939.9 1786.3,936.8 1786.4,933.8 1786.6,930.8 1786.7,927.8 1786.9,924.8 1787,921.8 1787.2,918.8 1787.3,915.8 1787.5,912.8 1787.6,909.8 1787.8,906.8 1787.9,903.8 1788.1,900.8 1788.2,897.7 1788.4,894.7 1788.5,891.7 1788.7,888.7 1788.8,885.7 1789,882.7 1789.1,879.7 1789.3,876.7 1789.4,873.7 1789.6,870.7 1789.7,867.7 1789.9,864.7 1790.1,861.7 1790.3,858.7 1790.5,855.6 1790.7,852.6 1790.9,849.6 1791.1,846.6 1791.3,843.6 1791.5,840.6 1791.7,837.6 1791.9,834.6 1792.1,831.6 1792.3,828.6 1792.5,825.6 1792.7,822.6 1792.9,819.6 1793.1,816.6 1793.3,813.6 1793.5,810.6 1793.7,807.6 1793.9,804.6 1794.1,801.6 1794.3,798.6 1794.5,795.6 1794.7,792.5 1794.9,789.5 1795.1,786.5 1795.2,785" stroke="#000000" stroke-dasharray="9,6"/>
<polyline points="1844.7,785 1844.9,788 1845,791 1845.2,794 1845.3,797.1 1845.5,800.1 1845.6,803.1 1845.8,806.1 1845.9,809.1 1846.1,812.1 1846.2,815.1 1846.4,818.1 1846.5,821.1 1846.7,824.1 1846.8,827.2 1847,830.2 1847.1,833.2 1847.3,836.2 1847.4,839.2 1847.6,842.2 1847.8,845.2 1848,848.2 1848.2,851.2 1848.4,854.2 1848.6,857.2 1848.9,860.2 1849.1,863.2 1849.3,866.3 1849.6,869.3 1849.8,872.3 1850,875.3 1850.2,878.3 1850.5,881.3 1850.7,884.3 1850.9,887.3 1851.1,890.3 1851.4,893.3 1851.6,896.3 1851.8,899.3 1852,902.3 1852.3,905.3 1852.5,908.3 1852.7,911.3 1852.9,914.3 1853.2,917.3 1853.4,920.4 1853.6,923.4 1853.8,926.4 1854.1,929.4 1854.3,932.4 1854.5,935.4 1854.8,938.4 1855,941.4 1855.3,944.4 1855.5,947.4 1855.8,950.4 1856,953.4 1856.3,956.4 1856.5,959.4 1856.8,962.4 1857,965.4 1857.3,968.4 1857.5,971.4 1857.9,974.4 1858.6,977.3 1859.3,980.3 1860,983.2 1860.7,986.1 1861.4,989.1 1862,992 1862.6,995 1863,997.9 1863.5,1000.9 1864,1003.9 1864.5,1006.9 1865,1009.8 1865.5,1012.8 1866,1015.8 1866.6,1018.7 1867.3,1021.7 1868,1024.6 1868.7,1027.5 1869.5,1030.4 1870.2,1033.4 1870.9,1036.3 1871.7,1039.2 1872.4,1042.1 1873.2,1045 1874.1,1047.9 1875.2,1050.7 1876.2,1053.6 1877.2,1056.4 1878.3,1059.2 1879.3,1062.1 1880.3,1064.9 1881.4,1067.7 1883.4,1071.7 1885,1074.3 1886.6,1076.8 1888.2,1079.4 1889.8,1082 1891.4,1084.5 1894.1,1088.1 1896.3,1090.1 1898.6,1092 1900.9,1093.9 1903.3,1095.9 1905.6,1097.7 1909.6,1099.8 1912.4,1100.9 1915.2,1102 1918,1103.2 1920.8,1104.3 1923.6,1105.4 1926.4,1106.5 1929.2,1107.5 1932.1,1108.2 1935.1,1108.8 1938,1109.4 1941,1109.9 1943.9,1110.5 1946.9,1111.1 1949.9,1111.7 1952.8,1112.1 1955.8,1112.4 1958.8,1112.6 1961.9,1112.8 1964.9,1113.1 1967.9,1113.3 1970.9,1113.6 1973.9,1113.8 1976.9,1113.9 1979.9,1114 1982.9,1114.1 1985.9,1114.3 1988.9,1114.4 1991.9,1114.5 1994.9,1114.6 1998,1114.7 2001,1114.7 2004,1114.8 2007,1114.8 2010,1114.9 2013,1114.9 2016,1115 2019.1,1115 2022.1,1115 2025.1,1115.1 2028.1,1115.1 2031.1,1115.2 2034.1,1115.2 2037.1,1115.3 2040.1,1115.3 2043.2,1115.3 2046.2,1115.3 2049.2,1115.3 2052.2,1115.3 2055.2,1115.3 2058.2,1115.3 2061.2,1115.3 2064.3,1115.3 2067.3,1115.3 2070.3,1115.3 2073.3,1115.3 2076.3,1115.3 2079.3,1115.3 2082.3,1115.3 2085.4,1115.3 2088.4,1115.3 2091.4,1115.3 2094.4,1115.3 2097.4,1115.3 2100.4,1115.3 2103.4,1115.3 2106.5,1115.3 2109.5,1115.3 2112.5,1115.3 2115.5,1115.3 2117,1115.3" stroke="#000000" stroke-dasharray="9,6"/>
</g>
<g clip-path="url(#cpo)" fill="none" stroke-width="2.5" stroke-linejoin="round" stroke-linecap="butt">
<polyline points="1394.4,1135.4 1394.5,1138.4 1394.6,1141.4 1394.7,1144.4 1394.8,1147.5 1394.9,1150.5 1395,1153.5 1395.1,1156.5 1395.2,1159.5 1395.3,1162.5 1395.4,1165.5 1395.5,1168.6 1395.6,1171.6 1395.7,1174.6 1395.8,1177.6 1395.9,1180.6 1396,1183.6 1396.1,1186.6 1396.2,1189.7 1396.3,1192.7 1396.4,1195.7 1396.5,1198.7 1396.6,1201.7 1396.7,1204.7 1396.8,1207.7 1396.9,1210.7 1397,1213.8 1397.1,1216.8 1397.2,1219.8 1397.3,1222.8 1397.4,1225.8 1397.5,1228.8 1397.6,1231.8 1397.7,1234.9 1397.8,1237.9 1397.9,1240.9 1398,1243.9 1398.1,1246.9 1398.2,1249.9 1398.3,1252.9 1398.4,1255.9 1398.5,1259 1398.6,1262 1398.7,1265 1398.8,1268 1398.9,1271 1399,1274 1399.1,1277 1399.2,1280.1 1399.4,1283.1 1399.6,1286.1 1399.8,1289.1 1400,1292.1 1400.2,1295.1 1400.4,1298.1 1400.6,1301.1 1400.9,1304.1 1401.1,1307.1 1401.3,1310.1 1401.5,1313.1 1401.7,1316.2 1401.9,1319.2 1402.1,1322.2 1402.4,1325.2 1402.8,1328.2 1403.2,1331.1 1403.6,1334.1 1404,1337.1 1404.4,1340.1 1404.8,1343.1 1405.2,1346.1 1405.6,1349.1 1406.1,1352.1 1406.5,1355 1406.9,1358 1407.3,1361 1407.7,1364 1408.1,1367 1408.5,1370 1409.1,1372.9 1409.9,1375.8 1410.7,1378.7 1411.4,1381.7 1412.2,1384.6 1413,1387.5 1413.8,1390.4 1414.5,1393.3 1415.3,1396.2 1416.1,1399.2 1416.8,1402.1 1417.6,1405 1418.5,1407.8 1419.9,1410.5 1421.3,1413.2 1422.8,1415.8 1424.3,1418.4 1425.8,1421 1427.3,1423.6 1430.3,1426.9 1432.6,1428.8 1435,1430.7 1437.3,1432.6 1439.8,1434.3 1442.4,1435.8 1445,1437.3 1447.6,1438.8 1450.2,1440.3 1452.9,1441.8 1455.6,1443.1 1458.4,1444.2 1461.2,1445.2 1464,1446.3 1466.9,1447.3 1469.7,1448.4 1472.6,1449.3 1475.5,1449.9 1478.4,1450.6 1481.4,1451.3 1484.3,1451.9 1487.3,1452.6 1490.2,1453.2 1493.2,1453.8 1496.1,1454.3 1499.1,1454.9 1502.1,1455.5 1505,1456 1508,1456.6 1511,1457 1514,1457.5 1516.9,1457.9 1519.9,1458.4 1522.9,1458.8 1525.9,1459.3 1528.9,1459.7 1531.9,1460.1 1534.9,1460.4 1537.9,1460.7 1540.9,1461 1543.9,1461.3 1546.9,1461.6 1549.9,1461.9 1552.9,1462.2 1555.9,1462.5 1558.9,1462.8 1561.9,1463.1 1564.9,1463.4 1567.9,1463.7 1570.9,1464 1573.9,1464.2 1576.9,1464.3 1579.9,1464.4 1582.9,1464.5 1585.9,1464.6 1588.9,1464.7 1591.9,1464.8 1595,1464.9 1598,1465 1601,1465.1 1604,1465.2 1607,1465.3 1610,1465.4 1613,1465.5 1616.1,1465.6 1619.1,1465.7 1620.6,1465.8" stroke="#000000" stroke-dasharray="9,6"/>
<polyline points="1173.2,1490.4 1176.3,1490.4 1179.3,1490.4 1182.3,1490.4 1185.3,1490.4 1188.3,1490.4 1191.3,1490.4 1194.3,1490.4 1197.3,1490.4 1200.3,1490.3 1204.7,1489.4 1207.4,1488.2 1210.2,1487.1 1213,1485.8 1215.6,1484.4 1218.2,1482.8 1220.7,1481.3 1223.3,1479.6 1226.6,1476.7 1228.8,1474.5 1230.9,1472.4 1233,1470.3 1235.1,1468.1 1237.3,1466 1239.4,1463.9 1241.5,1461.8 1243.7,1459.6 1245.8,1457.6 1248.2,1455.6 1250.5,1453.8 1252.9,1451.9 1255.2,1450 1257.6,1448.1 1259.9,1446.2 1262.3,1444.4 1264.6,1442.5 1267,1440.6 1269.4,1438.8 1271.8,1437 1274.2,1435.2 1278.1,1433 1280.9,1431.9 1283.7,1430.8 1287.6,1428.6 1290.8,1425.5 1292.9,1423.3 1295,1421.2 1297,1418.9 1298.9,1416.5 1300.7,1414.2 1302.6,1411.8 1304.4,1409.4 1305.9,1406.8 1307.4,1404.2 1308.9,1401.6 1310.4,1399 1311.9,1396.3 1313.2,1393.7 1314.5,1390.9 1315.7,1388.2 1316.9,1385.4 1318.1,1382.7 1319.4,1379.9 1320.6,1377.2 1321.6,1374.3 1322.4,1371.4 1323.2,1368.5 1324,1365.6 1324.8,1362.7 1325.6,1359.8 1326.4,1356.9 1327.2,1354 1327.9,1351.1 1328.5,1348.2 1329.1,1345.2 1329.7,1342.2 1330.3,1339.3 1330.9,1336.3 1331.5,1333.4 1332.1,1330.4 1332.7,1327.5 1333.3,1324.5 1333.8,1321.6 1334.4,1318.6 1334.7,1315.6 1335,1312.6 1335.4,1309.6 1335.7,1306.7 1336,1303.7 1336.4,1300.7 1336.7,1297.7 1337,1294.7 1337.4,1291.7 1337.7,1288.7 1338,1285.7 1338.4,1282.7 1338.7,1279.7 1338.9,1276.7 1339.1,1273.7 1339.4,1270.7 1339.6,1267.7 1339.8,1264.7 1340,1261.7 1340.3,1258.7 1340.5,1255.7 1340.7,1252.7 1340.9,1249.7 1341.2,1246.7 1341.4,1243.7 1341.6,1240.7 1341.8,1237.7 1342,1234.7 1342.2,1231.7 1342.3,1228.7 1342.5,1225.7 1342.6,1222.7 1342.8,1219.6 1342.9,1216.6 1343.1,1213.6 1343.2,1210.6 1343.4,1207.6 1343.5,1204.6 1343.7,1201.6 1343.8,1198.6 1344,1195.6 1344.1,1192.6 1344.2,1189.6 1344.3,1186.6 1344.4,1183.6 1344.5,1180.5 1344.6,1177.5 1344.7,1174.5 1344.8,1171.5 1344.9,1168.5 1345,1165.5 1345.1,1162.5 1345.3,1159.5 1345.4,1156.5 1345.5,1153.5 1345.6,1150.5 1345.7,1147.4 1345.8,1144.4 1345.9,1141.4 1346,1138.4 1346.1,1135.4" stroke="#62c462"/>
<polyline points="1397.7,1135.4 1397.8,1138.4 1397.9,1141.4 1398,1144.5 1398.1,1147.5 1398.2,1150.5 1398.3,1153.5 1398.4,1156.5 1398.5,1159.5 1398.6,1162.6 1398.7,1165.6 1398.8,1168.6 1398.9,1171.6 1399,1174.6 1399.1,1177.6 1399.2,1180.7 1399.3,1183.7 1399.4,1186.7 1399.5,1189.7 1399.6,1192.7 1399.7,1195.7 1399.8,1198.8 1399.9,1201.8 1400,1204.8 1400.1,1207.8 1400.2,1210.8 1400.3,1213.8 1400.5,1216.9 1400.7,1219.9 1401,1222.9 1401.3,1225.9 1401.6,1228.9 1401.9,1231.9 1402.1,1234.9 1402.4,1237.9 1402.7,1240.9 1403,1243.9 1403.2,1246.9 1403.5,1249.9 1403.8,1252.9 1404.1,1255.9 1404.3,1258.9 1404.5,1262 1404.6,1265 1404.8,1268 1404.9,1271 1405.1,1274 1405.2,1277 1405.4,1280 1405.6,1283 1405.9,1286.1 1406.1,1289.1 1406.4,1292.1 1406.6,1295.1 1406.9,1298.1 1407.1,1301.1 1407.4,1304.1 1407.6,1307.1 1407.9,1310.1 1408.2,1313.1 1408.4,1316.1 1408.7,1319.1 1408.9,1322.2 1409.2,1325.2 1409.4,1328.2 1409.7,1331.2 1409.9,1334.2 1410.2,1337.2 1410.4,1340.2 1410.7,1343.2 1411.1,1346.2 1411.6,1349.2 1412.2,1352.1 1412.8,1355.1 1413.4,1358 1414,1361 1414.6,1364 1415.2,1366.9 1415.8,1369.9 1416.4,1372.8 1416.9,1375.8 1417.5,1378.8 1418.1,1381.7 1418.7,1384.7 1419.4,1387.6 1420.3,1390.5 1421.4,1393.3 1422.5,1396.1 1423.7,1398.9 1424.8,1401.7 1425.9,1404.5 1427,1407.3 1428.3,1410 1430,1412.5 1431.9,1414.9 1433.7,1417.2 1435.6,1419.6 1437.4,1422 1439.3,1424.4 1441.1,1426.8 1444.2,1430 1446.7,1431.7 1449.3,1433.3 1451.8,1434.9 1454.4,1436.5 1456.9,1438.1 1459.5,1439.7 1462.2,1441 1465,1442.1 1467.8,1443.3 1470.6,1444.4 1473.4,1445.5 1476.2,1446.6 1479,1447.7 1481.8,1448.8 1484.7,1449.8 1487.6,1450.6 1490.5,1451.5 1493.4,1452.4 1496.2,1453.2 1499.1,1454.1 1502,1455 1505,1455.7 1507.9,1456.1 1510.9,1456.6 1513.9,1457 1516.9,1457.5 1519.9,1457.9 1522.9,1458.4 1525.9,1458.8 1528.8,1459.2 1531.8,1459.6 1534.8,1459.9 1537.8,1460.3 1540.8,1460.7 1543.8,1461.1 1546.8,1461.4 1549.8,1461.8 1552.8,1462.2 1555.8,1462.5 1558.8,1462.8 1561.8,1463.1 1564.8,1463.4 1567.8,1463.7 1570.8,1464 1573.8,1464.2 1576.9,1464.4 1579.9,1464.5 1582.9,1464.7 1585.9,1464.9 1588.9,1465 1591.9,1465.2 1594.9,1465.3 1598,1465.5 1601,1465.7 1604,1465.8 1607,1466 1610,1466.2 1613,1466.3 1616,1466.5 1619.1,1466.6 1620.6,1466.7" stroke="#62c462"/>
<polyline points="1173.7,1493.9 1176.6,1493.2 1179.5,1492.5 1182.5,1491.8 1185.4,1491.1 1188.3,1490.3 1191.3,1489.6 1194.2,1488.9 1197.1,1488.2 1199.9,1487 1202.6,1485.7 1205.3,1484.3 1207.9,1480.9 1209.1,1478.1 1210.3,1475.4 1211.5,1472.6 1212.8,1469.9 1214,1467.1 1215.2,1464.4 1216.3,1461.6 1217.5,1458.8 1218.6,1456 1219.7,1453.2 1220.8,1450.4 1221.9,1447.6 1223.1,1444.8 1224.2,1442 1225.4,1439.2 1226.7,1436.4 1227.9,1433.7 1229.1,1430.9 1230.3,1428.2 1231.6,1425.4 1232.8,1422.7 1234,1419.9 1235.2,1417.1 1236.4,1414.3 1237.5,1411.6 1238.7,1408.8 1240.1,1406.1 1241.6,1403.5 1243.1,1400.9 1244.6,1398.3 1246.1,1395.6 1248.8,1392.2 1251.4,1390.6 1254,1389 1256.6,1387.5 1260.6,1387 1263.4,1388.1 1266.3,1389.2 1269,1390.4 1271.7,1391.8 1274.4,1393.1 1278.7,1393.5 1281.7,1393.2 1286,1392.2 1289.1,1388.9 1291.1,1386.7 1293.1,1384.5 1295.1,1382.2 1296.7,1378 1297.6,1375.1 1298.6,1372.3 1299.5,1369.4 1300.5,1366.6 1301.5,1363.7 1302.4,1360.8 1303.4,1358 1304.2,1355.1 1304.9,1352.1 1305.6,1349.2 1306.3,1346.3 1306.9,1343.3 1307.6,1340.4 1308.3,1337.4 1309,1334.5 1309.7,1331.6 1310.3,1328.6 1310.9,1325.7 1311.4,1322.7 1312,1319.7 1312.5,1316.7 1313,1313.8 1313.5,1310.8 1314,1307.8 1314.6,1304.9 1315.1,1301.9 1315.6,1298.9 1316.1,1295.9 1316.7,1293 1317.1,1290 1317.5,1287 1317.9,1284 1318.3,1281 1318.6,1278 1319,1275 1319.4,1272 1319.8,1269 1320.1,1266 1320.5,1263 1320.9,1260 1321.3,1257 1321.6,1254.1 1322,1251.1 1322.4,1248.1 1322.7,1245.1 1323,1242.1 1323.3,1239.1 1323.6,1236.1 1323.9,1233.1 1324.2,1230.1 1324.5,1227 1324.8,1224 1325.1,1221 1325.4,1218 1325.7,1215 1326,1212 1326.3,1209 1326.6,1206 1326.9,1203 1327.2,1200 1327.5,1197 1327.8,1194 1328.1,1191 1328.4,1188 1328.7,1185 1329,1182 1329.3,1179 1329.6,1176 1329.9,1173 1330.2,1170 1330.5,1167 1330.8,1164 1331.1,1161 1331.4,1158 1331.7,1155 1332,1152 1332.3,1149 1332.6,1146 1332.9,1143 1333.2,1140 1333.5,1137 1333.6,1135.5" stroke="#e01418"/>
<polyline points="1401.7,1135.4 1401.9,1138.4 1402,1141.4 1402.2,1144.5 1402.3,1147.5 1402.5,1150.5 1402.6,1153.5 1402.8,1156.5 1402.9,1159.5 1403.1,1162.5 1403.2,1165.5 1403.4,1168.5 1403.5,1171.5 1403.7,1174.6 1403.8,1177.6 1404,1180.6 1404.1,1183.6 1404.3,1186.6 1404.4,1189.6 1404.6,1192.6 1404.7,1195.6 1404.8,1198.6 1404.9,1201.7 1405,1204.7 1405.1,1207.7 1405.2,1210.7 1405.4,1213.7 1405.5,1216.7 1405.7,1219.7 1405.8,1222.7 1406,1225.7 1406.2,1228.8 1406.4,1231.8 1406.5,1234.8 1406.7,1237.8 1406.9,1240.8 1407.1,1243.8 1407.2,1246.8 1407.4,1249.8 1407.6,1252.8 1407.7,1255.8 1407.9,1258.9 1408.1,1261.9 1408.3,1264.9 1408.4,1267.9 1408.6,1270.9 1408.9,1273.9 1409.2,1276.9 1409.5,1279.9 1409.8,1282.9 1410.1,1285.9 1410.4,1288.9 1410.7,1291.9 1411.1,1294.9 1411.4,1297.9 1411.7,1300.9 1412,1303.9 1412.3,1306.9 1412.6,1309.9 1412.9,1312.9 1413.2,1315.9 1413.5,1318.9 1413.8,1321.9 1414.1,1324.9 1414.4,1327.9 1414.8,1330.9 1415.1,1333.9 1415.4,1336.9 1415.7,1339.9 1416,1342.9 1416.4,1345.8 1416.9,1348.8 1417.5,1351.8 1418.1,1354.7 1418.7,1357.7 1419.2,1360.6 1419.8,1363.6 1420.4,1366.6 1421,1369.5 1421.5,1372.5 1422.1,1375.4 1422.7,1378.4 1423.3,1381.4 1424,1384.3 1425,1387.1 1426,1389.9 1427.1,1392.7 1428.2,1395.6 1429.3,1398.4 1430.4,1401.2 1431.5,1404 1432.5,1406.8 1433.6,1409.6 1435.8,1413.5 1437.7,1415.8 1439.7,1418.1 1441.7,1420.3 1443.7,1422.6 1445.7,1424.9 1447.7,1427.1 1449.7,1429.3 1453.4,1432 1455.9,1433.6 1458.4,1435.3 1460.9,1437 1463.4,1438.7 1465.9,1440.3 1468.4,1441.9 1472.5,1443.9 1475.3,1445 1478.1,1446.1 1480.9,1447.2 1483.7,1448.3 1486.5,1449.5 1489.3,1450.6 1492.2,1451.5 1495.1,1452.3 1498,1453 1500.9,1453.7 1503.9,1454.4 1506.8,1455.2 1509.7,1455.9 1512.7,1456.6 1515.6,1457.2 1518.6,1457.8 1521.5,1458.4 1524.5,1459 1527.4,1459.6 1530.4,1460.2 1533.3,1460.7 1536.3,1461.1 1539.3,1461.5 1542.3,1461.8 1545.3,1462.1 1548.3,1462.4 1551.3,1462.7 1554.3,1462.9 1557.3,1463.2 1560.3,1463.3 1563.3,1463.5 1566.4,1463.6 1569.4,1463.8 1572.4,1463.9 1575.4,1464.1 1578.4,1464.2 1581.4,1464.3 1584.4,1464.5 1587.4,1464.6 1590.5,1464.7 1593.5,1464.8 1596.5,1464.9 1599.5,1465 1602.5,1465.1 1605.5,1465.3 1608.5,1465.4 1611.5,1465.5 1614.5,1465.6 1617.6,1465.7 1620.6,1465.8" stroke="#e01418"/>
<polyline points="1407.9,1135.4 1408.1,1138.4 1408.2,1141.4 1408.4,1144.5 1408.5,1147.5 1408.7,1150.5 1408.8,1153.5 1409,1156.5 1409.1,1159.5 1409.3,1162.6 1409.4,1165.6 1409.6,1168.6 1409.7,1171.6 1409.9,1174.6 1410,1177.6 1410.2,1180.6 1410.3,1183.7 1410.5,1186.7 1410.6,1189.7 1410.8,1192.7 1410.9,1195.7 1411.1,1198.7 1411.2,1201.8 1411.4,1204.8 1411.5,1207.8 1411.7,1210.8 1411.8,1213.8 1412,1216.8 1412.3,1219.8 1412.5,1222.8 1412.8,1225.9 1413,1228.9 1413.3,1231.9 1413.5,1234.9 1413.8,1237.9 1414,1240.9 1414.3,1243.9 1414.5,1246.9 1414.8,1249.9 1415,1252.9 1415.3,1255.9 1415.5,1259 1415.8,1262 1416,1265 1416.3,1268 1416.5,1271 1416.8,1274 1417,1277 1417.3,1280 1417.6,1283 1418,1286 1418.3,1289 1418.7,1292 1419,1295 1419.4,1298 1419.7,1301 1420.1,1304 1420.4,1307 1420.8,1310 1421.1,1313 1421.5,1316 1421.8,1319 1422.2,1322 1422.5,1325 1422.9,1328 1423.2,1331 1423.6,1334 1423.9,1337 1424.3,1340 1424.6,1343 1425.1,1346 1425.8,1348.9 1426.6,1351.8 1427.3,1354.8 1428,1357.7 1428.7,1360.6 1429.5,1363.5 1430.2,1366.5 1430.9,1369.4 1431.7,1372.3 1432.4,1375.3 1433.1,1378.2 1433.9,1381.1 1434.6,1384 1435.4,1387 1436.4,1389.8 1437.7,1392.5 1439.1,1395.2 1440.4,1397.9 1441.8,1400.6 1443.1,1403.3 1444.5,1406 1445.8,1408.7 1447.2,1411.4 1448.5,1414.1 1449.9,1416.8 1452.7,1420.2 1455,1422.2 1457.3,1424.1 1459.6,1426.1 1461.9,1428 1464.2,1430 1466.5,1431.9 1468.8,1433.9 1471.2,1435.7 1473.7,1437.3 1476.4,1438.8 1479,1440.3 1481.6,1441.7 1484.3,1443.2 1486.9,1444.7 1489.6,1446.1 1492.3,1447.4 1495.1,1448.5 1497.9,1449.6 1500.7,1450.7 1503.5,1451.8 1506.4,1452.9 1509.2,1454 1512,1454.9 1515,1455.7 1517.9,1456.5 1520.8,1457.3 1523.7,1458.1 1526.6,1459 1529.5,1459.8 1532.4,1460.5 1535.4,1461.2 1538.3,1462 1541.2,1462.7 1544.1,1463.4 1547.1,1464.2 1550,1464.9 1553,1465.5 1555.9,1465.9 1558.9,1466.4 1561.9,1466.8 1564.9,1467.3 1567.9,1467.7 1570.9,1468.2 1573.9,1468.4 1576.9,1468.3 1579.9,1468.2 1582.9,1468 1585.9,1467.9 1588.9,1467.7 1592,1467.6 1595,1467.4 1598,1467.1 1601,1466.8 1604,1466.5 1607,1466.2 1610,1465.9 1613,1465.6 1616,1465.3 1619,1465 1620.5,1464.9" stroke="#a8c0c0"/>
<polyline points="1173.2,1490.4 1176.3,1490.4 1179.3,1490.4 1182.3,1490.4 1185.3,1490.4 1188.3,1490.4 1191.3,1490.3 1195.5,1488.7 1198.2,1487.5 1201,1486.4 1204.3,1483.4 1206.1,1481 1208,1478.7 1209.9,1476.3 1211.9,1472.4 1213,1469.6 1214,1466.7 1215,1463.9 1216,1461.1 1217.1,1458.2 1218.1,1455.4 1219.1,1452.6 1220,1449.7 1220.7,1446.8 1221.5,1443.9 1222.2,1441 1222.9,1438 1223.6,1435.1 1224.4,1432.2 1225.1,1429.3 1225.8,1426.4 1226.6,1423.4 1227.3,1420.5 1228,1417.6 1228.6,1414.7 1229.1,1411.7 1229.6,1408.7 1230.2,1405.8 1230.7,1402.8 1231.2,1399.8 1231.7,1396.9 1232.2,1393.9 1232.7,1390.9 1233.3,1388 1233.8,1385 1234.3,1382.1 1234.8,1379.1 1235.3,1376.1 1235.8,1373.2 1236.3,1370.2 1236.9,1367.2 1237.4,1364.3 1237.9,1361.3 1238.3,1358.3 1238.8,1355.4 1239.3,1352.4 1239.8,1349.4 1240.3,1346.5 1240.8,1343.5 1241.3,1340.5 1241.8,1337.6 1242.3,1334.6 1242.8,1331.6 1243.3,1328.7 1243.8,1325.7 1244.3,1322.7 1244.8,1319.8 1245.3,1316.8 1245.8,1313.8 1246.3,1310.9 1246.8,1307.9 1247.3,1304.9 1247.7,1301.9 1248.2,1299 1248.7,1296 1250.4,1291.9 1251.7,1289.1 1252.9,1286.4 1254.1,1283.6 1255.4,1280.9 1256.6,1278.1 1257.8,1275.4 1261.1,1277.1 1262.9,1279.5 1264.7,1281.9 1266.5,1284.3 1268.3,1286.8 1269.2,1289.6 1270.1,1292.5 1271.1,1295.4 1272,1298.2 1272.9,1301.1 1273.8,1304 1274.7,1306.8 1275.6,1309.7 1276.5,1312.6 1277.5,1315.4 1278.4,1318.3 1279.3,1321.2 1280.2,1324 1281.1,1326.9 1282.1,1329.7 1283,1332.6 1283.9,1335.5 1284.8,1338.3 1287.5,1341.2 1290.4,1341.9 1293.3,1342.5 1296,1340.7 1296.9,1337.8 1297.7,1334.9 1298.5,1332 1299.3,1329.1 1300.2,1326.2 1301,1323.3 1301.8,1320.4 1302.6,1317.5 1303.5,1314.6 1304.2,1311.7 1304.7,1308.7 1305.2,1305.8 1305.7,1302.8 1306.2,1299.8 1306.7,1296.9 1307.2,1293.9 1307.7,1290.9 1308.1,1288 1308.6,1285 1309.1,1282 1309.6,1279.1 1310.1,1276.1 1310.6,1273.1 1311,1270.1 1311.5,1267.2 1311.9,1264.2 1312.4,1261.2 1312.8,1258.2 1313.2,1255.3 1313.7,1252.3 1314.1,1249.3 1314.5,1246.3 1315,1243.4 1315.4,1240.4 1315.9,1237.4 1316.2,1234.4 1316.5,1231.4 1316.8,1228.4 1317.1,1225.4 1317.4,1222.4 1317.7,1219.4 1318,1216.4 1318.3,1213.5 1318.6,1210.5 1318.9,1207.5 1319.2,1204.5 1319.4,1201.5 1319.6,1198.5 1319.8,1195.5 1320,1192.5 1320.2,1189.5 1320.4,1186.5 1320.6,1183.5 1320.8,1180.5 1321,1177.5 1321.2,1174.5 1321.4,1171.5 1321.6,1168.4 1321.8,1165.4 1322,1162.4 1322.2,1159.4 1322.4,1156.4 1322.6,1153.4 1322.8,1150.4 1323.1,1147.4 1323.3,1144.4 1323.5,1141.4 1323.7,1138.4 1323.9,1135.4" stroke="#f0b41e"/>
<polyline points="1409,1135.4 1409.1,1138.4 1409.3,1141.4 1409.4,1144.4 1409.6,1147.5 1409.7,1150.5 1409.9,1153.5 1410,1156.5 1410.2,1159.5 1410.3,1162.5 1410.5,1165.5 1410.6,1168.5 1410.8,1171.5 1410.9,1174.5 1411.1,1177.5 1411.2,1180.5 1411.4,1183.6 1411.5,1186.6 1411.7,1189.6 1411.8,1192.6 1412,1195.6 1412.1,1198.6 1412.3,1201.6 1412.4,1204.6 1412.6,1207.6 1412.7,1210.6 1412.9,1213.6 1413.1,1216.6 1413.3,1219.7 1413.6,1222.7 1413.8,1225.7 1414.1,1228.7 1414.3,1231.7 1414.6,1234.7 1414.8,1237.7 1415.1,1240.7 1415.3,1243.7 1415.6,1246.7 1415.8,1249.7 1416.1,1252.7 1416.3,1255.7 1416.6,1258.7 1416.8,1261.7 1417.1,1264.7 1417.3,1267.7 1417.6,1270.7 1417.8,1273.7 1418.1,1276.7 1418.4,1279.7 1418.7,1282.7 1419,1285.7 1419.4,1288.7 1419.7,1291.7 1420.1,1294.7 1420.4,1297.6 1420.8,1300.6 1421.1,1303.6 1421.5,1306.6 1421.8,1309.6 1422.2,1312.6 1422.5,1315.6 1422.9,1318.6 1423.2,1321.6 1423.6,1324.6 1423.9,1327.6 1424.3,1330.6 1424.6,1333.5 1425,1336.5 1425.3,1339.5 1425.7,1342.5 1426.1,1345.5 1426.8,1348.4 1427.5,1351.4 1428.2,1354.3 1429,1357.2 1429.7,1360.1 1430.4,1363 1431.2,1366 1431.9,1368.9 1432.6,1371.8 1433.4,1374.7 1434.1,1377.7 1434.8,1380.6 1435.6,1383.5 1436.3,1386.4 1437.9,1390.6 1439.2,1393.3 1440.6,1396 1441.9,1398.7 1443.3,1401.4 1444.6,1404.1 1446,1406.8 1447.3,1409.5 1448.7,1412.2 1450,1414.9 1451.4,1417.5 1454.3,1420.9 1456.6,1422.9 1458.8,1424.9 1461.1,1426.9 1463.3,1428.9 1465.6,1430.9 1467.8,1432.9 1470.1,1434.9 1473.8,1437.4 1476.5,1438.9 1479.1,1440.3 1481.7,1441.8 1484.4,1443.2 1487,1444.7 1489.6,1446.2 1492.3,1447.5 1495.1,1448.7 1497.8,1450 1500.6,1451.2 1503.3,1452.4 1506.1,1453.6 1508.8,1454.8 1511.6,1455.9 1514.5,1456.9 1517.3,1457.9 1520.2,1458.8 1523.1,1459.8 1525.9,1460.7 1528.8,1461.7 1531.7,1462.6 1534.5,1463.4 1537.4,1464.3 1540.3,1465.2 1543.2,1466 1546.1,1466.9 1549,1467.8 1551.9,1468.5 1554.8,1469 1557.8,1469.5 1560.8,1469.9 1563.8,1470.4 1566.8,1470.8 1569.7,1471.2 1572.7,1471.6 1577.2,1471.4 1580.2,1471.1 1583.2,1470.8 1586.2,1470.5 1589.2,1470.2 1592.2,1469.8 1595.2,1469.5 1598.1,1468.9 1601.1,1468.3 1604,1467.7 1607,1467.1 1610,1466.6 1612.9,1466 1615.9,1465.4 1618.8,1464.8 1620.3,1464.5" stroke="#f0b41e"/>
<polyline points="1173.7,1493.5 1176.6,1492.8 1179.5,1492.1 1182.5,1491.4 1185.4,1490.7 1188.3,1490 1191.2,1489.2 1194.2,1488.5 1197.1,1487.8 1200.3,1484.8 1202.3,1482.6 1204.3,1480.3 1206.2,1478 1208.2,1475.7 1210.1,1473.4 1212.1,1469.4 1213.1,1466.6 1214.1,1463.7 1215.2,1460.9 1216.2,1458.1 1217.2,1455.2 1218.3,1452.4 1219.3,1449.6 1220.2,1446.7 1221.1,1443.8 1222,1440.9 1222.9,1438.1 1223.8,1435.2 1224.7,1432.3 1225.5,1429.4 1226.4,1426.5 1227.3,1423.6 1228.2,1420.8 1228.9,1417.8 1229.6,1414.9 1230.3,1412 1231,1409 1231.7,1406.1 1232.4,1403.2 1233.1,1400.2 1233.7,1397.3 1234.4,1394.4 1235.1,1391.4 1235.8,1388.5 1236.5,1385.6 1237.2,1382.6 1237.8,1379.7 1238.5,1376.7 1239.1,1373.8 1239.8,1370.9 1240.4,1367.9 1241.1,1365 1241.8,1362 1242.4,1359.1 1243.1,1356.1 1243.7,1353.2 1244.4,1350.3 1245,1347.3 1245.7,1344.4 1246.5,1341.5 1247.4,1338.6 1248.2,1335.7 1249,1332.8 1249.9,1329.9 1251.1,1327.2 1252.5,1324.5 1253.8,1321.8 1255.2,1319.1 1256.5,1316.4 1257.9,1313.7 1260.7,1310.2 1262.8,1308.1 1264.9,1305.9 1268.3,1304.4 1271.9,1307.1 1274.3,1308.9 1277.2,1312.3 1278.8,1314.8 1280.4,1317.4 1282,1319.9 1283.6,1322.5 1285.2,1325 1288.3,1328 1291.1,1329.1 1293.9,1330.2 1296.6,1328 1297.9,1325.3 1299.2,1322.5 1300.5,1319.8 1301.8,1317.1 1303.1,1314.4 1304.4,1310.1 1304.9,1307.1 1305.5,1304.1 1306,1301.2 1306.5,1298.2 1307,1295.2 1307.6,1292.3 1308.1,1289.3 1308.6,1286.3 1309.1,1283.4 1309.7,1280.4 1310.2,1277.4 1310.7,1274.5 1311.1,1271.5 1311.5,1268.5 1311.9,1265.5 1312.3,1262.5 1312.7,1259.5 1313.1,1256.5 1313.6,1253.6 1314,1250.6 1314.4,1247.6 1314.8,1244.6 1315.2,1241.6 1315.6,1238.6 1316,1235.6 1316.3,1232.6 1316.6,1229.6 1316.9,1226.6 1317.2,1223.6 1317.5,1220.6 1317.8,1217.6 1318.1,1214.6 1318.4,1211.6 1318.7,1208.6 1319,1205.6 1319.3,1202.7 1319.6,1199.7 1319.9,1196.7 1320.2,1193.7 1320.4,1190.6 1320.7,1187.6 1320.9,1184.6 1321.1,1181.6 1321.4,1178.6 1321.6,1175.6 1321.8,1172.6 1322,1169.6 1322.3,1166.6 1322.5,1163.6 1322.7,1160.6 1322.9,1157.6 1323.2,1154.6 1323.4,1151.6 1323.6,1148.6 1323.8,1145.6 1324.1,1142.6 1324.3,1139.6 1324.5,1136.5 1324.6,1135" stroke="#a8c0c0"/>
<polyline points="1173.2,1490 1176.3,1490 1179.3,1490 1182.3,1490 1185.3,1490 1188.3,1490 1192.8,1489.5 1195.6,1488.5 1199.4,1486.2 1201.5,1484.1 1203.6,1481.9 1205.8,1479.8 1207.8,1477.5 1209.6,1475.2 1211.5,1472.8 1213.4,1470.5 1215.3,1468.1 1217,1465.6 1218.6,1463.1 1220.3,1460.6 1222,1458.1 1224.8,1454.6 1227.1,1452.6 1229.4,1450.8 1231.8,1448.9 1234.1,1447 1236.7,1445.4 1239.2,1443.8 1241.8,1442.2 1244.4,1440.7 1247.1,1439.4 1249.9,1438.3 1252.7,1437.1 1255.5,1436.1 1258.4,1435.3 1261.4,1434.7 1264.3,1434.1 1267.3,1433.4 1270.2,1432.6 1273,1431.7 1275.9,1430.9 1278.8,1429.9 1281.6,1428.8 1284.4,1427.7 1287.2,1426.6 1291.1,1424.4 1293.6,1422.6 1296,1420.9 1298.5,1419.1 1301.6,1415.9 1303.5,1413.6 1305.4,1411.2 1307.2,1408.9 1309.4,1405 1310.6,1402.2 1311.8,1399.4 1313,1396.6 1314.2,1393.9 1315.3,1391.1 1316.4,1388.3 1317.4,1385.4 1318.5,1382.6 1319.6,1379.8 1320.6,1377 1321.6,1374.1 1322.4,1371.2 1323.2,1368.3 1324,1365.4 1324.8,1362.5 1325.6,1359.6 1326.3,1356.7 1327.1,1353.8 1327.9,1350.8 1328.5,1347.9 1329,1344.9 1329.6,1342 1330.1,1339 1330.7,1336 1331.2,1333.1 1331.8,1330.1 1332.3,1327.1 1332.9,1324.2 1333.5,1321.2 1334,1318.2 1334.5,1315.3 1334.8,1312.3 1335.2,1309.3 1335.5,1306.3 1335.9,1303.3 1336.2,1300.3 1336.6,1297.3 1336.9,1294.3 1337.3,1291.3 1337.6,1288.3 1338,1285.3 1338.4,1282.3 1338.7,1279.3 1338.9,1276.3 1339.2,1273.3 1339.4,1270.3 1339.7,1267.3 1339.9,1264.3 1340.2,1261.3 1340.4,1258.3 1340.7,1255.3 1340.9,1252.3 1341.2,1249.3 1341.4,1246.3 1341.7,1243.3 1341.9,1240.3 1342.1,1237.3 1342.3,1234.3 1342.5,1231.3 1342.8,1228.3 1343,1225.2 1343.2,1222.2 1343.4,1219.2 1343.6,1216.2 1343.8,1213.2 1344,1210.2 1344.2,1207.2 1344.4,1204.2 1344.6,1201.2 1344.8,1198.2 1345,1195.2 1345.2,1192.2 1345.4,1189.2 1345.7,1186.1 1345.9,1183.1 1346.1,1180.1 1346.3,1177.1 1346.6,1174.1 1346.8,1171.1 1347,1168.1 1347.3,1165.1 1347.5,1162.1 1347.7,1159.1 1347.9,1156.1 1348.2,1153.1 1348.4,1150.1 1348.6,1147.1 1348.8,1144.1 1349.1,1141.1 1349.3,1138 1349.5,1135" stroke="#000000" stroke-dasharray="9,6"/>
</g>
<g clip-path="url(#cpp)" fill="none" stroke-width="2.5" stroke-linejoin="round" stroke-linecap="butt">
<polyline points="1623.6,1490.4 1626.6,1490.4 1629.6,1490.4 1632.7,1490.4 1635.7,1490.4 1638.7,1490.4 1643,1489.5 1645.7,1488.1 1648.4,1486.8 1652.1,1484.4 1654.6,1480.7 1656.2,1478.1 1657.8,1475.5 1659.3,1473 1660.8,1470.4 1662.5,1466.2 1663.2,1463.3 1663.9,1460.3 1664.6,1457.4 1665.3,1454.5 1666,1451.5 1666.7,1448.6 1667.3,1445.6 1668,1442.7 1668.7,1439.8 1669.4,1436.8 1670.1,1433.9 1670.8,1430.9 1671.3,1428 1671.8,1425 1672.4,1422 1672.9,1419.1 1673.5,1416.1 1674,1413.1 1674.5,1410.2 1675.1,1407.2 1675.6,1404.2 1676.2,1401.3 1676.7,1398.3 1677.2,1395.3 1677.8,1392.3 1678.3,1389.4 1678.9,1386.4 1679.4,1383.4 1679.9,1380.5 1680.5,1377.5 1681,1374.5 1681.6,1371.6 1682.1,1368.6 1682.6,1365.6 1683.2,1362.7 1683.7,1359.7 1684.3,1356.7 1684.8,1353.7 1685.3,1350.8 1685.9,1347.8 1686.4,1344.8 1687,1341.9 1687.5,1338.9 1688.1,1335.9 1688.7,1333 1689.3,1330 1690,1327.1 1690.6,1324.1 1691.2,1321.2 1691.9,1318.2 1692.5,1315.3 1693.1,1312.3 1693.8,1309.4 1694.5,1306.5 1695.5,1303.6 1696.7,1300.9 1697.9,1298.1 1699.1,1295.3 1700.3,1292.5 1701.6,1289.8 1703.1,1287.2 1704.6,1284.6 1706.1,1282 1707.6,1279.4 1709.2,1276.8 1712.1,1273.4 1714.2,1271.3 1716.4,1269.1 1718.5,1266.9 1720.4,1264.6 1722.3,1262.3 1724.3,1260 1726.2,1257.7 1728.1,1255.4 1730.3,1251.4 1731.5,1248.7 1732.8,1245.9 1734,1243.2 1735.2,1240.4 1736.4,1237.6 1737.6,1234.9 1738.5,1232 1739.3,1229.1 1740.1,1226.2 1740.9,1223.3 1741.7,1220.3 1742.4,1217.4 1743.2,1214.5 1744,1211.6 1744.6,1208.6 1745.2,1205.7 1745.7,1202.7 1746.2,1199.7 1746.8,1196.8 1747.3,1193.8 1747.9,1190.8 1748.4,1187.9 1748.8,1184.9 1749.2,1181.9 1749.6,1178.9 1749.9,1175.9 1750.3,1172.9 1750.7,1169.9 1751.1,1166.9 1751.4,1163.9 1751.8,1160.9 1752.3,1157.9 1752.8,1155 1753.3,1152 1753.7,1149 1754.2,1146 1754.7,1143 1755.2,1140.1 1755.6,1137.1 1755.9,1135.6" stroke="#e01418"/>
<polyline points="1861.4,1135.4 1861.5,1138.4 1861.7,1141.4 1861.8,1144.5 1862,1147.5 1862.1,1150.5 1862.3,1153.5 1862.4,1156.5 1862.6,1159.5 1862.7,1162.5 1862.9,1165.5 1863,1168.6 1863.2,1171.6 1863.4,1174.6 1863.5,1177.6 1863.7,1180.6 1863.8,1183.6 1864,1186.6 1864.1,1189.6 1864.3,1192.6 1864.5,1195.7 1864.7,1198.7 1865,1201.7 1865.2,1204.7 1865.5,1207.7 1865.7,1210.7 1866,1213.7 1866.2,1216.7 1866.5,1219.7 1866.7,1222.7 1867,1225.7 1867.2,1228.7 1867.5,1231.7 1867.7,1234.7 1868,1237.7 1868.2,1240.7 1868.5,1243.7 1868.7,1246.7 1869,1249.8 1869.2,1252.8 1869.5,1255.8 1869.7,1258.8 1870,1261.8 1870.2,1264.8 1870.5,1267.8 1870.7,1270.8 1870.9,1273.8 1871.2,1276.8 1871.4,1279.8 1871.7,1282.8 1871.9,1285.8 1872.2,1288.8 1872.4,1291.8 1872.7,1294.8 1872.9,1297.8 1873.1,1300.9 1873.4,1303.9 1873.6,1306.9 1873.9,1309.9 1874.1,1312.9 1874.4,1315.9 1874.6,1318.9 1874.9,1321.9 1875.2,1324.9 1875.8,1327.8 1876.3,1330.8 1876.8,1333.8 1877.4,1336.7 1877.9,1339.7 1878.5,1342.7 1879,1345.7 1879.5,1348.6 1880.1,1351.6 1880.6,1354.6 1881.2,1357.5 1881.7,1360.5 1882.2,1363.5 1882.8,1366.4 1883.3,1369.4 1884,1372.3 1884.8,1375.2 1885.6,1378.1 1886.4,1381 1887.2,1384 1888,1386.9 1888.8,1389.8 1889.6,1392.7 1890.4,1395.6 1891.2,1398.5 1892,1401.4 1892.9,1404.3 1893.7,1407.2 1894.6,1410.1 1895.9,1412.7 1897.4,1415.4 1898.9,1418 1900.3,1420.6 1901.8,1423.3 1903.3,1425.9 1905.7,1429.7 1909.2,1432.5 1911.6,1434.3 1914,1436.1 1916.4,1437.9 1918.8,1439.7 1921.3,1441.5 1925.2,1443.7 1927.9,1445 1930.7,1446.2 1933.4,1447.4 1936.2,1448.7 1938.9,1449.9 1941.7,1451.1 1944.5,1452.2 1947.4,1452.9 1950.4,1453.6 1953.3,1454.2 1956.3,1454.8 1959.2,1455.4 1962.2,1456 1965.1,1456.6 1968.1,1457.2 1971,1457.7 1974,1458.1 1977,1458.4 1980,1458.7 1983,1459 1986,1459.3 1989,1459.6 1992,1459.9 1995,1460.2 1998,1460.5 2001,1460.8 2004.1,1461 2007.1,1461.1 2010.1,1461.2 2013.1,1461.3 2016.1,1461.4 2019.1,1461.5 2022.1,1461.6 2025.2,1461.7 2028.2,1461.8 2031.2,1461.9 2034.2,1462 2037.2,1462.2 2040.2,1462.4 2043.2,1462.6 2046.2,1462.8 2049.2,1463 2052.3,1463.2 2055.3,1463.4 2058.3,1463.6 2061.3,1463.8 2064.3,1464 2067.3,1464.2 2070.3,1464.4 2073.3,1464.5 2076.3,1464.7 2079.3,1464.9 2082.3,1465.1 2085.4,1465.3 2088.4,1465.5 2091.4,1465.7 2094.4,1465.9 2097.4,1466.1 2100.4,1466.2 2103.4,1466.4 2106.4,1466.6 2109.4,1466.8 2112.4,1467 2115.5,1467.2 2117,1467.3" stroke="#e01418"/>
<polyline points="1623.6,1490.4 1626.6,1490.4 1629.6,1490.4 1632.7,1490.4 1635.7,1490.4 1638.7,1490.4 1641.7,1490.4 1644.7,1490.2 1647.6,1489.5 1650.5,1488.7 1654.6,1487 1657.1,1485.2 1659.5,1483.4 1661.8,1481.5 1663.8,1479.2 1665.7,1476.9 1667.6,1474.5 1669.4,1472.1 1671.1,1469.6 1672.5,1467 1673.8,1464.3 1675.2,1461.6 1676.5,1458.9 1677.9,1456.2 1679.2,1453.4 1680.5,1450.7 1681.7,1448 1683,1445.2 1684.2,1442.5 1685.5,1439.7 1686.7,1437 1688,1434.2 1689.2,1431.5 1690.5,1428.7 1691.7,1426 1693,1423.2 1694.2,1420.5 1695.5,1417.7 1696.7,1415 1698,1412.2 1699.2,1409.5 1700.5,1406.7 1701.9,1404.1 1703.3,1401.4 1704.8,1398.8 1706.3,1396.1 1707.7,1393.5 1709.2,1390.9 1710.7,1388.2 1712.2,1385.6 1713.8,1383 1715.4,1380.5 1717,1377.9 1718.6,1375.4 1720.2,1372.8 1721.8,1370.2 1723.4,1367.7 1725,1365.1 1726.6,1362.6 1728.2,1360 1729.8,1357.4 1731.4,1354.9 1733,1352.3 1734.5,1349.7 1735.9,1347.1 1737.4,1344.4 1738.9,1341.8 1740.3,1339.1 1741.8,1336.5 1743.3,1333.9 1744.6,1331.2 1745.7,1328.4 1746.8,1325.6 1748,1322.8 1749.1,1320 1750.2,1317.2 1751.3,1314.3 1752.4,1311.5 1753.3,1308.7 1754.1,1305.7 1754.8,1302.8 1755.5,1299.9 1756.3,1296.9 1757,1294 1757.7,1291.1 1758.5,1288.2 1759.2,1285.2 1759.7,1282.3 1760.2,1279.3 1760.7,1276.3 1761.2,1273.3 1761.7,1270.3 1762.2,1267.4 1762.7,1264.4 1763.2,1261.4 1763.7,1258.4 1764.1,1255.4 1764.5,1252.5 1764.9,1249.5 1765.3,1246.5 1765.7,1243.5 1766.1,1240.5 1766.5,1237.5 1766.9,1234.5 1767.3,1231.5 1767.7,1228.5 1768.1,1225.5 1768.4,1222.5 1768.7,1219.5 1769,1216.5 1769.3,1213.5 1769.6,1210.5 1769.9,1207.5 1770.2,1204.5 1770.5,1201.5 1770.8,1198.5 1771.1,1195.5 1771.4,1192.5 1771.7,1189.5 1772,1186.5 1772.3,1183.5 1772.6,1180.5 1772.9,1177.4 1773.2,1174.4 1773.5,1171.4 1773.8,1168.4 1774.1,1165.4 1774.4,1162.4 1774.8,1159.4 1775.3,1156.5 1775.7,1153.5 1776.2,1150.5 1776.7,1147.5 1777.2,1144.5 1777.6,1141.6 1778.1,1138.6 1778.6,1135.6" stroke="#62c462"/>
<polyline points="1852.6,1135.4 1852.8,1138.4 1852.9,1141.4 1853.1,1144.4 1853.3,1147.4 1853.5,1150.4 1853.7,1153.4 1853.8,1156.5 1854,1159.5 1854.2,1162.5 1854.4,1165.5 1854.6,1168.5 1854.7,1171.5 1854.9,1174.5 1855.1,1177.5 1855.3,1180.5 1855.5,1183.5 1855.7,1186.5 1855.8,1189.5 1856,1192.5 1856.2,1195.5 1856.4,1198.5 1856.6,1201.5 1856.7,1204.5 1857,1207.5 1857.2,1210.5 1857.5,1213.5 1857.7,1216.5 1857.9,1219.5 1858.2,1222.5 1858.4,1225.5 1858.7,1228.5 1858.9,1231.5 1859.1,1234.5 1859.4,1237.5 1859.6,1240.5 1859.9,1243.5 1860.1,1246.5 1860.3,1249.5 1860.6,1252.5 1860.8,1255.5 1861.1,1258.5 1861.3,1261.5 1861.5,1264.5 1861.8,1267.5 1862,1270.5 1862.3,1273.5 1862.5,1276.5 1862.7,1279.5 1863,1282.5 1863.2,1285.5 1863.4,1288.5 1863.7,1291.5 1863.9,1294.5 1864.2,1297.5 1864.4,1300.5 1864.6,1303.5 1864.9,1306.5 1865.1,1309.5 1865.4,1312.5 1865.7,1315.5 1866.1,1318.5 1866.4,1321.4 1866.8,1324.4 1867.1,1327.4 1867.5,1330.4 1867.8,1333.4 1868.2,1336.4 1868.5,1339.4 1868.9,1342.4 1869.2,1345.3 1869.6,1348.3 1870,1351.3 1870.4,1354.3 1870.9,1357.3 1871.4,1360.2 1871.8,1363.2 1872.3,1366.2 1872.7,1369.2 1873.2,1372.1 1873.6,1375.1 1874.1,1378.1 1874.5,1381.1 1875.1,1384 1875.9,1386.9 1876.9,1389.7 1877.8,1392.6 1878.8,1395.5 1879.7,1398.3 1880.7,1401.2 1881.6,1404 1882.6,1406.9 1883.6,1409.7 1885.6,1413.7 1887.1,1416.3 1888.6,1419 1890,1421.6 1891.5,1424.2 1893,1426.8 1895.6,1430.5 1897.8,1432.4 1900.1,1434.4 1902.4,1436.4 1904.7,1438.3 1907,1440.3 1910.6,1443 1913.2,1444.3 1915.9,1445.7 1918.6,1447 1921.3,1448.4 1924,1449.7 1928.1,1451.4 1931.1,1452 1934,1452.6 1937,1453.2 1939.9,1453.8 1942.9,1454.4 1945.8,1455 1948.8,1455.5 1951.8,1455.8 1954.8,1456.1 1957.8,1456.4 1960.7,1456.7 1963.7,1457 1966.7,1457.3 1969.7,1457.6 1972.7,1457.9 1975.7,1458.2 1978.7,1458.5 1981.7,1458.8 1984.7,1459 1987.7,1459.2 1990.7,1459.4 1993.7,1459.6 1996.7,1459.8 1999.7,1460 2002.7,1460.2 2005.7,1460.4 2008.7,1460.6 2011.7,1460.8 2014.7,1461 2017.7,1461.1 2020.7,1461.2 2023.8,1461.3 2026.8,1461.4 2029.8,1461.5 2032.8,1461.6 2035.8,1461.7 2038.8,1461.8 2041.8,1461.9 2044.8,1462 2047.8,1462.1 2050.8,1462.2 2053.8,1462.3 2056.8,1462.4 2059.8,1462.5 2062.8,1462.6 2065.8,1462.7 2068.9,1462.8 2071.9,1462.9 2074.9,1463 2077.9,1463.1 2080.9,1463.1 2083.9,1463.1 2086.9,1463.1 2089.9,1463.1 2092.9,1463.1 2095.9,1463.1 2098.9,1463.1 2101.9,1463.1 2105,1463.1 2108,1463.1 2111,1463.1 2114,1463.1 2117,1463.1" stroke="#62c462"/>
</g>
<path d="M103.0,302.3h17 M103.0,251.1h17 M103.0,199.9h17 M103.0,148.7h17 M103.0,97.5h17 M103.0,46.3h17 M176.0,350.0v-9 M254.4,350.0v-9 M332.8,350.0v-9 M411.2,350.0v-9 M489.5,350.0v-9" stroke="#111" stroke-width="1.6" fill="none"/>
<rect x="103.0" y="0.0" width="450.0" height="350.0" fill="none" stroke="#333" stroke-width="2"/>
<path d="M553.0,302.3h14 M553.0,251.1h14 M553.0,199.9h14 M553.0,148.7h14 M553.0,97.5h14 M553.0,46.3h14 M628.1,350.0v-9 M708.6,350.0v-9 M789.2,350.0v-9 M869.7,350.0v-9 M950.3,350.0v-9" stroke="#111" stroke-width="1.6" fill="none"/>
<rect x="553.0" y="0.0" width="462.5" height="350.0" fill="none" stroke="#333" stroke-width="2"/>
<path d="M103.0,643.6h13.6 M103.0,593.8h13.6 M103.0,543.9h13.6 M103.0,494.1h13.6 M103.0,444.2h13.6 M103.0,394.3h13.6 M176.0,690.0v-9 M254.4,690.0v-9 M332.8,690.0v-9 M411.2,690.0v-9 M489.5,690.0v-9" stroke="#111" stroke-width="1.6" fill="none"/>
<rect x="103.0" y="350.0" width="450.0" height="340.0" fill="none" stroke="#333" stroke-width="2"/>
<path d="M553.0,643.6h11.3 M553.0,593.8h11.3 M553.0,543.9h11.3 M553.0,494.1h11.3 M553.0,444.2h11.3 M553.0,394.3h11.3 M628.1,690.0v-9 M708.6,690.0v-9 M789.2,690.0v-9 M869.7,690.0v-9 M950.3,690.0v-9" stroke="#111" stroke-width="1.6" fill="none"/>
<rect x="553.0" y="350.0" width="462.5" height="340.0" fill="none" stroke="#333" stroke-width="2"/>
<path d="M1188.5,279.5h16.4 M1188.5,209.0h16.4 M1188.5,138.5h16.4 M1188.5,68.0h16.4 M1277.0,350.0v-9 M1371.1,350.0v-9 M1465.3,350.0v-9 M1559.4,350.0v-9" stroke="#111" stroke-width="1.6" fill="none"/>
<rect x="1188.5" y="0.0" width="450.0" height="350.0" fill="none" stroke="#333" stroke-width="2"/>
<path d="M1638.5,279.5h13.2 M1638.5,209.0h13.2 M1638.5,138.5h13.2 M1638.5,68.0h13.2 M1729.4,350.0v-9 M1826.0,350.0v-9 M1922.7,350.0v-9 M2019.3,350.0v-9" stroke="#111" stroke-width="1.6" fill="none"/>
<rect x="1638.5" y="0.0" width="462.0" height="350.0" fill="none" stroke="#333" stroke-width="2"/>
<path d="M1188.5,621.7h13.1 M1188.5,553.1h13.1 M1188.5,484.5h13.1 M1188.5,415.9h13.1 M1277.0,690.0v-9 M1371.1,690.0v-9 M1465.3,690.0v-9 M1559.4,690.0v-9" stroke="#111" stroke-width="1.6" fill="none"/>
<rect x="1188.5" y="350.0" width="450.0" height="340.0" fill="none" stroke="#333" stroke-width="2"/>
<path d="M1638.5,621.7h10.6 M1638.5,553.1h10.6 M1638.5,484.5h10.6 M1638.5,415.9h10.6 M1729.4,690.0v-9 M1826.0,690.0v-9 M1922.7,690.0v-9 M2019.3,690.0v-9" stroke="#111" stroke-width="1.6" fill="none"/>
<rect x="1638.5" y="350.0" width="462.0" height="340.0" fill="none" stroke="#333" stroke-width="2"/>
<path d="M103.0,1103.0h17 M103.0,1051.8h17 M103.0,1000.6h17 M103.0,949.4h17 M103.0,898.2h17 M103.0,847.0h17 M176.0,1150.4v-9 M254.4,1150.4v-9 M332.8,1150.4v-9 M411.2,1150.4v-9 M489.5,1150.4v-9" stroke="#111" stroke-width="1.6" fill="none"/>
<rect x="103.0" y="800.7" width="450.0" height="349.70000000000005" fill="none" stroke="#333" stroke-width="2"/>
<path d="M553.0,1103.0h14 M553.0,1051.8h14 M553.0,1000.6h14 M553.0,949.4h14 M553.0,898.2h14 M553.0,847.0h14 M628.1,1150.4v-9 M708.6,1150.4v-9 M789.2,1150.4v-9 M869.7,1150.4v-9 M950.3,1150.4v-9" stroke="#111" stroke-width="1.6" fill="none"/>
<rect x="553.0" y="800.7" width="462.5" height="349.70000000000005" fill="none" stroke="#333" stroke-width="2"/>
<path d="M103.0,1444.0h13.6 M103.0,1394.2h13.6 M103.0,1344.3h13.6 M103.0,1294.5h13.6 M103.0,1244.6h13.6 M103.0,1194.7h13.6 M176.0,1490.4v-9 M254.4,1490.4v-9 M332.8,1490.4v-9 M411.2,1490.4v-9 M489.5,1490.4v-9" stroke="#111" stroke-width="1.6" fill="none"/>
<rect x="103.0" y="1150.4" width="450.0" height="340.0" fill="none" stroke="#333" stroke-width="2"/>
<path d="M553.0,1444.0h11.3 M553.0,1394.2h11.3 M553.0,1344.3h11.3 M553.0,1294.5h11.3 M553.0,1244.6h11.3 M553.0,1194.7h11.3 M628.1,1490.4v-9 M708.6,1490.4v-9 M789.2,1490.4v-9 M869.7,1490.4v-9 M950.3,1490.4v-9" stroke="#111" stroke-width="1.6" fill="none"/>
<rect x="553.0" y="1150.4" width="462.5" height="340.0" fill="none" stroke="#333" stroke-width="2"/>
<path d="M1188.5,1080.2h16.4 M1188.5,1009.7h16.4 M1188.5,939.2h16.4 M1188.5,868.7h16.4 M1277.0,1150.4v-9 M1371.1,1150.4v-9 M1465.3,1150.4v-9 M1559.4,1150.4v-9" stroke="#111" stroke-width="1.6" fill="none"/>
<rect x="1188.5" y="800.7" width="450.0" height="349.70000000000005" fill="none" stroke="#333" stroke-width="2"/>
<path d="M1638.5,1080.2h13.2 M1638.5,1009.7h13.2 M1638.5,939.2h13.2 M1638.5,868.7h13.2 M1729.4,1150.4v-9 M1826.0,1150.4v-9 M1922.7,1150.4v-9 M2019.3,1150.4v-9" stroke="#111" stroke-width="1.6" fill="none"/>
<rect x="1638.5" y="800.7" width="462.0" height="349.70000000000005" fill="none" stroke="#333" stroke-width="2"/>
<path d="M1188.5,1422.1h13.1 M1188.5,1353.5h13.1 M1188.5,1284.9h13.1 M1188.5,1216.3h13.1 M1277.0,1490.4v-9 M1371.1,1490.4v-9 M1465.3,1490.4v-9 M1559.4,1490.4v-9" stroke="#111" stroke-width="1.6" fill="none"/>
<rect x="1188.5" y="1150.4" width="450.0" height="340.0" fill="none" stroke="#333" stroke-width="2"/>
<path d="M1638.5,1422.1h10.6 M1638.5,1353.5h10.6 M1638.5,1284.9h10.6 M1638.5,1216.3h10.6 M1729.4,1490.4v-9 M1826.0,1490.4v-9 M1922.7,1490.4v-9 M2019.3,1490.4v-9" stroke="#111" stroke-width="1.6" fill="none"/>
<rect x="1638.5" y="1150.4" width="462.0" height="340.0" fill="none" stroke="#333" stroke-width="2"/>
<g font-family='"Liberation Sans", Arial, Helvetica, sans-serif'>
<text x="101.2" y="314.8" font-size="32.5" text-anchor="end">0.2</text>
<text x="101.2" y="263.6" font-size="32.5" text-anchor="end">0.4</text>
<text x="101.2" y="212.4" font-size="32.5" text-anchor="end">0.6</text>
<text x="101.2" y="161.2" font-size="32.5" text-anchor="end">0.8</text>
<text x="101.2" y="110.0" font-size="32.5" text-anchor="end">1</text>
<text x="101.2" y="58.8" font-size="32.5" text-anchor="end">1.2</text>
<text x="101.2" y="656.1" font-size="32.5" text-anchor="end">0.2</text>
<text x="101.2" y="606.3" font-size="32.5" text-anchor="end">0.4</text>
<text x="101.2" y="556.4" font-size="32.5" text-anchor="end">0.6</text>
<text x="101.2" y="506.6" font-size="32.5" text-anchor="end">0.8</text>
<text x="101.2" y="456.7" font-size="32.5" text-anchor="end">1</text>
<text x="101.2" y="406.8" font-size="32.5" text-anchor="end">1.2</text>
<text x="1186.7" y="292.0" font-size="32.5" text-anchor="end">2</text>
<text x="1186.7" y="221.5" font-size="32.5" text-anchor="end">4</text>
<text x="1186.7" y="151.0" font-size="32.5" text-anchor="end">6</text>
<text x="1186.7" y="80.5" font-size="32.5" text-anchor="end">8</text>
<text x="1186.7" y="634.2" font-size="32.5" text-anchor="end">2</text>
<text x="1186.7" y="565.6" font-size="32.5" text-anchor="end">4</text>
<text x="1186.7" y="497.0" font-size="32.5" text-anchor="end">6</text>
<text x="1186.7" y="428.4" font-size="32.5" text-anchor="end">8</text>
<text x="101.2" y="1115.5" font-size="32.5" text-anchor="end">0.2</text>
<text x="101.2" y="1064.3" font-size="32.5" text-anchor="end">0.4</text>
<text x="101.2" y="1013.1" font-size="32.5" text-anchor="end">0.6</text>
<text x="101.2" y="961.9" font-size="32.5" text-anchor="end">0.8</text>
<text x="101.2" y="910.7" font-size="32.5" text-anchor="end">1</text>
<text x="101.2" y="859.5" font-size="32.5" text-anchor="end">1.2</text>
<text x="101.2" y="1456.5" font-size="32.5" text-anchor="end">0.2</text>
<text x="101.2" y="1406.7" font-size="32.5" text-anchor="end">0.4</text>
<text x="101.2" y="1356.8" font-size="32.5" text-anchor="end">0.6</text>
<text x="101.2" y="1307.0" font-size="32.5" text-anchor="end">0.8</text>
<text x="101.2" y="1257.1" font-size="32.5" text-anchor="end">1</text>
<text x="101.2" y="1207.2" font-size="32.5" text-anchor="end">1.2</text>
<text x="1186.7" y="1092.7" font-size="32.5" text-anchor="end">2</text>
<text x="1186.7" y="1022.2" font-size="32.5" text-anchor="end">4</text>
<text x="1186.7" y="951.7" font-size="32.5" text-anchor="end">6</text>
<text x="1186.7" y="881.2" font-size="32.5" text-anchor="end">8</text>
<text x="1186.7" y="1434.6" font-size="32.5" text-anchor="end">2</text>
<text x="1186.7" y="1366.0" font-size="32.5" text-anchor="end">4</text>
<text x="1186.7" y="1297.4" font-size="32.5" text-anchor="end">6</text>
<text x="1186.7" y="1228.8" font-size="32.5" text-anchor="end">8</text>
<text x="175.7" y="721.8" font-size="34.5" text-anchor="middle">1</text>
<text x="254.1" y="721.8" font-size="34.5" text-anchor="middle">2</text>
<text x="332.5" y="721.8" font-size="34.5" text-anchor="middle">3</text>
<text x="410.9" y="721.8" font-size="34.5" text-anchor="middle">4</text>
<text x="489.2" y="721.8" font-size="34.5" text-anchor="middle">5</text>
<text x="328.2" y="761.0" font-size="35" text-anchor="middle">r [fm]</text>
<text x="627.8" y="721.8" font-size="34.5" text-anchor="middle">1</text>
<text x="708.3" y="721.8" font-size="34.5" text-anchor="middle">2</text>
<text x="788.9" y="721.8" font-size="34.5" text-anchor="middle">3</text>
<text x="869.4" y="721.8" font-size="34.5" text-anchor="middle">4</text>
<text x="950.0" y="721.8" font-size="34.5" text-anchor="middle">5</text>
<text x="784.5" y="761.0" font-size="35" text-anchor="middle">r [fm]</text>
<text x="1276.7" y="721.8" font-size="34.5" text-anchor="middle">1</text>
<text x="1370.8" y="721.8" font-size="34.5" text-anchor="middle">2</text>
<text x="1465.0" y="721.8" font-size="34.5" text-anchor="middle">3</text>
<text x="1559.1" y="721.8" font-size="34.5" text-anchor="middle">4</text>
<text x="1418.2" y="762.5" font-size="35" text-anchor="middle">q [fm<tspan dy="-14" font-size="23">-1</tspan><tspan dy="14" dx="-5.5">]</tspan></text>
<text x="1729.1" y="721.8" font-size="34.5" text-anchor="middle">1</text>
<text x="1825.7" y="721.8" font-size="34.5" text-anchor="middle">2</text>
<text x="1922.4" y="721.8" font-size="34.5" text-anchor="middle">3</text>
<text x="2019.0" y="721.8" font-size="34.5" text-anchor="middle">4</text>
<text x="1874.2" y="762.5" font-size="35" text-anchor="middle">q [fm<tspan dy="-14" font-size="23">-1</tspan><tspan dy="14" dx="-5.5">]</tspan></text>
<text x="175.7" y="1522.2" font-size="34.5" text-anchor="middle">1</text>
<text x="254.1" y="1522.2" font-size="34.5" text-anchor="middle">2</text>
<text x="332.5" y="1522.2" font-size="34.5" text-anchor="middle">3</text>
<text x="410.9" y="1522.2" font-size="34.5" text-anchor="middle">4</text>
<text x="489.2" y="1522.2" font-size="34.5" text-anchor="middle">5</text>
<text x="328.2" y="1561.4" font-size="35" text-anchor="middle">r [fm]</text>
<text x="627.8" y="1522.2" font-size="34.5" text-anchor="middle">1</text>
<text x="708.3" y="1522.2" font-size="34.5" text-anchor="middle">2</text>
<text x="788.9" y="1522.2" font-size="34.5" text-anchor="middle">3</text>
<text x="869.4" y="1522.2" font-size="34.5" text-anchor="middle">4</text>
<text x="950.0" y="1522.2" font-size="34.5" text-anchor="middle">5</text>
<text x="784.5" y="1561.4" font-size="35" text-anchor="middle">r [fm]</text>
<text x="1276.7" y="1522.2" font-size="34.5" text-anchor="middle">1</text>
<text x="1370.8" y="1522.2" font-size="34.5" text-anchor="middle">2</text>
<text x="1465.0" y="1522.2" font-size="34.5" text-anchor="middle">3</text>
<text x="1559.1" y="1522.2" font-size="34.5" text-anchor="middle">4</text>
<text x="1418.2" y="1562.9" font-size="35" text-anchor="middle">q [fm<tspan dy="-14" font-size="23">-1</tspan><tspan dy="14" dx="-5.5">]</tspan></text>
<text x="1729.1" y="1522.2" font-size="34.5" text-anchor="middle">1</text>
<text x="1825.7" y="1522.2" font-size="34.5" text-anchor="middle">2</text>
<text x="1922.4" y="1522.2" font-size="34.5" text-anchor="middle">3</text>
<text x="2019.0" y="1522.2" font-size="34.5" text-anchor="middle">4</text>
<text x="1874.2" y="1562.9" font-size="35" text-anchor="middle">q [fm<tspan dy="-14" font-size="23">-1</tspan><tspan dy="14" dx="-5.5">]</tspan></text>
<text transform="translate(25.5,170.0) rotate(-90)" font-size="31" text-anchor="middle">ρ<tspan dy="-9.5" font-size="21.5">A</tspan><tspan dy="24.5" dx="-14.3" font-size="21.5">pp</tspan><tspan dy="-15" dx="-1">(r)</tspan></text>
<text transform="translate(25.5,515.0) rotate(-90)" font-size="31" text-anchor="middle">ρ<tspan dy="-9.5" font-size="21.5">A</tspan><tspan dy="24.5" dx="-14.3" font-size="21.5">pp</tspan><tspan dy="-15" dx="-1">(r)</tspan></text>
<text transform="translate(1116.0,175.0) rotate(-90)" font-size="31.5" text-anchor="middle">n<tspan dy="-13" font-size="21">A</tspan><tspan dy="19.5" dx="-14" font-size="21">pp</tspan><tspan dy="-6.5">(q) / |φ</tspan><tspan font-size="22" dx="-17" dy="-16">~</tspan><tspan font-size="21" dx="4" dy="3">s=0</tspan><tspan dy="19.5" dx="-34.4" font-size="21">pp</tspan><tspan dy="-6.5" dx="9">(q)|</tspan><tspan dy="-13" font-size="21">2</tspan></text>
<text transform="translate(1116.0,520.0) rotate(-90)" font-size="31.5" text-anchor="middle">n<tspan dy="-13" font-size="21">A</tspan><tspan dy="19.5" dx="-14" font-size="21">pp</tspan><tspan dy="-6.5">(q) / |φ</tspan><tspan font-size="22" dx="-17" dy="-16">~</tspan><tspan font-size="21" dx="4" dy="3">s=0</tspan><tspan dy="19.5" dx="-34.4" font-size="21">pp</tspan><tspan dy="-6.5" dx="9">(q)|</tspan><tspan dy="-13" font-size="21">2</tspan></text>
<text transform="translate(25.5,970.6) rotate(-90)" font-size="31" text-anchor="middle">ρ<tspan dy="-9.5" font-size="21.5">A</tspan><tspan dy="24.5" dx="-14.3" font-size="21.5">nn</tspan><tspan dy="-15" dx="-1">(r)</tspan></text>
<text transform="translate(25.5,1315.4) rotate(-90)" font-size="31" text-anchor="middle">ρ<tspan dy="-9.5" font-size="21.5">A</tspan><tspan dy="24.5" dx="-14.3" font-size="21.5">nn</tspan><tspan dy="-15" dx="-1">(r)</tspan></text>
<text transform="translate(1116.0,975.6) rotate(-90)" font-size="31.5" text-anchor="middle">n<tspan dy="-13" font-size="21">A</tspan><tspan dy="19.5" dx="-14" font-size="21">nn</tspan><tspan dy="-6.5">(q) / |φ</tspan><tspan font-size="22" dx="-17" dy="-16">~</tspan><tspan font-size="21" dx="4" dy="3">s=0</tspan><tspan dy="19.5" dx="-34.4" font-size="21">nn</tspan><tspan dy="-6.5" dx="9">(q)|</tspan><tspan dy="-13" font-size="21">2</tspan></text>
<text transform="translate(1116.0,1320.4) rotate(-90)" font-size="31.5" text-anchor="middle">n<tspan dy="-13" font-size="21">A</tspan><tspan dy="19.5" dx="-14" font-size="21">nn</tspan><tspan dy="-6.5">(q) / |φ</tspan><tspan font-size="22" dx="-17" dy="-16">~</tspan><tspan font-size="21" dx="4" dy="3">s=0</tspan><tspan dy="19.5" dx="-34.4" font-size="21">nn</tspan><tspan dy="-6.5" dx="9">(q)|</tspan><tspan dy="-13" font-size="21">2</tspan></text>
<text x="112.0" y="28.5" font-size="30" font-weight="bold">a</text>
<text x="146.2" y="28.5" font-size="31" font-weight="bold" textLength="132.0" lengthAdjust="spacingAndGlyphs">AV18+UX</text>
<text x="563.2" y="28.5" font-size="30" font-weight="bold">b</text>
<text x="598.0" y="28.5" font-size="31" font-weight="bold" textLength="130.2" lengthAdjust="spacingAndGlyphs">AV4'+UIX</text>
<text x="727.0" y="35.8" font-size="21" font-weight="bold">c</text>
<text x="112.0" y="376.9" font-size="29.5" font-weight="bold">c</text>
<text x="146.6" y="376.9" font-size="29.5" font-weight="bold" textLength="18.0" lengthAdjust="spacingAndGlyphs">N</text>
<text x="164.9" y="362.7" font-size="15.5" font-weight="bold">2</text>
<text x="175.6" y="376.9" font-size="29.5" font-weight="bold" textLength="126.0" lengthAdjust="spacingAndGlyphs">LO(1.0fm)</text>
<text x="563.2" y="376.9" font-size="29.5" font-weight="bold">d</text>
<text x="598.2" y="376.9" font-size="29.5" font-weight="bold" textLength="126.0" lengthAdjust="spacingAndGlyphs">NV2+3-Ia*</text>
<text x="1201.8" y="28.5" font-size="30" font-weight="bold">i</text>
<text x="1493.4" y="28.5" font-size="31" font-weight="bold" textLength="131.5" lengthAdjust="spacingAndGlyphs">AV18+UX</text>
<text x="1652.0" y="28.5" font-size="30" font-weight="bold">j</text>
<text x="1951.6" y="28.5" font-size="31" font-weight="bold" textLength="128.8" lengthAdjust="spacingAndGlyphs">AV4'+UIX</text>
<text x="2080.8" y="35.8" font-size="21" font-weight="bold">c</text>
<text x="1201.8" y="377.7" font-size="29.5" font-weight="bold">k</text>
<text x="1456.1" y="377.7" font-size="29.5" font-weight="bold" textLength="18.0" lengthAdjust="spacingAndGlyphs">N</text>
<text x="1474.3" y="364.1" font-size="15.5" font-weight="bold">2</text>
<text x="1485.0" y="377.7" font-size="29.5" font-weight="bold" textLength="126.5" lengthAdjust="spacingAndGlyphs">LO(1.0fm)</text>
<text x="1652.0" y="377.7" font-size="29.5" font-weight="bold">l</text>
<text x="1967.2" y="377.7" font-size="29.5" font-weight="bold" textLength="126.0" lengthAdjust="spacingAndGlyphs">NV2+3-Ia*</text>
<text x="112.0" y="829.2" font-size="30" font-weight="bold">e</text>
<text x="146.2" y="829.2" font-size="31" font-weight="bold" textLength="132.0" lengthAdjust="spacingAndGlyphs">AV18+UX</text>
<text x="563.2" y="829.2" font-size="30" font-weight="bold">f</text>
<text x="598.0" y="829.2" font-size="31" font-weight="bold" textLength="130.2" lengthAdjust="spacingAndGlyphs">AV4'+UIX</text>
<text x="727.0" y="836.5" font-size="21" font-weight="bold">c</text>
<text x="112.0" y="1177.3" font-size="29.5" font-weight="bold">g</text>
<text x="146.6" y="1177.3" font-size="29.5" font-weight="bold" textLength="18.0" lengthAdjust="spacingAndGlyphs">N</text>
<text x="164.9" y="1163.1" font-size="15.5" font-weight="bold">2</text>
<text x="175.6" y="1177.3" font-size="29.5" font-weight="bold" textLength="126.0" lengthAdjust="spacingAndGlyphs">LO(1.0fm)</text>
<text x="563.2" y="1177.3" font-size="29.5" font-weight="bold">h</text>
<text x="598.2" y="1177.3" font-size="29.5" font-weight="bold" textLength="126.0" lengthAdjust="spacingAndGlyphs">NV2+3-Ia*</text>
<text x="1201.8" y="829.2" font-size="30" font-weight="bold">m</text>
<text x="1493.4" y="829.2" font-size="31" font-weight="bold" textLength="131.5" lengthAdjust="spacingAndGlyphs">AV18+UX</text>
<text x="1652.0" y="829.2" font-size="30" font-weight="bold">n</text>
<text x="1951.6" y="829.2" font-size="31" font-weight="bold" textLength="128.8" lengthAdjust="spacingAndGlyphs">AV4'+UIX</text>
<text x="2080.8" y="836.5" font-size="21" font-weight="bold">c</text>
<text x="1201.8" y="1178.1" font-size="29.5" font-weight="bold">o</text>
<text x="1456.1" y="1178.1" font-size="29.5" font-weight="bold" textLength="18.0" lengthAdjust="spacingAndGlyphs">N</text>
<text x="1474.3" y="1164.5" font-size="15.5" font-weight="bold">2</text>
<text x="1485.0" y="1178.1" font-size="29.5" font-weight="bold" textLength="126.5" lengthAdjust="spacingAndGlyphs">LO(1.0fm)</text>
<text x="1652.0" y="1178.1" font-size="29.5" font-weight="bold">p</text>
<text x="1967.2" y="1178.1" font-size="29.5" font-weight="bold" textLength="126.0" lengthAdjust="spacingAndGlyphs">NV2+3-Ia*</text>
<line x1="763.8" y1="1180.1" x2="778.5" y2="1180.1" stroke="#000000" stroke-width="2.5"/>
<text x="781.8" y="1191.3" font-size="26.5">NN</text>
<line x1="842.5" y1="1180.1" x2="852.0" y2="1180.1" stroke="#000000" stroke-width="2.5"/>
<text x="859.5" y="1191.3" font-size="26.5"><tspan font-size="18" dy="-11">3</tspan><tspan dy="11">H</tspan></text>
<line x1="921.4" y1="1180.1" x2="936.1" y2="1180.1" stroke="#1f6fd8" stroke-width="2.5"/>
<text x="938.4" y="1191.3" font-size="26.5"><tspan font-size="18" dy="-11">3</tspan><tspan dy="11">He</tspan></text>
<line x1="763.8" y1="1231.9" x2="778.5" y2="1231.9" stroke="#62c462" stroke-width="2.5"/>
<text x="780.8" y="1243.1" font-size="26.5"><tspan font-size="18" dy="-11">4</tspan><tspan dy="11">He</tspan></text>
<line x1="842.5" y1="1231.9" x2="857.2" y2="1231.9" stroke="#e01418" stroke-width="2.5"/>
<text x="859.5" y="1243.1" font-size="26.5"><tspan font-size="18" dy="-11">6</tspan><tspan dy="11">Li</tspan></text>
<line x1="921.4" y1="1231.9" x2="930.9" y2="1231.9" stroke="#e01418" stroke-width="2.5"/>
<text x="938.4" y="1243.1" font-size="26.5"><tspan font-size="18" dy="-11">7</tspan><tspan dy="11">Li</tspan></text>
<line x1="763.8" y1="1283.0" x2="778.5" y2="1283.0" stroke="#e11fe0" stroke-width="2.5"/>
<text x="780.8" y="1294.2" font-size="26.5"><tspan font-size="18" dy="-11">8</tspan><tspan dy="11">Be</tspan></text>
<line x1="842.5" y1="1283.0" x2="852.0" y2="1283.0" stroke="#e11fe0" stroke-width="2.5"/>
<text x="859.5" y="1294.2" font-size="26.5"><tspan font-size="18" dy="-11">9</tspan><tspan dy="11">Be</tspan></text>
<line x1="921.4" y1="1283.0" x2="936.1" y2="1283.0" stroke="#30dcdc" stroke-width="2.5"/>
<text x="938.4" y="1294.2" font-size="26.5"><tspan font-size="18" dy="-11">10</tspan><tspan dy="11">B</tspan></text>
<line x1="763.8" y1="1334.6" x2="778.5" y2="1334.6" stroke="#a8c0c0" stroke-width="2.5"/>
<text x="780.8" y="1345.8" font-size="26.5"><tspan font-size="18" dy="-11">12</tspan><tspan dy="11">C</tspan></text>
<line x1="842.5" y1="1334.6" x2="857.2" y2="1334.6" stroke="#f0b41e" stroke-width="2.5"/>
<text x="859.5" y="1345.8" font-size="26.5"><tspan font-size="18" dy="-11">16</tspan><tspan dy="11">O</tspan></text>
<line x1="921.4" y1="1334.6" x2="936.1" y2="1334.6" stroke="#6a18dc" stroke-width="2.5"/>
<text x="938.4" y="1345.8" font-size="26.5"><tspan font-size="18" dy="-11">40</tspan><tspan dy="11">Ca</tspan></text>
</g>
</svg>
</body></html>
